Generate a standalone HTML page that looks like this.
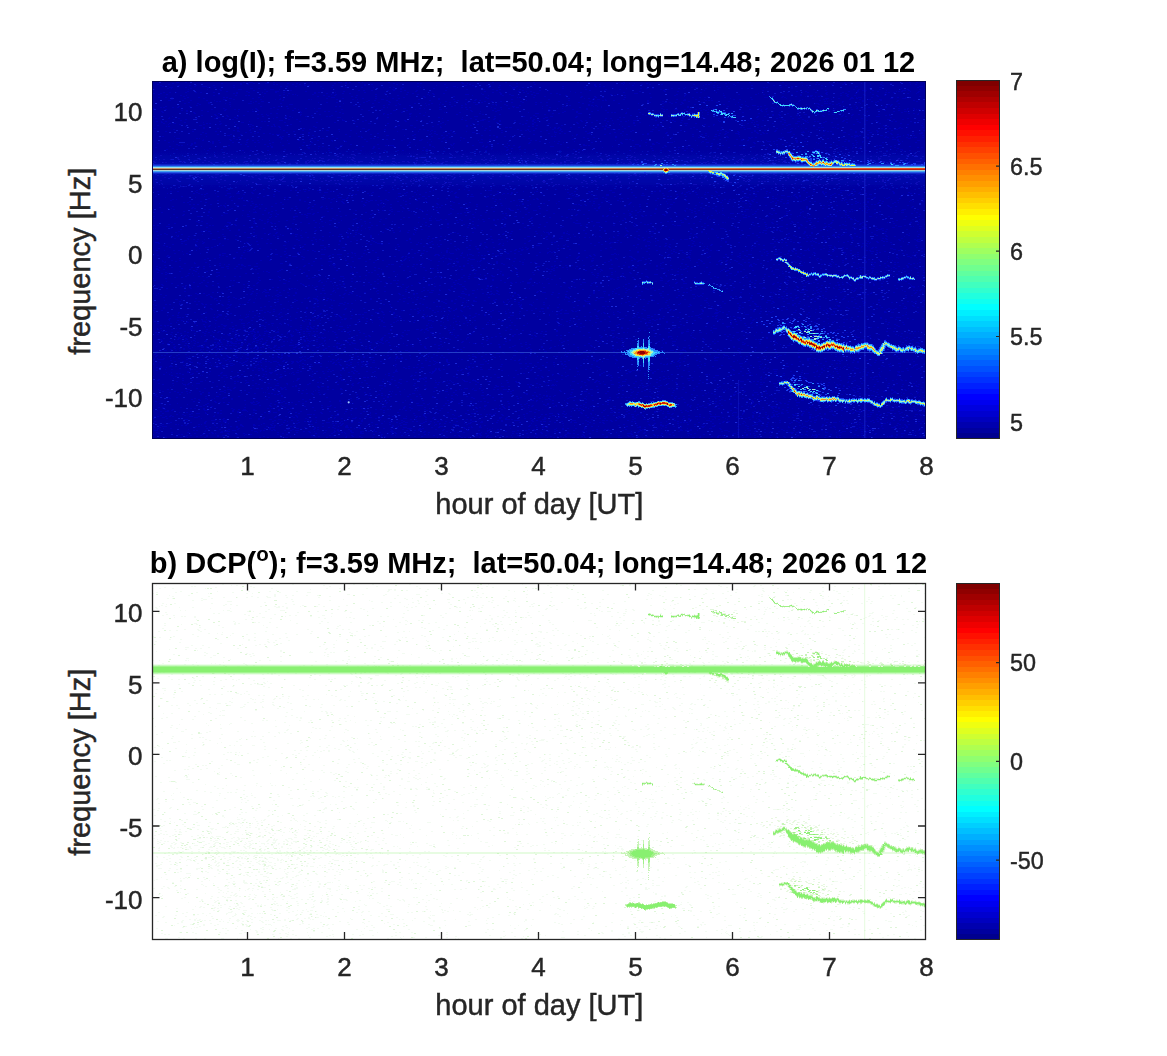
<!DOCTYPE html>
<html><head><meta charset="utf-8"><style>
html,body{margin:0;padding:0;background:#fff;width:1167px;height:1056px;overflow:hidden}
svg{position:absolute;left:0;top:0}
text{font-family:"Liberation Sans",sans-serif;fill:#262626}
.t{font-weight:bold;fill:#000;font-size:29px}
.tk{font-size:26px;stroke:#262626;stroke-width:0.45px}
.lb{font-size:29px;stroke:#262626;stroke-width:0.45px}
.cb{font-size:23.4px;stroke:#262626;stroke-width:0.4px}
</style></head><body>
<svg width="1167" height="1056" viewBox="0 0 1167 1056">
<defs>
<linearGradient id="jetg" x1="0" y1="1" x2="0" y2="0">
<stop offset="0.00000" stop-color="#00008f"/><stop offset="0.01562" stop-color="#00008f"/>
<stop offset="0.01562" stop-color="#00009f"/><stop offset="0.03125" stop-color="#00009f"/>
<stop offset="0.03125" stop-color="#0000af"/><stop offset="0.04688" stop-color="#0000af"/>
<stop offset="0.04688" stop-color="#0000bf"/><stop offset="0.06250" stop-color="#0000bf"/>
<stop offset="0.06250" stop-color="#0000cf"/><stop offset="0.07812" stop-color="#0000cf"/>
<stop offset="0.07812" stop-color="#0000df"/><stop offset="0.09375" stop-color="#0000df"/>
<stop offset="0.09375" stop-color="#0000ef"/><stop offset="0.10938" stop-color="#0000ef"/>
<stop offset="0.10938" stop-color="#0000ff"/><stop offset="0.12500" stop-color="#0000ff"/>
<stop offset="0.12500" stop-color="#0010ff"/><stop offset="0.14062" stop-color="#0010ff"/>
<stop offset="0.14062" stop-color="#0020ff"/><stop offset="0.15625" stop-color="#0020ff"/>
<stop offset="0.15625" stop-color="#0030ff"/><stop offset="0.17188" stop-color="#0030ff"/>
<stop offset="0.17188" stop-color="#0040ff"/><stop offset="0.18750" stop-color="#0040ff"/>
<stop offset="0.18750" stop-color="#0050ff"/><stop offset="0.20312" stop-color="#0050ff"/>
<stop offset="0.20312" stop-color="#0060ff"/><stop offset="0.21875" stop-color="#0060ff"/>
<stop offset="0.21875" stop-color="#0070ff"/><stop offset="0.23438" stop-color="#0070ff"/>
<stop offset="0.23438" stop-color="#0080ff"/><stop offset="0.25000" stop-color="#0080ff"/>
<stop offset="0.25000" stop-color="#008fff"/><stop offset="0.26562" stop-color="#008fff"/>
<stop offset="0.26562" stop-color="#009fff"/><stop offset="0.28125" stop-color="#009fff"/>
<stop offset="0.28125" stop-color="#00afff"/><stop offset="0.29688" stop-color="#00afff"/>
<stop offset="0.29688" stop-color="#00bfff"/><stop offset="0.31250" stop-color="#00bfff"/>
<stop offset="0.31250" stop-color="#00cfff"/><stop offset="0.32812" stop-color="#00cfff"/>
<stop offset="0.32812" stop-color="#00dfff"/><stop offset="0.34375" stop-color="#00dfff"/>
<stop offset="0.34375" stop-color="#00efff"/><stop offset="0.35938" stop-color="#00efff"/>
<stop offset="0.35938" stop-color="#00ffff"/><stop offset="0.37500" stop-color="#00ffff"/>
<stop offset="0.37500" stop-color="#10ffef"/><stop offset="0.39062" stop-color="#10ffef"/>
<stop offset="0.39062" stop-color="#20ffdf"/><stop offset="0.40625" stop-color="#20ffdf"/>
<stop offset="0.40625" stop-color="#30ffcf"/><stop offset="0.42188" stop-color="#30ffcf"/>
<stop offset="0.42188" stop-color="#40ffbf"/><stop offset="0.43750" stop-color="#40ffbf"/>
<stop offset="0.43750" stop-color="#50ffaf"/><stop offset="0.45312" stop-color="#50ffaf"/>
<stop offset="0.45312" stop-color="#60ff9f"/><stop offset="0.46875" stop-color="#60ff9f"/>
<stop offset="0.46875" stop-color="#70ff8f"/><stop offset="0.48438" stop-color="#70ff8f"/>
<stop offset="0.48438" stop-color="#80ff80"/><stop offset="0.50000" stop-color="#80ff80"/>
<stop offset="0.50000" stop-color="#8fff70"/><stop offset="0.51562" stop-color="#8fff70"/>
<stop offset="0.51562" stop-color="#9fff60"/><stop offset="0.53125" stop-color="#9fff60"/>
<stop offset="0.53125" stop-color="#afff50"/><stop offset="0.54688" stop-color="#afff50"/>
<stop offset="0.54688" stop-color="#bfff40"/><stop offset="0.56250" stop-color="#bfff40"/>
<stop offset="0.56250" stop-color="#cfff30"/><stop offset="0.57812" stop-color="#cfff30"/>
<stop offset="0.57812" stop-color="#dfff20"/><stop offset="0.59375" stop-color="#dfff20"/>
<stop offset="0.59375" stop-color="#efff10"/><stop offset="0.60938" stop-color="#efff10"/>
<stop offset="0.60938" stop-color="#ffff00"/><stop offset="0.62500" stop-color="#ffff00"/>
<stop offset="0.62500" stop-color="#ffef00"/><stop offset="0.64062" stop-color="#ffef00"/>
<stop offset="0.64062" stop-color="#ffdf00"/><stop offset="0.65625" stop-color="#ffdf00"/>
<stop offset="0.65625" stop-color="#ffcf00"/><stop offset="0.67188" stop-color="#ffcf00"/>
<stop offset="0.67188" stop-color="#ffbf00"/><stop offset="0.68750" stop-color="#ffbf00"/>
<stop offset="0.68750" stop-color="#ffaf00"/><stop offset="0.70312" stop-color="#ffaf00"/>
<stop offset="0.70312" stop-color="#ff9f00"/><stop offset="0.71875" stop-color="#ff9f00"/>
<stop offset="0.71875" stop-color="#ff8f00"/><stop offset="0.73438" stop-color="#ff8f00"/>
<stop offset="0.73438" stop-color="#ff8000"/><stop offset="0.75000" stop-color="#ff8000"/>
<stop offset="0.75000" stop-color="#ff7000"/><stop offset="0.76562" stop-color="#ff7000"/>
<stop offset="0.76562" stop-color="#ff6000"/><stop offset="0.78125" stop-color="#ff6000"/>
<stop offset="0.78125" stop-color="#ff5000"/><stop offset="0.79688" stop-color="#ff5000"/>
<stop offset="0.79688" stop-color="#ff4000"/><stop offset="0.81250" stop-color="#ff4000"/>
<stop offset="0.81250" stop-color="#ff3000"/><stop offset="0.82812" stop-color="#ff3000"/>
<stop offset="0.82812" stop-color="#ff2000"/><stop offset="0.84375" stop-color="#ff2000"/>
<stop offset="0.84375" stop-color="#ff1000"/><stop offset="0.85938" stop-color="#ff1000"/>
<stop offset="0.85938" stop-color="#ff0000"/><stop offset="0.87500" stop-color="#ff0000"/>
<stop offset="0.87500" stop-color="#ef0000"/><stop offset="0.89062" stop-color="#ef0000"/>
<stop offset="0.89062" stop-color="#df0000"/><stop offset="0.90625" stop-color="#df0000"/>
<stop offset="0.90625" stop-color="#cf0000"/><stop offset="0.92188" stop-color="#cf0000"/>
<stop offset="0.92188" stop-color="#bf0000"/><stop offset="0.93750" stop-color="#bf0000"/>
<stop offset="0.93750" stop-color="#af0000"/><stop offset="0.95312" stop-color="#af0000"/>
<stop offset="0.95312" stop-color="#9f0000"/><stop offset="0.96875" stop-color="#9f0000"/>
<stop offset="0.96875" stop-color="#8f0000"/><stop offset="0.98438" stop-color="#8f0000"/>
<stop offset="0.98438" stop-color="#800000"/><stop offset="1.00000" stop-color="#800000"/>
</linearGradient>
<linearGradient id="core1" x1="153" y1="0" x2="925" y2="0" gradientUnits="userSpaceOnUse"><stop offset="0" stop-color="#c89868"/><stop offset="0.55" stop-color="#d09860"/><stop offset="0.75" stop-color="#e07838"/><stop offset="1" stop-color="#f04818"/></linearGradient>
<linearGradient id="core2" x1="153" y1="0" x2="925" y2="0" gradientUnits="userSpaceOnUse"><stop offset="0" stop-color="#603020"/><stop offset="0.55" stop-color="#683020"/><stop offset="0.75" stop-color="#a03018"/><stop offset="1" stop-color="#c02010"/></linearGradient>
<filter id="soft" x="0" y="0" width="1" height="1"><feGaussianBlur stdDeviation="0.6"/></filter>
<filter id="soft2" x="0" y="0" width="1" height="1"><feGaussianBlur stdDeviation="0.7"/></filter>
<linearGradient id="haze" x1="0" y1="0" x2="0" y2="1"><stop offset="0" stop-color="#1030e0" stop-opacity="0"/><stop offset="0.475" stop-color="#1030e0" stop-opacity="0.3"/><stop offset="1" stop-color="#1030e0" stop-opacity="0"/></linearGradient>
<clipPath id="cpt"><rect x="153" y="82" width="772" height="356"/></clipPath>
<clipPath id="cpb"><rect x="153" y="584" width="772" height="355"/></clipPath>
</defs>
<rect x="152" y="81" width="774" height="358" fill="#0000a0"/>
<g clip-path="url(#cpt)">
<g filter="url(#soft2)">
<path d="M176 82.5h3m6 0h2m56 0h2m4 0h4m20 0h2m37 0h1m25 0h4m3 0h2m2 0h2m7 0h2m2 0h1m25 0h2m71 0h2m29 0h2m11 0h2m26 0h2m42 0h2m9 0h2m33 0h2m85 0h2m2 0h2m12 0h1m8 0h2m10 0h2m31 0h2m17 0h2m13 0h2m11 0h1m7 0h1m6 0h2m35 0h2m18 0h1m7 0h2m5 0h2M172 83.5h2m47 0h2m17 0h2m6 0h1m4 0h2m10 0h4m18 0h2m7 0h2m18 0h1m17 0h2m9 0h2m46 0h2m22 0h2m1 0h2m40 0h2m3 0h1m48 0h2m103 0h2m1 0h1m4 0h1m4 0h1m11 0h2m77 0h2m41 0h2m74 0h2m15 0h1m28 0h2M157 84.5h2m9 0h2m70 0h2m5 0h2m24 0h2m1 0h2m14 0h2m5 0h2m3 0h1m59 0h2m5 0h2m23 0h2m46 0h2m23 0h2m7 0h1m55 0h2m58 0h2m3 0h2m22 0h1m17 0h2m6 0h2m10 0h2m30 0h2m10 0h2m1 0h2m23 0h2m80 0h2m1 0h2m11 0h2m9 0h2m26 0h1m9 0h2m28 0h1m4 0h2M160 85.5h2m16 0h2m9 0h2m4 0h2m16 0h2m18 0h2m69 0h2m2 0h2m22 0h2m12 0h1m17 0h2m70 0h1m27 0h3m5 0h2m12 0h2m1 0h2m8 0h2m8 0h2m83 0h2m36 0h2m69 0h1m9 0h2m2 0h1m17 0h1m15 0h2m20 0h2m6 0h1m3 0h2m15 0h1m3 0h2m13 0h2m26 0h1m32 0h2M162 86.5h2m30 0h2m6 0h5m73 0h2m4 0h2m7 0h2m23 0h2m18 0h1m76 0h2m34 0h3m55 0h1m4 0h2m44 0h2m31 0h2m2 0h2m2 0h2m121 0h2m63 0h2m4 0h1m28 0h1m28 0h3m61 0h4M169 87.5h4m12 0h2m20 0h2m1 0h1m3 0h2m17 0h2m96 0h2m12 0h2m14 0h2m10 0h1m9 0h1m5 0h2m2 0h2m7 0h2m16 0h1m2 0h1m22 0h2m9 0h1m17 0h1m12 0h2m8 0h2m12 0h4m6 0h2m8 0h1m51 0h2m99 0h1m5 0h2m2 0h3m15 0h2m2 0h4m42 0h2m1 0h2m12 0h2m9 0h2m15 0h1m46 0h1m23 0h3m35 0h2M167 88.5h2m2 0h1m18 0h2m58 0h3m5 0h2m62 0h2m76 0h2m31 0h2m77 0h3m47 0h2m49 0h1m12 0h1m13 0h2m4 0h2m4 0h2m17 0h2m5 0h2m3 0h2m20 0h2m21 0h2m11 0h2m4 0h2m4 0h1m37 0h2m28 0h2m46 0h1m31 0h1M154 89.5h1m33 0h1m18 0h1m11 0h2m17 0h4m22 0h2m4 0h4m5 0h1m54 0h1m57 0h4m4 0h2m64 0h2m15 0h2m7 0h2m5 0h2m18 0h2m64 0h2m18 0h2m12 0h2m39 0h2m2 0h1m2 0h2m33 0h1m14 0h2m94 0h2m38 0h2m3 0h2m19 0h2m19 0h1m6 0h2m10 0h2m3 0h1M220 90.5h2m31 0h2m30 0h2m3 0h2m66 0h2m3 0h2m6 0h2m14 0h2m4 0h2m9 0h2m10 0h2m27 0h2m49 0h2m24 0h2m15 0h2m7 0h1m40 0h2m13 0h1m58 0h2m39 0h1m10 0h1m46 0h2m54 0h1m6 0h2m30 0h2m3 0h5m5 0h2m12 0h1m15 0h4m2 0h2M187 91.5h2m37 0h2m18 0h2m18 0h2m7 0h4m26 0h2m36 0h2m55 0h2m13 0h2m67 0h2m32 0h2m6 0h1m3 0h2m38 0h1m68 0h2m23 0h2m11 0h2m117 0h2m7 0h2m41 0h2m7 0h2m5 0h2m11 0h2m17 0h1m1 0h2m1 0h2m7 0h1m7 0h2M163 92.5h2m4 0h2m5 0h1m8 0h2m8 0h2m3 0h2m11 0h2m21 0h2m10 0h2m12 0h1m12 0h2m6 0h2m29 0h2m2 0h2m15 0h1m28 0h2m41 0h2m20 0h1m62 0h2m5 0h2m22 0h2m8 0h2m40 0h1m4 0h2m41 0h2m71 0h2m2 0h2m14 0h1m46 0h1m23 0h2m13 0h1m4 0h2m6 0h2m9 0h2m14 0h2m13 0h1m12 0h1m14 0h2m1 0h2m3 0h2m22 0h2M153 93.5h2m5 0h2m71 0h2m1 0h2m26 0h2m22 0h2m24 0h2m10 0h2m4 0h2m8 0h2m5 0h2m33 0h2m26 0h2m18 0h2m9 0h2m36 0h1m18 0h2m25 0h2m7 0h3m11 0h2m4 0h2m76 0h4m11 0h2m72 0h1m34 0h1m23 0h2m41 0h2m13 0h2m3 0h2m8 0h2m50 0h2m7 0h1M158 94.5h2m6 0h2m50 0h2m63 0h2m7 0h2m1 0h1m16 0h2m17 0h1m3 0h2m38 0h2m29 0h2m9 0h2m8 0h2m4 0h2m30 0h4m13 0h2m16 0h2m7 0h2m8 0h1m11 0h2m26 0h2m49 0h2m6 0h1m57 0h2m7 0h2m51 0h2m15 0h2m6 0h2m3 0h2m21 0h2m7 0h2m24 0h2m19 0h2m14 0h2m7 0h2m10 0h1m1 0h1M180 95.5h2m4 0h1m26 0h2m20 0h2m8 0h2m1 0h2m29 0h2m6 0h1m9 0h1m25 0h2m9 0h2m20 0h2m39 0h2m30 0h1m42 0h1m15 0h1m13 0h2m7 0h3m20 0h2m29 0h2m47 0h2m8 0h2m48 0h2m8 0h2m37 0h2m49 0h2m24 0h2m5 0h2m1 0h3m7 0h2m18 0h2m4 0h2m6 0h2m8 0h2m10 0h2m6 0h2M183 96.5h2m78 0h1m53 0h2m9 0h2m21 0h2m22 0h2m10 0h1m35 0h2m28 0h2m89 0h2m35 0h2m11 0h2m88 0h1m22 0h2m62 0h1m10 0h2m11 0h2m8 0h1m4 0h2m3 0h1m2 0h2m27 0h2m28 0h2m40 0h2M158 97.5h2m5 0h2m4 0h2m14 0h2m9 0h2m23 0h2m1 0h2m30 0h2m71 0h4m20 0h2m46 0h2m19 0h2m59 0h2m30 0h1m1 0h2m12 0h2m45 0h2m13 0h2m5 0h2m20 0h2m24 0h2m40 0h2m5 0h2m3 0h2m18 0h2m24 0h2m12 0h4m13 0h2m1 0h2m48 0h1m16 0h2m3 0h1m1 0h4m9 0h2m20 0h1m3 0h2m6 0h2M184 98.5h2m17 0h2m24 0h3m20 0h2m26 0h1m45 0h2m14 0h2m18 0h2m11 0h2m15 0h2m4 0h2m38 0h2m47 0h2m33 0h2m44 0h2m14 0h1m3 0h2m3 0h2m116 0h1m18 0h1m55 0h1m25 0h2m11 0h4m9 0h2m10 0h4m2 0h2m32 0h3m9 0h4M171 99.5h2m50 0h3m7 0h2m25 0h2m13 0h1m3 0h2m2 0h1m24 0h2m1 0h1m24 0h2m14 0h2m3 0h1m23 0h3m34 0h2m18 0h2m13 0h2m10 0h2m8 0h2m34 0h2m35 0h2m42 0h1m1 0h1m2 0h3m5 0h1m17 0h2m51 0h2m6 0h2m9 0h2m7 0h1m28 0h2m4 0h2m10 0h2m16 0h2m31 0h1m20 0h2m1 0h1m4 0h1m17 0h2m8 0h2m7 0h3m8 0h3M168 100.5h3m11 0h2m6 0h2m14 0h2m6 0h1m67 0h2m84 0h2m4 0h2m10 0h2m8 0h2m31 0h2m26 0h2m15 0h2m3 0h2m45 0h1m41 0h2m32 0h2m1 0h2m6 0h2m32 0h2m34 0h3m19 0h2m1 0h2m1 0h2m76 0h2m8 0h2m18 0h2m41 0h2m16 0h2m15 0h2m14 0h2M216 101.5h2m1 0h2m29 0h2m3 0h2m4 0h3m102 0h2m20 0h2m55 0h2m7 0h2m14 0h1m13 0h2m5 0h2m7 0h2m18 0h2m36 0h2m29 0h2m56 0h2m13 0h2m24 0h2m38 0h2m15 0h1m32 0h2m18 0h2m24 0h2m1 0h1m3 0h1m10 0h2m18 0h2m7 0h2m4 0h2m17 0h2m18 0h2M188 102.5h2m18 0h2m19 0h2m22 0h1m64 0h1m7 0h2m8 0h2m25 0h2m13 0h2m9 0h2m49 0h1m8 0h2m16 0h2m4 0h3m5 0h2m28 0h2m9 0h2m11 0h2m3 0h2m4 0h2m30 0h2m12 0h2m53 0h4m13 0h3m2 0h2m4 0h2m4 0h2m18 0h2m13 0h2m20 0h1m33 0h2m68 0h1m15 0h2m15 0h2M184 103.5h2m11 0h2m9 0h2m15 0h1m22 0h4m6 0h2m20 0h2m61 0h1m28 0h2m24 0h1m15 0h2m9 0h1m5 0h2m32 0h1m12 0h2m86 0h2m14 0h2m34 0h2m18 0h1m23 0h2m7 0h2m9 0h2m20 0h2m84 0h2m4 0h2m17 0h4m5 0h4m1 0h2m7 0h2m20 0h1m37 0h2M199 104.5h2m28 0h2m58 0h4m66 0h2m27 0h2m9 0h2m27 0h2m9 0h1m2 0h2m5 0h2m14 0h2m8 0h3m14 0h2m1 0h2m7 0h2m29 0h2m51 0h2m90 0h2m12 0h2m27 0h2m10 0h1m5 0h2m63 0h1m11 0h2m12 0h2m2 0h2m16 0h2m8 0h1m11 0h1m11 0h2m1 0h2M196 105.5h2m155 0h2m28 0h2m10 0h2m12 0h2m15 0h1m27 0h2m5 0h2m33 0h1m9 0h2m11 0h2m25 0h2m21 0h2m17 0h2m1 0h2m2 0h2m118 0h2m28 0h2m5 0h4m8 0h2m55 0h2m16 0h2m8 0h2m31 0h1m7 0h2M165 106.5h2m11 0h2m9 0h2m39 0h1m29 0h2m16 0h2m2 0h1m3 0h2m47 0h2m2 0h2m32 0h2m36 0h2m38 0h2m59 0h3m27 0h1m19 0h2m1 0h2m26 0h1m3 0h1m3 0h1m6 0h2m52 0h2m23 0h2m38 0h2m10 0h2m6 0h2m8 0h2m1 0h2m15 0h1m11 0h2m26 0h2m9 0h2m14 0h1m11 0h1m28 0h2m3 0h1m4 0h2m2 0h1M160 107.5h2m1 0h2m7 0h2m3 0h2m94 0h2m108 0h2m2 0h1m51 0h2m20 0h2m2 0h2m2 0h2m20 0h1m8 0h2m11 0h1m2 0h3m30 0h2m28 0h2m20 0h1m74 0h1m10 0h2m12 0h1m4 0h2m1 0h1m61 0h2m45 0h2m26 0h2m2 0h2m5 0h1m2 0h1m7 0h2m15 0h2M153 108.5h2m68 0h2m30 0h2m13 0h2m15 0h2m5 0h2m9 0h2m7 0h1m3 0h3m82 0h3m13 0h2m3 0h1m21 0h1m47 0h2m12 0h2m32 0h1m14 0h1m4 0h1m23 0h2m39 0h2m15 0h2m15 0h2m36 0h2m11 0h2m44 0h2m6 0h2m5 0h2m13 0h2m1 0h2m9 0h1m31 0h2m8 0h2m10 0h2m6 0h2m14 0h2m16 0h2m7 0h2m4 0h2M153 109.5h1m11 0h2m44 0h2m12 0h2m7 0h2m2 0h2m12 0h1m3 0h2m19 0h2m19 0h1m42 0h2m18 0h2m12 0h2m4 0h2m14 0h1m17 0h1m23 0h3m24 0h2m33 0h1m46 0h2m22 0h2m12 0h2m50 0h2m23 0h2m1 0h2m6 0h4m6 0h2m3 0h2m4 0h2m6 0h2m3 0h1m40 0h2m10 0h1m3 0h2m40 0h2m11 0h1m30 0h2m9 0h2m13 0h3m24 0h2m1 0h1m6 0h1m1 0h1m1 0h2M181 110.5h2m3 0h2m13 0h2m21 0h2m31 0h2m33 0h2m74 0h2m23 0h3m10 0h2m62 0h2m20 0h2m3 0h3m50 0h1m46 0h2m6 0h2m93 0h2m3 0h2m4 0h2m7 0h2m9 0h2m27 0h2m48 0h2m14 0h2m4 0h1m51 0h2m12 0h2m14 0h1M161 111.5h2m23 0h2m19 0h2m29 0h1m8 0h2m3 0h2m45 0h2m15 0h2m6 0h2m2 0h2m5 0h2m65 0h1m68 0h2m7 0h1m14 0h2m51 0h2m14 0h2m10 0h2m13 0h2m70 0h2m55 0h1m8 0h2m30 0h2m3 0h1m6 0h1m23 0h2m68 0h1m25 0h2m9 0h3m2 0h1M162 112.5h2m29 0h2m105 0h2m37 0h2m60 0h2m22 0h1m18 0h1m2 0h1m11 0h2m67 0h1m33 0h2m12 0h2m29 0h2m2 0h2m1 0h2m10 0h1m12 0h2m49 0h3m4 0h2m3 0h1m4 0h2m5 0h2m10 0h1m2 0h1m12 0h2m35 0h2m43 0h2m6 0h1m1 0h1m66 0h2M194 113.5h2m22 0h2m50 0h2m4 0h2m64 0h2m39 0h2m5 0h2m17 0h3m7 0h2m58 0h2m54 0h4m13 0h2m4 0h2m18 0h4m43 0h2m51 0h2m34 0h2m42 0h2m27 0h2m27 0h2m22 0h2m66 0h2m3 0h2m3 0h1M189 114.5h1m24 0h2m41 0h2m2 0h2m3 0h1m33 0h2m17 0h2m62 0h1m3 0h2m20 0h2m45 0h2m24 0h2m15 0h2m43 0h2m44 0h1m51 0h2m16 0h1m1 0h1m14 0h2m28 0h2m9 0h2m47 0h2m3 0h2m4 0h2m17 0h2m5 0h3m10 0h2m9 0h2m2 0h3m3 0h1m4 0h1m8 0h2m4 0h2m3 0h1m14 0h2m9 0h1m27 0h2M201 115.5h2m12 0h2m9 0h2m10 0h1m4 0h2m22 0h2m17 0h1m13 0h1m10 0h2m18 0h2m90 0h2m108 0h2m95 0h2m13 0h2m21 0h1m10 0h2m21 0h1m11 0h2m56 0h2m5 0h2m15 0h2m2 0h1m21 0h2m18 0h2m7 0h2m32 0h2m2 0h2M153 116.5h2m17 0h1m39 0h1m4 0h1m9 0h2m8 0h2m23 0h2m21 0h2m2 0h2m14 0h2m19 0h2m1 0h2m78 0h2m5 0h1m57 0h4m16 0h2m27 0h2m10 0h2m13 0h3m23 0h2m90 0h2m74 0h1m12 0h2m5 0h2m24 0h2m31 0h2m16 0h2m2 0h2m19 0h2m8 0h4m44 0h1M169 117.5h1m46 0h4m14 0h2m40 0h2m6 0h2m6 0h1m44 0h4m11 0h1m25 0h1m8 0h2m49 0h2m22 0h1m67 0h2m13 0h3m27 0h2m12 0h2m28 0h2m2 0h2m25 0h1m31 0h2m17 0h3m37 0h2m13 0h2m21 0h2m19 0h2m49 0h1m38 0h2M155 118.5h2m11 0h2m8 0h2m16 0h2m16 0h2m9 0h2m9 0h2m19 0h2m14 0h1m135 0h1m32 0h1m27 0h2m22 0h2m34 0h1m12 0h2m60 0h2m3 0h2m25 0h1m1 0h2m41 0h2m5 0h2m14 0h1m12 0h2m11 0h2m43 0h2m14 0h2m4 0h2m33 0h2m1 0h2m23 0h2m44 0h2M173 119.5h2m10 0h2m45 0h2m54 0h2m6 0h2m8 0h1m14 0h1m20 0h1m33 0h2m83 0h2m12 0h2m5 0h4m7 0h2m38 0h2m12 0h2m68 0h2m32 0h2m34 0h1m6 0h1m2 0h2m26 0h1m5 0h2m17 0h2m30 0h2m18 0h2m10 0h1m31 0h2m8 0h2m29 0h3m3 0h2m7 0h2M180 120.5h2m97 0h4m59 0h3m9 0h1m10 0h2m37 0h2m10 0h2m4 0h1m24 0h2m16 0h2m13 0h4m15 0h2m13 0h2m10 0h2m4 0h2m3 0h2m41 0h2m3 0h2m9 0h2m6 0h2m6 0h1m15 0h1m4 0h4m18 0h2m5 0h2m6 0h1m1 0h2m7 0h2m35 0h1m23 0h2m4 0h1m3 0h2m8 0h2m20 0h2m18 0h2m1 0h1m35 0h2m21 0h2m7 0h2m41 0h2M156 121.5h2m3 0h1m3 0h2m52 0h2m28 0h1m11 0h2m1 0h2m33 0h2m53 0h2m6 0h2m41 0h2m22 0h1m58 0h2m9 0h2m31 0h2m6 0h1m40 0h2m24 0h2m11 0h2m3 0h2m42 0h2m3 0h2m43 0h2m21 0h2m12 0h2m22 0h2m15 0h3m5 0h2m7 0h2m1 0h2m6 0h2m15 0h2m13 0h2m18 0h2m12 0h2m2 0h2m13 0h2M161 122.5h2m21 0h2m17 0h1m30 0h1m6 0h3m40 0h2m30 0h2m16 0h2m106 0h2m52 0h2m36 0h2m40 0h2m13 0h2m40 0h2m4 0h2m39 0h2m69 0h2m1 0h1m29 0h2m21 0h2m14 0h2m6 0h2m13 0h2m11 0h2M163 123.5h2m4 0h2m2 0h3m30 0h2m1 0h2m9 0h2m146 0h3m16 0h2m39 0h1m11 0h2m30 0h2m45 0h2m4 0h2m5 0h2m14 0h2m5 0h1m21 0h2m6 0h2m19 0h1m6 0h1m19 0h2m49 0h4m7 0h2m44 0h2m4 0h2m23 0h2m21 0h3m6 0h1m16 0h1m57 0h2m19 0h2m12 0h2m6 0h1M168 124.5h1m10 0h2m22 0h2m11 0h1m2 0h2m14 0h2m12 0h3m21 0h2m15 0h2m145 0h2m6 0h1m31 0h2m22 0h1m20 0h2m8 0h2m73 0h1m11 0h1m37 0h2m1 0h2m42 0h2m7 0h2m38 0h2m1 0h3m23 0h2m4 0h3m10 0h1m35 0h2m14 0h2m9 0h2m41 0h2M157 125.5h2m40 0h3m50 0h2m13 0h2m5 0h1m10 0h2m1 0h1m97 0h1m11 0h2m10 0h3m53 0h2m2 0h2m64 0h2m8 0h1m14 0h2m23 0h1m18 0h2m27 0h2m13 0h1m4 0h1m2 0h2m2 0h2m16 0h1m5 0h2m16 0h1m9 0h1m29 0h2m12 0h2m27 0h2m33 0h1m61 0h2m36 0h2M166 126.5h1m1 0h2m15 0h2m62 0h2m20 0h2m1 0h2m2 0h2m33 0h2m41 0h2m74 0h2m6 0h1m25 0h2m14 0h1m6 0h2m37 0h2m2 0h2m68 0h2m1 0h2m15 0h1m5 0h2m78 0h2m51 0h2m35 0h1m14 0h2m69 0h2m1 0h2M203 127.5h2m32 0h2m21 0h2m17 0h2m34 0h2m77 0h2m18 0h2m24 0h2m63 0h3m1 0h3m38 0h1m3 0h2m2 0h2m10 0h2m6 0h2m4 0h1m6 0h2m14 0h3m45 0h2m12 0h2m22 0h2m26 0h2m17 0h2m1 0h2m12 0h2m59 0h2m1 0h3m8 0h2m1 0h1m63 0h2m6 0h1m14 0h2M154 128.5h2m47 0h2m12 0h2m18 0h2m13 0h2m49 0h2m57 0h3m107 0h2m11 0h2m48 0h2m17 0h2m1 0h2m1 0h1m36 0h2m5 0h2m18 0h2m38 0h2m24 0h2m55 0h4m17 0h1m7 0h2m6 0h2m5 0h2m2 0h1m5 0h1m3 0h2m30 0h2m42 0h2m6 0h2m7 0h2m1 0h2M173 129.5h2m17 0h2m56 0h1m8 0h2m19 0h1m19 0h1m8 0h2m27 0h2m28 0h2m14 0h2m16 0h2m15 0h2m2 0h2m51 0h1m40 0h2m8 0h2m23 0h2m6 0h2m32 0h1m9 0h2m5 0h2m2 0h1m2 0h2m32 0h2m42 0h2m31 0h2m13 0h2m22 0h1m13 0h1m7 0h1m25 0h2m32 0h2m32 0h2m8 0h4M233 130.5h2m2 0h2m10 0h2m32 0h2m17 0h2m18 0h1m3 0h3m21 0h2m15 0h2m58 0h2m2 0h2m17 0h2m32 0h2m3 0h2m10 0h2m17 0h2m3 0h2m1 0h1m4 0h2m11 0h2m11 0h2m71 0h2m24 0h2m20 0h2m35 0h2m1 0h2m32 0h2m8 0h2m9 0h2m43 0h1m3 0h2m41 0h3m6 0h2m13 0h2m27 0h1m2 0h2M165 131.5h2m25 0h2m21 0h2m4 0h1m15 0h3m53 0h2m44 0h1m21 0h1m23 0h1m11 0h1m15 0h1m4 0h1m11 0h1m3 0h2m30 0h1m62 0h2m9 0h2m12 0h1m6 0h2m5 0h1m16 0h2m35 0h2m6 0h2m18 0h3m32 0h1m39 0h2m10 0h2m15 0h2m18 0h2m14 0h2m11 0h1m4 0h1m14 0h2m2 0h2m1 0h2m23 0h2m20 0h2m8 0h2M202 132.5h2m41 0h2m3 0h2m5 0h2m27 0h2m20 0h2m133 0h2m7 0h2m18 0h3m26 0h2m51 0h3m32 0h2m23 0h2m50 0h2m59 0h2m9 0h2m11 0h2m3 0h2m4 0h2m23 0h4m10 0h4m38 0h3m9 0h2m6 0h1m5 0h3m5 0h1m43 0h2M179 133.5h1m25 0h2m47 0h2m7 0h2m4 0h2m37 0h2m46 0h1m20 0h2m52 0h1m2 0h2m12 0h2m4 0h2m22 0h2m68 0h2m9 0h2m3 0h2m21 0h4m18 0h2m9 0h2m25 0h2m16 0h2m6 0h1m31 0h2m12 0h2m4 0h2m8 0h4m18 0h2m4 0h2m1 0h2m13 0h1m37 0h1m12 0h2m56 0h2m20 0h2m5 0h4M200 134.5h2m15 0h2m11 0h2m8 0h2m30 0h2m2 0h4m20 0h2m43 0h2m23 0h2m42 0h2m13 0h2m5 0h2m95 0h2m20 0h1m20 0h2m14 0h1m11 0h2m20 0h2m14 0h2m3 0h2m18 0h2m23 0h2m7 0h2m12 0h2m7 0h2m12 0h2m20 0h2m31 0h2m14 0h2m37 0h2m17 0h2m6 0h1m15 0h2m4 0h2m8 0h2M227 135.5h3m4 0h1m74 0h1m2 0h2m72 0h3m15 0h1m7 0h2m27 0h2m3 0h2m33 0h2m6 0h2m2 0h2m20 0h1m56 0h1m3 0h1m45 0h1m76 0h2m4 0h2m11 0h2m103 0h2m29 0h4m1 0h2m19 0h3m20 0h1m4 0h1m4 0h2m7 0h2M162 136.5h2m10 0h1m31 0h1m73 0h1m1 0h2m4 0h2m4 0h2m36 0h2m15 0h2m7 0h2m1 0h1m69 0h2m63 0h2m6 0h2m4 0h1m12 0h2m26 0h2m1 0h2m59 0h2m75 0h2m8 0h2m4 0h1m5 0h3m9 0h2m11 0h1m52 0h2m57 0h2m2 0h4m6 0h2m18 0h2m10 0h4M238 137.5h2m39 0h3m32 0h2m45 0h2m14 0h2m35 0h2m27 0h2m4 0h2m9 0h2m34 0h2m14 0h1m27 0h2m41 0h2m8 0h2m20 0h2m46 0h1m7 0h2m25 0h2m27 0h2m19 0h2m1 0h2m2 0h2m25 0h2m12 0h1m44 0h2m11 0h2m11 0h2m15 0h2m1 0h2m3 0h2m2 0h2m8 0h2m2 0h1m1 0h1m1 0h3m5 0h2M176 138.5h4m16 0h2m1 0h1m33 0h2m46 0h2m37 0h1m1 0h2m12 0h2m32 0h2m1 0h2m63 0h2m2 0h2m19 0h2m63 0h2m57 0h2m10 0h1m71 0h1m77 0h2m27 0h4m23 0h2m14 0h2m4 0h2m2 0h1m4 0h1m30 0h2m39 0h3M203 139.5h1m25 0h2m5 0h2m9 0h2m13 0h1m18 0h1m17 0h1m9 0h2m53 0h2m20 0h2m27 0h1m5 0h2m6 0h2m50 0h2m6 0h2m81 0h2m51 0h3m1 0h2m15 0h2m57 0h2m6 0h2m4 0h2m15 0h2m3 0h2m1 0h1m3 0h1m34 0h2m60 0h2m45 0h4m1 0h2M164 140.5h2m36 0h2m14 0h2m10 0h2m14 0h2m4 0h2m3 0h2m10 0h1m17 0h1m10 0h2m17 0h2m12 0h2m10 0h2m56 0h2m16 0h3m23 0h2m13 0h1m17 0h1m51 0h2m3 0h2m78 0h1m16 0h2m7 0h1m44 0h1m8 0h1m30 0h1m14 0h2m4 0h2m17 0h1m9 0h2m17 0h3m40 0h2m8 0h2m5 0h2m40 0h2m18 0h3M173 141.5h1m38 0h2m97 0h1m20 0h1m12 0h2m19 0h2m63 0h1m9 0h2m65 0h2m29 0h2m13 0h1m3 0h2m14 0h1m26 0h1m72 0h1m27 0h2m55 0h2m6 0h4m2 0h2m21 0h2m6 0h2m2 0h1m11 0h1m23 0h2m2 0h2m12 0h2m34 0h2m2 0h1M168 142.5h2m24 0h2m14 0h1m1 0h2m5 0h2m11 0h2m12 0h2m6 0h2m2 0h2m12 0h2m6 0h1m22 0h2m6 0h2m96 0h2m16 0h1m51 0h4m4 0h2m40 0h2m18 0h1m13 0h1m27 0h2m27 0h2m23 0h2m9 0h2m11 0h4m28 0h1m4 0h3m44 0h2m9 0h1m21 0h2m8 0h2m18 0h1m17 0h1m21 0h2m4 0h1m19 0h2m31 0h2M157 143.5h2m32 0h2m1 0h2m16 0h2m55 0h2m17 0h2m163 0h2m42 0h2m8 0h1m20 0h2m27 0h2m62 0h2m29 0h2m4 0h2m51 0h2m41 0h2m18 0h1m18 0h1m24 0h1m33 0h2m44 0h3M176 144.5h2m9 0h1m3 0h2m47 0h2m3 0h2m17 0h2m43 0h2m39 0h2m25 0h2m29 0h2m19 0h2m19 0h2m1 0h1m35 0h2m69 0h2m21 0h2m50 0h4m13 0h3m62 0h2m51 0h1m5 0h2m4 0h2m22 0h2m22 0h2m24 0h1M178 145.5h2m1 0h2m7 0h2m36 0h2m40 0h1m11 0h2m18 0h2m4 0h2m30 0h3m42 0h2m2 0h5m14 0h1m6 0h1m13 0h2m20 0h2m19 0h2m9 0h1m7 0h2m15 0h2m3 0h2m68 0h4m1 0h2m49 0h2m5 0h1m17 0h2m24 0h1m6 0h1m13 0h2m9 0h2m10 0h2m3 0h5m1 0h2m14 0h2m25 0h1m11 0h2m34 0h2m15 0h2m12 0h1m8 0h2m1 0h3m12 0h2M169 146.5h2m26 0h1m3 0h1m14 0h1m30 0h2m6 0h1m11 0h2m2 0h2m45 0h2m2 0h2m38 0h2m9 0h2m18 0h2m37 0h2m48 0h2m2 0h2m16 0h2m13 0h2m29 0h4m26 0h2m30 0h1m5 0h1m14 0h2m4 0h2m9 0h2m13 0h2m19 0h2m18 0h2m44 0h3m22 0h1m10 0h2m52 0h2m16 0h2m28 0h2m17 0h2M155 147.5h2m66 0h2m46 0h2m26 0h2m6 0h3m25 0h2m2 0h2m32 0h2m48 0h2m9 0h1m9 0h1m8 0h1m31 0h2m19 0h2m10 0h2m47 0h2m33 0h1m59 0h2m14 0h2m48 0h2m36 0h2m28 0h2m27 0h1m3 0h1m8 0h2m5 0h2m5 0h2m5 0h2m3 0h1m29 0h2m21 0h2m2 0h2M172 148.5h2m35 0h2m97 0h2m8 0h1m9 0h2m42 0h2m4 0h2m65 0h2m44 0h2m18 0h2m121 0h2m15 0h2m29 0h2m2 0h2m3 0h2m17 0h2m5 0h2m24 0h2m54 0h2m13 0h1m37 0h1m5 0h2m19 0h2m16 0h2M166 149.5h2m8 0h2m26 0h1m16 0h2m61 0h2m50 0h2m11 0h1m5 0h2m61 0h1m7 0h2m47 0h1m15 0h1m15 0h2m10 0h2m3 0h2m8 0h2m37 0h2m3 0h2m13 0h1m82 0h1m1 0h1m14 0h1m70 0h1m17 0h2m21 0h2m9 0h4m19 0h1m7 0h2m27 0h2m13 0h1m8 0h3M207 150.5h2m33 0h2m6 0h2m15 0h2m59 0h2m30 0h2m22 0h2m11 0h2m3 0h2m18 0h2m1 0h4m56 0h2m19 0h2m51 0h2m22 0h1m45 0h2m21 0h2m6 0h2m6 0h2m14 0h2m5 0h2m90 0h2m30 0h2m2 0h1m5 0h2m38 0h2m19 0h2m8 0h1m5 0h1m6 0h2M236 151.5h2m23 0h2m51 0h2m2 0h1m27 0h2m4 0h2m32 0h2m7 0h2m29 0h2m15 0h2m10 0h4m15 0h2m3 0h2m4 0h2m24 0h1m45 0h5m55 0h2m23 0h1m4 0h2m20 0h2m20 0h2m5 0h2m27 0h2m21 0h1m25 0h1m13 0h1m8 0h2m32 0h3m4 0h2m10 0h2m7 0h2m16 0h3m4 0h2m12 0h2m2 0h2m11 0h3M214 152.5h1m7 0h3m19 0h1m57 0h3m21 0h1m2 0h3m42 0h2m10 0h2m68 0h2m12 0h4m5 0h1m4 0h3m37 0h2m19 0h2m12 0h2m17 0h2m16 0h2m36 0h1m25 0h2m48 0h2m1 0h1m21 0h1m36 0h2m30 0h2m9 0h4m3 0h2m2 0h2m9 0h2m9 0h2m6 0h2m18 0h2m37 0h2M173 153.5h2m12 0h2m17 0h2m18 0h2m29 0h2m32 0h1m23 0h1m23 0h2m17 0h3m10 0h2m6 0h2m28 0h1m16 0h2m2 0h4m8 0h2m5 0h2m37 0h2m19 0h2m24 0h2m35 0h2m49 0h2m49 0h2m20 0h1m12 0h2m78 0h2m5 0h1m28 0h2m15 0h1m2 0h1m37 0h3m6 0h4m18 0h2M192 154.5h1m21 0h1m8 0h2m6 0h2m21 0h1m12 0h1m18 0h2m6 0h1m3 0h3m14 0h2m19 0h2m4 0h2m7 0h4m42 0h1m18 0h2m32 0h2m10 0h2m16 0h2m6 0h2m42 0h2m41 0h2m28 0h2m7 0h2m24 0h2m40 0h2m36 0h1m19 0h3m5 0h2m6 0h2m9 0h2m36 0h4m10 0h2m5 0h1m12 0h2m6 0h2m40 0h2m17 0h2M160 155.5h2m8 0h1m11 0h1m31 0h2m48 0h2m9 0h2m51 0h2m4 0h1m1 0h1m5 0h2m10 0h2m54 0h2m40 0h1m21 0h2m16 0h2m27 0h1m13 0h1m20 0h2m2 0h1m38 0h2m26 0h4m22 0h2m13 0h2m45 0h1m29 0h1m9 0h2m4 0h1m22 0h1m44 0h2m3 0h2m7 0h2m61 0h3m4 0h1m1 0h2M214 156.5h2m12 0h2m55 0h2m18 0h2m30 0h2m40 0h2m7 0h1m18 0h2m5 0h1m46 0h2m3 0h2m23 0h1m69 0h1m2 0h5m19 0h2m7 0h2m7 0h2m23 0h2m21 0h2m9 0h2m11 0h2m24 0h2m3 0h2m4 0h1m7 0h2m18 0h2m27 0h2m4 0h2m14 0h2m26 0h2m8 0h2m11 0h2m6 0h2m15 0h2m4 0h1m3 0h2m6 0h2m32 0h2M177 157.5h2m10 0h1m19 0h2m5 0h2m5 0h2m11 0h1m7 0h2m73 0h2m19 0h2m5 0h1m1 0h2m1 0h2m11 0h2m4 0h1m7 0h2m35 0h2m1 0h2m9 0h1m3 0h2m16 0h1m1 0h2m28 0h1m10 0h1m13 0h1m3 0h3m20 0h2m5 0h1m2 0h2m12 0h1m13 0h2m2 0h2m7 0h2m41 0h2m2 0h2m31 0h2m3 0h2m13 0h2m8 0h2m1 0h2m11 0h2m2 0h2m6 0h2m26 0h2m11 0h2m7 0h2m5 0h2m25 0h2m4 0h3m10 0h2m7 0h2m39 0h1M177 158.5h2m18 0h1m7 0h2m41 0h2m7 0h2m6 0h2m2 0h1m12 0h2m28 0h1m1 0h2m5 0h3m29 0h2m18 0h1m18 0h3m20 0h1m15 0h2m9 0h2m23 0h2m1 0h2m18 0h2m22 0h1m12 0h2m9 0h2m1 0h4m3 0h2m5 0h1m10 0h1m10 0h2m21 0h2m8 0h2m43 0h1m6 0h2m36 0h2m18 0h1m5 0h2m13 0h2m14 0h1m37 0h2m22 0h1m2 0h2m9 0h3m8 0h1m5 0h2m15 0h2m9 0h3m17 0h2m20 0h2M156 159.5h1m2 0h1m3 0h2m5 0h1m8 0h1m19 0h2m30 0h2m43 0h2m50 0h2m2 0h2m3 0h2m12 0h2m25 0h2m45 0h2m9 0h1m44 0h2m2 0h2m9 0h1m11 0h3m30 0h2m9 0h4m36 0h1m8 0h2m18 0h2m5 0h3m3 0h2m1 0h2m37 0h2m15 0h2m44 0h2m37 0h2m1 0h2m6 0h2m30 0h2m7 0h2m15 0h2m21 0h2m6 0h2m9 0h2m6 0h2M189 160.5h1m4 0h4m6 0h2m44 0h2m7 0h1m13 0h1m33 0h2m1 0h4m7 0h2m4 0h2m16 0h1m1 0h1m4 0h2m62 0h2m6 0h3m30 0h2m11 0h2m11 0h2m4 0h4m1 0h2m6 0h2m20 0h2m1 0h2m6 0h1m30 0h4m28 0h2m1 0h2m4 0h2m26 0h2m10 0h2m3 0h1m15 0h4m6 0h2m33 0h2m23 0h1m3 0h2m10 0h2m6 0h2m7 0h1m3 0h2m7 0h2m4 0h2m18 0h2m8 0h2m3 0h2m30 0h2m14 0h2m30 0h2M153 161.5h2m26 0h1m1 0h2m8 0h2m13 0h2m12 0h2m10 0h1m9 0h2m15 0h1m1 0h2m3 0h2m11 0h3m15 0h1m5 0h2m2 0h2m2 0h2m2 0h1m1 0h1m16 0h2m11 0h1m4 0h2m2 0h5m14 0h1m14 0h3m7 0h3m2 0h2m36 0h3m17 0h2m8 0h2m13 0h1m14 0h1m3 0h2m4 0h4m3 0h1m8 0h2m32 0h1m14 0h2m3 0h3m41 0h2m21 0h3m5 0h2m14 0h2m6 0h2m4 0h2m15 0h2m27 0h2m3 0h1m18 0h2m16 0h2m5 0h1m8 0h1m1 0h2m3 0h2m7 0h2m9 0h2m2 0h2m4 0h2m2 0h2m1 0h2m5 0h2m15 0h3m3 0h4m2 0h2m5 0h4m4 0h2m4 0h2m12 0h1m6 0h5M154 162.5h2m7 0h1m1 0h2m5 0h2m8 0h1m13 0h2m4 0h2m6 0h2m6 0h1m6 0h2m5 0h1m1 0h2m7 0h2m21 0h2m11 0h1m15 0h3m7 0h2m1 0h2m4 0h2m42 0h2m9 0h2m14 0h1m9 0h1m2 0h2m8 0h2m6 0h1m5 0h2m9 0h2m2 0h2m3 0h2m7 0h2m3 0h1m9 0h5m16 0h2m11 0h2m20 0h1m3 0h1m8 0h2m2 0h2m19 0h2m2 0h2m4 0h3m44 0h2m2 0h1m8 0h2m4 0h2m14 0h2m10 0h1m1 0h2m19 0h2m9 0h3m2 0h4m8 0h2m20 0h2m2 0h2m19 0h2m8 0h2m8 0h1m1 0h1m11 0h2m8 0h2m7 0h2m6 0h2m8 0h2m16 0h2m3 0h1m21 0h2m6 0h2m21 0h1M211 163.5h2m17 0h1m14 0h4m4 0h1m23 0h1m1 0h2m4 0h1m3 0h2m14 0h3m26 0h1m11 0h2m6 0h2m16 0h1m2 0h3m1 0h2m10 0h2m3 0h1m18 0h2m9 0h2m7 0h6m23 0h2m8 0h2m1 0h4m10 0h3m27 0h2m4 0h1m15 0h2m6 0h1m4 0h2m2 0h2m33 0h1m4 0h2m21 0h2m3 0h4m8 0h4m10 0h1m1 0h1m12 0h1m26 0h2m7 0h1m2 0h2m25 0h1m4 0h2m8 0h2m8 0h2m2 0h5m1 0h2m17 0h2m5 0h2m1 0h1m1 0h2m6 0h1m10 0h2m18 0h2m5 0h2m2 0h2m17 0h2m4 0h3m8 0h2m1 0h1m2 0h2m18 0h2m8 0h1M153 164.5h2m4 0h2m11 0h3m2 0h3m14 0h2m3 0h2m4 0h1m2 0h2m10 0h2m4 0h2m4 0h2m1 0h2m2 0h2m1 0h2m1 0h2m1 0h1m19 0h2m8 0h1m3 0h3m15 0h2m9 0h2m8 0h1m5 0h2m20 0h3m16 0h1m2 0h2m1 0h2m42 0h2m2 0h2m4 0h2m11 0h2m4 0h1m7 0h2m9 0h2m2 0h4m13 0h2m4 0h4m5 0h2m3 0h1m6 0h2m1 0h1m4 0h3m21 0h2m2 0h2m2 0h2m11 0h2m2 0h2m20 0h1m14 0h3m1 0h2m2 0h4m10 0h2m3 0h2m10 0h1m2 0h1m6 0h1m2 0h1m1 0h4m5 0h4m2 0h2m3 0h3m4 0h2m8 0h2m5 0h1m10 0h5m2 0h1m16 0h2m4 0h1m6 0h2m19 0h2m13 0h1m10 0h2m28 0h2m15 0h2m6 0h3m26 0h2m7 0h1m16 0h2m6 0h2M155 165.5h1m1 0h2m45 0h2m15 0h1m11 0h1m23 0h2m1 0h1m1 0h2m21 0h1m6 0h2m2 0h2m4 0h2m17 0h2m1 0h2m5 0h2m9 0h2m2 0h2m1 0h2m9 0h2m3 0h2m2 0h1m2 0h2m5 0h2m10 0h6m15 0h1m4 0h2m3 0h2m8 0h3m4 0h2m2 0h2m1 0h2m6 0h1m8 0h5m2 0h2m8 0h2m3 0h4m24 0h2m53 0h1m18 0h4m5 0h3m4 0h2m8 0h2m7 0h2m20 0h2m9 0h2m8 0h4m16 0h2m4 0h2m10 0h2m31 0h2m3 0h2m5 0h2m8 0h2m3 0h4m5 0h3m13 0h1m6 0h2m5 0h2m2 0h2m3 0h1m2 0h2m2 0h3m11 0h2m5 0h2m4 0h1m8 0h2m1 0h2m10 0h3m1 0h3m16 0h2m2 0h2m4 0h3m7 0h1m9 0h2M157 166.5h2m4 0h1m14 0h1m2 0h2m38 0h4m15 0h1m10 0h1m16 0h2m18 0h3m5 0h1m1 0h2m4 0h2m3 0h2m7 0h3m15 0h2m12 0h3m5 0h2m15 0h2m14 0h2m2 0h1m2 0h3m9 0h2m1 0h1m7 0h2m6 0h2m3 0h3m29 0h2m11 0h2m2 0h3m13 0h2m9 0h1m9 0h3m5 0h2m1 0h2m29 0h2m1 0h2m4 0h3m17 0h1m14 0h2m5 0h2m3 0h2m14 0h2m2 0h2m10 0h2m14 0h3m1 0h2m4 0h2m10 0h1m8 0h3m4 0h2m5 0h3m19 0h2m1 0h1m2 0h2m11 0h2m10 0h1m2 0h3m23 0h2m3 0h2m2 0h3m1 0h2m7 0h3m14 0h2m12 0h5m1 0h1m16 0h2m1 0h3m2 0h2m2 0h2m8 0h3m9 0h2m16 0h3M156 167.5h4m18 0h4m1 0h2m1 0h2m8 0h2m4 0h3m17 0h2m4 0h3m4 0h2m7 0h2m6 0h2m2 0h2m13 0h1m14 0h2m8 0h2m1 0h2m37 0h2m47 0h3m3 0h3m6 0h3m25 0h2m2 0h1m4 0h1m1 0h2m1 0h1m1 0h2m16 0h1m15 0h3m11 0h2m7 0h2m1 0h2m2 0h2m9 0h2m5 0h2m9 0h2m5 0h2m6 0h2m2 0h2m5 0h1m9 0h2m3 0h2m6 0h4m2 0h2m8 0h2m7 0h2m4 0h2m5 0h1m13 0h3m5 0h2m8 0h3m5 0h2m8 0h2m1 0h2m2 0h1m2 0h1m13 0h6m32 0h2m7 0h1m7 0h2m1 0h1m5 0h2m1 0h1m2 0h2m6 0h2m1 0h2m4 0h3m3 0h2m6 0h1m19 0h2m1 0h2m4 0h2m1 0h3m2 0h1m7 0h1m2 0h3m7 0h1m8 0h1m5 0h2m11 0h3m2 0h1m2 0h1m2 0h2m3 0h2m5 0h1m1 0h1M158 168.5h2m13 0h1m4 0h2m6 0h2m2 0h2m12 0h4m26 0h2m4 0h2m8 0h2m1 0h3m1 0h2m2 0h4m2 0h2m9 0h2m3 0h1m19 0h3m11 0h2m1 0h2m6 0h2m4 0h2m2 0h2m33 0h1m8 0h4m1 0h2m3 0h2m8 0h1m1 0h2m13 0h4m4 0h2m2 0h2m5 0h1m2 0h2m10 0h1m37 0h2m2 0h3m1 0h1m23 0h1m5 0h1m8 0h2m2 0h2m30 0h2m2 0h1m5 0h2m8 0h2m3 0h2m4 0h2m2 0h1m3 0h1m2 0h1m9 0h3m3 0h1m15 0h6m2 0h3m1 0h2m12 0h2m8 0h1m12 0h2m6 0h2m6 0h2m15 0h2m5 0h4m11 0h3m2 0h2m8 0h2m4 0h2m19 0h3m5 0h2m3 0h3m1 0h2m1 0h1m14 0h1m23 0h2m12 0h3m3 0h4m7 0h3m3 0h2m3 0h1m3 0h1m2 0h3m6 0h2m7 0h2m1 0h2M163 169.5h3m13 0h3m11 0h2m20 0h4m3 0h2m4 0h1m15 0h1m1 0h1m6 0h2m2 0h2m1 0h2m2 0h2m7 0h2m5 0h2m11 0h2m1 0h6m7 0h2m4 0h2m2 0h1m1 0h1m3 0h1m4 0h1m7 0h1m1 0h2m20 0h1m4 0h2m13 0h1m4 0h2m5 0h2m2 0h2m2 0h2m10 0h2m4 0h1m12 0h2m3 0h2m11 0h2m12 0h1m2 0h2m10 0h3m13 0h3m14 0h2m6 0h1m5 0h2m2 0h2m2 0h2m1 0h2m1 0h2m10 0h2m6 0h1m11 0h1m7 0h2m2 0h2m31 0h3m3 0h3m5 0h2m2 0h2m10 0h2m4 0h2m2 0h2m5 0h1m13 0h2m1 0h2m40 0h1m26 0h1m2 0h2m2 0h3m2 0h1m2 0h4m10 0h1m1 0h1m1 0h3m17 0h1m11 0h1m2 0h4m4 0h2m4 0h4m21 0h3m6 0h2m2 0h2m3 0h1m3 0h2m1 0h4m8 0h2m17 0h1m6 0h2M156 170.5h2m8 0h2m1 0h1m23 0h4m3 0h1m2 0h1m1 0h1m13 0h2m3 0h2m1 0h2m1 0h3m3 0h2m17 0h1m5 0h4m11 0h2m2 0h9m5 0h2m4 0h3m3 0h5m3 0h5m3 0h2m11 0h3m6 0h2m34 0h2m3 0h2m15 0h4m2 0h2m18 0h2m13 0h1m9 0h2m6 0h2m22 0h1m15 0h1m7 0h2m5 0h2m3 0h2m11 0h2m5 0h2m6 0h6m3 0h1m15 0h1m27 0h2m8 0h5m18 0h2m1 0h2m1 0h1m1 0h3m13 0h2m2 0h2m7 0h2m10 0h2m5 0h3m5 0h3m7 0h1m4 0h2m4 0h2m12 0h1m2 0h2m1 0h1m3 0h2m12 0h1m6 0h2m11 0h1m12 0h1m1 0h1m2 0h2m1 0h2m2 0h2m13 0h2m16 0h1m3 0h2m2 0h2m6 0h3m4 0h2m5 0h2m8 0h2m6 0h2m2 0h2m2 0h2m11 0h2m1 0h1m2 0h2m8 0h1M156 171.5h2m7 0h2m6 0h2m8 0h1m10 0h2m1 0h5m5 0h2m15 0h2m16 0h1m6 0h4m4 0h3m3 0h2m11 0h2m7 0h2m3 0h2m12 0h2m5 0h2m2 0h2m12 0h2m10 0h1m41 0h2m1 0h2m5 0h3m3 0h2m1 0h1m4 0h2m11 0h2m4 0h2m23 0h6m14 0h2m1 0h2m12 0h2m10 0h1m2 0h3m15 0h3m21 0h6m3 0h2m3 0h1m17 0h2m3 0h2m3 0h3m20 0h6m6 0h2m2 0h2m26 0h2m4 0h1m4 0h4m13 0h1m4 0h2m2 0h2m4 0h1m7 0h1m3 0h2m1 0h3m2 0h2m2 0h2m4 0h3m3 0h4m10 0h2m22 0h2m10 0h1m2 0h2m1 0h3m1 0h3m4 0h2m3 0h2m4 0h2m7 0h3m25 0h2m1 0h2m16 0h1m2 0h2m1 0h4m1 0h1m9 0h1m8 0h2m12 0h2m2 0h1m5 0h2M155 172.5h4m13 0h2m3 0h2m3 0h1m7 0h2m5 0h2m5 0h4m2 0h1m42 0h1m9 0h2m7 0h2m3 0h2m5 0h3m2 0h2m2 0h2m8 0h1m3 0h5m2 0h1m9 0h1m3 0h2m6 0h3m4 0h2m3 0h2m4 0h1m32 0h2m22 0h2m6 0h1m10 0h1m6 0h2m24 0h2m13 0h1m2 0h2m5 0h1m6 0h2m5 0h1m3 0h2m2 0h2m5 0h2m5 0h1m8 0h2m31 0h2m3 0h2m14 0h2m21 0h5m5 0h2m2 0h3m4 0h2m2 0h2m3 0h2m9 0h2m13 0h2m4 0h2m17 0h2m4 0h2m3 0h2m1 0h2m15 0h3m3 0h2m12 0h2m29 0h1m2 0h1m3 0h3m3 0h1m12 0h1m5 0h2m3 0h2m9 0h2m2 0h3m8 0h1m11 0h3m11 0h1m6 0h1m7 0h3m3 0h1m1 0h5m5 0h2m6 0h2M166 173.5h3m16 0h2m14 0h3m17 0h1m4 0h1m5 0h3m3 0h2m9 0h2m4 0h1m1 0h2m1 0h3m10 0h5m1 0h2m10 0h1m27 0h4m5 0h1m3 0h2m7 0h2m6 0h2m9 0h2m10 0h2m11 0h2m1 0h2m1 0h2m19 0h2m5 0h3m17 0h2m4 0h2m3 0h2m2 0h2m16 0h1m1 0h1m6 0h1m7 0h2m27 0h1m9 0h1m6 0h2m7 0h2m3 0h1m18 0h2m14 0h2m5 0h3m11 0h3m7 0h1m11 0h2m14 0h1m7 0h1m29 0h1m10 0h2m1 0h3m8 0h2m10 0h2m1 0h1m24 0h1m2 0h2m10 0h1m8 0h2m1 0h4m4 0h2m23 0h2m9 0h4m7 0h1m4 0h4m9 0h2m6 0h2m3 0h3m12 0h1m5 0h2m9 0h2m1 0h2m1 0h5m3 0h2m14 0h2M153 174.5h1m1 0h2m7 0h3m2 0h2m2 0h2m21 0h3m16 0h4m5 0h2m13 0h1m19 0h2m21 0h1m28 0h2m20 0h2m14 0h2m10 0h2m2 0h1m18 0h2m3 0h1m7 0h1m16 0h4m4 0h2m3 0h3m1 0h2m20 0h2m4 0h1m32 0h2m6 0h2m31 0h3m11 0h1m29 0h2m24 0h1m24 0h2m3 0h4m2 0h1m7 0h1m9 0h2m13 0h1m14 0h2m4 0h2m18 0h6m11 0h1m2 0h1m6 0h2m5 0h2m3 0h1m14 0h2m4 0h2m6 0h2m5 0h2m13 0h2m5 0h2m3 0h2m7 0h2m34 0h1m21 0h2m9 0h2m6 0h2m1 0h2m10 0h4M157 175.5h2m3 0h2m27 0h2m14 0h2m12 0h2m4 0h2m16 0h2m8 0h2m27 0h1m12 0h2m3 0h2m9 0h1m13 0h2m9 0h3m8 0h2m9 0h1m11 0h1m2 0h2m1 0h3m17 0h2m26 0h2m4 0h2m15 0h2m54 0h2m6 0h1m26 0h2m11 0h1m2 0h2m11 0h2m14 0h1m12 0h2m6 0h1m23 0h2m3 0h2m26 0h1m11 0h2m25 0h1m1 0h3m7 0h2m3 0h2m20 0h6m16 0h4m8 0h2m10 0h2m4 0h2m16 0h2m17 0h2m3 0h1m28 0h2m41 0h2m2 0h2m10 0h1M189 176.5h2m3 0h2m1 0h2m12 0h2m7 0h2m26 0h2m1 0h2m15 0h6m8 0h2m43 0h1m13 0h2m3 0h1m7 0h2m8 0h2m4 0h2m21 0h2m1 0h2m7 0h2m16 0h2m4 0h2m11 0h1m8 0h2m6 0h2m26 0h2m3 0h2m5 0h2m4 0h3m8 0h2m6 0h2m9 0h2m58 0h2m19 0h2m10 0h2m9 0h2m3 0h1m12 0h2m18 0h1m11 0h1m26 0h2m9 0h2m7 0h1m3 0h2m6 0h5m8 0h2m4 0h2m44 0h2m4 0h1m27 0h2m7 0h2m2 0h2m1 0h2m13 0h2m18 0h2m4 0h2m2 0h1M164 177.5h2m4 0h2m8 0h2m17 0h2m8 0h1m2 0h2m1 0h2m35 0h2m10 0h2m67 0h1m18 0h2m3 0h2m5 0h1m30 0h2m18 0h2m3 0h2m3 0h3m5 0h4m5 0h2m1 0h2m8 0h1m16 0h3m14 0h1m27 0h2m47 0h2m4 0h1m107 0h2m1 0h2m5 0h2m12 0h2m14 0h2m10 0h1m30 0h2m4 0h2m16 0h2m22 0h3m6 0h2m2 0h2m13 0h2m3 0h2m9 0h1m2 0h1m8 0h4m7 0h1m1 0h2m1 0h2m1 0h2m6 0h1m10 0h5m4 0h2M186 178.5h4m68 0h2m4 0h4m30 0h4m18 0h1m2 0h1m42 0h2m32 0h1m12 0h1m16 0h2m2 0h2m1 0h2m6 0h2m6 0h2m15 0h2m47 0h2m9 0h1m19 0h4m21 0h2m40 0h2m10 0h1m41 0h2m7 0h2m12 0h2m3 0h2m3 0h1m20 0h1m1 0h2m10 0h1m11 0h2m5 0h2m13 0h2m4 0h1m8 0h1m6 0h2m25 0h2m9 0h2m2 0h2m22 0h2m11 0h2m23 0h2m14 0h2M155 179.5h2m19 0h2m19 0h1m22 0h2m37 0h2m18 0h2m20 0h1m11 0h2m27 0h1m9 0h1m3 0h1m15 0h2m6 0h2m12 0h2m6 0h2m7 0h1m2 0h1m1 0h1m1 0h4m26 0h1m3 0h2m8 0h2m4 0h2m61 0h2m15 0h2m26 0h2m24 0h2m6 0h2m4 0h2m42 0h1m74 0h2m30 0h2m8 0h1m21 0h1m7 0h1m8 0h2m11 0h1m10 0h3m21 0h2m16 0h2m4 0h2m7 0h4m9 0h2M160 180.5h2m15 0h2m16 0h2m19 0h2m6 0h2m14 0h1m5 0h2m28 0h2m2 0h2m10 0h1m22 0h3m7 0h2m3 0h2m2 0h2m1 0h2m3 0h2m34 0h1m15 0h2m14 0h1m2 0h2m67 0h1m35 0h1m7 0h2m55 0h2m9 0h2m94 0h1m16 0h1m35 0h2m2 0h1m1 0h2m34 0h2m27 0h1m16 0h2m5 0h2m13 0h2m2 0h2m23 0h2m1 0h1m9 0h2M178 181.5h1m58 0h1m30 0h2m1 0h1m10 0h4m9 0h2m24 0h2m5 0h2m17 0h2m11 0h2m48 0h2m5 0h1m1 0h1m6 0h1m17 0h1m17 0h2m48 0h2m14 0h1m13 0h4m39 0h2m6 0h1m1 0h2m22 0h2m59 0h2m33 0h2m7 0h2m19 0h2m2 0h1m8 0h2m1 0h2m1 0h2m7 0h1m30 0h1m57 0h2m15 0h1m2 0h2m34 0h2M218 182.5h2m16 0h1m15 0h2m37 0h2m90 0h2m7 0h2m42 0h2m10 0h4m91 0h2m6 0h2m28 0h2m8 0h2m26 0h2m8 0h1m71 0h2m11 0h2m13 0h3m5 0h2m108 0h1m68 0h2M161 183.5h2m172 0h2m1 0h2m65 0h2m5 0h2m30 0h2m37 0h2m7 0h2m13 0h2m77 0h2m27 0h2m12 0h1m28 0h2m17 0h2m3 0h2m4 0h2m23 0h1m3 0h2m16 0h2m26 0h1m11 0h1m18 0h2m31 0h2m9 0h2m17 0h2m32 0h2m10 0h1m6 0h2m3 0h2M159 184.5h1m2 0h1m27 0h1m38 0h2m17 0h1m9 0h4m16 0h1m76 0h2m62 0h1m8 0h2m12 0h2m5 0h2m5 0h2m78 0h2m17 0h2m1 0h2m35 0h2m8 0h2m57 0h2m1 0h2m5 0h2m17 0h4m12 0h2m46 0h2m16 0h2m5 0h2m7 0h2m8 0h1m12 0h3m2 0h2m4 0h2m9 0h2m7 0h1m11 0h2m9 0h2m15 0h1m30 0h2M175 185.5h1m4 0h1m20 0h2m43 0h1m21 0h2m17 0h2m3 0h1m90 0h1m10 0h2m15 0h1m6 0h1m25 0h1m8 0h1m12 0h4m23 0h2m23 0h2m11 0h2m15 0h2m3 0h2m8 0h2m2 0h1m34 0h2m17 0h1m40 0h1m38 0h1m21 0h2m32 0h2m50 0h2m5 0h2m5 0h1m23 0h2m9 0h2m5 0h2m18 0h2m4 0h2m30 0h2M180 186.5h3m1 0h3m32 0h1m4 0h2m66 0h2m2 0h2m103 0h2m4 0h1m10 0h2m7 0h1m3 0h2m10 0h1m4 0h2m15 0h2m3 0h2m37 0h2m14 0h2m25 0h2m28 0h2m31 0h2m18 0h2m19 0h2m31 0h1m49 0h2m13 0h2m26 0h2m55 0h2m41 0h2m17 0h2m7 0h1m10 0h1M153 187.5h1m9 0h2m5 0h2m6 0h2m41 0h2m7 0h1m4 0h2m30 0h2m23 0h2m14 0h1m10 0h2m24 0h2m4 0h2m4 0h2m22 0h2m9 0h1m48 0h2m23 0h3m13 0h2m48 0h2m36 0h2m4 0h2m8 0h2m9 0h2m29 0h2m11 0h2m54 0h2m15 0h2m6 0h3m12 0h2m13 0h1m48 0h2m6 0h2m70 0h2m9 0h2m6 0h4m1 0h3m16 0h1M167 188.5h1m7 0h1m51 0h6m35 0h2m39 0h2m38 0h2m46 0h2m92 0h1m13 0h2m7 0h2m16 0h2m80 0h2m11 0h2m67 0h2m48 0h2m15 0h2m6 0h2m10 0h1m1 0h1m7 0h2m10 0h1m27 0h1m1 0h1m2 0h2m39 0h2m2 0h2m1 0h2m8 0h2m20 0h2M199 189.5h5m24 0h2m25 0h1m7 0h2m7 0h1m30 0h4m20 0h2m63 0h2m64 0h2m4 0h1m42 0h2m28 0h1m8 0h2m7 0h2m8 0h1m1 0h2m7 0h2m18 0h2m32 0h2m14 0h1m44 0h1m7 0h1m34 0h2m24 0h2m36 0h2m37 0h1m15 0h2m6 0h1m12 0h2m13 0h2m23 0h2m7 0h2M196 190.5h2m28 0h2m25 0h2m21 0h2m12 0h2m3 0h2m2 0h2m7 0h2m7 0h2m2 0h1m35 0h2m3 0h1m22 0h2m30 0h1m15 0h1m34 0h2m16 0h1m1 0h4m117 0h3m47 0h2m8 0h1m4 0h2m17 0h2m54 0h2m22 0h1m29 0h2m35 0h5m19 0h2M157 191.5h2m11 0h2m5 0h2m16 0h1m43 0h1m38 0h2m24 0h2m24 0h2m2 0h1m94 0h2m20 0h2m44 0h2m24 0h1m12 0h2m36 0h2m12 0h2m64 0h2m3 0h2m7 0h2m18 0h2m25 0h2m25 0h2m9 0h2m2 0h2m7 0h2m45 0h2m7 0h2m27 0h2m1 0h2m36 0h2M196 192.5h2m39 0h2m12 0h2m66 0h2m3 0h4m44 0h2m14 0h2m16 0h2m6 0h2m9 0h2m23 0h1m4 0h2m54 0h2m3 0h2m16 0h1m32 0h2m20 0h2m21 0h3m16 0h2m49 0h1m3 0h2m7 0h2m8 0h1m1 0h2m7 0h2m7 0h1m43 0h2m35 0h2m14 0h2m1 0h2m13 0h2m17 0h2m32 0h2m13 0h2M167 193.5h1m25 0h2m3 0h2m6 0h2m7 0h1m11 0h4m5 0h4m12 0h2m85 0h2m8 0h2m16 0h2m2 0h1m26 0h3m3 0h2m48 0h2m24 0h2m15 0h2m4 0h2m2 0h2m2 0h2m28 0h2m28 0h2m15 0h1m31 0h2m20 0h2m7 0h2m9 0h2m17 0h2m6 0h2m55 0h1m19 0h1m56 0h2m9 0h2m14 0h1m7 0h2m5 0h2m26 0h2m15 0h2m3 0h1M159 194.5h1m41 0h2m1 0h2m37 0h2m13 0h2m13 0h2m77 0h2m1 0h2m59 0h1m2 0h2m50 0h2m17 0h2m3 0h2m5 0h1m7 0h2m57 0h2m3 0h1m16 0h2m13 0h3m67 0h2m6 0h2m10 0h2m6 0h2m31 0h1m11 0h2m2 0h4m20 0h1m16 0h2m28 0h1m7 0h2m4 0h2m7 0h1m1 0h2m2 0h2m14 0h3m31 0h1m3 0h2m9 0h2M225 195.5h2m39 0h1m2 0h1m26 0h2m25 0h2m12 0h2m30 0h2m34 0h2m165 0h2m21 0h2m9 0h3m24 0h2m6 0h4m18 0h2m46 0h2m5 0h2m61 0h4m8 0h2m4 0h2m12 0h1m16 0h2m16 0h2m2 0h2m11 0h2m42 0h1M155 196.5h2m24 0h2m21 0h1m12 0h2m11 0h2m1 0h1m29 0h2m8 0h2m103 0h2m18 0h2m12 0h2m8 0h3m3 0h2m25 0h2m10 0h1m2 0h4m13 0h2m40 0h2m44 0h4m35 0h2m51 0h2m1 0h2m5 0h2m6 0h2m27 0h2m28 0h2m9 0h2m11 0h1m3 0h2m13 0h3m1 0h1m3 0h2m2 0h2m7 0h2m90 0h2M165 197.5h1m29 0h1m33 0h2m11 0h1m14 0h2m25 0h2m2 0h1m18 0h2m29 0h4m5 0h2m2 0h2m102 0h4m26 0h2m115 0h2m31 0h2m39 0h2m20 0h1m2 0h2m40 0h1m2 0h3m15 0h3m29 0h2m9 0h1m22 0h2m12 0h2m28 0h2m8 0h1m3 0h2M208 198.5h2m28 0h2m1 0h2m8 0h1m72 0h2m2 0h2m3 0h2m11 0h2m48 0h1m12 0h2m4 0h1m2 0h2m5 0h2m10 0h2m7 0h2m44 0h2m11 0h1m30 0h2m28 0h2m2 0h2m17 0h1m4 0h4m7 0h2m12 0h1m1 0h2m4 0h2m28 0h2m6 0h1m45 0h2m59 0h2m1 0h2m20 0h1m69 0h3m3 0h2m11 0h2m11 0h2m21 0h2M172 199.5h2m2 0h1m30 0h1m77 0h1m1 0h2m10 0h2m21 0h2m7 0h2m3 0h1m5 0h3m40 0h2m108 0h2m2 0h2m17 0h4m11 0h2m2 0h2m43 0h2m83 0h5m2 0h2m30 0h2m9 0h2m5 0h2m3 0h2m2 0h2m18 0h2m26 0h2m22 0h2m22 0h2m14 0h2m2 0h2m40 0h1M170 200.5h2m45 0h2m12 0h2m10 0h2m54 0h2m65 0h2m2 0h3m2 0h2m3 0h2m5 0h2m14 0h1m12 0h2m95 0h2m12 0h2m19 0h2m32 0h2m21 0h1m2 0h2m7 0h2m36 0h2m28 0h2m35 0h1m17 0h1m6 0h2m2 0h2m24 0h2m8 0h2m14 0h2m36 0h2m1 0h1m34 0h2m16 0h2m11 0h2M189 201.5h2m9 0h2m45 0h2m2 0h2m51 0h2m31 0h1m3 0h2m18 0h2m5 0h2m27 0h2m6 0h2m18 0h2m24 0h2m41 0h2m14 0h2m7 0h2m37 0h2m29 0h2m2 0h2m25 0h1m45 0h1m61 0h2m12 0h3m3 0h2m2 0h2m18 0h2m6 0h2m18 0h2m7 0h2m3 0h2m11 0h1m8 0h1m18 0h2m10 0h2m13 0h2m25 0h1m3 0h1m8 0h2M183 202.5h2m2 0h2m16 0h2m73 0h2m48 0h2m10 0h2m21 0h2m14 0h2m44 0h1m25 0h2m14 0h2m130 0h2m5 0h2m20 0h2m41 0h2m24 0h1m20 0h2m34 0h2m12 0h2m4 0h1m10 0h2m57 0h2m9 0h2m4 0h2m2 0h2m9 0h2m14 0h2m2 0h1M159 203.5h1m65 0h1m9 0h1m16 0h2m21 0h2m66 0h2m35 0h2m2 0h1m24 0h2m25 0h2m20 0h2m5 0h2m30 0h1m2 0h2m20 0h2m19 0h2m11 0h1m36 0h2m34 0h2m15 0h2m19 0h1m33 0h2m42 0h2m2 0h2m24 0h2m6 0h2m1 0h3m30 0h2m34 0h2m3 0h1m16 0h2m2 0h2m9 0h2M189 204.5h2m2 0h2m2 0h2m11 0h2m43 0h2m2 0h1m1 0h2m19 0h2m24 0h2m4 0h2m47 0h2m12 0h2m6 0h1m4 0h2m13 0h2m30 0h2m7 0h1m29 0h2m44 0h2m6 0h1m42 0h4m1 0h2m4 0h2m12 0h2m28 0h2m9 0h2m20 0h1m8 0h3m66 0h1m10 0h2m59 0h1m18 0h2m19 0h2m12 0h2m4 0h2m1 0h2M220 205.5h2m1 0h2m10 0h4m4 0h3m4 0h2m112 0h2m12 0h1m21 0h2m39 0h2m7 0h2m49 0h2m13 0h2m1 0h1m7 0h2m19 0h1m31 0h2m3 0h2m5 0h1m64 0h1m37 0h2m25 0h1m42 0h2m56 0h2m3 0h2m6 0h2m49 0h2m18 0h2M172 206.5h2m45 0h1m4 0h2m29 0h3m13 0h2m22 0h2m15 0h2m7 0h2m3 0h1m36 0h1m19 0h2m91 0h2m8 0h2m50 0h2m59 0h2m23 0h2m7 0h1m5 0h2m67 0h2m5 0h2m16 0h1m5 0h1m9 0h2m55 0h2m24 0h1m30 0h1m2 0h2m11 0h2m7 0h2m5 0h2m15 0h2M159 207.5h2m31 0h2m31 0h1m28 0h2m52 0h2m10 0h2m60 0h1m7 0h2m10 0h2m28 0h2m2 0h2m1 0h2m19 0h3m3 0h1m1 0h2m21 0h2m1 0h1m103 0h2m69 0h2m29 0h2m40 0h2m62 0h2m60 0h1m21 0h2m19 0h2M167 208.5h2m2 0h1m19 0h2m1 0h2m35 0h2m26 0h2m4 0h2m24 0h2m3 0h2m9 0h2m17 0h2m3 0h2m6 0h1m63 0h2m11 0h2m32 0h2m12 0h2m40 0h1m1 0h2m16 0h2m11 0h2m53 0h2m2 0h2m9 0h1m45 0h2m29 0h2m6 0h2m7 0h2m7 0h2m8 0h2m49 0h2m31 0h2m14 0h2m7 0h2m26 0h2m3 0h2M173 209.5h2m29 0h2m3 0h2m18 0h2m22 0h2m56 0h2m64 0h2m12 0h2m26 0h2m13 0h1m17 0h2m55 0h2m6 0h2m6 0h2m41 0h2m1 0h2m2 0h1m2 0h2m60 0h2m13 0h2m32 0h2m50 0h2m2 0h4m2 0h1m5 0h2m41 0h2m49 0h2m15 0h2m4 0h2m26 0h4m11 0h2M242 210.5h2m20 0h2m9 0h2m13 0h1m7 0h2m55 0h2m22 0h1m2 0h2m5 0h2m17 0h2m11 0h2m4 0h1m8 0h2m28 0h3m41 0h4m19 0h4m9 0h2m31 0h2m7 0h2m6 0h2m11 0h2m17 0h1m6 0h2m47 0h2m5 0h2m5 0h2m15 0h2m5 0h1m40 0h1m9 0h2m15 0h1m48 0h2m5 0h1m7 0h2m6 0h1m4 0h1m27 0h2m4 0h3m10 0h1M183 211.5h2m23 0h2m39 0h1m5 0h1m15 0h2m54 0h2m10 0h2m50 0h2m4 0h3m2 0h1m8 0h1m11 0h1m45 0h2m22 0h2m25 0h1m110 0h2m6 0h2m44 0h1m8 0h2m20 0h1m27 0h2m9 0h2m29 0h3m13 0h2m33 0h1m6 0h2m3 0h2m1 0h1m26 0h2M153 212.5h2m6 0h2m45 0h2m43 0h4m11 0h2m47 0h2m46 0h2m11 0h2m84 0h2m3 0h1m5 0h1m9 0h2m41 0h2m86 0h2m19 0h2m52 0h2m10 0h2m14 0h1m80 0h2m43 0h2m19 0h2m26 0h3m4 0h3m12 0h2M224 213.5h4m40 0h1m7 0h1m18 0h2m10 0h4m2 0h2m38 0h2m17 0h2m15 0h2m47 0h2m10 0h2m5 0h2m1 0h2m40 0h2m1 0h2m32 0h2m12 0h2m60 0h1m7 0h2m4 0h2m23 0h2m10 0h2m7 0h2m18 0h2m20 0h1m12 0h4m4 0h2m14 0h2m13 0h2m4 0h2m9 0h2m12 0h1m73 0h2m35 0h2M173 214.5h2m8 0h2m62 0h2m13 0h2m6 0h2m5 0h2m22 0h2m1 0h2m6 0h2m56 0h2m22 0h1m19 0h2m10 0h2m20 0h2m22 0h2m51 0h2m49 0h2m5 0h2m45 0h2m30 0h3m38 0h2m17 0h2m18 0h2m8 0h2m17 0h2m17 0h2m18 0h1m18 0h1m1 0h1m13 0h2m32 0h2m38 0h2M182 215.5h2m23 0h2m12 0h2m19 0h1m63 0h2m28 0h2m7 0h2m118 0h2m13 0h2m24 0h2m27 0h1m9 0h1m29 0h2m25 0h2m3 0h2m20 0h2m4 0h2m4 0h2m2 0h2m3 0h2m12 0h2m45 0h2m11 0h1m20 0h2m37 0h2m13 0h2m6 0h1m27 0h2m10 0h2m34 0h1M153 216.5h2m42 0h4m46 0h3m21 0h1m3 0h2m16 0h5m24 0h3m15 0h2m18 0h1m12 0h2m56 0h1m77 0h1m4 0h3m44 0h2m39 0h2m2 0h2m4 0h2m2 0h2m13 0h2m9 0h2m33 0h1m16 0h1m13 0h1m27 0h1m11 0h2m17 0h2m14 0h3m11 0h1m5 0h1m23 0h2m2 0h2m2 0h2m32 0h3m8 0h1m7 0h2m15 0h2m11 0h2M170 217.5h1m5 0h2m32 0h2m57 0h2m22 0h2m11 0h2m95 0h2m3 0h2m8 0h2m53 0h2m29 0h2m16 0h2m7 0h2m16 0h2m15 0h2m127 0h1m11 0h1m20 0h1m14 0h4m57 0h2m35 0h2m2 0h1m2 0h2m4 0h1m21 0h1M154 218.5h1m57 0h1m23 0h2m14 0h1m79 0h2m21 0h2m12 0h2m14 0h2m36 0h2m4 0h2m4 0h1m52 0h2m15 0h2m23 0h2m38 0h2m15 0h2m35 0h2m44 0h2m12 0h2m5 0h1m15 0h1m23 0h3m25 0h2m28 0h2m17 0h4m6 0h1m5 0h2m24 0h2M188 219.5h1m46 0h2m22 0h2m6 0h2m24 0h2m26 0h1m12 0h2m17 0h2m5 0h2m18 0h2m18 0h2m38 0h2m3 0h2m12 0h2m8 0h2m7 0h1m3 0h2m9 0h2m2 0h2m3 0h2m24 0h2m95 0h1m59 0h2m13 0h2m7 0h2m2 0h2m19 0h1m27 0h2m8 0h2m76 0h3m1 0h2m28 0h2m17 0h3m6 0h2m5 0h1m2 0h2M254 220.5h1m6 0h2m23 0h2m25 0h2m14 0h3m9 0h1m87 0h3m4 0h4m16 0h2m3 0h2m30 0h2m36 0h2m43 0h2m44 0h2m56 0h2m57 0h2m40 0h2m26 0h2m21 0h2m21 0h2m39 0h2m18 0h2M196 221.5h2m3 0h2m50 0h2m12 0h2m9 0h2m41 0h2m41 0h2m13 0h2m11 0h1m79 0h2m9 0h2m106 0h2m12 0h2m12 0h1m47 0h2m2 0h2m26 0h2m90 0h2m13 0h2m9 0h2m26 0h1m11 0h2m33 0h2M198 222.5h2m27 0h4m23 0h2m11 0h1m2 0h2m28 0h2m13 0h2m8 0h1m12 0h2m19 0h1m9 0h2m47 0h1m6 0h2m30 0h2m87 0h2m25 0h2m21 0h4m13 0h1m26 0h2m18 0h2m19 0h3m38 0h2m1 0h1m11 0h1m14 0h2m10 0h2m5 0h2m19 0h2m3 0h2m11 0h2m19 0h2m29 0h2m23 0h1m22 0h2m6 0h1M174 223.5h2m30 0h2m21 0h2m22 0h2m9 0h2m5 0h2m1 0h2m16 0h2m14 0h2m9 0h1m33 0h1m11 0h1m81 0h2m56 0h1m16 0h2m33 0h1m17 0h6m34 0h1m18 0h1m15 0h2m36 0h2m3 0h2m9 0h2m66 0h2m16 0h2m32 0h2m4 0h2m28 0h2m31 0h2m14 0h2M168 224.5h2m64 0h2m93 0h2m52 0h2m37 0h1m24 0h2m14 0h2m7 0h2m20 0h2m43 0h2m45 0h2m47 0h2m7 0h2m1 0h2m23 0h2m40 0h2m2 0h1m33 0h1m12 0h2m9 0h2m8 0h2m12 0h2m26 0h2m12 0h2m9 0h2m4 0h2m4 0h2m50 0h2m5 0h1M153 225.5h2m2 0h2m43 0h1m6 0h2m1 0h2m11 0h4m1 0h2m3 0h2m6 0h2m116 0h2m8 0h2m3 0h2m16 0h1m30 0h2m13 0h1m27 0h2m7 0h2m24 0h2m24 0h1m2 0h2m46 0h2m11 0h2m18 0h2m18 0h1m40 0h2m1 0h4m26 0h2m44 0h2m41 0h1m4 0h2m10 0h2m24 0h2m3 0h3m18 0h2m28 0h2m7 0h2M166 226.5h4m15 0h2m37 0h1m26 0h2m3 0h2m18 0h1m45 0h2m29 0h1m7 0h1m66 0h2m74 0h2m38 0h2m16 0h2m21 0h2m6 0h1m5 0h2m33 0h2m25 0h2m2 0h2m34 0h2m31 0h2m22 0h2m5 0h2m12 0h4m28 0h2m12 0h2m1 0h2m32 0h2m11 0h2m21 0h4m8 0h2m1 0h1m5 0h3M206 227.5h2m41 0h2m34 0h2m27 0h2m3 0h1m16 0h2m19 0h2m9 0h3m18 0h2m7 0h2m14 0h2m31 0h2m18 0h2m4 0h2m26 0h2m21 0h2m12 0h2m20 0h2m40 0h1m22 0h1m27 0h1m50 0h2m29 0h1m32 0h2m1 0h1m26 0h2m5 0h2m7 0h2m7 0h3m4 0h2m20 0h2m9 0h4m25 0h3M153 228.5h1m1 0h1m14 0h2m55 0h2m34 0h2m8 0h2m2 0h1m12 0h2m3 0h2m2 0h1m48 0h2m15 0h1m19 0h2m53 0h2m32 0h2m53 0h2m94 0h2m27 0h2m5 0h1m28 0h2m19 0h2m7 0h4m25 0h2m15 0h2m18 0h2m10 0h2m11 0h2m42 0h2m4 0h6m9 0h2m3 0h3m35 0h2m3 0h1M180 229.5h2m40 0h2m14 0h2m13 0h2m32 0h2m1 0h2m6 0h1m50 0h2m6 0h1m11 0h1m16 0h1m28 0h1m5 0h2m67 0h2m27 0h2m117 0h2m8 0h2m5 0h1m4 0h1m8 0h1m21 0h2m18 0h3m10 0h2m12 0h2m36 0h2m55 0h2m6 0h2m2 0h2m7 0h2m5 0h1m4 0h2m10 0h4m4 0h2m18 0h2M205 230.5h2m22 0h2m7 0h2m61 0h1m13 0h2m30 0h1m7 0h3m3 0h1m30 0h2m6 0h1m7 0h2m5 0h2m64 0h2m100 0h2m14 0h2m3 0h2m20 0h2m101 0h2m10 0h2m20 0h4m6 0h2m1 0h2m1 0h2m39 0h2m5 0h1m48 0h2m4 0h2M156 231.5h2m20 0h2m21 0h2m5 0h3m6 0h2m95 0h2m83 0h2m110 0h2m22 0h2m6 0h1m23 0h1m36 0h2m21 0h2m7 0h2m8 0h1m4 0h3m4 0h2m29 0h1m11 0h2m67 0h1m9 0h3m21 0h2m54 0h2m23 0h2m30 0h1M175 232.5h2m67 0h2m7 0h2m21 0h2m27 0h2m22 0h2m16 0h1m7 0h2m25 0h2m9 0h2m12 0h2m6 0h1m38 0h2m16 0h2m70 0h1m1 0h3m14 0h2m13 0h2m121 0h2m35 0h2m19 0h2m1 0h2m40 0h2m5 0h2m32 0h2m16 0h2m6 0h2M164 233.5h2m44 0h2m52 0h2m3 0h2m4 0h2m15 0h2m53 0h2m2 0h1m6 0h2m53 0h1m36 0h2m5 0h2m44 0h2m5 0h2m24 0h2m10 0h2m13 0h2m1 0h2m17 0h2m31 0h2m29 0h2m2 0h1m36 0h2m14 0h1m45 0h2m11 0h2m21 0h2m13 0h2m6 0h2m41 0h2m28 0h2m23 0h1M160 234.5h2m4 0h2m13 0h2m19 0h1m19 0h2m45 0h1m10 0h1m9 0h2m3 0h3m41 0h3m13 0h2m21 0h1m34 0h2m87 0h2m44 0h2m18 0h2m3 0h1m52 0h2m66 0h3m90 0h1m29 0h1m15 0h2m3 0h2m2 0h2m30 0h2m30 0h2m10 0h2M157 235.5h2m17 0h1m1 0h1m14 0h1m41 0h2m14 0h2m1 0h3m16 0h2m7 0h2m16 0h2m30 0h2m36 0h2m169 0h1m51 0h1m23 0h2m6 0h2m11 0h2m76 0h1m23 0h2m5 0h3m6 0h2m35 0h2m11 0h2m1 0h2m21 0h3m6 0h1m7 0h2m25 0h2m7 0h2m21 0h2M177 236.5h2m9 0h2m33 0h3m51 0h2m16 0h2m25 0h2m5 0h1m8 0h2m7 0h2m4 0h2m15 0h2m56 0h2m10 0h2m3 0h1m17 0h2m25 0h2m8 0h1m8 0h2m16 0h3m16 0h2m13 0h2m11 0h2m19 0h1m3 0h2m12 0h1m10 0h1m26 0h2m36 0h2m4 0h2m98 0h2m25 0h2m3 0h2m5 0h1m2 0h2m11 0h2m4 0h2m28 0h2m6 0h2m8 0h1m12 0h2M172 237.5h1m45 0h2m27 0h4m5 0h1m18 0h1m25 0h2m4 0h2m4 0h2m32 0h2m21 0h2m65 0h1m107 0h2m5 0h2m16 0h1m8 0h1m4 0h2m3 0h1m11 0h1m11 0h2m13 0h1m5 0h2m6 0h2m4 0h2m18 0h2m24 0h1m1 0h2m19 0h2m6 0h2m12 0h2m5 0h1m11 0h2m13 0h2m10 0h2m1 0h2m17 0h2m27 0h1m1 0h2m11 0h2m6 0h2M156 238.5h2m16 0h2m11 0h2m20 0h1m51 0h2m146 0h2m16 0h2m3 0h2m33 0h1m20 0h2m16 0h2m16 0h2m33 0h4m4 0h2m40 0h1m27 0h2m17 0h1m36 0h1m14 0h1m21 0h1m72 0h2m7 0h1m1 0h1m8 0h1m27 0h2m20 0h1m8 0h2m1 0h2m14 0h2m17 0h2M188 239.5h1m4 0h2m2 0h2m5 0h1m7 0h4m8 0h2m1 0h2m6 0h2m30 0h2m27 0h2m17 0h2m2 0h2m88 0h2m10 0h1m28 0h2m39 0h2m5 0h2m1 0h2m6 0h1m36 0h2m90 0h2m4 0h2m17 0h2m7 0h2m6 0h2m2 0h4m88 0h2m12 0h2m79 0h2m13 0h2m10 0h2m14 0h2m1 0h4M184 240.5h3m111 0h2m11 0h2m9 0h2m15 0h2m15 0h2m13 0h2m33 0h2m31 0h2m29 0h2m57 0h2m86 0h2m24 0h2m12 0h2m32 0h2m28 0h1m57 0h2m1 0h2m28 0h1m11 0h2m26 0h2m12 0h1m14 0h2m16 0h2m15 0h2M181 241.5h4m11 0h2m4 0h1m38 0h1m14 0h2m30 0h1m27 0h1m22 0h2m9 0h2m21 0h2m56 0h2m74 0h1m20 0h2m76 0h1m40 0h3m5 0h1m37 0h2m30 0h2m29 0h2m16 0h2m1 0h2m11 0h2m14 0h2m2 0h2m1 0h2m10 0h2m11 0h1m8 0h2m18 0h2m7 0h2m5 0h2m1 0h2m15 0h1m13 0h4M155 242.5h4m44 0h2m41 0h2m37 0h2m88 0h2m33 0h2m6 0h1m10 0h2m53 0h2m6 0h2m57 0h2m1 0h2m42 0h2m10 0h4m2 0h2m2 0h2m28 0h1m48 0h2m24 0h2m11 0h2m14 0h2m25 0h2m2 0h2m6 0h2m4 0h2m14 0h2m7 0h1m18 0h2m25 0h1m6 0h2m11 0h2M158 243.5h2m5 0h1m15 0h2m19 0h2m15 0h2m24 0h1m20 0h2m2 0h2m40 0h2m31 0h1m20 0h2m9 0h4m7 0h2m30 0h2m28 0h2m28 0h2m17 0h2m2 0h1m20 0h2m11 0h1m52 0h2m17 0h2m54 0h2m25 0h2m8 0h1m67 0h4m24 0h2m18 0h2m39 0h1m2 0h2m2 0h2m1 0h1M172 244.5h2m11 0h2m9 0h1m22 0h1m31 0h1m5 0h2m45 0h2m32 0h2m30 0h2m9 0h2m14 0h2m17 0h2m9 0h2m3 0h2m3 0h1m2 0h2m38 0h2m16 0h2m65 0h1m12 0h2m21 0h2m34 0h2m30 0h2m40 0h2m16 0h2m27 0h2m90 0h2m39 0h2m14 0h2M163 245.5h2m53 0h1m3 0h2m59 0h3m8 0h2m3 0h2m19 0h4m145 0h2m31 0h2m32 0h4m18 0h1m4 0h2m29 0h2m37 0h2m10 0h2m1 0h2m5 0h2m8 0h2m21 0h2m4 0h2m14 0h2m41 0h1m9 0h2m21 0h2m23 0h2m10 0h2m3 0h4m33 0h2m16 0h2m30 0h2M166 246.5h2m27 0h3m16 0h2m28 0h3m55 0h2m24 0h2m32 0h1m35 0h2m23 0h2m13 0h2m14 0h2m19 0h2m8 0h2m45 0h2m33 0h2m76 0h2m12 0h2m3 0h2m2 0h2m21 0h2m11 0h1m2 0h1m12 0h2m24 0h1m4 0h1m2 0h2m18 0h2m24 0h2m32 0h1m20 0h2m4 0h2m4 0h1m32 0h2M169 247.5h2m34 0h4m2 0h2m28 0h2m7 0h2m40 0h2m7 0h2m21 0h2m16 0h3m50 0h1m33 0h1m36 0h2m18 0h2m5 0h2m27 0h1m2 0h2m83 0h2m24 0h1m32 0h2m102 0h2m7 0h1m46 0h2m3 0h2m6 0h2m17 0h1m10 0h2m1 0h2m39 0h2M158 248.5h2m39 0h1m59 0h2m24 0h2m5 0h1m140 0h1m13 0h2m8 0h2m17 0h3m5 0h1m34 0h2m6 0h2m18 0h2m8 0h2m2 0h2m42 0h2m34 0h1m6 0h2m56 0h2m22 0h2m19 0h2m42 0h1m12 0h1m4 0h2m8 0h2m9 0h3m5 0h1m3 0h2m23 0h2m17 0h3m28 0h2M238 249.5h3m6 0h2m21 0h2m3 0h2m26 0h2m16 0h2m1 0h2m12 0h2m71 0h2m42 0h2m1 0h2m8 0h3m6 0h2m20 0h3m13 0h2m4 0h3m2 0h2m41 0h2m43 0h2m51 0h1m5 0h2m28 0h2m3 0h1m54 0h2m13 0h2m27 0h2m11 0h2m7 0h1m12 0h2m49 0h3m4 0h2M156 250.5h2m6 0h1m8 0h2m3 0h2m16 0h1m11 0h1m35 0h2m61 0h2m3 0h2m29 0h1m20 0h2m6 0h2m24 0h2m20 0h1m2 0h2m21 0h2m8 0h1m57 0h2m5 0h2m61 0h2m14 0h2m27 0h2m25 0h2m13 0h1m7 0h4m6 0h3m18 0h2m4 0h2m28 0h2m3 0h1m36 0h2m1 0h2m2 0h2m7 0h3m1 0h2m23 0h2m15 0h2m14 0h2m1 0h2m5 0h2m20 0h2m5 0h1M182 251.5h1m6 0h2m56 0h3m34 0h2m28 0h2m110 0h2m18 0h2m39 0h2m21 0h2m6 0h2m29 0h2m2 0h2m2 0h1m79 0h2m7 0h2m25 0h2m56 0h2m9 0h2m15 0h2m5 0h2m7 0h2m11 0h2m2 0h2m34 0h2m2 0h2m36 0h4m10 0h2m35 0h2M236 252.5h2m5 0h2m9 0h1m42 0h2m1 0h1m50 0h2m17 0h1m4 0h2m31 0h2m7 0h2m22 0h1m4 0h2m1 0h1m12 0h1m15 0h2m25 0h2m32 0h2m6 0h2m2 0h2m25 0h2m57 0h2m27 0h1m8 0h2m5 0h2m5 0h2m15 0h2m56 0h1m15 0h2m31 0h2m26 0h1m2 0h2m11 0h2m17 0h2m1 0h2m13 0h1m18 0h1m2 0h2M174 253.5h2m10 0h2m12 0h1m21 0h4m60 0h1m60 0h2m3 0h1m1 0h2m7 0h2m49 0h2m5 0h3m26 0h4m7 0h2m29 0h2m5 0h1m7 0h2m5 0h2m31 0h1m66 0h2m55 0h2m11 0h2m2 0h1m50 0h2m26 0h2m18 0h2m6 0h2m3 0h2m12 0h2m27 0h2m5 0h2m19 0h2m4 0h1m24 0h2M183 254.5h1m35 0h2m54 0h3m6 0h2m35 0h4m7 0h2m3 0h5m24 0h1m40 0h2m12 0h1m13 0h4m28 0h1m1 0h3m48 0h2m33 0h1m37 0h2m16 0h3m2 0h1m1 0h1m30 0h1m10 0h1m7 0h2m19 0h2m12 0h2m20 0h2m4 0h2m15 0h4m22 0h4m6 0h2m26 0h1m33 0h1m7 0h2m1 0h2m47 0h2m7 0h2m5 0h2M153 255.5h1m3 0h2m8 0h2m50 0h2m1 0h2m17 0h2m45 0h1m40 0h2m24 0h1m78 0h2m2 0h2m3 0h2m15 0h2m5 0h1m4 0h2m4 0h1m2 0h2m1 0h2m9 0h4m1 0h2m34 0h2m16 0h1m14 0h2m18 0h2m3 0h2m65 0h2m4 0h2m70 0h2m3 0h2m15 0h2m3 0h2m35 0h2m10 0h1m14 0h2m33 0h2m29 0h2m14 0h2M166 256.5h2m1 0h2m55 0h2m39 0h2m11 0h2m10 0h5m4 0h2m25 0h2m14 0h1m16 0h2m31 0h2m6 0h2m1 0h2m85 0h2m84 0h2m10 0h2m33 0h1m3 0h3m56 0h2m19 0h2m15 0h1m10 0h2m7 0h2m31 0h1m17 0h2m37 0h2m7 0h1m5 0h2m1 0h2m1 0h2m4 0h1m24 0h1m18 0h3m4 0h2M219 257.5h1m13 0h3m4 0h2m29 0h1m14 0h2m15 0h2m34 0h2m10 0h2m24 0h2m22 0h2m5 0h2m2 0h2m8 0h1m19 0h2m19 0h2m101 0h2m9 0h2m7 0h2m43 0h2m9 0h2m42 0h4m17 0h2m14 0h2m14 0h2m10 0h1m47 0h2m8 0h2m44 0h1m6 0h2m32 0h2m12 0h2m4 0h1M179 258.5h2m26 0h2m5 0h2m24 0h2m2 0h2m74 0h2m23 0h1m12 0h3m44 0h2m33 0h2m3 0h2m1 0h2m6 0h2m10 0h2m11 0h2m23 0h4m4 0h2m34 0h1m25 0h2m14 0h2m21 0h2m16 0h2m13 0h2m15 0h1m4 0h2m17 0h2m84 0h2m6 0h2m32 0h2m11 0h1m22 0h1m34 0h1m9 0h1M204 259.5h2m96 0h2m65 0h2m33 0h2m22 0h2m19 0h3m18 0h5m8 0h2m25 0h1m13 0h1m85 0h2m5 0h1m16 0h2m9 0h2m35 0h2m14 0h2m42 0h2m4 0h2m7 0h2m13 0h1m43 0h1m3 0h2m23 0h2m15 0h1m5 0h2m3 0h1m4 0h2m39 0h2M162 260.5h1m8 0h2m6 0h2m79 0h2m7 0h2m74 0h2m28 0h2m5 0h2m19 0h2m4 0h1m9 0h1m10 0h2m35 0h2m11 0h2m97 0h1m2 0h1m8 0h3m16 0h2m19 0h2m5 0h4m28 0h1m19 0h1m9 0h2m17 0h3m4 0h2m6 0h2m34 0h2m6 0h2m37 0h1m24 0h2m20 0h2m13 0h2m11 0h1M162 261.5h2m1 0h1m9 0h2m136 0h2m13 0h4m20 0h2m11 0h2m34 0h2m35 0h2m3 0h1m10 0h1m1 0h3m18 0h1m1 0h2m15 0h2m15 0h2m4 0h2m33 0h2m4 0h2m29 0h2m15 0h2m27 0h2m62 0h2m15 0h2m5 0h2m9 0h2m29 0h2m10 0h2m10 0h4m5 0h2m29 0h2m33 0h1m20 0h1M164 262.5h2m28 0h1m10 0h2m166 0h2m82 0h2m28 0h1m8 0h2m24 0h2m6 0h2m2 0h2m68 0h2m19 0h1m36 0h2m32 0h2m11 0h2m19 0h1m13 0h2m2 0h2m45 0h2m7 0h1m28 0h1m8 0h2m9 0h2m10 0h2m4 0h2m1 0h2m18 0h2m1 0h2m20 0h2M184 263.5h2m8 0h2m23 0h2m35 0h2m22 0h3m6 0h2m17 0h2m37 0h2m72 0h2m25 0h3m16 0h2m27 0h2m3 0h2m34 0h1m107 0h2m2 0h2m9 0h2m19 0h2m20 0h2m15 0h2m4 0h2m10 0h2m13 0h2m5 0h2m23 0h5m34 0h1m4 0h2m27 0h1m25 0h2m22 0h2m3 0h2m2 0h1M209 264.5h1m14 0h1m3 0h2m8 0h2m1 0h2m89 0h4m52 0h2m1 0h3m7 0h2m10 0h2m1 0h2m29 0h2m41 0h2m11 0h2m17 0h2m87 0h2m72 0h2m29 0h2m2 0h2m5 0h1m12 0h2m8 0h2m3 0h2m16 0h2m3 0h2m11 0h2m28 0h2m7 0h2m3 0h2m35 0h2m20 0h2m14 0h2M164 265.5h2m53 0h2m20 0h3m4 0h3m37 0h1m15 0h2m5 0h2m8 0h2m6 0h1m3 0h2m102 0h2m16 0h2m6 0h2m6 0h2m7 0h1m31 0h1m41 0h2m9 0h2m4 0h2m10 0h2m7 0h2m29 0h2m12 0h2m17 0h2m2 0h1m9 0h2m25 0h2m43 0h1m6 0h3m12 0h1m33 0h5m35 0h1m32 0h2m6 0h2m6 0h2m17 0h2M156 266.5h2m21 0h2m17 0h2m3 0h2m4 0h2m15 0h3m7 0h2m6 0h2m8 0h4m45 0h2m45 0h2m34 0h2m11 0h2m6 0h2m3 0h2m6 0h2m30 0h2m5 0h2m2 0h2m71 0h4m11 0h2m1 0h1m21 0h2m12 0h2m26 0h2m8 0h2m1 0h4m21 0h2m22 0h1m6 0h2m60 0h1m1 0h2m32 0h2m43 0h2m41 0h2m13 0h2m8 0h2m7 0h2m13 0h2M159 267.5h2m4 0h2m4 0h2m18 0h2m2 0h2m24 0h3m72 0h2m36 0h2m15 0h1m3 0h1m18 0h2m47 0h2m47 0h2m12 0h1m27 0h2m40 0h2m4 0h2m2 0h2m30 0h2m28 0h2m5 0h2m54 0h2m13 0h2m17 0h2m43 0h2m10 0h2m52 0h1m14 0h2m6 0h2m1 0h2m21 0h2m6 0h2m12 0h2m5 0h2M156 268.5h2m23 0h2m20 0h2m22 0h2m5 0h2m4 0h2m16 0h2m118 0h2m35 0h1m15 0h3m3 0h1m108 0h2m5 0h2m20 0h1m33 0h4m18 0h2m28 0h3m14 0h1m6 0h2m133 0h2m34 0h2m7 0h1m5 0h3m17 0h1m3 0h2m6 0h2m11 0h2M156 269.5h3m4 0h2m24 0h2m5 0h2m54 0h2m1 0h2m24 0h2m9 0h2m5 0h2m80 0h1m75 0h1m3 0h2m34 0h2m17 0h2m30 0h2m1 0h2m14 0h1m10 0h2m20 0h2m43 0h2m9 0h2m13 0h2m7 0h2m1 0h2m38 0h2m18 0h2m20 0h1m1 0h1m7 0h4m13 0h2m18 0h1m32 0h2m13 0h2M158 270.5h2m33 0h2m84 0h2m27 0h2m8 0h2m16 0h2m29 0h1m6 0h2m27 0h2m20 0h2m10 0h2m32 0h1m3 0h2m61 0h2m13 0h2m30 0h2m14 0h2m65 0h1m52 0h2m3 0h3m23 0h2m18 0h1m39 0h2m1 0h2m21 0h4m25 0h2m3 0h2m12 0h2m3 0h1m10 0h1m8 0h1m11 0h1M179 271.5h2m14 0h2m9 0h2m55 0h1m2 0h2m9 0h2m114 0h2m14 0h2m20 0h1m68 0h2m9 0h2m37 0h2m48 0h1m14 0h1m61 0h2m8 0h1m16 0h1m15 0h1m5 0h1m10 0h2m1 0h2m29 0h2m9 0h1m6 0h1m5 0h2m47 0h1m27 0h1m25 0h2m4 0h2M157 272.5h2m6 0h2m49 0h4m48 0h2m19 0h2m12 0h2m47 0h1m3 0h2m10 0h2m1 0h2m9 0h2m48 0h1m6 0h1m76 0h2m14 0h2m57 0h2m18 0h2m16 0h2m33 0h2m43 0h2m26 0h2m69 0h1m51 0h2m9 0h2m3 0h2m6 0h2m16 0h1m14 0h2m4 0h2M161 273.5h2m4 0h2m19 0h2m2 0h1m5 0h1m46 0h2m10 0h2m91 0h4m120 0h2m12 0h1m11 0h1m48 0h2m46 0h2m23 0h2m6 0h2m9 0h2m86 0h3m50 0h2m22 0h2m7 0h2m6 0h2m31 0h2m9 0h1m1 0h2m37 0h2M165 274.5h2m210 0h2m18 0h1m13 0h1m44 0h1m12 0h2m9 0h1m17 0h1m3 0h2m29 0h2m57 0h2m17 0h2m23 0h2m16 0h4m12 0h2m1 0h1m1 0h4m2 0h2m25 0h2m26 0h1m27 0h2m7 0h2m42 0h2m7 0h2m9 0h1m3 0h1m32 0h2m14 0h2m4 0h2m7 0h2M187 275.5h2m4 0h1m24 0h2m74 0h2m10 0h2m57 0h2m96 0h2m19 0h2m5 0h2m9 0h2m50 0h2m38 0h1m2 0h2m22 0h2m42 0h2m59 0h2m6 0h2m9 0h2m7 0h2m23 0h1m22 0h2m9 0h4m27 0h2m2 0h2m10 0h1m3 0h2m18 0h2m31 0h2m3 0h2M185 276.5h2m11 0h2m2 0h2m12 0h2m6 0h2m8 0h2m3 0h2m37 0h1m27 0h2m8 0h2m7 0h1m14 0h4m10 0h2m3 0h2m18 0h1m5 0h1m10 0h1m38 0h2m2 0h3m26 0h2m22 0h3m22 0h2m89 0h2m12 0h1m1 0h1m20 0h3m18 0h1m47 0h2m28 0h1m19 0h1m3 0h2m15 0h2m3 0h1m15 0h2m1 0h1m3 0h2m21 0h2m10 0h1m4 0h2m5 0h2m27 0h2m3 0h1M174 277.5h2m5 0h2m23 0h2m50 0h2m19 0h2m31 0h3m73 0h2m33 0h2m9 0h1m7 0h1m18 0h2m11 0h5m6 0h2m21 0h2m33 0h2m51 0h2m9 0h1m9 0h2m5 0h2m6 0h2m13 0h2m11 0h2m32 0h2m21 0h2m27 0h2m44 0h4m18 0h2m36 0h1m46 0h1M153 278.5h1m11 0h2m122 0h2m17 0h2m23 0h2m8 0h2m6 0h2m53 0h2m22 0h2m8 0h2m26 0h2m11 0h1m26 0h1m21 0h2m15 0h2m10 0h2m18 0h2m29 0h3m21 0h1m26 0h2m19 0h2m26 0h2m50 0h2m21 0h2m3 0h2m5 0h1m5 0h2m15 0h2m19 0h3m34 0h2m6 0h1m26 0h2m7 0h3M258 279.5h1m12 0h2m92 0h1m11 0h2m44 0h2m26 0h2m5 0h2m23 0h4m5 0h2m35 0h3m14 0h1m4 0h2m20 0h3m4 0h1m29 0h2m1 0h2m2 0h2m6 0h1m7 0h1m42 0h1m52 0h2m12 0h1m55 0h4m14 0h2m37 0h2m9 0h2m3 0h2M154 280.5h2m47 0h2m25 0h2m1 0h2m24 0h2m18 0h2m4 0h2m10 0h1m21 0h2m18 0h2m52 0h3m1 0h2m56 0h2m35 0h2m6 0h2m158 0h3m5 0h2m12 0h2m8 0h2m56 0h1m4 0h2m30 0h2m27 0h2m49 0h2m31 0h1m2 0h2M166 281.5h1m121 0h2m28 0h2m6 0h1m3 0h2m19 0h2m6 0h2m13 0h2m4 0h2m82 0h2m56 0h2m121 0h1m3 0h2m4 0h2m10 0h2m14 0h2m18 0h2m2 0h1m41 0h2m33 0h2m21 0h2m14 0h1m47 0h2m10 0h1m21 0h2M193 282.5h2m6 0h2m4 0h2m27 0h2m19 0h2m62 0h2m32 0h1m12 0h2m15 0h2m31 0h2m33 0h2m49 0h2m4 0h2m3 0h2m3 0h1m6 0h4m4 0h1m3 0h1m25 0h1m7 0h2m7 0h4m7 0h2m46 0h2m9 0h2m22 0h2m61 0h2m10 0h2m24 0h2m7 0h2m17 0h2m6 0h2m22 0h2m3 0h1m22 0h2m30 0h2M171 283.5h2m26 0h2m16 0h2m28 0h2m7 0h2m25 0h3m14 0h2m30 0h1m10 0h2m32 0h2m11 0h2m4 0h2m36 0h1m22 0h2m52 0h2m14 0h3m6 0h2m4 0h1m5 0h2m14 0h2m25 0h2m3 0h1m31 0h2m12 0h2m21 0h2m8 0h2m6 0h4m39 0h2m4 0h2m20 0h2m3 0h4m10 0h2m5 0h2m4 0h1m1 0h1m13 0h2m6 0h2m5 0h2m10 0h2m16 0h2m20 0h1m3 0h1m7 0h2m25 0h2M161 284.5h2m27 0h1m52 0h2m57 0h2m35 0h2m2 0h2m25 0h2m30 0h2m24 0h2m24 0h2m3 0h3m16 0h2m76 0h1m23 0h2m43 0h2m11 0h1m4 0h2m127 0h2m64 0h2m2 0h2m5 0h2m7 0h1m1 0h3m10 0h2m35 0h1M155 285.5h1m6 0h2m13 0h2m6 0h2m18 0h2m5 0h2m18 0h2m19 0h2m48 0h2m3 0h2m2 0h1m10 0h2m8 0h1m2 0h2m25 0h2m46 0h2m15 0h2m9 0h2m46 0h2m2 0h2m39 0h2m56 0h2m16 0h1m26 0h2m32 0h1m28 0h2m18 0h2m9 0h1m13 0h2m76 0h2m3 0h1m8 0h2m1 0h2m10 0h2m11 0h2m8 0h2m19 0h2m15 0h1M182 286.5h2m1 0h1m3 0h2m6 0h2m7 0h2m11 0h1m96 0h2m23 0h3m40 0h2m13 0h2m7 0h1m25 0h2m15 0h2m9 0h3m22 0h2m71 0h2m10 0h1m23 0h2m25 0h1m15 0h2m82 0h2m28 0h2m24 0h2m15 0h2m5 0h3m75 0h2m17 0h1m10 0h4m3 0h1M158 287.5h1m1 0h1m23 0h2m3 0h2m35 0h2m16 0h1m4 0h2m21 0h2m3 0h2m35 0h2m57 0h2m26 0h1m4 0h2m15 0h2m71 0h2m45 0h2m23 0h2m4 0h2m42 0h2m14 0h2m6 0h2m8 0h2m18 0h2m7 0h2m50 0h2m14 0h2m12 0h2m21 0h2m9 0h2m17 0h2m15 0h1m5 0h2m19 0h2m51 0h2M166 288.5h2m22 0h2m59 0h2m35 0h2m1 0h2m1 0h2m26 0h2m9 0h1m3 0h2m15 0h2m19 0h2m77 0h2m8 0h2m20 0h2m3 0h1m37 0h1m39 0h2m45 0h2m7 0h2m18 0h2m3 0h2m34 0h2m10 0h1m2 0h2m23 0h2m22 0h2m10 0h4m11 0h2m24 0h1m16 0h2m3 0h2m6 0h2m8 0h2m10 0h2m3 0h2m16 0h2m16 0h2M158 289.5h1m69 0h2m13 0h2m4 0h2m13 0h2m24 0h1m6 0h1m73 0h1m33 0h2m32 0h1m8 0h2m15 0h2m10 0h1m3 0h2m99 0h2m30 0h1m13 0h2m3 0h1m13 0h2m9 0h2m34 0h2m7 0h1m81 0h2m7 0h2m8 0h2m12 0h2m6 0h2m10 0h2m43 0h2m35 0h2M259 290.5h1m5 0h2m2 0h1m6 0h2m5 0h2m31 0h1m5 0h3m8 0h2m10 0h2m30 0h2m44 0h2m2 0h2m2 0h3m5 0h2m8 0h2m21 0h3m21 0h2m41 0h2m57 0h2m26 0h2m26 0h2m34 0h2m39 0h2m68 0h3m2 0h2m5 0h1m2 0h2m33 0h2m1 0h2m27 0h2m17 0h1m10 0h2m1 0h2m1 0h2M184 291.5h2m66 0h2m9 0h2m67 0h2m42 0h1m7 0h2m19 0h2m14 0h2m39 0h2m26 0h2m5 0h2m38 0h2m27 0h2m25 0h2m8 0h3m6 0h2m27 0h2m19 0h2m14 0h2m32 0h2m64 0h2m3 0h2m14 0h1m20 0h2m3 0h2m15 0h2m9 0h2m49 0h2M212 292.5h2m4 0h1m2 0h2m39 0h1m2 0h4m10 0h2m6 0h2m6 0h2m38 0h1m13 0h3m12 0h2m63 0h4m76 0h2m3 0h2m20 0h2m4 0h4m6 0h2m39 0h2m30 0h2m10 0h2m44 0h2m1 0h2m37 0h1m14 0h2m28 0h2m1 0h1m26 0h5m12 0h2m21 0h2m18 0h2m4 0h1m4 0h2m7 0h1m6 0h2m4 0h2m20 0h2m5 0h1M153 293.5h1m4 0h1m36 0h2m6 0h2m46 0h2m3 0h2m37 0h2m23 0h2m2 0h2m18 0h2m5 0h2m24 0h2m19 0h2m13 0h2m1 0h2m43 0h4m7 0h2m8 0h2m7 0h2m3 0h2m16 0h2m42 0h2m33 0h2m9 0h1m7 0h1m2 0h2m42 0h3m40 0h2m45 0h1m7 0h3m14 0h2m10 0h2m2 0h2m22 0h2m3 0h1m42 0h2m6 0h2m42 0h2m6 0h1M160 294.5h2m35 0h2m9 0h2m36 0h2m2 0h2m25 0h2m51 0h2m11 0h2m3 0h2m49 0h2m12 0h2m23 0h2m7 0h1m17 0h2m1 0h2m16 0h2m1 0h3m1 0h2m3 0h2m17 0h2m32 0h2m12 0h2m41 0h2m8 0h2m47 0h2m23 0h3m166 0h1m2 0h2m1 0h2m8 0h1m41 0h2M156 295.5h1m8 0h2m20 0h1m2 0h2m14 0h2m48 0h1m8 0h2m1 0h2m5 0h2m2 0h3m6 0h2m3 0h2m44 0h2m15 0h2m44 0h2m64 0h2m40 0h1m1 0h2m4 0h2m69 0h2m17 0h2m28 0h3m11 0h1m7 0h2m16 0h2m17 0h1m2 0h2m17 0h2m30 0h2m8 0h1m33 0h2m21 0h2m2 0h2m34 0h3m44 0h2m4 0h2M185 296.5h1m2 0h2m20 0h2m16 0h2m35 0h2m5 0h1m4 0h2m38 0h1m41 0h2m65 0h2m30 0h2m52 0h2m51 0h2m4 0h1m52 0h1m70 0h1m2 0h2m2 0h1m27 0h2m3 0h2m4 0h1m29 0h2m8 0h2m1 0h1m18 0h2m2 0h2m8 0h2m16 0h2m7 0h2m10 0h2m26 0h1M163 297.5h2m46 0h2m14 0h2m4 0h2m73 0h2m13 0h2m17 0h2m64 0h2m4 0h1m2 0h2m41 0h2m13 0h2m11 0h2m27 0h2m6 0h2m30 0h2m6 0h4m31 0h4m26 0h2m5 0h1m24 0h2m12 0h2m3 0h1m48 0h2m18 0h2m18 0h1m7 0h2m10 0h2m4 0h3m16 0h2m6 0h1m27 0h3m7 0h1m2 0h2m16 0h2m21 0h2m10 0h1M195 298.5h2m17 0h3m18 0h2m18 0h1m4 0h1m43 0h2m1 0h2m4 0h4m10 0h2m41 0h2m31 0h3m5 0h1m8 0h2m41 0h2m45 0h2m33 0h2m21 0h2m4 0h2m22 0h2m27 0h1m65 0h2m11 0h2m27 0h3m12 0h2m10 0h2m7 0h2m9 0h2m2 0h2m7 0h2m15 0h2m11 0h2m16 0h2m39 0h2M175 299.5h3m3 0h1m32 0h1m13 0h2m8 0h2m9 0h2m23 0h2m1 0h2m15 0h2m19 0h3m12 0h2m38 0h2m27 0h2m15 0h2m5 0h2m11 0h2m7 0h2m8 0h2m38 0h2m10 0h2m27 0h2m26 0h1m22 0h1m21 0h3m29 0h1m1 0h2m6 0h2m16 0h1m14 0h2m75 0h2m47 0h1m1 0h1m4 0h4m12 0h1m8 0h2m10 0h2m22 0h2M164 300.5h1m51 0h2m2 0h1m27 0h2m46 0h2m11 0h2m6 0h2m3 0h2m2 0h2m3 0h1m1 0h2m20 0h1m24 0h2m69 0h2m13 0h2m1 0h1m3 0h2m9 0h2m7 0h2m25 0h2m56 0h2m4 0h2m9 0h2m56 0h2m11 0h2m36 0h3m41 0h2m17 0h4m21 0h2m37 0h1m46 0h2m43 0h2M179 301.5h2m13 0h2m2 0h2m28 0h2m38 0h2m7 0h2m9 0h1m5 0h2m21 0h1m79 0h2m4 0h2m36 0h2m8 0h2m20 0h4m17 0h2m7 0h1m5 0h1m4 0h2m52 0h2m15 0h5m15 0h2m3 0h1m17 0h2m18 0h2m72 0h2m28 0h2m18 0h2m9 0h2m14 0h2m13 0h2m20 0h2m10 0h1m2 0h2m9 0h2m43 0h2m2 0h2m2 0h2m5 0h1M247 302.5h2m4 0h2m21 0h1m24 0h2m41 0h2m20 0h1m45 0h2m19 0h2m8 0h2m17 0h2m2 0h1m36 0h2m3 0h1m9 0h2m13 0h1m9 0h2m27 0h2m51 0h2m9 0h2m27 0h2m39 0h2m34 0h2m22 0h2m5 0h2m89 0h2m12 0h2m11 0h2m4 0h1m15 0h2M179 303.5h1m6 0h2m13 0h2m114 0h2m20 0h4m4 0h2m2 0h2m26 0h1m27 0h2m10 0h2m24 0h2m7 0h2m33 0h2m96 0h2m1 0h1m30 0h1m25 0h2m8 0h2m21 0h1m27 0h1m15 0h2m11 0h2m15 0h2m15 0h2m14 0h3m4 0h2m2 0h2m55 0h2m6 0h2m8 0h1m28 0h2m12 0h1M153 304.5h1m11 0h2m2 0h2m8 0h2m15 0h2m4 0h2m1 0h2m3 0h2m4 0h2m3 0h2m4 0h2m1 0h2m7 0h2m1 0h2m36 0h2m31 0h2m28 0h2m38 0h2m4 0h2m31 0h2m38 0h1m8 0h2m31 0h2m12 0h2m1 0h1m7 0h3m11 0h2m14 0h1m29 0h2m43 0h2m42 0h2m9 0h2m25 0h2m37 0h2m35 0h2m130 0h1M155 305.5h2m25 0h1m39 0h2m5 0h2m44 0h1m14 0h2m32 0h2m5 0h2m5 0h2m170 0h2m8 0h2m9 0h2m16 0h1m27 0h2m4 0h2m44 0h2m36 0h2m21 0h2m8 0h2m6 0h2m9 0h2m18 0h2m8 0h2m41 0h2m10 0h1m30 0h1m1 0h3m23 0h2m14 0h2m18 0h2m11 0h2M204 306.5h2m58 0h2m4 0h2m45 0h2m71 0h1m45 0h2m1 0h2m23 0h2m1 0h2m41 0h1m8 0h2m62 0h2m17 0h3m2 0h2m34 0h2m43 0h2m21 0h2m43 0h3m1 0h1m20 0h2m13 0h1m11 0h2m9 0h2m17 0h2m19 0h2m11 0h1m31 0h2m7 0h2m7 0h2M163 307.5h2m8 0h1m31 0h1m22 0h2m5 0h2m23 0h2m29 0h2m13 0h2m5 0h2m14 0h2m61 0h1m33 0h2m35 0h2m55 0h2m25 0h2m8 0h2m14 0h2m93 0h2m50 0h2m16 0h2m2 0h2m42 0h1m42 0h2m15 0h2m5 0h2m16 0h2m8 0h2m23 0h1m10 0h2M154 308.5h2m7 0h2m24 0h2m19 0h2m14 0h2m55 0h2m12 0h2m7 0h2m23 0h2m12 0h2m16 0h2m14 0h2m36 0h2m10 0h2m12 0h2m5 0h2m4 0h1m12 0h2m10 0h1m53 0h2m4 0h3m3 0h2m56 0h1m55 0h2m2 0h2m45 0h2m25 0h2m19 0h2m4 0h1m4 0h1m6 0h2m22 0h1m8 0h1m7 0h2m12 0h4m11 0h2m6 0h3m17 0h2m10 0h2m5 0h2m6 0h4M211 309.5h2m60 0h2m6 0h1m5 0h2m33 0h2m20 0h2m6 0h1m57 0h2m2 0h2m39 0h2m51 0h1m52 0h2m31 0h2m14 0h1m31 0h2m15 0h2m9 0h2m29 0h2m12 0h2m21 0h2m10 0h2m26 0h2m6 0h2m27 0h2m9 0h1m59 0h2m2 0h2m1 0h2M153 310.5h2m6 0h2m55 0h1m40 0h4m51 0h2m85 0h2m16 0h2m2 0h1m8 0h2m14 0h2m3 0h2m5 0h2m25 0h2m3 0h2m32 0h2m3 0h2m27 0h2m3 0h2m4 0h2m4 0h2m1 0h1m17 0h2m44 0h2m14 0h1m8 0h2m2 0h2m27 0h2m12 0h2m35 0h2m26 0h2m12 0h2m26 0h2m2 0h1m12 0h2m47 0h2M249 311.5h1m2 0h2m13 0h2m4 0h2m30 0h2m44 0h1m29 0h2m6 0h2m26 0h2m18 0h2m2 0h1m3 0h1m3 0h2m10 0h2m27 0h2m6 0h2m5 0h1m13 0h2m18 0h2m1 0h2m8 0h1m5 0h2m12 0h2m1 0h2m20 0h2m18 0h2m73 0h2m8 0h2m15 0h2m7 0h2m23 0h2m5 0h2m6 0h2m2 0h2m53 0h2m4 0h2m23 0h2m1 0h2m21 0h2m37 0h2M154 312.5h1m23 0h2m14 0h2m9 0h2m57 0h2m3 0h2m9 0h2m14 0h2m15 0h2m49 0h3m8 0h4m3 0h2m9 0h2m23 0h2m14 0h2m73 0h2m78 0h2m12 0h2m8 0h1m5 0h2m16 0h2m40 0h2m34 0h4m3 0h2m16 0h1m3 0h1m25 0h2m21 0h3m12 0h2m5 0h1m9 0h2m7 0h1m49 0h3m4 0h3m12 0h1m10 0h2M178 313.5h1m51 0h2m25 0h1m2 0h1m18 0h1m26 0h1m13 0h2m57 0h1m13 0h2m22 0h2m56 0h2m28 0h2m5 0h2m5 0h1m40 0h2m2 0h5m32 0h1m2 0h2m2 0h1m32 0h2m58 0h2m11 0h4m41 0h2m111 0h2M185 314.5h2m14 0h2m11 0h1m3 0h4m24 0h1m1 0h1m29 0h2m5 0h2m25 0h1m6 0h2m5 0h2m6 0h2m7 0h2m13 0h3m1 0h2m19 0h2m8 0h1m15 0h2m12 0h2m23 0h1m29 0h2m4 0h2m63 0h1m6 0h2m55 0h2m21 0h2m16 0h2m1 0h1m41 0h2m25 0h2m17 0h4m17 0h2m38 0h2m23 0h3m71 0h2M167 315.5h1m4 0h2m3 0h2m40 0h3m18 0h1m13 0h2m82 0h2m11 0h2m18 0h2m23 0h2m29 0h1m15 0h2m9 0h1m8 0h1m5 0h2m13 0h2m24 0h4m35 0h1m45 0h2m28 0h2m6 0h2m12 0h3m45 0h4m17 0h2m83 0h2m25 0h1m15 0h2m56 0h2M217 316.5h2m6 0h2m20 0h2m9 0h2m15 0h2m4 0h2m7 0h1m14 0h2m11 0h2m15 0h2m2 0h2m59 0h1m25 0h2m19 0h1m9 0h2m5 0h2m8 0h2m14 0h2m32 0h1m12 0h1m38 0h2m6 0h2m4 0h2m4 0h2m10 0h2m24 0h2m15 0h2m10 0h2m5 0h2m16 0h2m1 0h2m14 0h2m3 0h2m1 0h2m13 0h1m2 0h2m74 0h2m46 0h2m7 0h2M177 317.5h4m1 0h2m21 0h2m6 0h2m1 0h2m27 0h2m5 0h2m9 0h1m15 0h2m31 0h2m3 0h2m5 0h1m15 0h2m20 0h2m14 0h2m3 0h1m10 0h3m24 0h4m47 0h2m17 0h1m16 0h2m99 0h1m22 0h2m4 0h2m7 0h3m27 0h2m19 0h2m37 0h4m9 0h2m23 0h2m11 0h1m1 0h2m6 0h2m40 0h2m9 0h2m27 0h2m8 0h3m3 0h5M169 318.5h2m53 0h1m70 0h2m19 0h2m26 0h3m3 0h2m14 0h2m32 0h2m21 0h2m22 0h1m5 0h2m15 0h1m45 0h2m52 0h2m24 0h3m22 0h3m18 0h2m15 0h2m1 0h2m36 0h2m13 0h2m22 0h2m15 0h1m17 0h1m42 0h1m9 0h2m39 0h1m11 0h2m25 0h2m13 0h2M153 319.5h1m14 0h2m18 0h1m8 0h1m3 0h2m3 0h1m7 0h1m12 0h2m10 0h4m21 0h2m18 0h2m2 0h1m16 0h2m1 0h3m30 0h2m1 0h2m12 0h2m19 0h2m117 0h2m61 0h2m15 0h2m24 0h2m38 0h2m6 0h2m2 0h2m1 0h2m19 0h2m37 0h2m1 0h1m30 0h2m5 0h1m20 0h1m2 0h2m30 0h2m25 0h2m1 0h2m2 0h2m33 0h2m8 0h2m15 0h2m10 0h1M169 320.5h1m7 0h2m2 0h2m19 0h1m5 0h2m5 0h2m24 0h1m9 0h2m5 0h2m30 0h2m11 0h1m7 0h1m1 0h2m5 0h1m7 0h2m3 0h2m36 0h2m8 0h2m14 0h2m4 0h2m3 0h1m5 0h2m12 0h4m15 0h2m17 0h2m6 0h2m13 0h1m20 0h1m58 0h2m15 0h1m2 0h2m38 0h2m18 0h2m3 0h2m30 0h2m6 0h2m21 0h2m11 0h2m8 0h2m10 0h2m37 0h1m10 0h1M154 321.5h2m28 0h1m2 0h1m14 0h4m97 0h2m55 0h1m5 0h2m13 0h2m13 0h1m35 0h2m6 0h2m13 0h2m2 0h1m41 0h3m52 0h2m8 0h2m5 0h1m26 0h2m7 0h2m29 0h2m24 0h2m11 0h2m37 0h1m16 0h2m45 0h1m4 0h2m20 0h2m1 0h1m10 0h2m9 0h1m50 0h2M176 322.5h1m9 0h3m6 0h1m9 0h2m24 0h2m15 0h2m15 0h2m17 0h1m24 0h2m29 0h1m16 0h2m13 0h1m10 0h2m8 0h2m18 0h2m28 0h1m9 0h1m13 0h2m3 0h1m14 0h2m3 0h1m18 0h2m35 0h2m19 0h1m25 0h2m36 0h1m11 0h2m1 0h3m15 0h2m4 0h2m33 0h2m22 0h1m19 0h2m7 0h1m3 0h2m37 0h1m10 0h2m16 0h2m9 0h2m43 0h2m12 0h2M157 323.5h2m11 0h2m22 0h2m19 0h1m25 0h4m2 0h1m23 0h3m5 0h2m28 0h2m8 0h2m3 0h1m103 0h1m34 0h2m31 0h1m30 0h1m47 0h2m3 0h2m64 0h1m5 0h1m40 0h1m28 0h2m6 0h2m12 0h2m4 0h2m9 0h1m4 0h2m19 0h2m18 0h2m19 0h1M203 324.5h2m16 0h2m29 0h1m15 0h2m11 0h1m5 0h2m20 0h2m43 0h1m35 0h2m64 0h2m12 0h1m16 0h2m71 0h2m56 0h2m12 0h1m26 0h2m19 0h2m48 0h2m4 0h2m23 0h1m11 0h2m7 0h2m3 0h2m20 0h2m7 0h2m67 0h2m5 0h2m7 0h2M160 325.5h2m2 0h2m1 0h2m27 0h2m11 0h2m12 0h4m8 0h2m6 0h2m15 0h4m8 0h1m15 0h1m11 0h2m34 0h2m9 0h1m1 0h2m28 0h1m46 0h2m3 0h1m8 0h2m8 0h1m16 0h1m41 0h2m3 0h2m7 0h2m33 0h2m3 0h1m7 0h2m19 0h1m23 0h2m28 0h2m28 0h1m6 0h2m28 0h2m30 0h2m9 0h2m5 0h1m8 0h2m26 0h2m7 0h1m86 0h2M165 326.5h1m38 0h2m2 0h2m8 0h2m4 0h2m6 0h2m30 0h2m24 0h2m15 0h2m1 0h1m2 0h2m2 0h2m20 0h4m40 0h3m58 0h2m29 0h2m99 0h2m5 0h2m120 0h2m19 0h4m50 0h2m10 0h2m29 0h2m14 0h1m3 0h2m7 0h2m4 0h1m6 0h2m31 0h2M190 327.5h1m14 0h1m9 0h1m27 0h2m32 0h1m22 0h2m8 0h2m35 0h2m80 0h4m13 0h1m6 0h1m20 0h2m30 0h2m72 0h2m39 0h2m51 0h2m2 0h2m31 0h1m15 0h1m4 0h2m13 0h1m3 0h2m39 0h2m55 0h2m19 0h2m5 0h2M157 328.5h1m2 0h2m14 0h1m2 0h2m10 0h2m30 0h2m4 0h3m1 0h2m14 0h1m4 0h2m8 0h2m40 0h2m3 0h3m2 0h2m108 0h2m54 0h2m12 0h2m123 0h2m4 0h2m9 0h2m8 0h2m15 0h2m5 0h2m39 0h4m73 0h1m1 0h1m30 0h2m40 0h2m21 0h3m3 0h2M157 329.5h2m12 0h2m17 0h2m14 0h2m24 0h2m3 0h4m3 0h2m8 0h1m23 0h1m16 0h2m3 0h2m5 0h2m29 0h2m3 0h2m45 0h2m24 0h3m2 0h2m2 0h2m26 0h2m5 0h2m48 0h2m4 0h2m169 0h2m57 0h2m48 0h2m8 0h2m3 0h2m24 0h3m17 0h2m49 0h1M161 330.5h1m30 0h3m3 0h1m36 0h1m7 0h1m8 0h2m12 0h1m6 0h3m14 0h1m5 0h3m25 0h2m32 0h2m30 0h2m12 0h2m1 0h3m10 0h2m5 0h2m19 0h2m55 0h2m15 0h2m32 0h2m46 0h1m6 0h4m24 0h2m3 0h2m7 0h2m55 0h2m30 0h2m30 0h2m3 0h1m5 0h2m34 0h2m5 0h2m4 0h3M162 331.5h2m1 0h2m17 0h2m12 0h2m5 0h2m5 0h1m5 0h3m11 0h2m10 0h1m5 0h5m2 0h2m5 0h5m8 0h2m14 0h1m9 0h2m1 0h5m2 0h2m1 0h2m10 0h1m3 0h2m7 0h2m6 0h2m22 0h1m156 0h1m10 0h2m2 0h2m9 0h2m21 0h2m54 0h1m50 0h3m54 0h2m27 0h2m56 0h2m54 0h2m5 0h2m19 0h2m2 0h1M155 332.5h2m14 0h2m4 0h2m8 0h2m13 0h2m4 0h2m3 0h2m2 0h2m16 0h2m11 0h2m4 0h2m1 0h2m16 0h4m8 0h3m7 0h2m1 0h1m33 0h2m11 0h2m10 0h2m41 0h2m20 0h1m5 0h4m15 0h1m1 0h2m19 0h2m60 0h2m32 0h2m18 0h2m33 0h2m2 0h1m40 0h2m11 0h3m8 0h2m5 0h3m10 0h1m23 0h3m17 0h1m4 0h2m20 0h2m9 0h2m33 0h2m15 0h2m13 0h1m45 0h1m14 0h1M180 333.5h2m12 0h2m8 0h2m31 0h2m12 0h2m11 0h2m21 0h1m15 0h2m3 0h2m9 0h2m1 0h2m39 0h2m23 0h2m41 0h1m7 0h2m8 0h1m49 0h2m39 0h2m70 0h2m3 0h1m36 0h1m26 0h2m8 0h1m14 0h1m40 0h2m19 0h2m26 0h2m1 0h1m4 0h2m1 0h4m23 0h2m7 0h1m31 0h1m25 0h2m6 0h2m2 0h1M157 334.5h2m11 0h2m51 0h2m2 0h3m14 0h2m3 0h1m4 0h2m3 0h1m8 0h2m11 0h2m7 0h2m7 0h2m13 0h2m19 0h2m12 0h1m44 0h2m10 0h2m26 0h2m15 0h2m17 0h2m8 0h2m32 0h2m2 0h2m8 0h1m14 0h2m28 0h2m84 0h2m63 0h2m3 0h2m50 0h2m15 0h1m6 0h3m1 0h1m3 0h2m3 0h1m17 0h1m7 0h2m8 0h2m22 0h2m15 0h2M172 335.5h1m9 0h1m1 0h2m1 0h1m7 0h1m8 0h2m4 0h2m16 0h3m3 0h2m17 0h2m4 0h2m2 0h2m26 0h3m15 0h1m2 0h3m2 0h1m38 0h2m10 0h2m14 0h2m10 0h2m3 0h2m29 0h2m20 0h1m2 0h2m53 0h2m17 0h2m1 0h2m20 0h2m2 0h2m21 0h2m14 0h2m8 0h1m80 0h2m41 0h2m8 0h2m9 0h1m19 0h2m17 0h3m1 0h1m8 0h2m20 0h2m39 0h2m27 0h1M172 336.5h1m7 0h1m2 0h2m3 0h1m12 0h1m12 0h1m20 0h2m1 0h2m13 0h3m2 0h1m9 0h2m4 0h2m5 0h3m7 0h2m13 0h1m46 0h2m10 0h2m2 0h2m24 0h2m5 0h2m91 0h2m3 0h2m10 0h2m21 0h2m6 0h2m56 0h2m4 0h1m5 0h2m39 0h2m12 0h4m5 0h1m49 0h2m96 0h3m27 0h2m8 0h1m22 0h2m10 0h2M175 337.5h2m1 0h2m2 0h2m29 0h2m6 0h1m12 0h2m9 0h2m7 0h1m1 0h2m12 0h2m1 0h2m11 0h2m14 0h2m14 0h2m1 0h2m1 0h2m10 0h2m44 0h2m5 0h2m36 0h2m7 0h1m5 0h2m11 0h2m10 0h2m22 0h2m12 0h2m82 0h2m9 0h2m10 0h2m2 0h2m50 0h1m23 0h2m38 0h2m32 0h2m15 0h2m4 0h1m6 0h2m9 0h2m10 0h1m1 0h2m18 0h2m13 0h4m9 0h2m35 0h2m6 0h2m4 0h2M163 338.5h2m13 0h3m4 0h2m7 0h2m19 0h2m13 0h1m5 0h2m8 0h1m6 0h1m2 0h1m4 0h2m11 0h2m1 0h2m21 0h2m4 0h2m14 0h2m24 0h4m1 0h2m26 0h2m17 0h2m15 0h2m28 0h2m17 0h1m20 0h2m42 0h2m27 0h2m56 0h2m1 0h2m2 0h1m3 0h2m7 0h2m4 0h2m16 0h2m7 0h2m21 0h2m6 0h2m35 0h1m26 0h2m22 0h2m12 0h2m40 0h2m23 0h1m5 0h2m24 0h2m4 0h1M157 339.5h1m2 0h2m13 0h1m1 0h2m7 0h2m26 0h7m2 0h2m6 0h1m4 0h2m1 0h2m12 0h2m4 0h2m1 0h1m18 0h2m8 0h1m11 0h2m11 0h2m11 0h1m29 0h2m4 0h2m13 0h3m35 0h1m21 0h2m7 0h2m15 0h1m38 0h2m2 0h2m8 0h1m20 0h2m122 0h1m11 0h1m26 0h2m9 0h1m10 0h1m1 0h1m9 0h2m5 0h2m9 0h2m1 0h2m2 0h1m23 0h2m29 0h1m19 0h1m14 0h2m7 0h3m10 0h1m10 0h2m25 0h2M161 340.5h2m22 0h1m7 0h2m10 0h2m13 0h1m5 0h2m9 0h5m2 0h3m9 0h3m7 0h2m3 0h2m18 0h2m11 0h2m1 0h2m2 0h2m11 0h2m17 0h2m10 0h1m12 0h2m11 0h2m3 0h2m98 0h2m21 0h2m39 0h2m7 0h1m7 0h2m32 0h2m4 0h1m13 0h2m9 0h2m28 0h1m21 0h2m4 0h1m39 0h2m6 0h2m34 0h2m32 0h2m16 0h1m34 0h2m25 0h1m16 0h2m3 0h2m7 0h2M162 341.5h1m6 0h2m11 0h3m2 0h2m2 0h1m3 0h1m8 0h3m12 0h2m8 0h3m3 0h2m16 0h2m5 0h2m21 0h2m2 0h1m16 0h2m3 0h2m5 0h2m6 0h1m20 0h3m29 0h2m6 0h1m54 0h2m20 0h2m41 0h2m56 0h2m32 0h2m25 0h1m33 0h2m12 0h4m36 0h2m3 0h2m40 0h2m9 0h2m22 0h4m5 0h2m3 0h2m6 0h2m14 0h2m10 0h2m2 0h2m49 0h2M171 342.5h2m24 0h2m15 0h2m1 0h2m1 0h2m5 0h1m2 0h3m12 0h1m6 0h1m3 0h2m7 0h2m5 0h1m17 0h2m45 0h1m9 0h2m2 0h2m7 0h2m8 0h2m3 0h2m2 0h3m6 0h2m29 0h2m24 0h1m15 0h2m6 0h1m55 0h2m34 0h2m53 0h2m27 0h2m9 0h2m7 0h2m36 0h2m37 0h2m31 0h2m54 0h2m69 0h2m12 0h3m2 0h2M162 343.5h2m3 0h2m16 0h2m7 0h2m21 0h3m7 0h2m2 0h6m1 0h2m1 0h3m4 0h2m9 0h2m2 0h3m31 0h3m1 0h2m5 0h2m11 0h2m2 0h1m10 0h4m12 0h4m26 0h2m19 0h1m69 0h2m1 0h1m4 0h2m7 0h2m28 0h2m66 0h2m9 0h2m3 0h2m24 0h1m18 0h2m12 0h1m1 0h2m5 0h1m24 0h1m16 0h2m28 0h2m13 0h2m16 0h1m11 0h2m10 0h2m11 0h2m17 0h2m4 0h2m15 0h2m3 0h2m3 0h2m16 0h2m3 0h2m20 0h2m5 0h2M173 344.5h2m5 0h1m22 0h2m10 0h2m1 0h2m1 0h2m18 0h2m5 0h3m13 0h2m29 0h3m21 0h2m20 0h2m6 0h2m59 0h2m8 0h2m12 0h2m4 0h2m56 0h2m3 0h2m20 0h2m2 0h2m37 0h1m4 0h2m47 0h2m49 0h2m34 0h2m31 0h3m30 0h1m4 0h1m26 0h2m20 0h2m32 0h3m4 0h2m20 0h2m7 0h2m1 0h2m6 0h1m9 0h2M168 345.5h2m14 0h2m1 0h2m4 0h2m4 0h2m15 0h2m8 0h2m1 0h3m1 0h2m5 0h3m5 0h1m19 0h2m4 0h3m6 0h2m4 0h5m3 0h2m7 0h3m3 0h1m2 0h1m24 0h2m27 0h2m7 0h1m10 0h2m15 0h2m30 0h2m74 0h2m42 0h1m25 0h2m4 0h2m29 0h2m31 0h2m18 0h2m12 0h2m57 0h2m24 0h2m12 0h3m24 0h2m3 0h2m58 0h2m16 0h2m6 0h2m9 0h3M156 346.5h1m17 0h2m12 0h2m7 0h7m2 0h2m2 0h2m3 0h2m5 0h2m11 0h2m10 0h1m9 0h1m4 0h2m10 0h2m5 0h2m12 0h2m5 0h2m3 0h2m10 0h1m3 0h1m4 0h2m3 0h2m1 0h2m25 0h1m1 0h2m9 0h1m17 0h1m2 0h1m14 0h2m10 0h2m16 0h1m40 0h1m15 0h2m11 0h2m7 0h2m18 0h2m11 0h2m5 0h2m28 0h2m19 0h2m10 0h1m52 0h1m18 0h2m9 0h1m1 0h1m23 0h2m15 0h2m48 0h2m13 0h2m17 0h2m2 0h2m6 0h2m9 0h1m36 0h2m11 0h2M173 347.5h2m13 0h1m3 0h1m8 0h3m2 0h1m7 0h3m7 0h2m20 0h3m5 0h2m1 0h2m1 0h2m1 0h1m4 0h2m3 0h2m3 0h2m13 0h3m8 0h2m10 0h3m17 0h2m6 0h2m23 0h2m3 0h2m22 0h1m25 0h2m37 0h2m34 0h2m8 0h2m17 0h2m11 0h2m7 0h2m25 0h2m16 0h1m45 0h2m3 0h3m12 0h2m14 0h2m4 0h3m3 0h2m12 0h1m29 0h2m20 0h2m9 0h2m33 0h2m52 0h2m31 0h2M174 348.5h2m3 0h2m2 0h2m4 0h2m17 0h2m2 0h2m3 0h3m1 0h2m7 0h2m1 0h2m5 0h1m7 0h1m1 0h2m1 0h2m2 0h2m11 0h2m26 0h2m25 0h2m10 0h2m15 0h2m9 0h2m2 0h2m3 0h1m50 0h2m11 0h2m86 0h2m21 0h2m61 0h2m7 0h2m1 0h2m23 0h2m38 0h2m33 0h2m12 0h2m61 0h2m6 0h2m7 0h1m11 0h4m28 0h2m1 0h2m3 0h2m6 0h2m1 0h4m8 0h2M170 349.5h2m11 0h2m15 0h2m1 0h1m12 0h2m2 0h3m2 0h2m9 0h2m2 0h2m1 0h2m3 0h2m6 0h2m18 0h4m13 0h2m8 0h2m18 0h2m18 0h2m10 0h4m1 0h1m18 0h1m67 0h2m7 0h1m3 0h2m68 0h2m8 0h1m3 0h1m33 0h1m16 0h2m20 0h2m1 0h1m61 0h2m11 0h2m20 0h2m22 0h2m85 0h2m3 0h1m23 0h2m8 0h2m9 0h2m5 0h1m9 0h3m9 0h2m12 0h2M161 350.5h1m2 0h3m8 0h2m2 0h2m10 0h5m3 0h2m5 0h2m28 0h1m7 0h2m7 0h2m3 0h4m4 0h1m22 0h2m4 0h2m15 0h2m9 0h2m1 0h2m45 0h2m1 0h2m27 0h3m10 0h2m94 0h2m53 0h2m18 0h2m39 0h2m31 0h2m5 0h4m6 0h6m27 0h2m22 0h2m16 0h1m9 0h2m31 0h2m10 0h2m11 0h2m1 0h2m2 0h1m12 0h2m1 0h2m16 0h2m27 0h2M156 351.5h2m12 0h2m15 0h1m13 0h2m5 0h1m1 0h1m6 0h2m1 0h1m11 0h3m5 0h1m5 0h2m1 0h2m4 0h2m5 0h2m10 0h3m2 0h1m11 0h2m23 0h2m11 0h2m57 0h2m8 0h2m1 0h1m6 0h2m27 0h2m16 0h2m4 0h2m14 0h1m38 0h2m12 0h2m12 0h3m18 0h1m10 0h2m5 0h4m26 0h2m25 0h2m3 0h2m5 0h2m13 0h1m7 0h2m8 0h2m17 0h2m9 0h2m22 0h2m23 0h1m10 0h2m37 0h4m3 0h2m8 0h2m46 0h2m3 0h3m7 0h2M160 352.5h2m10 0h2m12 0h2m21 0h2m2 0h2m1 0h2m2 0h2m2 0h2m11 0h2m2 0h2m2 0h2m3 0h2m2 0h2m1 0h2m1 0h2m8 0h1m4 0h1m10 0h1m12 0h2m3 0h2m22 0h2m1 0h2m17 0h2m3 0h1m1 0h2m3 0h2m2 0h2m3 0h2m22 0h1m5 0h4m15 0h2m7 0h2m19 0h2m40 0h2m77 0h2m47 0h1m22 0h2m12 0h2m9 0h2m11 0h1m17 0h2m84 0h2m32 0h2m13 0h2m2 0h1m6 0h1m13 0h1m7 0h1m43 0h2M155 353.5h2m9 0h2m29 0h2m4 0h2m6 0h2m2 0h2m18 0h2m3 0h1m2 0h2m21 0h3m8 0h2m2 0h2m9 0h4m18 0h2m1 0h2m16 0h2m4 0h2m12 0h2m71 0h2m18 0h2m28 0h2m9 0h2m5 0h4m4 0h1m15 0h4m43 0h2m1 0h1m6 0h2m2 0h2m5 0h2m16 0h1m9 0h2m9 0h2m11 0h2m1 0h1m36 0h3m51 0h1m4 0h2m8 0h2m46 0h2m40 0h1m15 0h2m2 0h1m10 0h2m9 0h2m14 0h2M154 354.5h2m22 0h2m5 0h2m20 0h2m11 0h2m23 0h4m6 0h2m3 0h2m19 0h2m28 0h1m1 0h2m16 0h2m13 0h1m80 0h1m5 0h2m37 0h2m11 0h2m5 0h1m72 0h1m11 0h4m49 0h2m2 0h2m43 0h2m13 0h2m2 0h2m6 0h1m2 0h2m7 0h2m3 0h2m11 0h1m39 0h2m6 0h2m24 0h2m4 0h2m13 0h1m3 0h2m2 0h2m17 0h2m43 0h1M156 355.5h2m3 0h2m1 0h2m4 0h2m4 0h2m21 0h2m2 0h1m11 0h2m5 0h1m3 0h2m7 0h2m10 0h2m23 0h2m7 0h2m4 0h3m31 0h2m26 0h2m16 0h1m15 0h2m2 0h2m20 0h2m10 0h2m13 0h2m3 0h2m25 0h2m43 0h3m13 0h2m33 0h1m9 0h2m15 0h2m16 0h1m3 0h2m14 0h2m32 0h2m59 0h4m51 0h3m95 0h2m14 0h2m25 0h2M155 356.5h2m13 0h1m18 0h1m4 0h2m31 0h2m6 0h1m6 0h1m26 0h1m7 0h2m9 0h2m12 0h1m1 0h2m11 0h1m10 0h2m23 0h1m3 0h2m4 0h2m31 0h2m30 0h1m43 0h4m5 0h2m9 0h2m5 0h1m37 0h1m15 0h2m1 0h2m8 0h2m19 0h2m31 0h2m10 0h2m10 0h2m4 0h2m32 0h2m28 0h1m13 0h1m11 0h2m4 0h2m15 0h2m1 0h1m3 0h2m5 0h2m19 0h2m35 0h2m5 0h1m11 0h1m5 0h2m16 0h1m17 0h2M173 357.5h2m11 0h2m11 0h1m4 0h1m23 0h1m7 0h2m16 0h2m1 0h2m13 0h2m4 0h2m1 0h2m16 0h3m7 0h2m42 0h1m9 0h2m6 0h3m15 0h2m5 0h2m3 0h2m16 0h2m10 0h2m7 0h1m2 0h2m30 0h2m13 0h2m2 0h2m16 0h1m12 0h2m34 0h1m97 0h1m55 0h4m4 0h1m33 0h2m39 0h2m49 0h2M154 358.5h1m2 0h1m5 0h2m5 0h1m7 0h2m29 0h2m6 0h2m4 0h2m7 0h2m6 0h2m4 0h3m6 0h1m24 0h2m25 0h2m11 0h2m16 0h1m45 0h1m3 0h2m5 0h2m1 0h2m1 0h2m7 0h1m7 0h2m5 0h2m31 0h1m10 0h2m122 0h2m28 0h3m21 0h2m13 0h1m3 0h2m11 0h2m3 0h2m28 0h2m12 0h2m14 0h1m31 0h2m29 0h4m3 0h2m8 0h2m20 0h1m3 0h2m3 0h2m41 0h2m16 0h1m4 0h2M153 359.5h2m3 0h6m22 0h2m2 0h2m9 0h1m13 0h2m1 0h2m7 0h2m22 0h2m9 0h2m38 0h2m6 0h2m20 0h2m3 0h2m1 0h2m7 0h2m3 0h2m14 0h2m33 0h2m39 0h2m13 0h2m20 0h2m15 0h1m9 0h2m7 0h2m4 0h1m57 0h2m1 0h2m18 0h3m6 0h2m19 0h4m2 0h2m118 0h1m44 0h2m9 0h2m33 0h1m17 0h2m33 0h2m4 0h1M170 360.5h2m37 0h1m15 0h2m4 0h1m15 0h1m5 0h2m5 0h2m21 0h2m15 0h2m2 0h2m9 0h2m1 0h2m16 0h1m11 0h2m23 0h2m20 0h1m4 0h2m23 0h2m6 0h1m12 0h2m41 0h1m24 0h2m2 0h2m48 0h2m23 0h2m1 0h3m17 0h2m13 0h2m3 0h2m9 0h2m23 0h2m4 0h2m16 0h2m13 0h1m2 0h4m19 0h1m29 0h2m38 0h2m23 0h2m1 0h1m1 0h3m1 0h2m4 0h1m5 0h2m11 0h2m7 0h2m3 0h4m23 0h2M174 361.5h2m6 0h2m5 0h2m16 0h2m20 0h2m14 0h2m10 0h4m4 0h2m1 0h2m3 0h4m5 0h2m2 0h2m3 0h3m2 0h2m1 0h2m15 0h2m10 0h1m1 0h2m14 0h2m13 0h2m1 0h1m15 0h2m47 0h2m3 0h2m10 0h2m37 0h2m73 0h2m2 0h2m30 0h2m4 0h1m74 0h2m4 0h2m14 0h2m32 0h2m11 0h1m11 0h3m38 0h2m14 0h2m8 0h2m12 0h2m16 0h2m44 0h1m9 0h2M159 362.5h2m22 0h1m6 0h3m5 0h1m10 0h2m5 0h1m1 0h4m17 0h2m2 0h2m13 0h1m1 0h2m8 0h2m5 0h2m13 0h2m3 0h2m34 0h2m3 0h2m10 0h2m5 0h2m2 0h2m3 0h2m4 0h3m61 0h2m9 0h3m24 0h2m61 0h2m7 0h2m5 0h2m88 0h2m28 0h2m4 0h2m63 0h1m71 0h2m34 0h2m3 0h2m15 0h2M153 363.5h1m43 0h4m6 0h1m22 0h3m8 0h2m48 0h2m9 0h2m11 0h7m10 0h2m33 0h2m13 0h1m38 0h2m12 0h1m3 0h2m29 0h2m1 0h1m13 0h2m30 0h3m3 0h2m2 0h3m29 0h2m52 0h1m44 0h2m5 0h1m2 0h2m17 0h1m14 0h2m33 0h4m19 0h1m23 0h2m21 0h2m9 0h2m14 0h2m1 0h2m49 0h1m7 0h3m8 0h2m13 0h1M153 364.5h1m31 0h2m12 0h1m16 0h2m10 0h1m4 0h2m9 0h2m11 0h2m19 0h2m4 0h2m18 0h2m2 0h1m1 0h2m23 0h2m2 0h2m5 0h2m2 0h2m6 0h1m3 0h2m3 0h1m27 0h2m20 0h2m14 0h2m45 0h4m17 0h2m50 0h2m6 0h2m1 0h2m25 0h2m59 0h2m9 0h2m1 0h2m33 0h1m58 0h2m4 0h1m24 0h2m38 0h2m14 0h1m21 0h2m17 0h2m25 0h3m5 0h2M170 365.5h2m11 0h2m4 0h1m2 0h2m9 0h2m6 0h1m10 0h3m5 0h3m22 0h2m4 0h1m17 0h3m1 0h4m12 0h1m40 0h2m6 0h2m14 0h2m28 0h1m33 0h3m13 0h1m2 0h2m85 0h1m7 0h2m19 0h1m16 0h2m55 0h3m1 0h1m37 0h2m16 0h2m5 0h2m15 0h2m27 0h2m30 0h1m1 0h1m17 0h2m10 0h2m1 0h1m5 0h2m45 0h2m9 0h2m30 0h3M160 366.5h2m7 0h4m2 0h2m37 0h2m2 0h2m4 0h2m24 0h2m13 0h2m9 0h2m24 0h2m7 0h2m7 0h2m32 0h2m5 0h2m32 0h1m12 0h2m48 0h1m7 0h1m1 0h2m30 0h2m25 0h2m6 0h2m8 0h2m7 0h1m10 0h2m29 0h2m42 0h2m34 0h2m1 0h1m7 0h2m23 0h2m16 0h2m8 0h2m17 0h1m25 0h4m44 0h1m10 0h2m37 0h2m4 0h3m7 0h2m12 0h1M156 367.5h2m1 0h3m4 0h1m18 0h2m29 0h2m4 0h2m30 0h2m26 0h2m3 0h2m10 0h1m26 0h2m14 0h2m2 0h2m3 0h1m18 0h2m3 0h2m26 0h2m8 0h2m1 0h2m3 0h3m44 0h2m2 0h2m6 0h2m94 0h1m21 0h2m18 0h1m2 0h2m16 0h1m59 0h2m53 0h1m9 0h2m17 0h1m40 0h1m11 0h2m2 0h1m2 0h1m4 0h2m4 0h2m9 0h2m44 0h2m7 0h2M179 368.5h2m77 0h2m1 0h2m2 0h1m3 0h2m4 0h2m27 0h2m47 0h2m24 0h1m25 0h2m1 0h2m25 0h2m1 0h2m80 0h2m3 0h2m11 0h2m23 0h2m11 0h2m12 0h2m85 0h2m63 0h2m15 0h2m3 0h1m2 0h2m15 0h2m35 0h2m4 0h2m13 0h1m1 0h1m11 0h3m19 0h2m26 0h2m10 0h2M165 369.5h1m5 0h2m18 0h2m1 0h2m66 0h2m15 0h2m4 0h2m2 0h2m18 0h3m16 0h2m12 0h2m52 0h1m22 0h2m14 0h2m1 0h2m3 0h2m16 0h2m3 0h2m1 0h2m9 0h3m5 0h3m2 0h1m37 0h2m36 0h2m14 0h2m12 0h2m26 0h2m19 0h2m7 0h2m58 0h2m13 0h2m15 0h1m12 0h2m9 0h5m43 0h2m12 0h3m1 0h2m22 0h2m51 0h2m2 0h1M156 370.5h2m32 0h1m61 0h2m4 0h2m2 0h2m33 0h2m10 0h1m22 0h2m6 0h2m2 0h1m9 0h2m39 0h2m37 0h2m3 0h2m16 0h2m1 0h2m39 0h2m12 0h2m13 0h2m8 0h2m6 0h2m47 0h1m22 0h1m11 0h3m4 0h2m9 0h2m31 0h2m48 0h2m14 0h1m52 0h1m14 0h1m5 0h2m27 0h2m17 0h2m16 0h2m16 0h2m11 0h1M187 371.5h2m7 0h2m11 0h2m20 0h2m10 0h2m20 0h2m7 0h2m8 0h2m14 0h2m10 0h1m3 0h2m4 0h2m3 0h2m1 0h2m19 0h2m3 0h2m8 0h2m6 0h2m19 0h3m34 0h3m142 0h2m49 0h4m22 0h2m5 0h2m1 0h1m23 0h2m4 0h1m45 0h2m7 0h1m24 0h3m13 0h2m24 0h2m15 0h1m2 0h2m25 0h2m16 0h1m15 0h3m1 0h3M166 372.5h1m4 0h1m15 0h2m1 0h1m11 0h2m17 0h2m14 0h2m30 0h4m19 0h2m2 0h3m49 0h2m3 0h1m18 0h2m19 0h2m20 0h2m12 0h2m1 0h2m28 0h2m4 0h2m59 0h1m35 0h1m37 0h2m24 0h2m21 0h2m95 0h2m12 0h2m36 0h2m10 0h2m6 0h2m31 0h2m3 0h2m6 0h2m10 0h1m18 0h2M176 373.5h2m1 0h2m11 0h2m26 0h2m48 0h2m17 0h1m1 0h1m31 0h2m28 0h2m3 0h2m28 0h2m41 0h2m15 0h1m7 0h1m66 0h2m76 0h2m23 0h2m16 0h2m6 0h2m84 0h2m6 0h3m25 0h3m6 0h2m20 0h4m28 0h2m81 0h2M163 374.5h2m4 0h1m12 0h2m6 0h3m16 0h1m31 0h2m12 0h2m6 0h2m1 0h1m9 0h2m2 0h2m11 0h2m17 0h2m26 0h1m44 0h1m82 0h2m24 0h2m21 0h2m33 0h2m4 0h2m17 0h1m1 0h1m19 0h2m7 0h2m61 0h2m32 0h3m1 0h1m20 0h2m1 0h2m21 0h1m35 0h2m6 0h2m17 0h2m8 0h2m17 0h1m17 0h2m10 0h2m17 0h2M171 375.5h2m27 0h1m1 0h1m15 0h2m3 0h4m57 0h1m1 0h1m23 0h1m29 0h2m46 0h2m21 0h2m1 0h2m51 0h2m39 0h1m28 0h2m13 0h1m8 0h2m4 0h2m30 0h2m7 0h1m1 0h2m32 0h2m69 0h4m23 0h2m7 0h2m13 0h2m14 0h3m42 0h2m3 0h2m21 0h1m10 0h2m11 0h1m17 0h2M153 376.5h1m21 0h2m57 0h4m1 0h2m2 0h1m14 0h1m3 0h2m16 0h3m28 0h2m15 0h2m20 0h2m23 0h1m16 0h2m16 0h2m41 0h2m86 0h2m22 0h2m7 0h2m33 0h1m25 0h2m26 0h2m3 0h1m12 0h2m16 0h1m27 0h2m32 0h1m16 0h2m12 0h2m7 0h2m11 0h2m2 0h2m10 0h2m7 0h2m7 0h1m4 0h2m7 0h2m10 0h4m1 0h2m29 0h2m12 0h1M221 377.5h2m3 0h2m4 0h3m3 0h2m13 0h1m11 0h2m12 0h3m37 0h2m19 0h2m21 0h3m1 0h2m7 0h1m47 0h3m13 0h1m15 0h2m25 0h1m6 0h2m5 0h3m13 0h2m27 0h2m67 0h2m5 0h2m29 0h2m8 0h2m30 0h2m20 0h2m45 0h2m3 0h2m14 0h2m20 0h2m65 0h2m1 0h2m25 0h1m22 0h1M173 378.5h1m8 0h2m113 0h3m25 0h2m12 0h2m9 0h2m3 0h2m62 0h5m1 0h2m102 0h1m5 0h2m3 0h1m108 0h1m15 0h2m1 0h2m17 0h3m74 0h2m22 0h1m11 0h2m1 0h4m30 0h2m9 0h2m35 0h2M158 379.5h2m71 0h2m37 0h2m25 0h2m14 0h2m26 0h2m40 0h1m7 0h2m6 0h3m12 0h3m2 0h2m2 0h2m37 0h1m10 0h1m55 0h1m24 0h1m6 0h2m24 0h2m36 0h2m29 0h2m5 0h2m65 0h1m16 0h2m11 0h2m21 0h2m10 0h2m32 0h2m41 0h2m2 0h2m18 0h1m3 0h2M157 380.5h2m23 0h2m7 0h2m12 0h1m39 0h2m5 0h2m7 0h2m13 0h2m18 0h2m30 0h1m12 0h3m7 0h1m12 0h2m28 0h2m21 0h2m16 0h1m11 0h1m1 0h2m12 0h2m7 0h4m30 0h2m42 0h2m36 0h2m6 0h2m12 0h2m28 0h2m17 0h2m11 0h1m15 0h2m2 0h2m5 0h2m5 0h2m6 0h2m22 0h2m37 0h2m3 0h2m8 0h2m19 0h2m25 0h2m12 0h2m7 0h2m21 0h1m5 0h2m7 0h2m2 0h2M176 381.5h2m22 0h3m21 0h1m9 0h2m1 0h2m54 0h1m42 0h2m7 0h1m36 0h2m4 0h2m16 0h2m17 0h2m18 0h1m5 0h1m12 0h4m7 0h2m10 0h2m26 0h2m39 0h2m14 0h3m6 0h2m12 0h2m1 0h2m3 0h1m18 0h4m9 0h2m11 0h1m91 0h4m9 0h2m2 0h2m20 0h1m11 0h2m14 0h2m12 0h1m26 0h1m3 0h2m6 0h1m16 0h2m37 0h1M212 382.5h2m32 0h3m68 0h2m1 0h2m36 0h2m1 0h2m26 0h2m7 0h2m35 0h2m1 0h2m2 0h2m8 0h2m15 0h2m6 0h2m28 0h2m7 0h2m26 0h2m1 0h2m35 0h2m8 0h2m22 0h2m36 0h2m17 0h2m25 0h2m46 0h2m8 0h2m1 0h2m5 0h1m6 0h2m2 0h1m1 0h2m10 0h2m19 0h2m10 0h2m4 0h1m12 0h2m73 0h2M158 383.5h2m12 0h2m8 0h1m5 0h2m6 0h4m34 0h2m9 0h1m9 0h2m11 0h2m7 0h2m7 0h2m21 0h2m41 0h2m3 0h2m7 0h2m22 0h2m8 0h2m12 0h2m32 0h2m5 0h2m44 0h1m34 0h2m39 0h2m20 0h2m32 0h2m6 0h2m7 0h1m16 0h2m7 0h2m4 0h2m14 0h2m8 0h2m13 0h2m48 0h4m31 0h2m6 0h4m41 0h2m25 0h2m6 0h2m15 0h2M162 384.5h2m19 0h3m1 0h2m36 0h1m32 0h2m27 0h1m19 0h2m28 0h2m7 0h1m4 0h2m84 0h2m16 0h2m18 0h2m42 0h1m7 0h2m1 0h2m7 0h2m11 0h2m1 0h1m48 0h2m5 0h3m13 0h2m38 0h1m50 0h1m19 0h2m16 0h2m2 0h3m27 0h1m10 0h2m19 0h2m12 0h2m1 0h2m33 0h2m26 0h2m14 0h2M173 385.5h1m11 0h1m6 0h1m59 0h2m21 0h4m16 0h2m55 0h2m14 0h2m9 0h4m1 0h2m9 0h2m16 0h2m9 0h2m69 0h2m20 0h2m27 0h2m1 0h1m1 0h4m1 0h1m13 0h1m14 0h2m32 0h2m2 0h2m14 0h2m1 0h2m3 0h2m11 0h2m2 0h2m64 0h2m4 0h2m46 0h2m41 0h2m8 0h2m4 0h2m11 0h2m29 0h3m3 0h2m16 0h2m2 0h2M216 386.5h2m74 0h2m1 0h2m20 0h2m2 0h3m3 0h2m31 0h2m22 0h2m94 0h2m14 0h3m2 0h3m4 0h2m19 0h1m51 0h1m14 0h2m22 0h2m22 0h3m6 0h2m3 0h2m16 0h3m17 0h2m21 0h2m53 0h2m16 0h2m9 0h2m6 0h2m11 0h2m17 0h2m3 0h2m8 0h2m13 0h2m17 0h1m8 0h2m13 0h3M170 387.5h1m53 0h2m1 0h2m5 0h2m31 0h2m1 0h2m8 0h2m2 0h2m32 0h2m7 0h2m22 0h1m45 0h2m18 0h2m15 0h3m11 0h1m45 0h2m33 0h2m4 0h2m1 0h1m41 0h2m36 0h2m14 0h2m3 0h1m2 0h2m39 0h2m32 0h2m22 0h2m16 0h2m18 0h2m4 0h1m8 0h2m20 0h2m31 0h1m3 0h3m10 0h2m53 0h2M196 388.5h2m6 0h2m27 0h2m15 0h2m4 0h3m2 0h2m5 0h1m5 0h2m5 0h3m14 0h2m40 0h2m32 0h1m6 0h2m42 0h2m37 0h4m5 0h1m5 0h2m69 0h2m105 0h2m9 0h2m2 0h1m20 0h2m33 0h1m52 0h1m7 0h2m12 0h3m30 0h1m3 0h1m1 0h2m4 0h1m2 0h1m5 0h2m5 0h2m3 0h1m17 0h2m19 0h1M158 389.5h1m8 0h2m17 0h4m37 0h4m36 0h1m13 0h2m2 0h2m19 0h1m20 0h2m3 0h2m6 0h3m16 0h2m8 0h2m33 0h1m41 0h2m2 0h2m7 0h1m1 0h1m10 0h1m10 0h1m9 0h2m2 0h2m4 0h4m46 0h1m17 0h3m16 0h3m4 0h2m31 0h2m17 0h2m25 0h2m4 0h2m32 0h2m4 0h1m7 0h2m5 0h1m38 0h2m24 0h2m48 0h2m3 0h2m18 0h2m12 0h2m11 0h2m11 0h2m1 0h2M159 390.5h2m63 0h2m4 0h2m7 0h1m4 0h2m27 0h2m2 0h2m23 0h2m11 0h1m2 0h2m59 0h2m33 0h2m1 0h1m37 0h2m17 0h3m4 0h2m29 0h2m45 0h2m57 0h1m3 0h2m20 0h2m27 0h2m18 0h2m6 0h2m22 0h1m11 0h2m1 0h2m11 0h1m11 0h2m7 0h2m21 0h2m4 0h3m8 0h2m11 0h2m14 0h2m8 0h2m15 0h2m12 0h1m6 0h3m8 0h1m2 0h2M162 391.5h2m10 0h2m10 0h2m11 0h2m19 0h4m89 0h1m75 0h2m1 0h1m6 0h2m32 0h2m5 0h1m4 0h3m59 0h2m1 0h2m34 0h1m13 0h2m22 0h3m20 0h2m24 0h1m7 0h2m6 0h2m2 0h1m4 0h2m63 0h2m19 0h2m19 0h2m24 0h2m20 0h2m17 0h2m23 0h2m14 0h2m8 0h4m7 0h2m21 0h1M169 392.5h2m6 0h2m2 0h2m6 0h2m11 0h2m4 0h2m7 0h1m6 0h2m15 0h1m6 0h2m13 0h1m1 0h1m32 0h1m19 0h2m44 0h2m87 0h2m27 0h2m50 0h2m35 0h2m58 0h2m4 0h2m33 0h2m11 0h2m21 0h1m25 0h2m7 0h2m9 0h4m20 0h2m13 0h2m12 0h2m22 0h2m2 0h2m17 0h2m20 0h2m15 0h4m4 0h1m15 0h2m3 0h2M187 393.5h1m12 0h2m6 0h2m44 0h2m12 0h2m1 0h2m6 0h2m20 0h2m3 0h2m3 0h2m11 0h2m43 0h2m10 0h2m8 0h1m20 0h3m48 0h2m35 0h2m8 0h2m12 0h4m37 0h1m15 0h2m5 0h2m15 0h2m44 0h2m52 0h2m4 0h2m24 0h2m22 0h2m3 0h2m37 0h2m2 0h2m15 0h2m17 0h1m13 0h2m30 0h2m3 0h1m6 0h2m5 0h2m5 0h1M155 394.5h2m22 0h2m19 0h2m17 0h2m53 0h2m1 0h2m33 0h2m5 0h2m19 0h2m14 0h2m9 0h1m10 0h2m15 0h2m3 0h1m8 0h2m8 0h2m27 0h1m6 0h2m43 0h1m25 0h2m11 0h2m29 0h2m44 0h2m4 0h2m12 0h2m19 0h2m32 0h2m21 0h2m17 0h3m7 0h1m8 0h2m3 0h2m2 0h2m9 0h1m45 0h2m21 0h2m21 0h2m11 0h2m33 0h1M154 395.5h2m5 0h2m118 0h2m81 0h2m2 0h2m6 0h2m3 0h2m2 0h1m65 0h2m4 0h1m5 0h1m17 0h3m2 0h2m1 0h2m41 0h2m2 0h1m6 0h2m1 0h2m6 0h2m35 0h2m37 0h2m22 0h1m7 0h2m7 0h2m23 0h2m4 0h2m26 0h2m1 0h2m17 0h2m15 0h2m1 0h1m10 0h2m5 0h2m12 0h2m9 0h2m7 0h2m26 0h1m2 0h2m14 0h3m27 0h1m22 0h1M156 396.5h2m47 0h2m9 0h3m19 0h2m26 0h1m14 0h2m74 0h2m28 0h2m1 0h2m15 0h2m7 0h2m2 0h2m10 0h2m32 0h2m48 0h2m18 0h2m8 0h2m1 0h2m2 0h1m32 0h1m57 0h4m1 0h2m5 0h2m17 0h2m43 0h2m106 0h2m6 0h2m18 0h1m31 0h2m8 0h2m7 0h2m5 0h3m2 0h1M168 397.5h2m6 0h2m45 0h4m41 0h2m56 0h2m59 0h2m43 0h2m11 0h2m24 0h2m19 0h2m7 0h2m17 0h2m20 0h1m26 0h5m35 0h2m6 0h2m2 0h2m2 0h2m1 0h2m6 0h1m13 0h2m9 0h1m12 0h1m6 0h2m83 0h1m34 0h2m12 0h3m28 0h2m13 0h1m1 0h1m4 0h3m7 0h2m2 0h2m9 0h1m3 0h2m24 0h2M166 398.5h2m1 0h2m23 0h2m9 0h2m7 0h1m7 0h2m7 0h2m22 0h1m94 0h2m17 0h2m12 0h2m66 0h2m20 0h2m8 0h2m32 0h2m14 0h2m4 0h2m7 0h2m17 0h2m15 0h2m47 0h2m20 0h1m3 0h2m13 0h2m2 0h2m35 0h2m12 0h2m11 0h2m4 0h2m4 0h2m7 0h2m2 0h1m6 0h2m7 0h2m6 0h2m21 0h2m23 0h2m4 0h1m11 0h1m1 0h3m12 0h2m14 0h2m9 0h1M191 399.5h2m5 0h2m7 0h1m3 0h2m18 0h2m33 0h2m34 0h2m5 0h2m2 0h2m41 0h3m13 0h3m35 0h2m9 0h1m14 0h2m15 0h1m91 0h3m1 0h2m28 0h2m5 0h1m20 0h4m51 0h2m19 0h2m5 0h1m1 0h1m2 0h1m25 0h2m7 0h1m3 0h2m22 0h1m46 0h2m24 0h1m40 0h2m5 0h2m6 0h3m21 0h1m7 0h2M199 400.5h2m43 0h2m33 0h2m58 0h2m10 0h1m34 0h1m2 0h1m15 0h1m16 0h2m23 0h2m45 0h2m34 0h4m2 0h2m14 0h2m10 0h1m8 0h2m4 0h1m12 0h2m15 0h2m22 0h2m13 0h2m9 0h2m48 0h2m8 0h2m3 0h2m25 0h2m7 0h2m33 0h2m4 0h3m41 0h2m26 0h2m11 0h2m17 0h1m10 0h1M155 401.5h2m36 0h2m19 0h2m37 0h1m2 0h2m17 0h2m6 0h2m13 0h2m5 0h2m22 0h2m8 0h2m4 0h2m35 0h1m1 0h2m11 0h1m13 0h2m37 0h1m19 0h2m6 0h1m1 0h2m2 0h2m21 0h2m8 0h2m8 0h1m8 0h1m5 0h1m96 0h2m74 0h2m29 0h2m4 0h2m21 0h2m11 0h2m19 0h1m19 0h1m1 0h1m15 0h3M215 402.5h2m2 0h2m2 0h2m3 0h2m20 0h5m3 0h2m20 0h3m8 0h2m93 0h2m14 0h2m83 0h2m77 0h2m17 0h2m20 0h2m57 0h1m17 0h2m24 0h2m40 0h2m17 0h1m7 0h2m15 0h4m18 0h3m7 0h2m20 0h2m9 0h2m6 0h2m9 0h3m14 0h1m16 0h1M159 403.5h2m16 0h1m29 0h2m42 0h2m4 0h2m11 0h2m6 0h2m5 0h2m15 0h2m36 0h2m7 0h2m2 0h1m26 0h2m4 0h1m29 0h3m4 0h2m4 0h1m15 0h2m1 0h2m8 0h2m13 0h2m33 0h2m16 0h2m19 0h2m3 0h2m14 0h1m51 0h2m37 0h1m10 0h3m34 0h2m5 0h2m3 0h2m9 0h2m6 0h2m9 0h2m1 0h1m5 0h2m6 0h2m12 0h2m2 0h2m32 0h2m1 0h2m32 0h2m5 0h2m2 0h2m11 0h1m21 0h1M169 404.5h2m16 0h1m17 0h2m19 0h1m18 0h1m7 0h4m17 0h2m12 0h2m5 0h2m112 0h2m16 0h2m42 0h2m47 0h2m2 0h2m17 0h2m2 0h2m11 0h2m3 0h1m9 0h2m6 0h2m17 0h2m3 0h2m43 0h2m7 0h2m24 0h2m8 0h2m31 0h2m13 0h2m3 0h2m3 0h2m2 0h1m9 0h2m16 0h2m24 0h1m80 0h2m9 0h1M203 405.5h2m54 0h2m8 0h2m6 0h2m2 0h1m39 0h2m7 0h2m36 0h2m21 0h1m25 0h6m20 0h2m22 0h2m15 0h3m12 0h1m4 0h1m23 0h2m2 0h2m11 0h2m8 0h2m23 0h2m10 0h2m37 0h2m10 0h1m10 0h2m21 0h2m8 0h1m2 0h2m10 0h2m4 0h2m6 0h3m2 0h2m31 0h2m40 0h2m12 0h3m12 0h2m3 0h1m14 0h2m6 0h1m22 0h2m2 0h2m6 0h2m9 0h2m6 0h1m9 0h2M199 406.5h3m6 0h1m2 0h2m57 0h2m10 0h2m20 0h2m21 0h4m9 0h1m19 0h2m5 0h2m13 0h4m18 0h2m29 0h2m32 0h2m13 0h2m16 0h2m4 0h2m11 0h2m8 0h2m20 0h2m1 0h1m8 0h2m16 0h1m6 0h2m3 0h1m1 0h2m14 0h3m27 0h1m1 0h2m42 0h2m8 0h3m39 0h2m5 0h1m1 0h1m19 0h7m50 0h2m4 0h1m7 0h3m1 0h3m37 0h2m4 0h2m2 0h2m4 0h2m10 0h2m5 0h2M158 407.5h2m2 0h2m16 0h2m62 0h2m30 0h1m7 0h2m6 0h2m18 0h2m7 0h2m11 0h2m6 0h1m39 0h1m20 0h2m4 0h2m13 0h2m49 0h2m2 0h2m22 0h2m3 0h2m18 0h1m33 0h2m21 0h2m43 0h2m14 0h1m20 0h2m2 0h2m17 0h1m5 0h2m6 0h3m7 0h2m20 0h1m13 0h2m10 0h2m7 0h2m2 0h2m1 0h2m7 0h2m20 0h2m3 0h2m8 0h4m19 0h2m14 0h1m13 0h2m7 0h2m8 0h2m1 0h2M162 408.5h1m27 0h2m2 0h2m7 0h2m26 0h2m34 0h2m2 0h2m17 0h2m63 0h2m4 0h2m2 0h1m37 0h2m6 0h2m16 0h1m11 0h2m33 0h2m17 0h2m2 0h2m3 0h2m17 0h2m23 0h2m22 0h2m2 0h2m1 0h2m7 0h1m4 0h1m20 0h2m20 0h2m18 0h2m16 0h1m43 0h2m16 0h2m17 0h1m16 0h2m4 0h2m12 0h1m6 0h1m16 0h2m23 0h1m3 0h2m17 0h2m11 0h2m32 0h4M164 409.5h2m6 0h2m29 0h2m4 0h2m22 0h2m3 0h2m3 0h3m7 0h2m23 0h2m7 0h2m18 0h1m19 0h2m16 0h1m18 0h2m9 0h2m3 0h2m5 0h2m1 0h1m8 0h2m1 0h1m21 0h2m10 0h2m12 0h2m22 0h1m9 0h1m6 0h1m9 0h2m32 0h2m5 0h1m38 0h2m22 0h1m12 0h2m4 0h4m66 0h1m3 0h1m25 0h1m20 0h1m16 0h2m18 0h2m22 0h1m13 0h2m7 0h2m16 0h2m17 0h1m6 0h1m26 0h2m12 0h2m1 0h2m2 0h2M157 410.5h1m9 0h2m2 0h2m31 0h4m12 0h2m10 0h2m8 0h5m6 0h4m12 0h2m7 0h2m34 0h2m20 0h2m12 0h2m31 0h2m20 0h2m3 0h1m7 0h2m6 0h2m11 0h2m26 0h2m49 0h2m18 0h2m35 0h1m2 0h2m4 0h1m7 0h2m9 0h2m6 0h2m15 0h2m5 0h1m24 0h2m12 0h1m5 0h2m3 0h2m43 0h2m41 0h2m11 0h2m12 0h2m13 0h2m14 0h2m3 0h2m3 0h2m7 0h2m4 0h1m5 0h1m5 0h2m20 0h4m14 0h1m5 0h3m6 0h2M160 411.5h2m3 0h4m21 0h2m40 0h2m3 0h2m8 0h1m22 0h1m18 0h2m9 0h2m27 0h2m14 0h2m16 0h2m90 0h1m20 0h2m36 0h1m14 0h3m31 0h2m6 0h1m41 0h2m11 0h2m6 0h2m7 0h2m9 0h2m2 0h2m3 0h1m3 0h2m18 0h2m22 0h1m15 0h2m25 0h2m2 0h1m16 0h3m24 0h3m24 0h4m23 0h5m1 0h1m15 0h2m18 0h2m18 0h3m2 0h2M179 412.5h1m6 0h2m17 0h1m11 0h2m18 0h2m14 0h2m9 0h2m3 0h2m2 0h4m11 0h1m6 0h2m23 0h2m48 0h1m12 0h2m12 0h2m48 0h2m85 0h2m44 0h2m19 0h2m7 0h3m5 0h2m34 0h2m1 0h1m23 0h2m39 0h1m10 0h4m6 0h2m7 0h2m4 0h3m4 0h2m5 0h2m7 0h2m4 0h2m19 0h2m43 0h2m4 0h2m9 0h4m13 0h3m11 0h2M162 413.5h2m27 0h2m3 0h4m5 0h2m10 0h2m1 0h2m46 0h2m28 0h2m21 0h2m14 0h2m5 0h1m15 0h2m8 0h1m4 0h2m36 0h2m12 0h2m8 0h2m26 0h2m4 0h3m21 0h1m30 0h2m21 0h4m4 0h2m3 0h2m2 0h1m14 0h2m7 0h2m36 0h2m10 0h2m20 0h2m3 0h3m2 0h2m35 0h2m10 0h2m9 0h1m9 0h2m9 0h2m1 0h1m21 0h2m1 0h3m11 0h2m5 0h2m15 0h2m3 0h2m26 0h2m38 0h1m1 0h2m3 0h2M176 414.5h2m4 0h2m5 0h2m17 0h1m32 0h2m18 0h2m44 0h5m1 0h2m36 0h1m17 0h1m53 0h2m27 0h2m13 0h1m6 0h2m4 0h2m4 0h2m1 0h2m2 0h2m6 0h2m20 0h2m16 0h2m2 0h2m12 0h1m4 0h2m25 0h1m3 0h1m29 0h2m4 0h3m3 0h2m32 0h2m26 0h2m9 0h2m3 0h1m26 0h1m22 0h2m6 0h2m1 0h2m14 0h2m7 0h2m6 0h3m12 0h2m6 0h2m33 0h2m1 0h2m4 0h2m2 0h2m22 0h1m10 0h3m1 0h2m1 0h2M160 415.5h2m8 0h2m12 0h2m28 0h1m24 0h2m11 0h2m41 0h2m34 0h2m2 0h4m31 0h1m17 0h2m10 0h1m13 0h2m7 0h2m29 0h1m36 0h2m9 0h2m14 0h2m32 0h3m30 0h2m20 0h2m4 0h2m21 0h1m5 0h2m33 0h2m9 0h2m38 0h2m2 0h2m18 0h2m5 0h1m8 0h1m4 0h2m18 0h4m4 0h2m14 0h2m14 0h3m5 0h1m23 0h1m13 0h2m2 0h2m1 0h2m3 0h2m27 0h2M154 416.5h2m1 0h2m6 0h2m2 0h2m1 0h2m15 0h4m5 0h2m13 0h2m30 0h1m29 0h2m8 0h2m4 0h2m3 0h2m67 0h2m11 0h2m1 0h2m9 0h2m12 0h1m9 0h2m1 0h2m3 0h2m18 0h2m12 0h4m8 0h2m52 0h1m9 0h2m4 0h1m8 0h2m5 0h1m2 0h1m3 0h2m5 0h2m31 0h2m13 0h2m1 0h2m2 0h1m6 0h2m9 0h1m21 0h2m16 0h2m10 0h3m1 0h2m9 0h10m17 0h2m1 0h2m10 0h2m4 0h2m7 0h2m2 0h5m1 0h2m17 0h2m11 0h2m4 0h2m3 0h2m35 0h1m5 0h1m3 0h4m29 0h2m4 0h3m5 0h2M162 417.5h3m29 0h4m39 0h2m24 0h2m9 0h2m17 0h2m2 0h1m17 0h2m17 0h2m12 0h2m5 0h2m12 0h3m8 0h2m33 0h2m8 0h2m6 0h2m46 0h2m16 0h3m4 0h2m30 0h2m4 0h2m12 0h2m19 0h1m7 0h2m3 0h2m23 0h1m1 0h2m11 0h2m11 0h1m5 0h1m13 0h2m3 0h2m31 0h2m9 0h2m6 0h2m12 0h2m10 0h2m2 0h2m8 0h2m2 0h2m3 0h2m15 0h2m2 0h2m15 0h2m1 0h2m63 0h2m16 0h1m8 0h2M153 418.5h2m11 0h2m33 0h1m21 0h2m24 0h3m6 0h2m2 0h2m41 0h2m21 0h2m4 0h1m6 0h2m9 0h4m3 0h2m14 0h2m1 0h2m7 0h1m2 0h1m12 0h4m25 0h2m16 0h2m1 0h4m32 0h1m9 0h2m4 0h2m17 0h2m4 0h2m3 0h1m8 0h3m9 0h2m37 0h2m2 0h2m3 0h2m11 0h2m15 0h2m14 0h1m12 0h2m7 0h3m8 0h2m3 0h2m19 0h1m5 0h1m9 0h1m12 0h1m1 0h1m4 0h2m9 0h1m12 0h1m29 0h1m9 0h2m13 0h2m53 0h2m4 0h2m6 0h1M184 419.5h4m34 0h2m2 0h1m31 0h2m9 0h3m6 0h4m25 0h2m19 0h1m33 0h1m17 0h1m29 0h2m3 0h2m8 0h2m9 0h1m29 0h2m2 0h2m6 0h1m26 0h5m1 0h2m19 0h2m8 0h4m45 0h2m39 0h2m9 0h3m5 0h2m29 0h1m5 0h4m5 0h1m14 0h2m4 0h2m7 0h1m21 0h2m7 0h2m8 0h2m29 0h1m16 0h1m4 0h2m1 0h5m47 0h2m22 0h2m1 0h2m8 0h2m2 0h3M211 420.5h5m7 0h4m11 0h2m34 0h2m8 0h2m5 0h2m4 0h2m11 0h2m4 0h1m28 0h2m6 0h1m7 0h2m27 0h2m9 0h2m38 0h2m27 0h2m25 0h2m2 0h2m11 0h6m11 0h2m3 0h2m34 0h4m9 0h2m15 0h3m1 0h2m2 0h2m3 0h2m10 0h2m24 0h2m19 0h2m15 0h1m14 0h4m49 0h2m18 0h2m14 0h2m11 0h1m5 0h3m7 0h1m17 0h2m5 0h1m3 0h1m18 0h2m19 0h2m4 0h2m1 0h2m2 0h2M154 421.5h2m27 0h2m1 0h2m17 0h2m12 0h2m2 0h4m45 0h2m13 0h1m16 0h2m3 0h1m1 0h1m29 0h2m18 0h2m16 0h1m4 0h1m7 0h1m10 0h2m7 0h2m2 0h2m7 0h2m3 0h2m5 0h2m6 0h2m9 0h2m6 0h1m7 0h3m6 0h2m18 0h2m29 0h2m6 0h2m1 0h3m3 0h2m10 0h2m8 0h1m15 0h2m22 0h2m18 0h2m1 0h2m11 0h2m17 0h1m10 0h2m5 0h2m3 0h2m19 0h2m11 0h2m2 0h3m13 0h2m8 0h2m3 0h4m34 0h2m7 0h3m2 0h2m27 0h1m16 0h2m7 0h2m3 0h2m5 0h2m39 0h2m2 0h2M170 422.5h2m18 0h2m12 0h2m6 0h3m9 0h1m1 0h1m56 0h2m8 0h1m4 0h2m8 0h3m4 0h2m9 0h4m10 0h1m10 0h2m5 0h2m11 0h2m16 0h2m5 0h2m3 0h2m2 0h3m15 0h2m9 0h1m14 0h2m19 0h2m8 0h3m13 0h2m21 0h2m33 0h2m14 0h2m2 0h3m12 0h2m8 0h2m1 0h2m56 0h2m18 0h2m1 0h2m1 0h2m10 0h2m22 0h2m4 0h1m8 0h1m7 0h1m10 0h2m4 0h2m3 0h2m6 0h1m3 0h2m10 0h2m5 0h2m14 0h2m10 0h2m5 0h4m5 0h2m4 0h2m9 0h2m12 0h2m5 0h2m5 0h1m2 0h1M154 423.5h1m4 0h1m8 0h2m34 0h2m22 0h1m34 0h2m7 0h2m22 0h2m24 0h2m8 0h2m1 0h2m2 0h2m1 0h2m16 0h2m7 0h1m11 0h2m16 0h2m19 0h3m6 0h2m8 0h2m3 0h2m18 0h1m3 0h3m22 0h1m19 0h2m16 0h1m8 0h2m20 0h2m18 0h2m9 0h2m8 0h2m31 0h1m17 0h2m12 0h1m8 0h2m26 0h1m6 0h2m5 0h2m21 0h2m45 0h2m11 0h1m38 0h2m9 0h3m6 0h2m17 0h1m2 0h3m3 0h2m6 0h2m16 0h2m3 0h2M162 424.5h2m11 0h2m1 0h1m7 0h2m10 0h2m1 0h1m12 0h1m6 0h1m18 0h2m11 0h2m6 0h1m8 0h2m9 0h2m4 0h2m21 0h3m28 0h2m32 0h3m11 0h2m12 0h4m28 0h2m2 0h1m13 0h4m9 0h2m75 0h2m42 0h2m34 0h2m23 0h2m3 0h2m5 0h2m5 0h2m18 0h2m5 0h2m6 0h2m34 0h3m13 0h4m8 0h2m34 0h1m19 0h2m5 0h2m14 0h1m10 0h2m1 0h1m39 0h2m3 0h2m2 0h2M159 425.5h3m19 0h2m2 0h2m27 0h2m5 0h1m2 0h2m14 0h3m10 0h3m2 0h2m11 0h2m1 0h2m3 0h2m13 0h2m37 0h2m5 0h2m4 0h2m19 0h1m4 0h1m19 0h2m6 0h2m32 0h1m45 0h1m3 0h2m23 0h2m18 0h2m4 0h2m26 0h1m10 0h1m43 0h2m16 0h2m11 0h2m9 0h4m1 0h2m11 0h1m26 0h1m8 0h2m29 0h2m5 0h2m7 0h2m36 0h2m21 0h2m18 0h3m1 0h2m1 0h1m12 0h4m2 0h1m12 0h2m13 0h2m7 0h2M153 426.5h2m7 0h5m28 0h2m1 0h2m5 0h2m23 0h2m4 0h2m4 0h2m22 0h2m6 0h1m15 0h2m1 0h2m27 0h2m14 0h1m6 0h3m17 0h2m3 0h1m21 0h2m4 0h1m23 0h1m16 0h4m9 0h2m1 0h2m1 0h2m11 0h1m7 0h2m39 0h1m7 0h2m12 0h3m2 0h1m43 0h2m5 0h1m27 0h2m11 0h2m13 0h1m7 0h2m9 0h2m6 0h1m12 0h2m5 0h4m7 0h3m22 0h2m8 0h2m17 0h2m3 0h2m15 0h1m7 0h1m6 0h3m15 0h2m10 0h2m8 0h2m1 0h2m7 0h1m13 0h1m11 0h1m12 0h2m10 0h2M154 427.5h1m4 0h2m34 0h1m13 0h2m5 0h2m8 0h1m9 0h2m16 0h1m14 0h6m13 0h2m14 0h2m8 0h2m1 0h2m9 0h2m2 0h2m11 0h4m1 0h2m6 0h3m14 0h2m13 0h1m5 0h2m5 0h4m24 0h2m5 0h2m23 0h2m3 0h2m1 0h2m6 0h3m54 0h2m4 0h2m2 0h2m36 0h2m39 0h1m11 0h4m3 0h2m19 0h2m14 0h1m20 0h2m73 0h2m9 0h2m3 0h2m6 0h2m3 0h2m22 0h2m2 0h2m16 0h3m4 0h2m1 0h2m27 0h5m6 0h2m2 0h2M157 428.5h2m4 0h1m6 0h2m34 0h2m30 0h2m13 0h1m10 0h2m3 0h2m25 0h3m8 0h1m6 0h2m18 0h2m18 0h1m4 0h2m22 0h2m8 0h2m2 0h1m9 0h5m7 0h2m1 0h2m40 0h2m21 0h1m4 0h1m17 0h1m45 0h1m5 0h2m3 0h2m6 0h2m7 0h3m70 0h1m3 0h1m16 0h2m7 0h1m21 0h3m7 0h2m26 0h2m61 0h1m45 0h2m8 0h2m2 0h2m5 0h1m1 0h1m2 0h2m15 0h2m4 0h1m13 0h2M157 429.5h1m30 0h1m19 0h1m10 0h2m7 0h2m7 0h2m30 0h2m2 0h2m12 0h2m3 0h2m19 0h2m2 0h2m18 0h2m9 0h2m24 0h1m15 0h2m10 0h2m5 0h2m7 0h4m13 0h2m6 0h2m22 0h1m1 0h1m19 0h2m6 0h2m29 0h2m3 0h2m8 0h2m9 0h2m6 0h2m20 0h1m11 0h2m6 0h2m1 0h2m16 0h2m12 0h2m1 0h2m12 0h1m23 0h2m8 0h2m28 0h2m15 0h3m24 0h2m15 0h2m17 0h2m11 0h1m21 0h1m24 0h4m7 0h3m46 0h1M154 430.5h4m2 0h1m32 0h2m1 0h2m7 0h1m10 0h1m7 0h1m1 0h2m4 0h4m15 0h2m7 0h2m1 0h2m6 0h2m1 0h2m8 0h2m4 0h2m3 0h4m26 0h2m7 0h1m2 0h2m11 0h2m21 0h2m16 0h2m13 0h2m6 0h2m2 0h3m21 0h2m16 0h2m5 0h2m9 0h2m7 0h3m27 0h2m6 0h2m7 0h2m20 0h2m15 0h2m17 0h2m9 0h2m3 0h3m11 0h2m16 0h2m2 0h2m2 0h1m17 0h1m13 0h3m2 0h7m5 0h1m26 0h4m17 0h1m2 0h3m4 0h2m26 0h2m1 0h2m5 0h2m19 0h1m6 0h2m17 0h1m9 0h2m3 0h2m39 0h2m20 0h2M204 431.5h2m15 0h2m1 0h6m24 0h3m3 0h1m42 0h2m3 0h2m4 0h1m19 0h2m2 0h2m10 0h2m8 0h4m2 0h1m1 0h2m3 0h1m1 0h2m13 0h4m30 0h2m20 0h2m5 0h2m32 0h1m10 0h2m5 0h2m5 0h3m32 0h2m5 0h2m26 0h2m2 0h1m9 0h2m33 0h1m6 0h2m27 0h2m9 0h2m41 0h2m5 0h2m24 0h2m14 0h3m5 0h2m18 0h2m6 0h2m17 0h1m12 0h2m2 0h4m3 0h2m10 0h2m3 0h3m35 0h2m9 0h1M156 432.5h2m13 0h2m14 0h2m22 0h2m7 0h3m34 0h1m19 0h2m17 0h2m11 0h2m13 0h2m7 0h2m6 0h2m1 0h1m6 0h3m6 0h2m17 0h2m10 0h2m1 0h2m4 0h1m12 0h2m8 0h2m3 0h2m21 0h1m5 0h2m4 0h2m16 0h1m7 0h2m49 0h2m16 0h1m8 0h2m39 0h2m6 0h1m20 0h2m5 0h2m20 0h1m5 0h2m63 0h2m5 0h2m18 0h2m3 0h1m18 0h6m2 0h2m27 0h3m8 0h1m3 0h2m23 0h2m45 0h2m9 0h2M158 433.5h2m30 0h1m3 0h2m9 0h1m3 0h1m2 0h2m1 0h1m11 0h2m14 0h2m37 0h2m4 0h2m25 0h2m6 0h1m7 0h2m12 0h1m14 0h4m24 0h1m6 0h2m6 0h1m3 0h2m32 0h2m35 0h3m4 0h2m4 0h1m20 0h2m2 0h2m8 0h2m8 0h1m4 0h2m16 0h2m6 0h4m2 0h2m14 0h2m36 0h5m11 0h2m16 0h2m24 0h3m4 0h2m37 0h3m14 0h1m2 0h2m36 0h2m6 0h2m60 0h2m9 0h1m2 0h2m24 0h4m9 0h1m4 0h3M153 434.5h1m24 0h2m1 0h2m19 0h2m24 0h2m6 0h2m7 0h2m3 0h2m25 0h2m7 0h2m7 0h1m77 0h2m6 0h2m8 0h2m12 0h2m11 0h2m4 0h2m2 0h1m47 0h2m1 0h2m54 0h2m28 0h2m10 0h2m3 0h2m18 0h2m27 0h2m20 0h2m14 0h2m19 0h2m11 0h2m27 0h2m3 0h2m7 0h2m2 0h1m45 0h1m4 0h2m2 0h2m5 0h1m2 0h2m1 0h2m10 0h2m22 0h2m8 0h2m8 0h2m20 0h2m14 0h2m10 0h1M186 435.5h2m2 0h2m8 0h2m4 0h2m9 0h2m3 0h3m19 0h1m35 0h1m30 0h2m16 0h2m2 0h1m17 0h2m28 0h1m13 0h1m5 0h2m30 0h2m19 0h2m2 0h2m16 0h2m2 0h2m5 0h2m8 0h2m1 0h2m9 0h1m5 0h2m26 0h2m17 0h2m17 0h2m33 0h2m7 0h2m6 0h1m18 0h2m1 0h2m1 0h2m11 0h2m13 0h1m29 0h3m1 0h2m1 0h3m15 0h1m2 0h2m6 0h2m14 0h2m25 0h2m8 0h1m4 0h6m7 0h2m12 0h2m16 0h2m2 0h2m1 0h1m26 0h2m3 0h2m15 0h2m1 0h1M176 436.5h2m7 0h2m9 0h2m8 0h2m9 0h2m44 0h2m25 0h1m23 0h2m2 0h2m26 0h1m5 0h2m5 0h2m19 0h2m2 0h2m28 0h2m5 0h2m18 0h2m1 0h2m13 0h2m25 0h2m8 0h1m9 0h2m11 0h1m14 0h1m15 0h2m5 0h1m2 0h2m3 0h2m14 0h2m1 0h1m21 0h2m20 0h2m2 0h2m2 0h3m7 0h2m15 0h1m36 0h1m10 0h2m4 0h2m19 0h2m17 0h2m17 0h2m5 0h2m6 0h3m2 0h1m14 0h1m4 0h2m10 0h1m7 0h1m32 0h2m16 0h1m1 0h4m8 0h2m16 0h2M165 437.5h2m13 0h2m5 0h1m16 0h2m21 0h2m7 0h1m22 0h2m6 0h2m12 0h2m1 0h4m38 0h2m17 0h2m14 0h2m9 0h2m11 0h1m51 0h1m8 0h2m13 0h2m1 0h2m2 0h2m1 0h1m7 0h2m5 0h1m1 0h4m20 0h1m9 0h2m3 0h2m7 0h2m9 0h1m5 0h2m8 0h1m8 0h3m2 0h2m5 0h2m18 0h4m10 0h4m16 0h2m2 0h1m7 0h2m5 0h1m23 0h1m10 0h3m4 0h2m16 0h2m4 0h3m16 0h2m10 0h2m13 0h2m4 0h2m1 0h1m5 0h2m8 0h2m5 0h2m11 0h3m7 0h2m10 0h2m1 0h2m11 0h1m9 0h2m1 0h2m28 0h2" stroke="#0606b2" stroke-width="1" fill="none"/>
<path d="M159 82.5h2m29 0h2m75 0h2m498 0h2m64 0h2m65 0h1M246 83.5h2m10 0h2m44 0h2m171 0h2m137 0h2m233 0h2m48 0h2M194 84.5h2m5 0h2m165 0h2m32 0h2m84 0h2m168 0h2m185 0h2m43 0h2M345 85.5h1m35 0h2m96 0h2m105 0h2m52 0h2m137 0h2m28 0h2m21 0h2m58 0h2M165 86.5h2m10 0h2m162 0h2m12 0h2m118 0h2m12 0h2m39 0h2m263 0h2m28 0h1M209 87.5h1m11 0h2m124 0h2m178 0h2m10 0h2m106 0h2m3 0h2m134 0h2m50 0h2M285 88.5h2m89 0h2m17 0h2m84 0h2m129 0h1m83 0h2m53 0h2m129 0h2m20 0h2M153 89.5h1m61 0h2m116 0h1m18 0h2m21 0h2m46 0h2m56 0h2m30 0h2m30 0h2m118 0h2m27 0h2m5 0h1m168 0h2m27 0h1M193 90.5h2m88 0h2m144 0h2m116 0h1m84 0h2m80 0h1m85 0h2m15 0h1M194 91.5h2m190 0h2m212 0h2m2 0h2m161 0h2m14 0h2m3 0h2M175 92.5h1m81 0h2m62 0h2m9 0h2m94 0h1m76 0h2m12 0h2m121 0h2m92 0h2m24 0h1m17 0h2m19 0h1m54 0h1M218 93.5h2m169 0h2m293 0h2m88 0h2m57 0h2m59 0h2m7 0h2M259 94.5h2m124 0h2m131 0h1m98 0h1m267 0h1M600 95.5h2m9 0h2m8 0h2m168 0h2M416 96.5h2m15 0h2m90 0h2m39 0h2m34 0h2m168 0h2m33 0h2m12 0h2M283 97.5h2m166 0h2m380 0h1m57 0h2m16 0h2M170 98.5h4M470 99.5h2m121 0h1m72 0h2m199 0h1m55 0h2M225 100.5h2m15 0h2m95 0h2M179 101.5h2m287 0h2m195 0h2m31 0h2m18 0h2m112 0h2M210 102.5h2m56 0h2m80 0h2m5 0h2m97 0h2m20 0h2m12 0h2m1 0h2m206 0h2m150 0h2M418 103.5h2m68 0h2m282 0h2m40 0h1M211 104.5h2m107 0h2m33 0h2m205 0h2m78 0h2m16 0h2m187 0h2m15 0h2m7 0h1m10 0h2M420 105.5h2m144 0h2m213 0h2m81 0h2m15 0h1M281 106.5h1m76 0h2m126 0h2m355 0h1M190 107.5h2m22 0h2m155 0h2m317 0h2m48 0h2m119 0h2M181 108.5h2m492 0h2m49 0h2m73 0h1m31 0h1m59 0h2M154 109.5h2m240 0h1m32 0h2m92 0h2m96 0h2m116 0h2m16 0h2m123 0h1M164 110.5h2m209 0h2m2 0h2m167 0h2m3 0h3m92 0h2m2 0h2m179 0h2m24 0h2m52 0h1m6 0h1m1 0h2M403 111.5h2m114 0h2m165 0h2m83 0h2m8 0h2m45 0h2m48 0h2m28 0h1M372 112.5h2m72 0h1m352 0h2m2 0h2m28 0h1M179 113.5h2m5 0h2m126 0h2m333 0h2m41 0h2m103 0h2M360 114.5h2m123 0h2m102 0h1m71 0h1m122 0h2m53 0h2m50 0h2M237 115.5h1m47 0h1m180 0h2m331 0h1m15 0h2m47 0h2m2 0h2M161 116.5h2m35 0h2m11 0h1m10 0h2m83 0h2m53 0h2m64 0h2m91 0h2m113 0h2m45 0h2m28 0h2m93 0h2M175 117.5h2m18 0h2m115 0h2m63 0h1m110 0h2m165 0h2m70 0h2m52 0h2m25 0h2M216 118.5h2m50 0h2m15 0h2m89 0h2m159 0h2m164 0h2m209 0h2M162 119.5h2m29 0h4m32 0h2m126 0h2m329 0h2m233 0h2M337 120.5h2m13 0h2m41 0h2m24 0h1m124 0h2m89 0h2m27 0h2m67 0h2m30 0h2m120 0h2M268 121.5h2m75 0h2m23 0h2m66 0h2m37 0h2m60 0h1M196 122.5h2m233 0h2m81 0h2m70 0h2m72 0h2m215 0h1m36 0h2m1 0h2M353 123.5h2m19 0h2m50 0h2m69 0h2m14 0h2m41 0h2m41 0h2m202 0h1m15 0h2m50 0h2M215 124.5h1m32 0h1m224 0h2m25 0h1m63 0h2m7 0h2m164 0h2M181 125.5h2m3 0h2m37 0h2m60 0h1m97 0h1m36 0h2m123 0h2m36 0h1m23 0h2m42 0h1m48 0h1m38 0h2m21 0h2m47 0h2m70 0h2M257 126.5h1m137 0h2m198 0h2m106 0h2m49 0h2m17 0h2M188 127.5h1m139 0h2m253 0h1m258 0h2m62 0h1M228 128.5h2m70 0h2m20 0h2m175 0h2m92 0h2m267 0h2m14 0h2m5 0h2m7 0h2M194 129.5h2m209 0h2m206 0h2m107 0h2M176 130.5h2m141 0h2m438 0h2m58 0h1m3 0h1m18 0h1m76 0h1M157 131.5h2m22 0h2m37 0h1m33 0h2m58 0h2m44 0h1m4 0h2m17 0h1m27 0h1m40 0h2m50 0h2m62 0h2m113 0h1m14 0h2m159 0h3m49 0h2M169 132.5h2m3 0h2m501 0h2m131 0h2m49 0h2m22 0h2M188 133.5h2m34 0h2m250 0h2M288 134.5h2m4 0h2m6 0h2m217 0h2m68 0h1m81 0h2m126 0h2m29 0h2m38 0h2m3 0h2M224 135.5h2m7 0h1m7 0h2m34 0h2m29 0h1m205 0h1m152 0h2m133 0h2m12 0h2m92 0h2M159 136.5h2m72 0h2m17 0h2m4 0h2m42 0h2m14 0h2m6 0h2m46 0h2m75 0h2m59 0h2m26 0h2m158 0h2m106 0h2m33 0h2m26 0h2M470 137.5h2m230 0h3m19 0h2m65 0h2m27 0h2m41 0h2M311 138.5h2m94 0h2m165 0h2m22 0h1m71 0h1m124 0h2M239 139.5h2m61 0h2m78 0h2m9 0h2m348 0h1m36 0h2m40 0h2M158 140.5h2m349 0h2m77 0h2m59 0h2m34 0h1M208 141.5h2m100 0h1m33 0h1m250 0h2m3 0h1m156 0h2m3 0h2m43 0h1m61 0h2M179 142.5h6m53 0h2m227 0h2m98 0h1m99 0h2m94 0h1m69 0h1m51 0h2M322 143.5h2m220 0h2m173 0h2m70 0h2m33 0h1M314 144.5h2m175 0h2m9 0h2m75 0h2m37 0h2m149 0h1m116 0h2m10 0h2M306 145.5h2m20 0h2m58 0h1m18 0h1m280 0h2m29 0h2m42 0h2m5 0h2m17 0h2M195 146.5h2m18 0h1m7 0h4m113 0h2m149 0h2m137 0h2m78 0h2m81 0h2m2 0h2m75 0h2M409 147.5h2m263 0h2m74 0h2m78 0h2m23 0h2m25 0h2M188 148.5h2m3 0h2m142 0h2m254 0h2m241 0h2m22 0h2M348 149.5h1m68 0h1m58 0h2m107 0h1m6 0h1m172 0h2m67 0h2m9 0h2m43 0h1M164 150.5h2m73 0h2m15 0h2m171 0h2m30 0h2m119 0h1m91 0h2M252 151.5h2m29 0h2m152 0h2m136 0h2m200 0h2m77 0h2M262 152.5h2m119 0h2m45 0h2m282 0h2m17 0h2m56 0h2M290 153.5h1m13 0h2m16 0h2m150 0h2m124 0h2m165 0h2m46 0h2m10 0h2m4 0h2M195 154.5h2m58 0h2m12 0h2m30 0h2m203 0h2m59 0h2m77 0h2m116 0h2m17 0h2m116 0h2M187 155.5h2m60 0h2m84 0h1m200 0h2m28 0h2m40 0h2m90 0h2m107 0h2m72 0h4m25 0h1M184 156.5h2m201 0h1m22 0h2m1 0h1m16 0h1m332 0h2m142 0h2m5 0h4M155 157.5h2m264 0h5m3 0h1m19 0h3m56 0h1m117 0h2m105 0h2M198 158.5h2m100 0h2m70 0h1m43 0h2m16 0h2m84 0h2m87 0h1m7 0h2m84 0h2m16 0h2m28 0h2m11 0h2m50 0h2m88 0h2M171 159.5h3m4 0h1m9 0h2m68 0h2m235 0h1m111 0h2m18 0h1m16 0h2m12 0h2m14 0h2m40 0h2m14 0h2m8 0h2m10 0h2m87 0h2M258 160.5h1m16 0h2m43 0h1m51 0h2m7 0h2m138 0h2m158 0h2m7 0h2m36 0h2m42 0h2m63 0h2m5 0h2m51 0h2m3 0h1M179 161.5h2m48 0h2m15 0h2m2 0h2m5 0h2m59 0h1m3 0h3m101 0h4m103 0h2m29 0h1m23 0h2m96 0h2m34 0h2m43 0h2m14 0h2m7 0h2m11 0h2m16 0h2M162 162.5h1m21 0h2m29 0h3m59 0h2m134 0h2m110 0h1m8 0h1m42 0h3m10 0h2m78 0h2m40 0h3m70 0h2m1 0h2m31 0h2m24 0h2m6 0h1m27 0h2m22 0h2M153 163.5h1m70 0h2m10 0h2m40 0h1m17 0h2m73 0h1m42 0h1m15 0h2m9 0h2m42 0h2m22 0h1m16 0h1m25 0h2m22 0h2m38 0h2m15 0h2m66 0h2m12 0h2m17 0h1m37 0h4m22 0h1m9 0h1m24 0h2m7 0h2m31 0h1m48 0h1M252 164.5h2m34 0h3m29 0h1m3 0h2m67 0h2m19 0h2m29 0h2m51 0h2m64 0h2m24 0h3m12 0h2m41 0h2m8 0h2m100 0h2m11 0h2m54 0h2m14 0h2m8 0h1M195 165.5h2m17 0h4m29 0h2m10 0h1m130 0h1m24 0h2m14 0h1m17 0h2m10 0h2m32 0h2m30 0h1m14 0h2m16 0h2m12 0h2m16 0h4m37 0h2m39 0h4m15 0h2m18 0h2m3 0h2m48 0h4m8 0h2m34 0h2m58 0h2m32 0h2M177 166.5h1m61 0h1m25 0h2m28 0h1m29 0h2m22 0h1m39 0h2m2 0h2m92 0h2m58 0h2m33 0h2m3 0h2m57 0h2m14 0h2m1 0h1m96 0h2m90 0h2m30 0h2M154 167.5h2m62 0h2m4 0h2m57 0h2m27 0h2m33 0h2m17 0h2m65 0h1m39 0h2m61 0h2m18 0h2m2 0h2m48 0h2m69 0h2m5 0h2m84 0h2m19 0h2m2 0h2m44 0h1m10 0h2m7 0h2m3 0h2m11 0h2m8 0h2m1 0h2m15 0h2m3 0h2M188 168.5h2m21 0h4m33 0h2m90 0h2m37 0h2m55 0h2m16 0h6m38 0h1m10 0h2m53 0h2m48 0h2m14 0h2m51 0h1m24 0h2m10 0h2m5 0h2m102 0h2m15 0h2m9 0h2m32 0h2M190 169.5h2m53 0h1m13 0h1m9 0h2m5 0h3m28 0h2m15 0h1m4 0h1m47 0h4m42 0h1m39 0h2m1 0h2m7 0h2m74 0h2m18 0h2m38 0h2m93 0h2m56 0h2m126 0h2m18 0h2m3 0h2M191 170.5h2m4 0h2m7 0h2m14 0h2m89 0h1m127 0h2m43 0h2m84 0h2m16 0h2m58 0h2m58 0h2m4 0h2m9 0h2m12 0h1m17 0h2m28 0h2m40 0h2m16 0h2M181 171.5h2m98 0h2m44 0h2m13 0h2m57 0h1m63 0h2m32 0h1m2 0h1m9 0h2m3 0h2m18 0h2m61 0h2m2 0h2m46 0h2m69 0h2m57 0h1m19 0h2m64 0h1m47 0h1M154 172.5h1m26 0h1m47 0h2m84 0h2m77 0h2m2 0h2m27 0h3m67 0h2m2 0h1m21 0h1m21 0h2m130 0h2m38 0h2m18 0h2m6 0h2m15 0h2m10 0h2m56 0h2m3 0h2m43 0h1M182 173.5h3m104 0h2m18 0h2m18 0h2m94 0h2m46 0h1m8 0h2m30 0h2m84 0h2m12 0h1m3 0h2m30 0h1m113 0h2m20 0h2m49 0h2M296 174.5h2m105 0h2m72 0h2m33 0h2m132 0h1m21 0h4m38 0h2m22 0h2m72 0h2m27 0h1m21 0h1m4 0h2M189 175.5h2m34 0h2m79 0h2m1 0h2m1 0h1m33 0h2m99 0h2m78 0h2m37 0h2m15 0h2m116 0h1m51 0h1m37 0h2m30 0h3m8 0h1m43 0h2M309 176.5h2m17 0h2m13 0h2m44 0h2m117 0h2m96 0h2m97 0h2m38 0h2m33 0h2m36 0h1M192 177.5h2m89 0h2m28 0h2m82 0h2m7 0h2m46 0h1m135 0h1m8 0h2m125 0h2m13 0h2m41 0h1m17 0h2m13 0h2m8 0h2m66 0h2M168 178.5h2m99 0h2m2 0h2m7 0h2m80 0h2m20 0h2m11 0h1m21 0h2m67 0h2m76 0h2m58 0h1m114 0h2m35 0h3m52 0h2m52 0h2M193 179.5h2m75 0h4m7 0h2m27 0h2m29 0h1m8 0h2m30 0h2m166 0h2m85 0h2m28 0h2m79 0h2m48 0h1m7 0h1m13 0h2m5 0h2M400 180.5h2m16 0h2m2 0h2m51 0h1m55 0h2m10 0h2m46 0h2m17 0h2m167 0h2m14 0h2m8 0h4m78 0h2M179 181.5h2m16 0h2m152 0h2m3 0h2m57 0h2m48 0h2m165 0h2m114 0h1m18 0h2m33 0h2m71 0h2M156 182.5h2m287 0h2m24 0h2m339 0h2m70 0h2m20 0h2M255 183.5h2m145 0h2m142 0h2m108 0h2m232 0h1M189 184.5h1m67 0h1m68 0h2m11 0h2m319 0h2m86 0h2M173 185.5h2m13 0h2m101 0h1m80 0h2m2 0h2m3 0h2m36 0h2m31 0h1m49 0h3m156 0h1m51 0h2m25 0h2M183 186.5h1m7 0h2m213 0h1m35 0h1m47 0h2M251 187.5h2m287 0h2m78 0h2m99 0h1m28 0h2m23 0h2m15 0h2m9 0h2m16 0h2M379 188.5h2m66 0h2m61 0h2m63 0h2m87 0h2m17 0h2m67 0h2m71 0h2m7 0h1m71 0h2M274 189.5h2m36 0h2m5 0h2m15 0h2m97 0h2m76 0h2m130 0h1m100 0h2m27 0h2m36 0h2m15 0h1M214 190.5h2m26 0h2m75 0h2m31 0h2m87 0h2m42 0h1m115 0h2m67 0h2m110 0h2m61 0h2M191 191.5h2m24 0h2m19 0h1m35 0h2m57 0h1m30 0h2m45 0h2m34 0h2m142 0h2m58 0h2m23 0h1m15 0h2M153 192.5h1m90 0h2m51 0h2m231 0h2m192 0h1m73 0h2m16 0h2m106 0h1M170 193.5h2m87 0h2m325 0h2m133 0h2m21 0h2m7 0h2m96 0h2m21 0h2m38 0h1M158 194.5h1m182 0h2m124 0h2m63 0h2m20 0h2m20 0h2m41 0h2m115 0h1m123 0h2M267 195.5h2m79 0h2m1 0h2m18 0h2m29 0h2m44 0h2m43 0h2m48 0h2m33 0h2m13 0h2m217 0h1m28 0h2m68 0h2M400 196.5h2m82 0h2m162 0h2m175 0h2M189 197.5h2m98 0h2m30 0h3m387 0h2m29 0h1m63 0h1m28 0h2M568 198.5h2m93 0h2m40 0h2m9 0h2m22 0h2m100 0h2m10 0h2M191 199.5h2m12 0h2m77 0h1m131 0h1m170 0h2m58 0h2m35 0h2m165 0h2m18 0h2m39 0h2M246 200.5h2m65 0h2m37 0h2m226 0h2m339 0h2M336 201.5h1m113 0h1m70 0h2m83 0h2m14 0h2m114 0h2m53 0h2m2 0h2m34 0h2M309 202.5h2m112 0h2m1 0h1m281 0h2m24 0h2m94 0h2M217 203.5h2m15 0h1m148 0h1m156 0h2m146 0h2m23 0h2m12 0h2m190 0h2M445 204.5h1m164 0h2m48 0h1m77 0h1m108 0h2m70 0h2M204 205.5h2m21 0h2m318 0h1m76 0h2m79 0h2m52 0h2m14 0h2m43 0h2M218 206.5h1m18 0h2m193 0h2m306 0h2M524 207.5h2m212 0h2m91 0h2M282 208.5h2m54 0h1m68 0h2m149 0h2m107 0h2m102 0h2m12 0h2m41 0h2m84 0h2M154 209.5h2m13 0h1m179 0h2m82 0h1m41 0h2m97 0h1m235 0h1m22 0h2M188 210.5h2m37 0h2m65 0h2m75 0h2m5 0h1m5 0h2m100 0h2m89 0h2m183 0h1m26 0h1m25 0h2m26 0h2m78 0h2M196 211.5h2m215 0h2m7 0h1m78 0h2m140 0h2m20 0h2m74 0h2M203 212.5h2m18 0h2m74 0h2m114 0h2m20 0h2m28 0h2m46 0h2m149 0h2m6 0h2m200 0h2M190 213.5h2m422 0h1m122 0h1m69 0h2M355 214.5h2m4 0h2m25 0h2m146 0h2m271 0h1m20 0h1m2 0h2m46 0h2M571 215.5h2m193 0h2m18 0h2M201 216.5h2m340 0h2m131 0h1m10 0h2m6 0h2m38 0h1m29 0h2M321 217.5h2m49 0h2m257 0h2m61 0h1m60 0h2m24 0h2m132 0h2M253 218.5h2m380 0h2m177 0h2m69 0h2m3 0h3M189 219.5h2m129 0h1m561 0h2M199 220.5h1m35 0h2m12 0h2m311 0h2M529 221.5h2m98 0h2m145 0h2m88 0h2m47 0h3M519 222.5h1m68 0h2m35 0h2m4 0h2m105 0h2m149 0h2M159 223.5h2m94 0h2m197 0h2m13 0h2m42 0h2m16 0h2m23 0h1m56 0h2m41 0h1m75 0h2m23 0h2m95 0h2M231 224.5h2m62 0h2m94 0h2m1 0h2m6 0h2m26 0h2m9 0h2m61 0h2m114 0h2m129 0h1m41 0h3m13 0h2m98 0h2M185 225.5h2m9 0h2m2 0h2m150 0h2m85 0h1m21 0h2m32 0h2m30 0h2m31 0h2m74 0h2m93 0h2m140 0h2M226 226.5h2m43 0h2m2 0h1m9 0h2m47 0h2m84 0h2m230 0h2m219 0h2M171 227.5h2m78 0h2m333 0h2m13 0h1m94 0h2m39 0h2m31 0h1m2 0h2m2 0h2m90 0h2M168 228.5h2m221 0h2m23 0h2m53 0h2m381 0h1M274 229.5h2m21 0h1m89 0h2m25 0h1m288 0h2m154 0h2M320 230.5h2m30 0h2m35 0h2m199 0h2M380 231.5h2m123 0h2m106 0h2m2 0h2m30 0h2m37 0h1m36 0h2m44 0h2M346 232.5h1m105 0h2m26 0h2m25 0h2m41 0h2m106 0h2m112 0h2m61 0h2m6 0h2M195 233.5h2m53 0h2m62 0h2m34 0h1m254 0h2m47 0h2m40 0h2m119 0h2m63 0h2M268 234.5h1m91 0h2m86 0h2m32 0h2m2 0h2m10 0h2m92 0h2m132 0h2m14 0h2m42 0h1m29 0h1m33 0h2M194 235.5h2m263 0h2m92 0h2m37 0h1m37 0h2M171 236.5h2m66 0h2m12 0h2m86 0h2m20 0h2m101 0h2m67 0h1m17 0h2m172 0h2m141 0h4M171 237.5h1m263 0h2m69 0h2m119 0h1m65 0h1m105 0h2m34 0h1M208 238.5h1m15 0h2m51 0h2m63 0h2m28 0h2m21 0h2m69 0h1m76 0h2m110 0h1m9 0h2m22 0h2m30 0h3m60 0h2m29 0h2m11 0h2m41 0h2M180 239.5h2m178 0h2m82 0h2m40 0h2m178 0h2m104 0h2m7 0h2m4 0h2M237 240.5h2m127 0h2m80 0h1m17 0h2m98 0h3m352 0h2M240 241.5h1m43 0h2m82 0h2m84 0h2m100 0h2m47 0h1M462 242.5h2m150 0h2m162 0h2m17 0h2m52 0h2m55 0h2M164 243.5h1m79 0h1m2 0h2m107 0h2m23 0h2m43 0h2m110 0h4m31 0h2m101 0h2m76 0h2m101 0h2M195 244.5h1m52 0h2m62 0h2m14 0h2m15 0h2m204 0h2m174 0h2m164 0h2M195 245.5h2m20 0h1m31 0h2m228 0h2m249 0h2m20 0h1m105 0h2M243 246.5h1m431 0h2m22 0h2m33 0h2m9 0h1M300 247.5h1m129 0h2m100 0h2m196 0h2M251 248.5h2m40 0h2m268 0h2m228 0h2m43 0h4M207 249.5h2m41 0h2m82 0h2m31 0h2m26 0h2m107 0h2m269 0h2m16 0h2m37 0h2M249 250.5h2m93 0h2m36 0h2m34 0h2m138 0h2m142 0h2m14 0h2m121 0h2m58 0h2m15 0h2M318 251.5h2m178 0h2m4 0h2m265 0h2M206 252.5h2m160 0h2m184 0h2m109 0h1m20 0h2m43 0h2m109 0h2m46 0h1M271 253.5h2m24 0h2m109 0h2m90 0h3m25 0h2m48 0h2m98 0h2m212 0h2M153 254.5h1m75 0h2m39 0h2m387 0h1m26 0h2m13 0h2m125 0h2m45 0h2m19 0h2m26 0h1M289 255.5h2m129 0h2m368 0h2m22 0h1m37 0h2m49 0h2m9 0h2m5 0h2M347 256.5h2m40 0h2m104 0h2m59 0h2m42 0h2m178 0h2m141 0h2M168 257.5h2m162 0h2m289 0h2m39 0h2m3 0h2m6 0h2m48 0h2m135 0h2m10 0h2M158 258.5h2m73 0h2m80 0h2m12 0h2m95 0h2m55 0h2m71 0h2m106 0h1m180 0h2m5 0h1M270 259.5h2m105 0h2m130 0h1m220 0h2m39 0h1m59 0h2m27 0h2m10 0h1M209 260.5h2m189 0h2m175 0h2m71 0h2m111 0h2M285 261.5h2m109 0h2m147 0h2m1 0h2M575 262.5h2m144 0h2m68 0h2m16 0h2m51 0h2m26 0h2M333 263.5h2m118 0h2m33 0h2m45 0h2m6 0h2m254 0h2m17 0h2m27 0h2M289 264.5h2m129 0h2m71 0h2m107 0h2m40 0h2m19 0h2m157 0h2m19 0h2m24 0h1M169 265.5h2m43 0h2m73 0h1m252 0h2m15 0h2m35 0h2m165 0h1m64 0h2m14 0h2M365 266.5h2m202 0h2m267 0h2m11 0h2m66 0h2M197 267.5h2m155 0h1m123 0h2m28 0h2m25 0h2m225 0h2m48 0h2M251 268.5h2m85 0h2m90 0h1m61 0h2m21 0h2m62 0h2m40 0h2m106 0h2m35 0h2M217 269.5h1m32 0h2m195 0h2m24 0h2m8 0h2m52 0h2m44 0h2m9 0h2m170 0h1m28 0h2m28 0h2M366 270.5h1m88 0h2m15 0h2m36 0h2m22 0h2m97 0h2m253 0h2M543 271.5h2m1 0h2m177 0h1m59 0h2m13 0h2m78 0h2m11 0h2M430 272.5h2m5 0h2m198 0h2m149 0h2m111 0h1M169 273.5h2m1 0h1m79 0h2m47 0h2m79 0h2m103 0h1m175 0h2m35 0h2m47 0h2M318 274.5h2m62 0h2m30 0h3m80 0h1m18 0h2m154 0h1m132 0h2m28 0h2m28 0h2M314 275.5h2m3 0h2m129 0h2m222 0h2m153 0h2m27 0h2m1 0h2M208 276.5h2m185 0h1m13 0h2m192 0h2m1 0h2m12 0h2m1 0h1m164 0h2m18 0h1m84 0h1M407 277.5h2m32 0h1m2 0h2m239 0h2m55 0h2m32 0h2m11 0h2m10 0h2m120 0h2M327 278.5h2m99 0h2m19 0h2m34 0h2m20 0h1m131 0h2m244 0h1m1 0h2M269 279.5h2m12 0h2m196 0h2m93 0h2m1 0h1m3 0h2m49 0h2m36 0h2m1 0h1m5 0h2m199 0h2M609 280.5h1m153 0h2m38 0h2m74 0h2m42 0h2M212 281.5h2m34 0h2m92 0h2m12 0h2m213 0h2m161 0h2m57 0h2m6 0h2m21 0h2m60 0h2M238 282.5h2m94 0h2m27 0h2m169 0h1m28 0h2m30 0h2m3 0h2m44 0h2m115 0h2m20 0h1m9 0h2m49 0h2M181 283.5h2m203 0h2m31 0h2m23 0h2m149 0h1m4 0h2m111 0h2m70 0h1m22 0h2m78 0h1M189 284.5h1m241 0h2m283 0h2m3 0h1m27 0h2m35 0h2M154 285.5h1m93 0h2m260 0h2m208 0h2m2 0h2m4 0h2m190 0h2M153 286.5h1m64 0h1m10 0h2m74 0h2m43 0h2m45 0h2m91 0h2m79 0h1m30 0h2m31 0h2m25 0h2m31 0h2m22 0h2m28 0h2m150 0h2m21 0h1M161 287.5h2m12 0h2m41 0h2m27 0h2m95 0h2m344 0h2m62 0h2m70 0h1m1 0h2M154 288.5h4m26 0h2m187 0h2m134 0h2m13 0h2m382 0h2M159 289.5h2m95 0h2m11 0h2m18 0h1m25 0h2m53 0h1m306 0h2m63 0h2m58 0h2m39 0h2m20 0h2M411 290.5h3m179 0h2m79 0h2m37 0h2m82 0h2m89 0h2M353 291.5h1m99 0h2m85 0h2m302 0h2M217 292.5h1m12 0h2m176 0h2m77 0h2m224 0h2m135 0h2m10 0h2m1 0h1m15 0h2m3 0h1M364 293.5h2m211 0h2m305 0h2M391 294.5h2m382 0h2m1 0h2m24 0h2m6 0h2m33 0h2m8 0h2m16 0h2m45 0h2M179 295.5h2m7 0h2m460 0h2m30 0h2m76 0h1m25 0h2M222 296.5h2m200 0h2m144 0h1m56 0h2m111 0h1m28 0h2m48 0h2m61 0h2m34 0h2M243 297.5h2m40 0h2m301 0h2m6 0h2m38 0h1m102 0h3m145 0h2M240 298.5h2m136 0h2m241 0h2m109 0h2m83 0h2m42 0h2m41 0h1M385 299.5h2m127 0h2m6 0h2m116 0h1m162 0h2m6 0h1m20 0h1m2 0h2m46 0h2M154 300.5h2m27 0h2m175 0h2m76 0h2m28 0h1m182 0h2m76 0h2m98 0h2m70 0h2M309 301.5h2m65 0h2m60 0h2m135 0h1m33 0h1m104 0h2M173 302.5h2m99 0h2m16 0h2m70 0h2m128 0h2m248 0h2m64 0h2m27 0h2m55 0h1m23 0h2M189 303.5h2m27 0h2m94 0h2m64 0h2m110 0h2m95 0h1m325 0h1M181 304.5h2m61 0h2m169 0h2m89 0h2m3 0h2m160 0h2m201 0h2M180 305.5h2m279 0h2m9 0h2M238 306.5h2m392 0h2m149 0h2m85 0h2M204 307.5h1m186 0h1m56 0h2m31 0h2m221 0h2m67 0h2m93 0h2M187 308.5h2m332 0h2m185 0h4m88 0h2m27 0h2M171 309.5h2m25 0h2m172 0h2m21 0h2m278 0h2m77 0h2m46 0h2m26 0h2m41 0h2M217 310.5h1m38 0h2m65 0h2m1 0h2m40 0h2m33 0h2m76 0h2m96 0h1m52 0h2m203 0h2m8 0h2M156 311.5h2m69 0h2m71 0h2m21 0h3m24 0h1m93 0h1m111 0h2m69 0h2m136 0h2m36 0h2m110 0h2M167 312.5h2m135 0h2m25 0h2m179 0h2m153 0h2m68 0h2m80 0h2m77 0h2m13 0h2M226 313.5h2m31 0h1m27 0h2m23 0h2m63 0h2m154 0h2m8 0h2m62 0h1m133 0h2m56 0h2m25 0h2M187 314.5h2m38 0h2m107 0h2m17 0h2m131 0h2m168 0h2m25 0h2m104 0h2m29 0h2m11 0h2m9 0h2m25 0h2M234 315.5h2m36 0h2m43 0h2m5 0h2m105 0h2m90 0h2m317 0h2M186 316.5h2m126 0h2m14 0h2m67 0h1m22 0h2m5 0h2m4 0h2m235 0h2M300 317.5h2m19 0h2m119 0h2m21 0h2m150 0h2m141 0h2M327 318.5h2m136 0h2m52 0h2m36 0h2m14 0h2m107 0h2m109 0h2m23 0h2M190 319.5h2m67 0h3m14 0h2m9 0h1m83 0h1m167 0h2m78 0h2m113 0h2m69 0h2m60 0h2M262 320.5h2m38 0h1m7 0h1m89 0h2m34 0h2m31 0h2m31 0h2m81 0h1m204 0h1m108 0h2M157 321.5h2m24 0h1m2 0h1m22 0h2m45 0h2m101 0h1m49 0h2m306 0h1m93 0h1m41 0h2m18 0h2M194 322.5h1m130 0h2m230 0h2m127 0h2m42 0h1m47 0h2m56 0h2M184 323.5h2m98 0h2m79 0h2m191 0h2m85 0h1m46 0h1m123 0h2m63 0h3M178 324.5h2m80 0h1m94 0h2m129 0h1m5 0h3m50 0h2m86 0h2m144 0h2m50 0h2M317 325.5h2m3 0h2m135 0h2m40 0h2m169 0h4m131 0h2M170 326.5h2m87 0h2m130 0h2m176 0h2m80 0h2m153 0h2m21 0h2M330 327.5h2m276 0h2m7 0h2m129 0h2m118 0h2M173 328.5h2m73 0h1m195 0h2m29 0h2m120 0h2m69 0h2m121 0h1m95 0h1M253 329.5h1m69 0h2m229 0h2m101 0h2m129 0h2M163 330.5h2m26 0h1m22 0h2m20 0h2m6 0h2m25 0h2m16 0h1m63 0h2m315 0h2m22 0h1m4 0h2m152 0h2m53 0h2M196 331.5h2m47 0h3m25 0h2m13 0h2m54 0h2m26 0h1m100 0h2m162 0h2m102 0h2m41 0h2m5 0h2m59 0h2m42 0h2m6 0h2m5 0h2M158 332.5h2m109 0h2m28 0h1m20 0h2m114 0h1m13 0h1m294 0h2m77 0h2m16 0h2m6 0h2m8 0h1m60 0h1M229 333.5h2m160 0h2m39 0h2m86 0h2m14 0h2m80 0h2m35 0h2m219 0h2M153 334.5h1m21 0h2m58 0h2m11 0h1m218 0h2m40 0h2m18 0h2m14 0h2m58 0h2m220 0h2m95 0h1M181 335.5h1m12 0h1m43 0h2m3 0h2m32 0h2m285 0h2m44 0h2m107 0h2m166 0h2M174 336.5h2m37 0h1m32 0h2m31 0h2m3 0h2m17 0h2m9 0h2m77 0h2m91 0h2m145 0h2m164 0h2m63 0h1m2 0h2M280 337.5h2m18 0h2m49 0h2m129 0h2m278 0h2m154 0h2M170 338.5h2m59 0h2m22 0h1m169 0h2m12 0h2m4 0h2m179 0h2m119 0h1m52 0h2m8 0h2m10 0h2m12 0h2m32 0h1M158 339.5h2m14 0h1m7 0h2m22 0h2m36 0h2m27 0h2m4 0h2m19 0h2m180 0h2m151 0h2m26 0h1m62 0h1m33 0h2m37 0h2m14 0h2m61 0h2M219 340.5h1m58 0h2m18 0h2m13 0h2m19 0h2m9 0h2m6 0h2m52 0h2m10 0h2m36 0h2m87 0h2m47 0h2m213 0h2M161 341.5h1m65 0h2m42 0h2m338 0h2m89 0h2m70 0h1m146 0h2M159 342.5h2m80 0h2m28 0h1m172 0h1m177 0h2m26 0h2m141 0h2m10 0h2m29 0h2m8 0h2M188 343.5h2m110 0h1m75 0h2m70 0h2m25 0h1m67 0h2m61 0h2m47 0h2m189 0h2m61 0h2M167 344.5h1m10 0h2m32 0h2m48 0h2m79 0h2m54 0h1m13 0h1m73 0h2m216 0h2m67 0h1m16 0h2m20 0h2M201 345.5h2m7 0h4m33 0h1m18 0h2m45 0h2m7 0h2m37 0h2m199 0h2m48 0h2m58 0h2m109 0h2m102 0h2m23 0h2M219 346.5h2m34 0h2m139 0h1m33 0h2m191 0h1m84 0h1m153 0h2m53 0h3M180 347.5h2m25 0h2m31 0h2m59 0h2m150 0h2m139 0h1m107 0h1m79 0h2m1 0h2m37 0h2M163 348.5h2m60 0h2m11 0h2m7 0h1m17 0h2m72 0h2m301 0h2m66 0h2M211 349.5h2m6 0h1m14 0h2m154 0h2m65 0h2m80 0h1m3 0h1m230 0h2m37 0h2m17 0h1m54 0h2M159 350.5h2m10 0h2m64 0h2m34 0h2m42 0h2m267 0h2m73 0h2m57 0h2m98 0h1m31 0h2M188 351.5h2m19 0h1m27 0h1m13 0h2m4 0h2m141 0h1m417 0h2M276 352.5h2m7 0h1m1 0h2m7 0h2m58 0h1m11 0h2m17 0h2m4 0h2m87 0h2m18 0h2m54 0h2m33 0h2m296 0h2M247 353.5h2m51 0h2m67 0h2m48 0h2m110 0h1m2 0h2m322 0h1M196 354.5h2m74 0h2m4 0h2m57 0h2m13 0h2m21 0h2m18 0h2m3 0h2m24 0h1m195 0h2m270 0h2M202 355.5h1m18 0h1m11 0h2m84 0h2m14 0h2m87 0h2m208 0h2m51 0h2m44 0h2m129 0h2m17 0h2M169 356.5h1m22 0h2m12 0h2m102 0h4m6 0h2m94 0h2m5 0h2m117 0h2m299 0h2m1 0h2m69 0h2M198 357.5h1m6 0h2m22 0h2m120 0h2m16 0h2m175 0h2M188 358.5h3m21 0h2m39 0h2m1 0h2m4 0h2m291 0h2m46 0h2m99 0h2M207 359.5h2m56 0h2m84 0h2m5 0h2m25 0h1m86 0h2m17 0h2m12 0h2m33 0h2m57 0h2m40 0h1m5 0h2m56 0h2m39 0h2m16 0h2m4 0h2m97 0h2m14 0h2M218 360.5h2m198 0h2m47 0h2m19 0h1m221 0h1m123 0h1m11 0h1M155 361.5h2m48 0h2m29 0h2m12 0h2m3 0h2m87 0h2m17 0h1m2 0h2m106 0h2m195 0h2m72 0h1M180 362.5h3m14 0h1m17 0h1m69 0h2m153 0h1m339 0h2m100 0h2M171 363.5h2m13 0h2m31 0h2m32 0h2m128 0h2m198 0h2M226 364.5h2m22 0h2m36 0h1m18 0h1m57 0h2m81 0h2m181 0h2m54 0h2m76 0h1m36 0h2m105 0h2M186 365.5h3m53 0h2m2 0h2m2 0h2m141 0h1m49 0h1m196 0h1m43 0h2m206 0h2M194 366.5h3m19 0h2m8 0h2m81 0h2m55 0h2m108 0h2m320 0h2m7 0h2m20 0h2m90 0h2M205 367.5h2m145 0h2m136 0h2m40 0h2m11 0h2m206 0h1M189 368.5h2m32 0h2m22 0h2m38 0h2m2 0h2m9 0h2m5 0h2m31 0h2m34 0h1m86 0h2m252 0h2m26 0h2m85 0h2M159 369.5h2m29 0h1m307 0h2m346 0h2M275 370.5h2m30 0h2m316 0h2m20 0h2m18 0h2m79 0h1M421 371.5h2m183 0h2m219 0h2m94 0h2M189 372.5h1m229 0h2m107 0h1m5 0h2m56 0h2m23 0h2m109 0h2m38 0h2M198 373.5h2m114 0h2m108 0h2m20 0h2m19 0h2m51 0h2m35 0h2m211 0h2m32 0h1m45 0h2m2 0h2M333 374.5h2m121 0h2m3 0h1m215 0h2m86 0h2M237 375.5h2m11 0h2m6 0h2m25 0h1m23 0h1m109 0h2m185 0h2m13 0h2m12 0h2m52 0h2m39 0h2m17 0h2m17 0h2m129 0h2M230 376.5h2m14 0h2m88 0h2m10 0h2m21 0h2m1 0h1m107 0h2m2 0h2m59 0h2m300 0h2M177 377.5h2m17 0h2m8 0h2M190 378.5h2m38 0h2m198 0h2m96 0h1m147 0h2m118 0h2m62 0h2M153 379.5h2m104 0h2m13 0h2m137 0h1m178 0h2m112 0h2M172 380.5h2m44 0h2m92 0h2m13 0h1m22 0h1m197 0h2m182 0h2m51 0h2M209 381.5h2m176 0h1m29 0h3m23 0h2m44 0h2m52 0h2m204 0h2m18 0h2m23 0h2M190 382.5h2m48 0h2m22 0h2m69 0h2m181 0h2m259 0h2m101 0h2m25 0h2M322 383.5h2m133 0h2m60 0h2m125 0h2m58 0h2m3 0h2m14 0h2m6 0h3m82 0h2m29 0h2m57 0h2M299 384.5h2m46 0h2m40 0h2m62 0h2m25 0h2m6 0h2m176 0h1m9 0h2m39 0h1m26 0h2m147 0h2M446 385.5h2m11 0h2m71 0h2m14 0h1m73 0h1m5 0h2m59 0h2m113 0h2m61 0h2m39 0h2M223 386.5h2m316 0h2M211 387.5h2m149 0h2m274 0h1m137 0h2m109 0h2M185 388.5h2m228 0h2m33 0h2m203 0h2m19 0h2m124 0h1m35 0h2m6 0h2m11 0h2m7 0h1M171 389.5h2m46 0h2m51 0h2m150 0h2m82 0h2m76 0h2m58 0h2m66 0h2m185 0h2M190 390.5h2m48 0h2m56 0h2m46 0h1m89 0h2m89 0h1m214 0h2m32 0h4m11 0h2M278 391.5h2m72 0h2m21 0h2m62 0h1m141 0h2m74 0h1m56 0h2m19 0h2m26 0h2m35 0h3m113 0h1M159 392.5h2m55 0h1m138 0h2m106 0h2m58 0h2m72 0h2m124 0h2m14 0h2m19 0h2m27 0h2M153 393.5h2m73 0h2m111 0h2m94 0h2m29 0h2m94 0h1m53 0h2m154 0h2m121 0h2M246 394.5h2m75 0h2m24 0h2m14 0h2m21 0h2m73 0h4m20 0h2m9 0h2m1 0h2m77 0h2m160 0h1m28 0h1m48 0h2m24 0h2M208 395.5h2m160 0h2m140 0h2m231 0h2m48 0h2m15 0h2m54 0h2M265 396.5h1m245 0h2m61 0h2m143 0h1m10 0h2m29 0h2m92 0h1m3 0h2m14 0h2m4 0h2M160 397.5h2m21 0h2m99 0h2m27 0h2m41 0h2m76 0h2m221 0h2m35 0h2m69 0h1m58 0h2m36 0h1m43 0h2m6 0h2M164 398.5h2m87 0h2m103 0h2m61 0h2m218 0h1m11 0h2m53 0h2m102 0h2m42 0h1m37 0h2M348 399.5h2m180 0h2m159 0h1m2 0h1m34 0h1m20 0h1m6 0h1m31 0h2m119 0h1M210 400.5h2m65 0h2m87 0h2m17 0h1m75 0h2m37 0h2m26 0h2m51 0h3m23 0h2m3 0h2m12 0h2m64 0h2m70 0h2m88 0h2m3 0h2m27 0h2m3 0h2m20 0h1M319 401.5h2m52 0h2m3 0h2m15 0h2m54 0h2m47 0h2m103 0h2m43 0h2m52 0h1m7 0h2m58 0h2m43 0h2M198 402.5h2m78 0h2m8 0h2m160 0h2m9 0h2m95 0h2m67 0h3m116 0h2m3 0h1m146 0h2m11 0h2M161 403.5h2m55 0h2m132 0h1m122 0h2m90 0h1m29 0h2m37 0h2m4 0h2m68 0h2m37 0h1m91 0h2m4 0h4m25 0h1m23 0h2M164 404.5h2m61 0h2m153 0h2m117 0h2m139 0h2m33 0h2m30 0h2m65 0h2m34 0h1m69 0h2M196 405.5h2m104 0h2m144 0h2m11 0h2m6 0h2m1 0h2m39 0h2m51 0h2m8 0h2m190 0h2m48 0h2m9 0h1m28 0h2m26 0h2M207 406.5h1m69 0h2m111 0h2m229 0h2m92 0h2m36 0h2m143 0h2M210 407.5h2m158 0h2m362 0h2m83 0h2m32 0h2m37 0h2M163 408.5h2m21 0h2m26 0h2m57 0h2m17 0h2m33 0h2m22 0h2m14 0h2m63 0h2m176 0h2m61 0h1m124 0h1M155 409.5h2m41 0h2m106 0h1m15 0h2m22 0h2m125 0h1m18 0h2m27 0h2m134 0h2m38 0h1m25 0h1m22 0h2m104 0h2m5 0h2M454 410.5h2m118 0h1m8 0h1m106 0h2m48 0h2m1 0h2m110 0h1m7 0h2m7 0h2m31 0h2m2 0h4m6 0h3M174 411.5h2m158 0h2m30 0h2m56 0h2m3 0h2m67 0h2m15 0h2m139 0h2m51 0h2m32 0h2m56 0h1m32 0h2m10 0h2m13 0h1m49 0h2M183 412.5h2m29 0h2m214 0h2m3 0h2m177 0h2m24 0h2m79 0h1m5 0h2M230 413.5h2m23 0h2m177 0h2m38 0h2m36 0h2m245 0h2m36 0h2m37 0h2m11 0h2m32 0h2m5 0h2M207 414.5h1m41 0h2m86 0h2m129 0h2m7 0h2m79 0h1m87 0h2m4 0h2m204 0h2M278 415.5h2m114 0h2m2 0h2m43 0h2m15 0h2m31 0h2m102 0h2m24 0h2m172 0h2m107 0h2m15 0h2M474 416.5h2m9 0h2m4 0h2m15 0h2m45 0h1m2 0h1m65 0h1m52 0h2m49 0h2m128 0h2m33 0h2M154 417.5h2m134 0h1m18 0h2m19 0h2m46 0h2m15 0h2m49 0h2m70 0h2m45 0h2m11 0h1m37 0h1m6 0h2m19 0h1m12 0h2m243 0h2M178 418.5h2m1 0h2m181 0h2m22 0h2m89 0h2m36 0h2m15 0h1m13 0h2m99 0h1m89 0h1m1 0h2m24 0h2m27 0h3m22 0h2M215 419.5h2m2 0h2m127 0h1m47 0h2m16 0h1m19 0h2m4 0h2m20 0h2m106 0h2m75 0h2m19 0h2m2 0h2m185 0h2m19 0h2M175 420.5h2m6 0h2m3 0h2m132 0h3m19 0h1m33 0h2m71 0h2m35 0h1m67 0h2m35 0h2m95 0h1m102 0h2M235 421.5h2m70 0h2m1 0h1m21 0h2m1 0h2m14 0h2m38 0h1m83 0h2m430 0h2M184 422.5h2m39 0h1m239 0h2m45 0h2m45 0h2m165 0h2m26 0h2m16 0h2m10 0h2m44 0h2m22 0h3M153 423.5h1m6 0h2m4 0h2m16 0h2m1 0h2m23 0h2m2 0h2m59 0h2m14 0h2m197 0h1m142 0h1m67 0h2m1 0h2m54 0h2m87 0h1m29 0h2m41 0h1M155 424.5h2m151 0h2m58 0h2m58 0h2m46 0h2m27 0h2m15 0h1m25 0h2m29 0h2m91 0h2m215 0h2M286 425.5h2m167 0h4m46 0h2m124 0h2m19 0h2m155 0h2m14 0h2m40 0h1M157 426.5h2m150 0h2m1 0h2m55 0h1m43 0h2m29 0h2m71 0h2m26 0h2m38 0h2m93 0h1m114 0h1m56 0h3m13 0h1M193 427.5h2m26 0h2m30 0h1m14 0h1m25 0h2m60 0h2m33 0h2m60 0h2m6 0h2m156 0h2m3 0h1m28 0h4m21 0h2m170 0h2m69 0h2M256 428.5h2m28 0h4m15 0h2m393 0h1m53 0h2m37 0h2m14 0h1m68 0h1m16 0h2M177 429.5h2m87 0h2m32 0h2m149 0h3m12 0h1m1 0h1m31 0h2m34 0h2m4 0h1m101 0h2m112 0h2m51 0h2m8 0h2m71 0h2m23 0h1M208 430.5h2m4 0h2m9 0h1m96 0h2m41 0h2m3 0h2m38 0h2m40 0h2m68 0h2m8 0h2m12 0h2m17 0h2m39 0h2m44 0h2m11 0h1m1 0h2m5 0h2m163 0h1m29 0h2m1 0h2m31 0h1m6 0h2M161 431.5h2m209 0h1m47 0h2m37 0h3m158 0h2m65 0h2m18 0h2m2 0h2m43 0h2m55 0h3m48 0h2m30 0h2M288 432.5h2m114 0h2m44 0h1m44 0h2m33 0h2m28 0h1m22 0h2m49 0h2m135 0h2m13 0h2m62 0h2m57 0h2M189 433.5h1m13 0h2m30 0h2m150 0h1m4 0h2m82 0h2m41 0h2m14 0h1m18 0h2m54 0h2m164 0h2M171 434.5h2m75 0h2m44 0h1m43 0h2m99 0h2m81 0h2m185 0h2m48 0h2m34 0h1m87 0h2m23 0h4M176 435.5h2m47 0h2m86 0h2m19 0h2m72 0h2m33 0h2m74 0h2m116 0h1m7 0h2m77 0h1m7 0h2m8 0h1m120 0h1m51 0h1m7 0h2M157 436.5h2m24 0h2m42 0h2m51 0h2m191 0h2m20 0h1m6 0h2m158 0h1m63 0h2m32 0h2m67 0h2M164 437.5h1m58 0h2m12 0h2m44 0h1m97 0h2m1 0h1m85 0h1m28 0h2m56 0h2m77 0h2m139 0h1m94 0h1" stroke="#0e14c4" stroke-width="1" fill="none"/>
<path d="M588 83.5h2M307 86.5h2m153 0h2M870 88.5h2M287 90.5h2M688 92.5h2M206 93.5h2M665 94.5h2M708 97.5h2m197 0h2M421 98.5h2M523 99.5h2m393 0h2M160 100.5h2M339 101.5h2m165 0h2M155 103.5h2m490 0h2M177 104.5h2M608 105.5h2m31 0h2m233 0h2M444 106.5h2M411 107.5h2M883 109.5h2M919 110.5h1M190 111.5h2m63 0h2M298 112.5h2M848 113.5h2M220 114.5h2M742 116.5h2M769 117.5h3M407 119.5h2M238 121.5h2m157 0h2m21 0h2m352 0h2M172 122.5h2m496 0h2m204 0h1M499 124.5h1M680 125.5h2M234 126.5h2m20 0h1m240 0h2m163 0h2M187 127.5h1m21 0h2m263 0h2m21 0h2M298 129.5h2M476 130.5h2m253 0h2m34 0h2m72 0h1M445 131.5h2M591 132.5h2m42 0h2M331 134.5h2m342 0h2M426 136.5h2m91 0h2M299 137.5h2m537 0h2M818 138.5h2M297 139.5h2m114 0h2m130 0h2m102 0h2M334 140.5h2m157 0h2m289 0h2M489 141.5h2M445 142.5h2m119 0h1M825 143.5h1m42 0h2M356 145.5h2M682 146.5h2M394 147.5h2M448 148.5h2M300 149.5h2m281 0h2m176 0h2M869 151.5h2M334 153.5h2m341 0h2m41 0h2m134 0h2m52 0h2M310 154.5h2m244 0h2M394 155.5h2M283 156.5h2m144 0h1M175 157.5h2m27 0h2m374 0h2M768 158.5h2M297 160.5h2m20 0h1m198 0h2m97 0h2m150 0h2m99 0h2m28 0h2M525 161.5h2M190 162.5h2m92 0h2m233 0h2M508 163.5h1M213 164.5h2m209 0h2m249 0h2m127 0h2M357 165.5h2m145 0h2m18 0h3m125 0h2m189 0h2m60 0h2M211 166.5h2m168 0h2M291 167.5h2m21 0h2m121 0h2M154 168.5h2m109 0h2m537 0h2M262 169.5h2m158 0h1m233 0h2M246 170.5h2m186 0h2m299 0h2m5 0h2m32 0h2m112 0h2m27 0h2M412 171.5h2m27 0h2m213 0h2M891 172.5h2M394 173.5h2m238 0h2m64 0h2m146 0h2M240 174.5h2m316 0h2m8 0h2m266 0h1M243 175.5h2m113 0h2m112 0h2m278 0h1M692 176.5h2M195 177.5h2m134 0h2m256 0h1m193 0h1M193 178.5h2m636 0h2m14 0h2M201 179.5h2m455 0h2m63 0h2M474 180.5h1m328 0h2M233 181.5h2m65 0h2m524 0h2M309 183.5h2m325 0h2m52 0h2m69 0h2M256 184.5h1m22 0h2m389 0h2M295 187.5h2m133 0h2m103 0h2m183 0h1m141 0h2M200 188.5h2M403 189.5h2m424 0h1M733 190.5h2m42 0h2m68 0h2M675 191.5h1M362 192.5h2m135 0h2m39 0h2m249 0h2M514 194.5h2m222 0h2m122 0h2M432 195.5h2m467 0h2m4 0h2M767 197.5h2M362 198.5h2m311 0h2m134 0h2M415 199.5h1m106 0h2M346 200.5h2m397 0h2M584 201.5h2m131 0h2M347 202.5h2M572 203.5h2M463 204.5h2m347 0h2M495 205.5h2m382 0h2M646 206.5h2m130 0h2M201 208.5h2m263 0h2m341 0h2M168 209.5h1m640 0h1M234 210.5h2m620 0h2M374 214.5h2M509 215.5h2M455 217.5h2M779 218.5h2M198 220.5h1m317 0h2M674 221.5h2M517 222.5h2m194 0h2M334 223.5h2m20 0h2m143 0h2m152 0h1M662 225.5h2M182 226.5h2m610 0h2M287 228.5h2M823 229.5h2M203 231.5h2m589 0h2M902 232.5h2M290 233.5h2m286 0h2M505 235.5h2M534 236.5h1M511 239.5h2M447 240.5h1M381 241.5h2M821 242.5h2m2 0h2M575 243.5h2M532 245.5h2M365 246.5h2M238 247.5h2M800 249.5h2M191 250.5h2m64 0h2m238 0h2M889 252.5h1M704 253.5h2M189 254.5h2m107 0h2m188 0h2m351 0h2M667 257.5h2m83 0h2M491 258.5h2M340 259.5h2m516 0h2M880 261.5h2M787 262.5h2M725 264.5h2M290 265.5h2m54 0h2m221 0h2m61 0h2M694 266.5h2M731 267.5h2M216 269.5h1m104 0h2M211 270.5h2m73 0h2M204 272.5h2m234 0h2M171 273.5h1M210 274.5h2m140 0h2m474 0h2M328 275.5h2m212 0h2M383 276.5h2M478 278.5h2M479 279.5h2m334 0h2M602 280.5h2m4 0h1M425 281.5h2M784 282.5h1m84 0h2M887 283.5h1M720 284.5h1M189 285.5h2M825 287.5h1m83 0h2M779 289.5h2m66 0h2M881 290.5h2M243 291.5h2m107 0h1M511 292.5h2m360 0h2M199 293.5h2m21 0h2M445 294.5h2m412 0h2M534 295.5h2M219 296.5h2m541 0h2M519 297.5h2M612 298.5h2m289 0h1M323 299.5h2M388 301.5h2m184 0h1M186 302.5h2M496 305.5h2m219 0h2M611 306.5h2m2 0h2M180 308.5h2M845 310.5h2M222 311.5h2m664 0h2M310 312.5h2m173 0h2M203 313.5h2m295 0h2m131 0h2M391 314.5h2m447 0h2M412 316.5h2m457 0h2M727 317.5h2m77 0h2M441 318.5h2m300 0h2M370 319.5h1m133 0h2m276 0h2M417 320.5h2m348 0h2M193 321.5h4M706 323.5h2M259 324.5h1m314 0h2m81 0h2M797 325.5h2M191 326.5h2M249 327.5h2M498 328.5h2M199 330.5h2m492 0h1M435 332.5h1m313 0h2M221 333.5h2m246 0h2M166 334.5h2m228 0h2m453 0h2M190 337.5h2m242 0h2M504 338.5h2m240 0h1M368 341.5h2m232 0h2m169 0h1M298 342.5h2M168 344.5h2m128 0h2m98 0h1m13 0h1M255 345.5h2M598 346.5h2M751 347.5h2M563 348.5h2m88 0h2m73 0h2M162 349.5h2m82 0h2m59 0h2m62 0h2m303 0h2M701 350.5h2m110 0h2m3 0h2M235 351.5h2m28 0h2m32 0h2m43 0h2m406 0h2M284 353.5h2m2 0h2m6 0h2m232 0h1m230 0h2M362 354.5h2m126 0h2M257 355.5h2m121 0h2m368 0h2M591 356.5h2M197 357.5h1m576 0h2M886 358.5h2M384 359.5h1M233 360.5h2m547 0h2M400 361.5h2M314 362.5h2m2 0h2m119 0h1m329 0h2M205 363.5h2m248 0h2m130 0h2m62 0h2m214 0h2M175 364.5h2m12 0h2m96 0h1m269 0h2M283 366.5h2m337 0h2M196 367.5h2M159 368.5h2m48 0h2m72 0h2m497 0h2M277 369.5h2M239 370.5h2m395 0h2M202 371.5h2M206 372.5h2m493 0h2m169 0h2M462 374.5h2M244 376.5h2m255 0h2m203 0h2M192 377.5h2m395 0h2m235 0h2m4 0h2m87 0h2M359 378.5h2m165 0h2m122 0h2m71 0h2M267 379.5h2m74 0h2m132 0h2m6 0h2M719 380.5h2M710 382.5h2M384 383.5h2M248 385.5h2M518 386.5h2m246 0h2m143 0h2M367 387.5h2m239 0h2m124 0h2M486 388.5h2M345 390.5h1m96 0h2m82 0h1m177 0h2m179 0h2M626 391.5h2M654 392.5h2M228 395.5h2m623 0h2M166 397.5h2m207 0h2M599 398.5h2m39 0h1M749 399.5h1M580 400.5h1M167 401.5h2m195 0h2m286 0h2m49 0h1m54 0h2M310 402.5h2m99 0h2M436 403.5h2m32 0h2m45 0h2m289 0h2M850 404.5h2M561 405.5h2M593 406.5h2m328 0h2M549 407.5h2m293 0h2M281 408.5h2m80 0h2M207 409.5h2m299 0h2M192 411.5h2m74 0h2M239 412.5h2m515 0h2M290 413.5h2m132 0h2M279 414.5h2m86 0h2m252 0h2M382 415.5h2m273 0h2M260 416.5h2m133 0h2M289 417.5h1m362 0h2m228 0h2M490 418.5h2m399 0h2M227 419.5h2m118 0h1m43 0h2m461 0h2m59 0h2M351 420.5h2m134 0h1m80 0h2m114 0h2m114 0h2M337 421.5h2m187 0h2m387 0h2M735 422.5h2M669 423.5h2M521 424.5h1m19 0h2M358 425.5h2m59 0h2m92 0h2M697 426.5h2M224 427.5h2m151 0h2M254 428.5h2m108 0h2m29 0h2m302 0h1m72 0h2m72 0h2m24 0h4M612 429.5h2m211 0h2M340 430.5h2m161 0h2m141 0h2m256 0h1M490 431.5h2m268 0h2M497 432.5h2m60 0h1m239 0h2m68 0h2M922 433.5h2M378 435.5h2m92 0h2m162 0h1M163 437.5h1m425 0h2m200 0h2m78 0h1" stroke="#1c2cd8" stroke-width="1" fill="none"/>
<rect x="153" y="150" width="772" height="40" fill="url(#haze)"/>
</g><g filter="url(#soft)">
<rect x="864" y="82" width="1.5" height="356" fill="#1a2ad0" opacity="0.5"/>
<rect x="738" y="380" width="1.2" height="58" fill="#1a2ad0" opacity="0.4"/>
<rect x="153" y="352" width="772" height="1" fill="#3c66e0" opacity="0.6"/>
<rect x="153" y="164" width="772" height="1" fill="#1838e0" opacity="0.5"/>
<rect x="153" y="165" width="772" height="1" fill="#2050e8" opacity="0.8"/>
<rect x="153" y="166" width="772" height="1" fill="#3090f0"/>
<rect x="153" y="167" width="772" height="1" fill="#a0e4f0"/>
<rect x="153" y="168" width="772" height="1" fill="url(#core1)"/>
<rect x="153" y="169" width="772" height="1" fill="url(#core2)"/>
<rect x="153" y="170" width="772" height="1" fill="#a8d0d8"/>
<rect x="153" y="171" width="772" height="1" fill="#40a0f0"/>
<rect x="153" y="172" width="772" height="1" fill="#2a64f0" opacity="0.85"/>
<rect x="153" y="173" width="772" height="1" fill="#1840e0" opacity="0.5"/>
<path d="M772 97.5h1M774 100.5h1M773 101.5h1m3 0h1M776 103.5h1m14 0h1M699 104.5h2m18 0h2m62 0h1m8 0h2M706 105.5h2m8 0h2m72 0h2M782 106.5h1m1 0h1m4 0h1m2 0h1M692 107.5h2m104 0h1m1 0h2m2 0h1m1 0h1m2 0h1M810 108.5h1M713 109.5h2m82 0h2m1 0h1m1 0h1m1 0h1m1 0h1m1 0h1m2 0h1m4 0h2m5 0h1m4 0h1M716 110.5h1m6 0h2m85 0h1m9 0h2M717 111.5h2m14 0h2m76 0h1m5 0h1m4 0h2m17 0h1m1 0h1M648 112.5h1m1 0h1m30 0h2m1 0h1m12 0h1m21 0h2m1 0h4m89 0h1M651 113.5h1m1 0h1m23 0h1m2 0h1m6 0h2m5 0h1m2 0h1m116 0h1M648 114.5h1m1 0h1m3 0h5m2 0h1m10 0h4m3 0h1m1 0h1m2 0h1m5 0h1m2 0h1m19 0h2M651 115.5h2m29 0h1m2 0h1m1 0h2m2 0h1m7 0h1m16 0h2m14 0h4M654 116.5h2m1 0h1m2 0h3m9 0h1m1 0h3m12 0h1m2 0h2M658 117.5h1m35 0h1m29 0h2M750 118.5h2M741 120.5h2m1 0h2M723 121.5h2m12 0h2M723 122.5h2M800 142.5h2M743 145.5h2M785 146.5h2m15 0h2M773 149.5h2m1 0h2m8 0h2m5 0h2M778 150.5h2m4 0h1m30 0h2M780 151.5h1m1 0h1m29 0h3m3 0h2M790 152.5h1m25 0h1m2 0h1m1 0h2M776 153.5h1m9 0h2m3 0h3m19 0h2m10 0h2M769 154.5h2m7 0h1m4 0h2m43 0h2m9 0h2M780 155.5h1m12 0h1m3 0h3m48 0h2M801 156.5h3m15 0h1m15 0h2M774 157.5h2m9 0h2m2 0h1m17 0h3m12 0h1m3 0h2m13 0h2M790 158.5h1m19 0h2m1 0h2m1 0h1m27 0h2M808 159.5h4m10 0h1m11 0h1M664 160.5h2m125 0h1m18 0h2m4 0h2m8 0h1m4 0h1m1 0h1m3 0h2m18 0h2m8 0h2m27 0h2M641 161.5h2m10 0h2m21 0h2m114 0h1m3 0h3m1 0h1m9 0h2m3 0h1m13 0h2m1 0h1m6 0h1m1 0h3m9 0h2m5 0h2m6 0h2m10 0h2M641 162.5h2m23 0h2m127 0h1m5 0h2m10 0h2m25 0h1m1 0h1m3 0h1m2 0h1m17 0h2m3 0h2m5 0h2m9 0h2m7 0h2m1 0h2m20 0h1M643 163.5h4m150 0h2m44 0h1m6 0h2m1 0h2m13 0h1m24 0h2m8 0h1m2 0h2m5 0h3m8 0h1M632 164.5h2m3 0h2m20 0h2m2 0h2m1 0h2m16 0h2m147 0h1m2 0h1m1 0h1m16 0h1m37 0h1m17 0h2m1 0h2m5 0h2m1 0h1M638 165.5h2m17 0h2m6 0h2m1 0h2m12 0h2m3 0h2m119 0h1m10 0h2m1 0h1m9 0h1m23 0h1m12 0h2m7 0h2m1 0h2m21 0h2m4 0h2m2 0h2m2 0h2M644 172.5h2m16 0h1m55 0h2m2 0h2m4 0h2M709 173.5h1m1 0h1m2 0h2m8 0h1m128 0h2M712 174.5h2M716 175.5h2m8 0h2m5 0h2M717 176.5h3m19 0h2M711 177.5h2m11 0h1M724 178.5h1M737 179.5h2M725 180.5h4M714 181.5h2m11 0h2M734 182.5h2M732 185.5h2M778 257.5h1m1 0h1M776 258.5h1M778 259.5h2M776 260.5h1m4 0h1m2 0h1M785 261.5h2M784 262.5h1M803 270.5h1M802 271.5h1M798 272.5h1m8 0h1m3 0h1m1 0h2M809 273.5h2m1 0h1m3 0h1m5 0h3M808 274.5h1m2 0h1m2 0h1m5 0h2m7 0h3m1 0h4m7 0h1m1 0h1m41 0h2M809 275.5h2m2 0h1m1 0h2m2 0h1m2 0h1m1 0h2m11 0h1m5 0h1m19 0h3m19 0h1m20 0h1M807 276.5h1m10 0h1m2 0h1m7 0h1m1 0h1m2 0h1m4 0h1m5 0h2m2 0h3m7 0h1m6 0h1m3 0h1m9 0h1m2 0h2m3 0h2m14 0h2m2 0h1M820 277.5h1m11 0h1m3 0h1m1 0h1m13 0h1m3 0h1m1 0h1m5 0h1m3 0h1m2 0h1m1 0h1m3 0h2m6 0h2m14 0h1m4 0h1m2 0h1m2 0h1M839 278.5h1m10 0h1m4 0h1m3 0h1m6 0h2m1 0h2m4 0h2m4 0h1m1 0h1m16 0h1m3 0h2m1 0h2m5 0h1M849 279.5h1m2 0h1m5 0h1m9 0h1m2 0h1m5 0h4m22 0h1m5 0h3m1 0h1M646 280.5h1m206 0h1m20 0h3m21 0h1m2 0h1M642 281.5h4m2 0h2m44 0h1m6 0h1m152 0h2M646 282.5h1m48 0h3m1 0h1m2 0h2M643 283.5h1m4 0h3m43 0h1M695 284.5h9M709 285.5h1M722 290.5h1M777 308.5h2M800 314.5h2M775 316.5h2M771 317.5h2M787 318.5h2m19 0h2M777 319.5h2m7 0h2m6 0h2M766 320.5h2m10 0h2m13 0h2m8 0h2M761 321.5h2m8 0h2m19 0h2m3 0h2m6 0h2M756 322.5h2m31 0h2M769 323.5h2m14 0h1m5 0h2m8 0h2M763 324.5h2m44 0h2m7 0h2M777 325.5h2m1 0h2m1 0h2m22 0h2m6 0h2M766 326.5h2m14 0h1m3 0h1m14 0h2m11 0h4M777 327.5h2m1 0h2m8 0h2m13 0h2M775 328.5h3m9 0h1m5 0h3m11 0h2m8 0h2m4 0h2M813 329.5h2m1 0h3m2 0h2M774 330.5h1m7 0h1m2 0h1m10 0h3m5 0h2m1 0h2m35 0h2M781 331.5h1m1 0h2m15 0h2m22 0h2M768 332.5h2m6 0h1m1 0h1m2 0h2m3 0h1m5 0h1m37 0h2m1 0h2M787 333.5h1m11 0h2m22 0h2m2 0h2m3 0h2m3 0h2M773 334.5h2m5 0h2m1 0h2m12 0h2m20 0h2M779 335.5h2m6 0h1m12 0h1m12 0h4m1 0h2m15 0h2M788 336.5h1m13 0h1m4 0h2m32 0h2m4 0h2m3 0h2M789 337.5h1m16 0h2m4 0h2m8 0h1m9 0h2m9 0h2M826 338.5h2M816 339.5h2m10 0h1m7 0h4m14 0h2M792 340.5h1m38 0h1m52 0h2M795 341.5h1m19 0h1m9 0h1m8 0h1m14 0h2m35 0h1M797 342.5h1m38 0h1m6 0h2m19 0h4m19 0h2M840 343.5h1m1 0h2m2 0h1m11 0h1m3 0h1m5 0h1M799 344.5h1m42 0h1m1 0h1m12 0h1m2 0h1m11 0h1m8 0h1m8 0h1M802 345.5h1m3 0h1m40 0h2m1 0h1m4 0h1m1 0h1m14 0h2m20 0h2m2 0h1m7 0h1m1 0h2M803 346.5h2m3 0h1m42 0h1m1 0h1m26 0h1m4 0h1m10 0h1m1 0h2m6 0h1m3 0h1m4 0h1M854 347.5h1m19 0h1m4 0h1m5 0h1m2 0h1m8 0h1m4 0h1m2 0h1m7 0h2m5 0h1M813 348.5h1m13 0h1m36 0h3m8 0h1m3 0h1m10 0h2m12 0h1m11 0h1m1 0h2M811 349.5h2m12 0h1m6 0h1m45 0h1m5 0h1m24 0h1m7 0h1M827 350.5h2m15 0h1m15 0h1m6 0h2m2 0h1m5 0h2m5 0h1m7 0h1m1 0h1m4 0h1m10 0h1M838 351.5h1m7 0h2m1 0h1m5 0h1m3 0h1m9 0h1m25 0h1m1 0h2m4 0h1m1 0h1m2 0h1m4 0h1M852 352.5h2m4 0h1m23 0h1m13 0h1m1 0h1m1 0h2m13 0h1M850 353.5h1m1 0h1m1 0h1m60 0h1m6 0h2M842 354.5h2m32 0h1M859 358.5h2M783 365.5h2M796 371.5h2M768 375.5h2m6 0h2m15 0h2M780 376.5h2m17 0h2M792 377.5h2M791 378.5h4m4 0h2M790 379.5h2m3 0h2M791 380.5h2m7 0h2m3 0h2M781 381.5h3m22 0h2M793 382.5h2m13 0h4M790 383.5h1m26 0h2m4 0h2M784 384.5h1m1 0h2m3 0h2m5 0h2m21 0h2M779 385.5h1m2 0h1m4 0h1m3 0h1m8 0h2m16 0h2m3 0h2M788 386.5h1m19 0h2M784 387.5h2m3 0h1m3 0h1m30 0h2m9 0h2M789 388.5h1m5 0h1m1 0h2m25 0h2M787 389.5h2m7 0h1m26 0h2m3 0h2M786 390.5h2m2 0h2m26 0h1m11 0h2m7 0h2M789 391.5h2m14 0h2m11 0h3M802 392.5h1m4 0h1m1 0h2m6 0h1m4 0h2M805 393.5h1m2 0h1m3 0h4m22 0h2M795 394.5h1m29 0h2m22 0h2M796 395.5h1m22 0h2m16 0h2M821 396.5h4m1 0h2m5 0h1m3 0h1M799 397.5h1m86 0h1m3 0h1m1 0h1M806 398.5h1m2 0h1m29 0h5m5 0h1m2 0h3m1 0h1m1 0h2m2 0h1m2 0h1m2 0h2m15 0h1m21 0h1M845 399.5h1m1 0h2m1 0h1m38 0h1m5 0h1m2 0h1m1 0h3m1 0h1m1 0h1m4 0h2m2 0h1M815 400.5h5m17 0h1m34 0h1m10 0h1m21 0h1m4 0h1m5 0h1m1 0h2M813 401.5h1m5 0h1m5 0h1m3 0h1m2 0h2m2 0h1m1 0h1m5 0h1m10 0h1m7 0h1m18 0h1m4 0h1m4 0h1m30 0h1M810 402.5h2m11 0h1m3 0h1m3 0h1m7 0h2m10 0h1m1 0h2m3 0h1m5 0h2m1 0h3m6 0h2m3 0h1m3 0h2m3 0h1m3 0h1m1 0h1m10 0h1M837 403.5h2m6 0h1m1 0h3m7 0h1m12 0h1m7 0h2m19 0h1m1 0h4m1 0h1m1 0h1m2 0h1M872 404.5h1m11 0h1m25 0h1m6 0h3M835 405.5h2m36 0h1m46 0h1m1 0h2M876 406.5h1m5 0h1m41 0h1M877 407.5h1m1 0h1" stroke="#1a3cf0" stroke-width="1" fill="none"/>
<path d="M769 96.5h1M773 99.5h1M774 102.5h1M789 104.5h1M794 105.5h1M795 106.5h1M807 107.5h1M805 108.5h1M715 109.5h2m84 0h1m24 0h1m16 0h3M712 110.5h1m99 0h1m27 0h1M712 111.5h2m1 0h1m3 0h1m119 0h1M649 112.5h1m49 0h1m112 0h1M652 113.5h1m7 0h1m17 0h1m10 0h1m9 0h1m17 0h2m6 0h1m2 0h2m1 0h2M649 114.5h1m12 0h1m8 0h1m4 0h1m15 0h1m2 0h2m2 0h1m20 0h1m3 0h2M678 115.5h1M656 116.5h1m14 0h1m1 0h1m20 0h2m32 0h1m1 0h2M691 117.5h1m5 0h1m1 0h1m31 0h2M776 150.5h2m7 0h3M779 151.5h1m1 0h1m2 0h1m3 0h1m18 0h2M780 152.5h1m4 0h2m9 0h2m14 0h1M779 153.5h1m1 0h1m1 0h1m21 0h2m9 0h2m1 0h1M780 154.5h1m1 0h1m18 0h2m2 0h2m4 0h2m6 0h1M788 155.5h1m3 0h1m19 0h2M789 156.5h1m3 0h5m7 0h3m1 0h2M801 157.5h1m1 0h2m1 0h1m16 0h2M807 158.5h1m9 0h2M813 159.5h2m4 0h1m3 0h1M793 160.5h1m2 0h1m2 0h2m7 0h1m9 0h1m1 0h1m13 0h1m6 0h3m5 0h2M795 161.5h1m7 0h3m3 0h1m7 0h1m3 0h1m2 0h2m1 0h1m5 0h1M806 162.5h1m8 0h1m12 0h2m14 0h1M661 163.5h2m144 0h1m4 0h2m24 0h1m1 0h1m1 0h1m5 0h1m3 0h1m16 0h2m10 0h3m6 0h2m12 0h2M642 164.5h2m11 0h2m15 0h2m134 0h1m10 0h2m16 0h1m5 0h1m6 0h1m16 0h2m34 0h2M654 165.5h2m18 0h2m133 0h1m8 0h1m2 0h1m1 0h2m1 0h1m12 0h1m1 0h1m3 0h1m2 0h1m46 0h4M663 172.5h2m3 0h2m38 0h1m5 0h1M665 173.5h2m43 0h1m12 0h1M714 174.5h2m5 0h1m3 0h1M718 175.5h1m1 0h2M722 176.5h2M722 177.5h2m4 0h1M725 178.5h1M726 179.5h1m1 0h1M779 257.5h1M777 258.5h1m3 0h1m2 0h1M783 259.5h1m1 0h2M777 260.5h1m2 0h1M782 261.5h2M787 262.5h1M786 263.5h1m1 0h1M787 264.5h1m1 0h1M788 265.5h1m1 0h1M793 267.5h1m1 0h1M790 268.5h1m3 0h1m1 0h2M794 270.5h4m2 0h1M803 271.5h1M804 272.5h2m9 0h1M801 273.5h2m3 0h1m10 0h2m6 0h2M803 274.5h2m42 0h1m39 0h1M812 275.5h1m4 0h1m5 0h1m2 0h1m11 0h1m9 0h1m37 0h1M808 276.5h1m18 0h1m2 0h1m2 0h1m1 0h1m5 0h2m1 0h1m2 0h1m13 0h1m7 0h1m12 0h1m4 0h1m19 0h1m2 0h1M819 277.5h1m17 0h1m5 0h1m4 0h1m4 0h1m3 0h1m7 0h1m6 0h1m1 0h1m27 0h2m9 0h1M842 278.5h1m8 0h1m8 0h3m19 0h1m1 0h1m13 0h2M854 279.5h1m1 0h2m14 0h2m28 0h1m9 0h1M899 280.5h1M647 281.5h1m2 0h1M651 282.5h2m47 0h1M644 283.5h1m2 0h1m56 0h1M642 284.5h1m9 0h1M708 285.5h1m1 0h1M711 286.5h1M713 288.5h2m1 0h1M717 289.5h3M719 290.5h2M721 291.5h1M782 322.5h2M782 323.5h3M802 324.5h2M804 326.5h2m4 0h2M779 327.5h1m5 0h2m11 0h2m10 0h2M778 328.5h1m2 0h1m2 0h1m3 0h1m21 0h2M775 329.5h1m1 0h1m5 0h3m3 0h1M773 330.5h1m7 0h1m8 0h1m8 0h2m11 0h2M774 331.5h1m4 0h2m10 0h2m2 0h1m25 0h2M649 332.5h1m127 0h1m15 0h2M775 333.5h1m25 0h2m15 0h1m1 0h3M807 334.5h2M825 335.5h2M649 336.5h1m149 0h1m1 0h1m1 0h2M648 337.5h1m150 0h1m2 0h1m5 0h2m7 0h3m3 0h2m3 0h2M638 338.5h1m9 0h1m141 0h1m13 0h5M643 339.5h1m5 0h1m142 0h1m17 0h4m8 0h2M638 340.5h1m4 0h1m4 0h2m144 0h1m17 0h2m4 0h2m7 0h1m1 0h2m1 0h2m2 0h2M637 341.5h2m4 0h1m4 0h2m143 0h1m2 0h1m17 0h1m3 0h2m10 0h1m53 0h2M638 342.5h1m4 0h1m4 0h2m165 0h3m5 0h3m9 0h1m1 0h1M637 343.5h2m9 0h2m148 0h1m1 0h1m16 0h2m2 0h2m13 0h1m1 0h1m2 0h1m19 0h1m1 0h1m2 0h1m15 0h1m1 0h1m4 0h1M637 344.5h2m9 0h1m157 0h1m13 0h1m25 0h1m11 0h2m8 0h4m10 0h1m8 0h1M637 345.5h2m9 0h2m153 0h1m40 0h2m10 0h1m2 0h2m20 0h1m2 0h3m5 0h1M641 346.5h1m163 0h1m1 0h1m44 0h1m20 0h1m7 0h1m5 0h1m7 0h1m11 0h2m2 0h2M639 347.5h4m1 0h3m3 0h1m158 0h3m53 0h2m13 0h1m3 0h1m4 0h1m6 0h1m3 0h1m2 0h1m6 0h1m4 0h1M631 348.5h4m10 0h2m3 0h3m159 0h1m2 0h1m9 0h1m5 0h3m20 0h1m29 0h1m16 0h2m10 0h1m6 0h3M629 349.5h4m18 0h4m159 0h2m10 0h1m1 0h3m3 0h1m1 0h1m7 0h1m15 0h4m3 0h2m6 0h1m3 0h1m3 0h1m8 0h2m10 0h1m5 0h1m5 0h1m1 0h1m4 0h2M626 350.5h4m23 0h5m165 0h2m10 0h2m9 0h2m1 0h1m9 0h1m9 0h2m5 0h1m6 0h1m21 0h3m4 0h1m1 0h1M621 351.5h1m2 0h1m2 0h1m1 0h1m24 0h6m2 0h1m153 0h2m1 0h1m1 0h2m14 0h1m2 0h2m3 0h1m2 0h1m7 0h3m13 0h1m5 0h1m2 0h2m13 0h1m3 0h1m3 0h1m9 0h1M621 352.5h8m28 0h1m1 0h5m154 0h1m1 0h1m21 0h1m7 0h2m21 0h1m5 0h1m22 0h1m1 0h1m11 0h1m2 0h3m1 0h1M625 353.5h1m1 0h3m25 0h5m4 0h1m209 0h2m6 0h1m34 0h1m6 0h1M625 354.5h5m24 0h3M628 355.5h4m21 0h2m222 0h3M629 356.5h5m16 0h4m1 0h1M632 357.5h5m2 0h3m3 0h3M639 358.5h1m2 0h1m2 0h1M638 359.5h1M637 360.5h2M637 361.5h1m11 0h1M637 362.5h2m9 0h2M637 363.5h2m4 0h1m4 0h2M637 364.5h2m4 0h1m4 0h2M638 365.5h1m4 0h1m4 0h2M637 366.5h1m5 0h1m4 0h1M648 367.5h2M648 368.5h1M637 369.5h1m10 0h2M648 371.5h1M648 374.5h1M648 376.5h1M648 378.5h1M794 380.5h2m2 0h2M785 381.5h2M779 382.5h2m1 0h2m5 0h1M784 383.5h2m1 0h1m1 0h1m22 0h2M779 384.5h3m1 0h1m4 0h1m7 0h2m3 0h2M790 385.5h1m3 0h2M792 386.5h1m25 0h2M790 387.5h1M822 388.5h2M791 389.5h1m3 0h1m7 0h3m9 0h1M796 390.5h1M791 391.5h1m5 0h1m2 0h2m1 0h2M793 392.5h1m6 0h1m2 0h2m7 0h2m1 0h2M806 393.5h1m20 0h2M808 394.5h5m5 0h2M798 395.5h1m13 0h1m4 0h1M800 396.5h1m2 0h1m9 0h3m2 0h2m9 0h1m2 0h1m1 0h1M801 397.5h2m1 0h1m2 0h1m3 0h1m3 0h1m4 0h2m1 0h3m1 0h2m1 0h2m3 0h2m1 0h1M810 398.5h2m48 0h2m2 0h1m2 0h1m23 0h1m7 0h1M812 399.5h1m4 0h1m19 0h1m3 0h4m1 0h1m5 0h2m1 0h1m3 0h1m3 0h1m2 0h1m20 0h2m4 0h2m1 0h2m9 0h1m1 0h1M662 400.5h4m147 0h2m11 0h1m5 0h1m1 0h1m10 0h1m1 0h1m2 0h1m20 0h1m12 0h1m7 0h1m8 0h2m9 0h4M629 401.5h2m1 0h1m5 0h2m17 0h1m1 0h1m7 0h1m152 0h1m2 0h2m3 0h1m2 0h1m9 0h1m4 0h1m5 0h1m6 0h1m2 0h1m11 0h1m10 0h2m1 0h2m3 0h1m1 0h4m6 0h1m4 0h1m9 0h1M628 402.5h1m5 0h2m4 0h1m1 0h1m8 0h1m1 0h2m13 0h5m174 0h2m1 0h1m9 0h2m8 0h1m2 0h1m28 0h2m8 0h3m9 0h1M625 403.5h2m19 0h1m1 0h2m221 0h2m2 0h1m33 0h2m4 0h1m1 0h2M625 404.5h1m49 0h2m196 0h1m47 0h1m1 0h1M626 405.5h1m35 0h2m1 0h1m9 0h1m198 0h1m7 0h1M627 406.5h1m1 0h1m1 0h1m2 0h1m1 0h1m18 0h1m1 0h1m9 0h1m8 0h1m202 0h1m1 0h1M638 407.5h1m3 0h1m9 0h3m15 0h2m3 0h1m204 0h1M646 408.5h2m1 0h1M645 409.5h1" stroke="#2a8cff" stroke-width="1" fill="none"/>
<path d="M770 97.5h1M771 98.5h2M772 99.5h1M775 102.5h3M778 103.5h1M779 104.5h2m9 0h1M780 105.5h10m2 0h2M796 107.5h1M797 108.5h4m1 0h2m2 0h1m1 0h2m17 0h2M711 110.5h1m1 0h1m5 0h1m91 0h1m5 0h2m3 0h1m1 0h3m14 0h3M714 111.5h1m1 0h1m3 0h2m91 0h1m1 0h2m1 0h4m15 0h2M716 112.5h3m2 0h1m92 0h1m19 0h3M650 113.5h1m31 0h3m36 0h4M653 114.5h1m23 0h1m2 0h1m1 0h1m2 0h3m6 0h1m2 0h1m23 0h2m3 0h3M655 115.5h1m1 0h3m14 0h2m3 0h2m9 0h1m34 0h2m2 0h1M658 116.5h1m32 0h1m5 0h1m1 0h1m32 0h1M696 117.5h1m36 0h3M778 151.5h1m4 0h1m5 0h1m25 0h3M776 152.5h1m4 0h2m4 0h1m25 0h2m2 0h2M778 153.5h1m5 0h1m5 0h1M788 154.5h1m2 0h1M817 155.5h4M798 156.5h3m12 0h2m2 0h2m1 0h1M790 157.5h1m11 0h1m2 0h1m14 0h2M825 158.5h2M791 159.5h1m34 0h2M792 160.5h1m1 0h1m2 0h2m20 0h1m2 0h2m11 0h2M801 161.5h2m13 0h1m9 0h1m4 0h1m6 0h1M810 162.5h2m13 0h1m1 0h1m2 0h1m1 0h1m1 0h2m3 0h1m1 0h1M814 163.5h1m18 0h1m10 0h4m1 0h1M813 164.5h1m3 0h2m3 0h2m8 0h1m6 0h1m11 0h4m36 0h2M817 165.5h1m9 0h1m12 0h1m6 0h1m1 0h1m5 0h1M667 172.5h1m41 0h1m1 0h1m3 0h3m2 0h2M712 173.5h2m8 0h1M716 174.5h2m2 0h1M719 175.5h1m2 0h2M724 176.5h1m2 0h1M725 177.5h1M726 178.5h1M727 179.5h1M778 258.5h1M782 259.5h1M788 266.5h1m2 0h1M792 267.5h1M791 269.5h3m4 0h2M798 271.5h2m1 0h1M800 272.5h1M807 273.5h1m3 0h1m1 0h2M805 274.5h1m4 0h1m1 0h1m2 0h2m5 0h3m2 0h1M807 275.5h1m10 0h1m1 0h2m6 0h1m3 0h1m3 0h1m8 0h2m13 0h1m27 0h1M806 276.5h1m13 0h1m15 0h1m26 0h1m21 0h1m20 0h1M840 277.5h2m8 0h1m8 0h1m6 0h2m1 0h1m11 0h1m1 0h1m21 0h1m1 0h2M849 278.5h1m8 0h1m9 0h1m5 0h1m2 0h1m2 0h1m22 0h1m5 0h1m1 0h1M853 279.5h1m20 0h1m23 0h1m1 0h2m12 0h1M855 280.5h1M646 281.5h1M643 282.5h3m2 0h1m45 0h1m6 0h1M642 283.5h1m53 0h4m2 0h2M709 284.5h1M712 286.5h1M713 287.5h1M715 288.5h1M722 291.5h1M783 326.5h2m10 0h4M782 327.5h1m11 0h3M779 328.5h2m4 0h2M778 329.5h1m3 0h1m4 0h1m17 0h2m1 0h2M775 330.5h1m4 0h1m8 0h1M773 331.5h1m2 0h3m7 0h1m3 0h1m2 0h2m12 0h1M775 332.5h1m11 0h1m20 0h2M773 333.5h2m17 0h2m1 0h3m11 0h4m2 0h3M788 335.5h1m8 0h3M789 336.5h1m8 0h1m1 0h1m18 0h3m3 0h2M790 337.5h1m12 0h1m22 0h2M802 338.5h2m5 0h1m7 0h2M791 339.5h1m12 0h2m1 0h2m20 0h2M793 340.5h1m1 0h1m15 0h1M797 341.5h1m14 0h2m12 0h4m1 0h3M798 342.5h1m1 0h1m13 0h1m15 0h1m3 0h1m50 0h2M643 343.5h1m155 0h1m19 0h1m4 0h1m10 0h1m1 0h1m1 0h1m24 0h2m1 0h1m19 0h2M643 344.5h1m5 0h1m151 0h2m14 0h2m2 0h1m16 0h1m1 0h2m1 0h1m17 0h4m1 0h1m18 0h2m2 0h1M643 345.5h1m160 0h2m1 0h2m11 0h1m21 0h1m15 0h1m11 0h2m10 0h1m4 0h1m2 0h2m1 0h1M637 346.5h2m4 0h1m4 0h2m159 0h2m36 0h4m4 0h1m1 0h1m14 0h1m9 0h1m1 0h1m3 0h2m3 0h2m14 0h1M637 347.5h2m4 0h1m4 0h2m163 0h1m13 0h1m3 0h1m1 0h1m17 0h3m10 0h1m25 0h1m4 0h1m2 0h2m6 0h1m4 0h2M635 348.5h8m1 0h1m2 0h1m1 0h1m178 0h1m1 0h1m3 0h1m27 0h2m10 0h1m5 0h1m12 0h1m3 0h1m2 0h1m2 0h1m1 0h1m3 0h1m4 0h2M633 349.5h3m13 0h2m184 0h1m11 0h1m11 0h1m9 0h3m22 0h2m3 0h1m1 0h2m3 0h2m4 0h1m6 0h1m1 0h2M630 350.5h3m18 0h2m168 0h1m15 0h2m1 0h2m6 0h1m6 0h1m1 0h2m13 0h1m2 0h1m3 0h1m2 0h1m12 0h1m1 0h2m4 0h1m4 0h1m2 0h1m1 0h1m3 0h1m5 0h2M628 351.5h1m1 0h2m21 0h1m164 0h1m1 0h1m18 0h1m2 0h1m7 0h4m19 0h1m2 0h2m1 0h1m21 0h2m13 0h1m2 0h2M629 352.5h2m22 0h4m1 0h1m184 0h1m10 0h1m19 0h2m5 0h1m35 0h2m3 0h1m1 0h1M630 353.5h2m20 0h3M630 354.5h3m18 0h3m223 0h1M632 355.5h3m16 0h2M634 356.5h5m1 0h1m4 0h5M637 357.5h2m3 0h1m1 0h1m3 0h2M637 358.5h2m9 0h2M637 359.5h1m5 0h1m4 0h2M643 360.5h1m4 0h2M638 361.5h1m4 0h1m4 0h1M643 362.5h1M784 381.5h1m2 0h1M781 382.5h1M786 383.5h1M782 384.5h1m7 0h1m3 0h2M788 385.5h1M789 386.5h1m8 0h2m6 0h2M792 387.5h1m11 0h2M790 388.5h1m3 0h1M794 389.5h1m5 0h2m7 0h2M792 390.5h2m14 0h2m6 0h2M792 391.5h1m3 0h1m1 0h2m10 0h2m1 0h2M794 392.5h1M802 393.5h1m4 0h1m8 0h2M796 394.5h1m1 0h1M811 395.5h1m4 0h1M797 396.5h1m1 0h1m1 0h2m2 0h1M805 397.5h2m12 0h1m2 0h1m6 0h1m7 0h1M808 398.5h1m3 0h1m4 0h1m10 0h1m7 0h1m49 0h1m3 0h1m1 0h1M814 399.5h2m3 0h1m6 0h1m12 0h2m8 0h1m1 0h1m2 0h1m1 0h1m1 0h1m3 0h1m1 0h2m1 0h1m1 0h1m15 0h1m22 0h1M831 400.5h1m4 0h1m1 0h1m5 0h1m3 0h1m8 0h1m12 0h1m20 0h1m8 0h1m2 0h2m1 0h1m4 0h1M660 401.5h2m4 0h1m154 0h2m4 0h1m2 0h1m4 0h1m3 0h2m2 0h1m7 0h1m1 0h2m1 0h1m1 0h1m1 0h2m2 0h6m2 0h1m10 0h1m6 0h1m3 0h1m12 0h1m8 0h4M629 402.5h1m1 0h2m3 0h1m1 0h2m15 0h2m185 0h1m2 0h1m3 0h1m7 0h1m16 0h1m7 0h1m16 0h3m2 0h1m1 0h1m1 0h1m2 0h1m9 0h3M627 403.5h1m13 0h1m1 0h1m6 0h3m21 0h1m201 0h2m3 0h1m2 0h1m20 0h1m10 0h1m2 0h1M626 404.5h1m18 0h1m232 0h2m3 0h1m36 0h1m1 0h1M628 405.5h7m2 0h1m20 0h4m2 0h1m1 0h1m208 0h2m3 0h1m43 0h1M638 406.5h2m13 0h1m2 0h1m11 0h1m3 0h4m201 0h2M641 407.5h1m8 0h2m17 0h1M645 408.5h1" stroke="#40d8ff" stroke-width="1" fill="none"/>
<path d="M773 100.5h1M774 101.5h1M791 104.5h1M801 108.5h1m2 0h1M810 109.5h1M816 110.5h1m6 0h1M812 111.5h1M648 113.5h1m32 0h1M651 114.5h2m7 0h1m17 0h1m9 0h2M654 115.5h1m1 0h1m3 0h3m8 0h3m2 0h1m12 0h1m2 0h2M776 151.5h2m7 0h3M777 152.5h3m3 0h2m3 0h2M780 153.5h1m1 0h1m35 0h1M791 155.5h1M790 156.5h1m1 0h1M794 157.5h3m2 0h2M791 158.5h1m12 0h3M793 159.5h2m1 0h1m2 0h2m6 0h1M795 160.5h1m8 0h2M806 161.5h1m1 0h1m9 0h1m1 0h1m1 0h1m11 0h4M809 162.5h1m7 0h1m3 0h1m2 0h1m8 0h1m4 0h1M811 163.5h1m7 0h2m1 0h1m5 0h1m1 0h1m5 0h2M809 164.5h1m2 0h1m1 0h1m6 0h1m2 0h1m16 0h1m3 0h1m1 0h2M660 165.5h2m153 0h2m8 0h1m2 0h2m1 0h1m14 0h1m3 0h1M665 172.5h2m43 0h1M718 173.5h4M718 174.5h1m4 0h2M725 175.5h1M726 176.5h1M728 178.5h1M779 258.5h2M776 259.5h2m2 0h2m2 0h1M782 260.5h1m2 0h2M785 262.5h2M787 263.5h1M788 264.5h1M789 265.5h1M790 267.5h2M791 268.5h1m3 0h1M796 269.5h1M803 273.5h1m11 0h1M809 274.5h1m3 0h1m3 0h2m6 0h2M808 275.5h1m18 0h1m1 0h3m1 0h3m8 0h1m2 0h1m39 0h1m1 0h1M819 276.5h1m12 0h1m4 0h2m4 0h1m4 0h1m11 0h1m1 0h1m1 0h2m20 0h1M839 277.5h1m2 0h1m6 0h1m1 0h1m8 0h3m7 0h1m9 0h1m1 0h1m1 0h1m19 0h1m5 0h1M852 278.5h2m2 0h2m13 0h3m4 0h2m21 0h2m7 0h1m1 0h2M855 279.5h1m19 0h2m22 0h1M854 280.5h1M642 282.5h1m4 0h1m1 0h2M652 283.5h1m42 0h1m4 0h2M783 327.5h2M782 328.5h2M776 329.5h1m3 0h2m6 0h1m9 0h2M776 330.5h4m6 0h2m22 0h2M787 331.5h1m16 0h2m2 0h2M773 332.5h2m16 0h1m7 0h2m5 0h2M794 333.5h1m18 0h2M792 334.5h1m2 0h2M789 335.5h1M797 336.5h1m12 0h2m2 0h5M801 337.5h1m2 0h2m14 0h2M791 338.5h2m6 0h1m14 0h3M794 339.5h1m7 0h1m3 0h1m2 0h1m4 0h2M796 340.5h2m6 0h1m5 0h1M810 341.5h1M799 342.5h1m12 0h1m15 0h2m2 0h1m51 0h1M801 343.5h2m13 0h1m6 0h1m1 0h1m4 0h1m52 0h1M803 344.5h1m4 0h1m10 0h1m2 0h1m13 0h1m2 0h1m25 0h1m1 0h1m15 0h1m3 0h2M810 345.5h1m8 0h1m1 0h2m15 0h1m2 0h1m1 0h1m2 0h1m15 0h1m5 0h2m13 0h1m4 0h2M811 346.5h1m19 0h1m1 0h1m8 0h1m1 0h2m10 0h1m1 0h3m3 0h3m2 0h1m13 0h1m8 0h1M812 347.5h1m12 0h1m6 0h1m12 0h1m1 0h1m1 0h2m4 0h1m17 0h1m7 0h1m1 0h1m7 0h1m2 0h1m12 0h3M643 348.5h1m4 0h1m165 0h1m11 0h1m2 0h1m6 0h1m7 0h1m6 0h1m1 0h1m6 0h2m5 0h1m2 0h2m9 0h1m1 0h1m8 0h1m1 0h1m1 0h1m2 0h1m6 0h2m2 0h1m1 0h1M636 349.5h2m3 0h1m1 0h1m1 0h4m172 0h1m1 0h2m15 0h1m4 0h1m3 0h1m4 0h2m2 0h1m13 0h1m7 0h1m1 0h1m14 0h1m7 0h1m2 0h1m2 0h1m1 0h2m5 0h1M633 350.5h3m12 0h3m165 0h4m2 0h1m16 0h1m2 0h1m2 0h1m7 0h1m2 0h1m16 0h1m6 0h1m15 0h1m3 0h2m2 0h1m11 0h1m1 0h1M632 351.5h2m16 0h3m190 0h1m10 0h1m25 0h1m34 0h1m1 0h2m2 0h1m1 0h1M631 352.5h2m18 0h2m224 0h2m1 0h1M632 353.5h2m16 0h2m224 0h1m2 0h1m1 0h1M633 354.5h2m15 0h1m227 0h2M635 355.5h1m9 0h6M639 356.5h1m1 0h4M643 357.5h1M643 358.5h1M785 382.5h2m1 0h1M779 383.5h5m4 0h1M789 384.5h1M790 386.5h2M806 387.5h2M791 388.5h1m10 0h2m3 0h2M792 389.5h1m19 0h3M795 390.5h1M796 392.5h4m1 0h1M795 393.5h1m4 0h1m2 0h2M805 394.5h3M799 395.5h2m2 0h1m4 0h3M804 396.5h1m2 0h1m4 0h1m3 0h2M808 397.5h3m3 0h1m3 0h1m7 0h1m5 0h3M820 398.5h2m1 0h3m1 0h1m2 0h2m3 0h1m1 0h2M813 399.5h1m2 0h1m1 0h1m13 0h1m1 0h1m25 0h2m6 0h1m22 0h2m6 0h1M821 400.5h5m1 0h2m1 0h1m2 0h1m1 0h1m3 0h5m2 0h1m4 0h1m1 0h1m1 0h2m1 0h2m2 0h2m1 0h2m1 0h2m16 0h4m3 0h6m10 0h1M658 401.5h1m3 0h4m176 0h1m2 0h1m1 0h2m1 0h1m6 0h1m12 0h2m12 0h1m14 0h5m4 0h1m3 0h4M630 402.5h1m2 0h1m3 0h1m233 0h2m10 0h2m20 0h1m3 0h1m5 0h2m1 0h1m1 0h1M628 403.5h1m6 0h1m4 0h1m1 0h1m11 0h1m14 0h1m1 0h3m199 0h1m9 0h1m37 0h1m2 0h1M627 404.5h2m4 0h1m10 0h1m2 0h3m12 0h1m11 0h1m199 0h2M627 405.5h1m8 0h1m1 0h1m18 0h1m9 0h1m6 0h1m206 0h1M635 406.5h1m4 0h1m13 0h1m15 0h2m208 0h1M643 407.5h1m2 0h1m1 0h2M644 408.5h1" stroke="#a8f0c8" stroke-width="1" fill="none"/>
<path d="M698 112.5h1M649 113.5h1m48 0h1M698 114.5h1M694 115.5h5M696 116.5h1M698 117.5h1M790 154.5h1M789 155.5h1M793 157.5h1m3 0h2M801 158.5h3M797 159.5h2M801 160.5h3M823 161.5h1M807 162.5h1m8 0h1m1 0h1m7 0h1m4 0h1m4 0h2M808 163.5h1m1 0h1m4 0h1m2 0h1m4 0h1m1 0h1m3 0h1m2 0h1m6 0h1m1 0h1M826 164.5h2m12 0h1m1 0h1m1 0h1m1 0h1m2 0h1M810 165.5h2m18 0h1m11 0h3m6 0h4M664 168.5h1m2 0h1M663 169.5h1M663 170.5h1m44 0h2M664 171.5h1m1 0h2m41 0h3M712 172.5h2M716 173.5h2M719 174.5h1m2 0h1M724 175.5h1M725 176.5h1M726 177.5h2M727 178.5h1M783 260.5h1M789 266.5h2M792 268.5h2M794 269.5h2m1 0h1M798 270.5h2M800 271.5h1M801 272.5h3M804 273.5h2M806 274.5h2M806 275.5h1M779 329.5h1m6 0h1M788 330.5h1M775 331.5h1m13 0h1M790 332.5h1M791 333.5h1M788 334.5h2m3 0h2M792 335.5h1m2 0h2M790 336.5h1M791 337.5h1m5 0h2m1 0h1M794 338.5h1M795 339.5h1m7 0h1M805 340.5h1m1 0h3M798 341.5h3m7 0h1m2 0h1M806 342.5h1m6 0h1m12 0h2m3 0h1m1 0h1M803 343.5h1m2 0h1m1 0h1m6 0h1m10 0h1m1 0h2m2 0h1m1 0h1m50 0h2M804 344.5h2m1 0h1m8 0h1m6 0h3m9 0h1m1 0h1m46 0h1M809 345.5h1m1 0h1m5 0h2m20 0h2m20 0h1m1 0h2m1 0h1M813 346.5h1m1 0h1m4 0h1m4 0h1m1 0h1m4 0h1m10 0h1m2 0h1m23 0h2m18 0h2M814 347.5h2m10 0h1m1 0h1m1 0h1m3 0h1m1 0h1m7 0h1m3 0h1m7 0h2m3 0h3m3 0h2m3 0h1m9 0h1m9 0h2M821 348.5h1m1 0h2m10 0h1m13 0h2m1 0h1m6 0h1m8 0h2m3 0h1m8 0h1m12 0h1m2 0h1m12 0h1M638 349.5h3m1 0h1m1 0h1m172 0h1m4 0h1m14 0h3m1 0h1m4 0h1m1 0h1m4 0h1m2 0h2m16 0h1m6 0h1m14 0h1m1 0h1m1 0h1m2 0h1m11 0h1M636 350.5h3m7 0h2m172 0h1m29 0h3m28 0h1m20 0h1m12 0h1m3 0h4M634 351.5h2m13 0h1m224 0h2m46 0h1m1 0h1M633 352.5h2m15 0h1m225 0h1M648 353.5h2m227 0h2m1 0h1M635 354.5h2m11 0h2M636 355.5h6m1 0h2M784 382.5h1m2 0h1M789 385.5h1M791 387.5h1M793 388.5h1M793 391.5h1m1 0h1M796 393.5h2m3 0h1M800 394.5h1m1 0h1M797 395.5h1m3 0h2m1 0h2M806 396.5h1m2 0h3M813 397.5h1m2 0h1M814 398.5h3m2 0h1m2 0h1m3 0h1m2 0h1m3 0h1M820 399.5h1m7 0h1m7 0h1m1 0h1m47 0h1m3 0h1M820 400.5h1m8 0h1m19 0h1m2 0h1m1 0h1m5 0h2m2 0h1m2 0h1m17 0h1m4 0h1m8 0h1m7 0h2M849 401.5h1m54 0h1m1 0h1m4 0h1M657 402.5h1m3 0h1m5 0h1m242 0h1m6 0h1m1 0h1M629 403.5h1m3 0h2m1 0h2m15 0h1m14 0h1m1 0h1m203 0h1m7 0h1m37 0h1m1 0h2M629 404.5h4m1 0h4m8 0h1m5 0h1m5 0h1m2 0h1m1 0h3m6 0h1m203 0h2m3 0h2m41 0h1M639 405.5h1m13 0h1m1 0h1m12 0h1m3 0h2m203 0h3M641 406.5h2m8 0h2m16 0h1M647 407.5h1" stroke="#f0f040" stroke-width="1" fill="none"/>
<path d="M698 116.5h1M788 153.5h2M789 154.5h1M790 155.5h1M791 156.5h1M791 157.5h2M793 158.5h4m2 0h2M792 159.5h1m2 0h1m6 0h5M806 160.5h2M807 161.5h1m11 0h1M808 162.5h1m10 0h2m1 0h1M809 163.5h1m6 0h2m3 0h1m2 0h1m1 0h2m3 0h1M811 164.5h1m3 0h2m8 0h1m2 0h2m1 0h1M812 165.5h3M813 166.5h1M665 168.5h2M668 169.5h1M668 170.5h1M665 171.5h1M789 332.5h1M788 333.5h1M791 334.5h1M790 335.5h1M791 336.5h1m4 0h1M792 337.5h1M793 338.5h1m1 0h1m4 0h2M793 339.5h1m2 0h2m1 0h1M798 340.5h1m1 0h1m1 0h2m2 0h1M804 341.5h2m1 0h1m1 0h1M801 342.5h2m7 0h1M804 343.5h1m8 0h2m12 0h1m3 0h1m1 0h1M815 344.5h1m13 0h2m3 0h1M812 345.5h1m10 0h1m1 0h1m1 0h1m3 0h1m1 0h1m1 0h3m27 0h1m1 0h1M812 346.5h1m4 0h2m2 0h1m6 0h1m1 0h1m3 0h1m3 0h1m1 0h2m19 0h3m3 0h2M823 347.5h1m5 0h1m5 0h1m6 0h1m15 0h3m8 0h3M817 348.5h1m19 0h2m1 0h2m3 0h4m6 0h4m13 0h1m35 0h1M816 349.5h1m1 0h3m21 0h1m7 0h3m20 0h1M639 350.5h7m197 0h1m10 0h1m19 0h1M636 351.5h2m8 0h3M635 352.5h2m11 0h2M634 353.5h3m10 0h1M637 354.5h2m5 0h4M642 355.5h1M792 388.5h1M793 389.5h1M794 390.5h1M795 392.5h1M798 393.5h2M797 394.5h1m1 0h1m3 0h2M806 395.5h2M808 396.5h1M812 397.5h1m4 0h1M813 398.5h1m4 0h1m13 0h1m1 0h1M821 399.5h5m1 0h1m1 0h3m1 0h1m1 0h1M909 401.5h1M658 402.5h3m4 0h2M630 403.5h3m5 0h2m15 0h2M638 404.5h1m2 0h1m1 0h1m6 0h2m1 0h1m5 0h1m6 0h1m1 0h2m3 0h1M635 405.5h1m4 0h1m1 0h1m1 0h2m1 0h1m4 0h1m3 0h1m14 0h1M650 406.5h1M644 407.5h2" stroke="#f89020" stroke-width="1" fill="none"/>
<path d="M792 158.5h1m4 0h2M801 159.5h1M823 162.5h1M810 164.5h1m19 0h1M664 169.5h1m2 0h1M664 170.5h1m2 0h1M788 331.5h1M789 333.5h2M793 335.5h2M792 336.5h1m2 0h1M794 337.5h1M796 338.5h3M799 340.5h1M801 341.5h3m2 0h1M803 342.5h3m2 0h2m1 0h1M805 343.5h1m1 0h1m4 0h1M809 344.5h3m2 0h1m11 0h3m2 0h3M813 345.5h1m1 0h2m7 0h1m5 0h1m1 0h1m1 0h1M814 346.5h1m4 0h1m2 0h1m3 0h1m2 0h1m6 0h1m2 0h1M818 347.5h1m1 0h2m2 0h1m15 0h1m2 0h1m2 0h1M816 348.5h1m1 0h2m2 0h1m16 0h1m2 0h1M843 349.5h1M638 351.5h2m4 0h2M637 352.5h1m7 0h3M637 353.5h3m5 0h2M639 354.5h5M794 391.5h1M801 394.5h1M662 402.5h3M658 403.5h2m1 0h6M639 404.5h2m1 0h1m11 0h4m2 0h1m9 0h2M641 405.5h1m4 0h1m1 0h4m2 0h1m14 0h2M643 406.5h1m2 0h4" stroke="#d82000" stroke-width="1" fill="none"/>
<path d="M665 169.5h2M665 170.5h2M788 332.5h1M790 334.5h1M791 335.5h1M793 336.5h2M793 337.5h1m1 0h2M798 339.5h1m1 0h2M801 340.5h1M807 342.5h1M809 343.5h3M812 344.5h2M814 345.5h1m11 0h1m1 0h2M816 346.5h1m6 0h2m10 0h1m1 0h1M816 347.5h2m1 0h1m2 0h1m14 0h3m1 0h1M820 348.5h1m22 0h1M640 351.5h4M638 352.5h7M640 353.5h5M657 403.5h1m2 0h1m6 0h1M667 404.5h1M643 405.5h1M644 406.5h2" stroke="#900000" stroke-width="1" fill="none"/>
<circle cx="348.7" cy="402.3" r="1.1" fill="#a0c8ff"/>
</g></g>
<rect x="152.5" y="81.5" width="773" height="357" fill="none" stroke="#000058" stroke-width="1"/>
<rect x="152" y="583" width="774" height="357" fill="#fff"/>
<g clip-path="url(#cpb)" filter="url(#soft)">
<path d="M222 584.5h2m68 0h2m59 0h2m17 0h2m35 0h2m77 0h1m33 0h1m43 0h2m61 0h2m46 0h1m18 0h4m124 0h2m58 0h2m3 0h2m24 0h2M156 585.5h1m74 0h1m4 0h2m85 0h2m152 0h2m68 0h2m7 0h2m16 0h1m45 0h2m7 0h2m49 0h2m36 0h2m34 0h2m4 0h2m109 0h1M191 586.5h2m1 0h2m54 0h2m77 0h2m45 0h2m38 0h2m68 0h2m232 0h2m31 0h2m79 0h2m42 0h2M164 587.5h2m49 0h2m36 0h2m237 0h2m56 0h2m14 0h2m97 0h2m59 0h2m94 0h2m29 0h1M159 588.5h2m11 0h2m31 0h1m65 0h2m53 0h2m11 0h2m7 0h2m16 0h2m51 0h2m18 0h2m40 0h2m49 0h2m33 0h2m136 0h2m55 0h2m13 0h2m19 0h2m58 0h2m48 0h2M310 589.5h1m77 0h4m2 0h2m31 0h2m265 0h2m10 0h2m28 0h2m113 0h2m25 0h2M276 590.5h1m67 0h2m42 0h2m4 0h2m10 0h2m66 0h2m32 0h2m17 0h1m74 0h2m48 0h2m108 0h2m23 0h1m22 0h2m21 0h2M180 591.5h2m35 0h1m30 0h2m19 0h2m25 0h2m89 0h2m36 0h2m87 0h1m149 0h2m61 0h2m34 0h2m19 0h1m37 0h2m12 0h2m9 0h2m59 0h2M156 592.5h2m17 0h2m19 0h2m34 0h2m45 0h2m26 0h4m165 0h2m72 0h2m25 0h2m156 0h2m56 0h1m15 0h2M153 593.5h1m54 0h1m37 0h2m4 0h1m188 0h2m5 0h2m32 0h2m59 0h2m103 0h2m55 0h2m5 0h2m8 0h2m95 0h2m17 0h3m83 0h1M274 594.5h2m71 0h3m12 0h2m21 0h2m29 0h4m29 0h2m75 0h2m79 0h2m41 0h2m37 0h1m13 0h2m56 0h2m89 0h1M169 595.5h1m18 0h2m84 0h2m9 0h2m5 0h2m12 0h2m9 0h2m64 0h2m12 0h2m27 0h2m49 0h2m168 0h2m10 0h2m69 0h2m26 0h2m8 0h1m16 0h2m103 0h2m2 0h2m5 0h1M172 596.5h2m34 0h2m41 0h2m13 0h2m6 0h2m53 0h2m141 0h2m31 0h2m155 0h2m30 0h2m65 0h2m11 0h2m46 0h2m4 0h1m14 0h2m37 0h2m17 0h1M223 597.5h2m12 0h1m8 0h2m9 0h2m8 0h4m15 0h2m30 0h2m147 0h2m7 0h2m2 0h2m5 0h1m38 0h1m24 0h2m31 0h2m43 0h1m44 0h4m3 0h1m118 0h1m67 0h2M167 598.5h2m3 0h1m28 0h2m8 0h2m181 0h2m8 0h2m6 0h1m90 0h2m9 0h2m52 0h2m81 0h1m61 0h2m10 0h2m11 0h2m82 0h2m56 0h2m10 0h2M203 599.5h4m84 0h2m50 0h1m62 0h2m39 0h3m13 0h2m112 0h2m23 0h2m42 0h2m17 0h2m43 0h2m75 0h2m1 0h2m22 0h1m22 0h2m29 0h2M192 600.5h2m7 0h2m126 0h2m38 0h1m47 0h2m73 0h2m19 0h2m313 0h2m13 0h2m1 0h2M227 601.5h5m60 0h2m77 0h2m45 0h1m6 0h2m61 0h2m25 0h1m34 0h2m72 0h2m45 0h2m85 0h2m41 0h2m63 0h2m3 0h2m30 0h2M264 602.5h2m115 0h2m7 0h2m7 0h2m11 0h2m34 0h2m15 0h1m25 0h2m15 0h1m52 0h2m36 0h2m214 0h2m24 0h2m78 0h2M162 603.5h2m10 0h2m35 0h2m72 0h2m131 0h2m45 0h1m67 0h2m56 0h2m20 0h2m62 0h2m115 0h2m51 0h2m12 0h2m7 0h2M166 604.5h1m58 0h2m3 0h2m61 0h2m23 0h2m88 0h1m18 0h2m6 0h1m14 0h2m79 0h2m141 0h2m58 0h2m88 0h1m72 0h1M161 605.5h2m60 0h2m11 0h2m64 0h2m42 0h2m134 0h2m13 0h2m54 0h2m22 0h2m71 0h2m18 0h1m126 0h1m6 0h1m11 0h2m24 0h1M159 606.5h1m5 0h2m93 0h2m12 0h2m2 0h2m2 0h2m16 0h1m5 0h1m9 0h2m5 0h2m13 0h2m50 0h2m12 0h1m10 0h2m7 0h1m31 0h1m61 0h2m9 0h2m1 0h2m17 0h2m46 0h2m174 0h1m53 0h2M155 607.5h2m22 0h1m12 0h2m82 0h4m6 0h2m118 0h2m3 0h2m43 0h2m1 0h2m10 0h1m9 0h2m10 0h2m90 0h2m108 0h2m67 0h1m2 0h1m16 0h1m130 0h2M156 608.5h2m52 0h1m19 0h1m55 0h2m72 0h2m10 0h2m75 0h2m27 0h2m66 0h2m32 0h2m2 0h2m77 0h1m9 0h2m94 0h2m5 0h2m40 0h1m87 0h2M268 609.5h2m67 0h2m24 0h2m180 0h2m9 0h2m67 0h2m5 0h2m30 0h2m36 0h2m42 0h1m11 0h2m5 0h2m25 0h2m11 0h2m75 0h1M180 610.5h1m4 0h1m37 0h1m3 0h3m19 0h2m29 0h5m122 0h2m60 0h2m1 0h1m30 0h2m10 0h1m83 0h1m33 0h2m99 0h3m156 0h2M154 611.5h2m74 0h2m15 0h2m4 0h1m11 0h2m50 0h2m25 0h2m21 0h1m110 0h2m58 0h2m61 0h2m4 0h4m14 0h2m137 0h2m22 0h2m118 0h3M158 612.5h2m5 0h2m119 0h1m10 0h2m51 0h2m154 0h2m7 0h2m10 0h2m88 0h2m52 0h1m146 0h2m13 0h2m37 0h2M158 613.5h2m53 0h2m3 0h2m39 0h2m70 0h2m70 0h2m40 0h2m143 0h2m2 0h1m28 0h3m34 0h2m8 0h2m50 0h2m40 0h1m87 0h2m15 0h4m19 0h2M166 614.5h2m76 0h2m28 0h2m487 0h2m81 0h2m2 0h1m62 0h2M162 615.5h2m9 0h2m73 0h2m39 0h2m4 0h2m25 0h3m43 0h1m54 0h2m15 0h2m28 0h1m18 0h2m13 0h2m22 0h2m12 0h2m50 0h2m27 0h2m60 0h2m16 0h2m9 0h2m138 0h2m13 0h2m10 0h2M181 616.5h2m1 0h2m8 0h2m60 0h2m27 0h1m24 0h2m19 0h1m48 0h2m5 0h2m78 0h2m28 0h2m17 0h1m94 0h2m141 0h2m73 0h1m38 0h2m15 0h3M174 617.5h1m19 0h2m66 0h3m53 0h2m26 0h1m2 0h2m51 0h2m38 0h2m58 0h2m4 0h2m12 0h2m1 0h2m3 0h2m87 0h2m106 0h2m16 0h2m40 0h2m20 0h2m18 0h2m17 0h2m15 0h2m16 0h1m12 0h2M270 618.5h2m52 0h2m27 0h2m136 0h2m153 0h1m114 0h2m15 0h1m22 0h2m9 0h1m50 0h2m7 0h2m48 0h2M196 619.5h1m48 0h2m4 0h2m140 0h1m77 0h2m12 0h2m4 0h2m28 0h1m197 0h1m37 0h1m30 0h2m7 0h2m49 0h1m36 0h2m7 0h2m6 0h2m3 0h2m14 0h2M290 620.5h1m114 0h2m11 0h2m2 0h2m87 0h1m36 0h2m38 0h4m31 0h2m8 0h2m17 0h2m4 0h2m12 0h2m34 0h2m19 0h1m3 0h2m48 0h2m23 0h2m20 0h1m47 0h2M233 621.5h2m86 0h2m54 0h2m28 0h1m81 0h2m9 0h2m71 0h1m42 0h1m41 0h2m34 0h2m22 0h2m23 0h1m63 0h2m13 0h2m48 0h2m45 0h1M235 622.5h1m18 0h2m2 0h2m9 0h2m56 0h2m21 0h2m47 0h2m34 0h2m112 0h2m92 0h2m56 0h4m53 0h2m94 0h1M164 623.5h2m28 0h3m37 0h2m2 0h2m56 0h2m21 0h2m58 0h2m47 0h2m54 0h2m46 0h1m87 0h2m22 0h1m121 0h2m23 0h2m16 0h2m39 0h1m3 0h2m6 0h2M181 624.5h1m14 0h2m36 0h2m169 0h2m85 0h2m3 0h2m2 0h2m6 0h2m41 0h2m105 0h2m29 0h1m179 0h2m31 0h2m12 0h2M164 625.5h2m34 0h1m17 0h2m43 0h1m75 0h2m28 0h2m75 0h2m167 0h2m1 0h2m36 0h2m10 0h2m8 0h2m70 0h2m121 0h1m38 0h2M337 626.5h2m44 0h1m11 0h2m83 0h1m13 0h2m111 0h1m58 0h2m58 0h2m45 0h2m25 0h1m3 0h2m5 0h2m10 0h2M199 627.5h2m21 0h2m42 0h2m8 0h2m143 0h2m15 0h2m19 0h1m4 0h2m54 0h2m74 0h2m219 0h2m97 0h2M162 628.5h2m172 0h2m86 0h2m77 0h1m51 0h2m69 0h2m210 0h3m15 0h2M184 629.5h2m11 0h2m5 0h2m101 0h2m33 0h2m4 0h2m93 0h2m41 0h2m9 0h2m13 0h2m95 0h2m63 0h2m71 0h2m15 0h2m125 0h2m3 0h2m1 0h1M169 630.5h2m5 0h2m20 0h2m232 0h2m70 0h2m12 0h1m33 0h2m3 0h2m60 0h1m45 0h2m21 0h2m19 0h1m1 0h1m90 0h2m38 0h2m67 0h2M158 631.5h2m40 0h2m63 0h2m44 0h2m43 0h2m45 0h2m4 0h1m48 0h1m53 0h1m25 0h4m213 0h2m1 0h2m5 0h2m1 0h2m31 0h2M222 632.5h1m126 0h2m46 0h2m141 0h2m4 0h2m110 0h2m25 0h2m40 0h2m49 0h2m8 0h2m28 0h2m82 0h2m11 0h2M208 633.5h2m7 0h1m14 0h2m20 0h2m29 0h2m23 0h2m39 0h2m111 0h2m10 0h2m84 0h2m12 0h2m189 0h1m3 0h2m4 0h2m8 0h2m7 0h2m7 0h1M192 634.5h2m27 0h2m23 0h2m24 0h2m22 0h2m156 0h1m61 0h2m7 0h2m75 0h1m116 0h2m83 0h2m1 0h2m4 0h2m16 0h2m52 0h2m2 0h2M230 635.5h1m123 0h2m12 0h2m51 0h2m130 0h2m13 0h2m10 0h2m27 0h1m234 0h2M153 636.5h1m19 0h2m22 0h2m140 0h2m11 0h1m11 0h2m19 0h2m37 0h2m42 0h1m120 0h2m16 0h2m44 0h2m74 0h2m35 0h2m87 0h1M153 637.5h1m5 0h2m10 0h1m82 0h2m30 0h2m114 0h1m2 0h2m35 0h2m48 0h2m14 0h1m26 0h2m97 0h2m12 0h1m18 0h2m35 0h2m16 0h2m162 0h2m36 0h1M243 638.5h1m35 0h2m131 0h2m58 0h4m4 0h1m8 0h1m53 0h2m44 0h1m19 0h2m116 0h2m8 0h2m34 0h1m52 0h2m69 0h2M169 639.5h2m9 0h2m35 0h2m29 0h2m17 0h2m77 0h2m11 0h2m37 0h2m53 0h1m193 0h2m53 0h2m1 0h1m72 0h2m49 0h2m61 0h2M248 640.5h2m4 0h2m19 0h2m11 0h2m46 0h1m89 0h1m67 0h2m4 0h2m12 0h2m74 0h1m58 0h2m144 0h2m15 0h2m35 0h2M155 641.5h2m110 0h2m113 0h4m10 0h2m29 0h2m19 0h2m22 0h2m1 0h2m11 0h2m9 0h1m21 0h2m49 0h2m18 0h2m24 0h2m17 0h2m11 0h2m56 0h2m15 0h2m13 0h2m50 0h2m3 0h2M179 642.5h2m87 0h2m3 0h2m193 0h3m9 0h2m34 0h2m21 0h2m8 0h2m135 0h2m35 0h2m51 0h1M220 643.5h2m58 0h2m254 0h2m12 0h2m25 0h1m28 0h2m5 0h2m44 0h2m45 0h2m3 0h1m24 0h2m125 0h1m43 0h2m5 0h2M155 644.5h1m86 0h1m16 0h2m3 0h2m57 0h2m8 0h2m39 0h2m18 0h2m21 0h1m96 0h2m19 0h4m26 0h2m30 0h2m114 0h2m73 0h2m17 0h2m45 0h2M191 645.5h2m9 0h2m51 0h2m17 0h2m184 0h1m78 0h2m2 0h2m12 0h2m5 0h2m94 0h2m3 0h2m78 0h2m9 0h2m45 0h1m54 0h2m15 0h1m14 0h2m19 0h2M319 646.5h2m36 0h2m21 0h2m43 0h2m26 0h1m83 0h4m40 0h1m33 0h2m121 0h2m35 0h2m71 0h2M185 647.5h4m19 0h2m56 0h2m65 0h2m36 0h2m244 0h2m30 0h2m18 0h1m94 0h2m4 0h2M195 648.5h2m3 0h2m35 0h2m87 0h2m38 0h2m3 0h2m9 0h2m42 0h2m40 0h2m5 0h1m1 0h2m71 0h2m111 0h2m11 0h2m56 0h3m95 0h2m50 0h2m4 0h2M169 649.5h1m15 0h2m138 0h2m198 0h2m33 0h2m67 0h2m33 0h2m23 0h2m50 0h2m21 0h2m68 0h1m9 0h2m12 0h2m22 0h1M197 650.5h1m82 0h2m95 0h2m19 0h2m32 0h2m6 0h2m126 0h2m16 0h2m24 0h2m60 0h2m71 0h2m5 0h2m16 0h2m69 0h2m9 0h1m61 0h2M156 651.5h1m123 0h2m28 0h1m33 0h2m88 0h2m44 0h1m29 0h2m14 0h2m14 0h2m99 0h1m3 0h2m28 0h2m20 0h1m12 0h2m38 0h1m1 0h2m31 0h2m32 0h2m31 0h2m15 0h2m18 0h2M204 652.5h2m103 0h4m11 0h2m4 0h2m1 0h2m196 0h2m59 0h2m112 0h2m134 0h2M206 653.5h2m38 0h2m4 0h2m148 0h3m34 0h1m22 0h2m172 0h2m129 0h1m84 0h2m8 0h2M173 654.5h2m74 0h2m76 0h2m82 0h1m89 0h2m4 0h2m15 0h2m60 0h1m35 0h1m18 0h1m70 0h2m25 0h2m177 0h2M204 655.5h2m7 0h3m37 0h2m69 0h1m212 0h2m89 0h2m7 0h2m29 0h1m21 0h1m109 0h1m37 0h2m2 0h2m72 0h2M250 656.5h2m28 0h2m45 0h2m19 0h2m24 0h2m90 0h4m14 0h1m7 0h2m18 0h2m37 0h2m28 0h2m26 0h2m26 0h2m8 0h2m52 0h1m13 0h3m9 0h2m18 0h2m15 0h2m40 0h1m97 0h2m12 0h1M210 657.5h2m11 0h2m129 0h2m24 0h2m15 0h1m20 0h2m146 0h2m4 0h2m4 0h2m49 0h2m64 0h1m49 0h1m62 0h2m16 0h2m2 0h1m11 0h1m33 0h2M186 658.5h3m262 0h2m3 0h1m3 0h1m37 0h2m12 0h1m25 0h2m57 0h2m45 0h2m9 0h2m92 0h1m44 0h2m30 0h2m14 0h2m45 0h2M230 659.5h1m117 0h2m101 0h2m34 0h2m17 0h2m22 0h1m9 0h2m127 0h4m39 0h2m99 0h1m61 0h2m22 0h1M153 660.5h1m5 0h1m25 0h2m1 0h1m70 0h2m8 0h2m71 0h2m247 0h2m38 0h2m103 0h2m8 0h2m33 0h1m52 0h2m9 0h1m29 0h1m16 0h1M280 661.5h2m33 0h2m18 0h2m10 0h1m2 0h1m38 0h2m39 0h2m8 0h1m10 0h2m68 0h2m24 0h2m69 0h1m20 0h2m53 0h1m27 0h2m2 0h2m27 0h2m46 0h2m9 0h2m101 0h2M196 662.5h1m26 0h1m149 0h2m212 0h2m18 0h2m11 0h2m22 0h2m56 0h2m4 0h2m74 0h2m76 0h2m23 0h2m4 0h2m10 0h1m2 0h2M162 663.5h2m47 0h1m3 0h1m27 0h2m119 0h2m31 0h1m23 0h2m4 0h2m42 0h2m3 0h1m5 0h2m18 0h2m41 0h2m9 0h2m131 0h2m12 0h2m19 0h2m5 0h2m61 0h2m65 0h4M184 664.5h2m6 0h2m25 0h2m24 0h2m79 0h2m93 0h1m25 0h2m12 0h1m18 0h2m10 0h2m12 0h2m5 0h2m34 0h2m102 0h1m15 0h5m11 0h2m3 0h1m23 0h2m37 0h2m4 0h2m10 0h2m16 0h2m7 0h2m34 0h2m30 0h1M158 665.5h2m37 0h2m24 0h2m21 0h2m5 0h2m48 0h2m6 0h2m34 0h1m19 0h2m5 0h1m27 0h2m5 0h2m74 0h2m11 0h2m18 0h4m50 0h2m10 0h2m25 0h1m18 0h3m50 0h1m7 0h2m27 0h2m1 0h2m17 0h2m6 0h2m1 0h2m53 0h1m23 0h4m3 0h2m1 0h2m38 0h1m14 0h2m8 0h2m12 0h2M175 666.5h2m16 0h2m42 0h3m21 0h2m36 0h2m25 0h2m29 0h2m2 0h2m9 0h2m32 0h2m13 0h2m25 0h2m49 0h2m17 0h2m77 0h2m35 0h2m55 0h2m36 0h2m14 0h2m18 0h2m17 0h1m8 0h2m38 0h2m11 0h2m14 0h2m17 0h1m12 0h2m13 0h2M192 667.5h3m16 0h2m78 0h2m4 0h2m3 0h2m133 0h1m60 0h2m9 0h1m7 0h2m14 0h2m19 0h2m23 0h1m2 0h2m31 0h4m23 0h1m37 0h2m1 0h2m12 0h2m11 0h1m20 0h2m19 0h2m34 0h3m27 0h3m3 0h2m11 0h1m9 0h1m4 0h2m15 0h2m16 0h1m3 0h2M200 668.5h2m6 0h2m23 0h4m2 0h2m29 0h1m34 0h2m1 0h2m11 0h2m6 0h2m3 0h2m86 0h1m20 0h2m58 0h2m9 0h2m58 0h2m46 0h2m11 0h4m27 0h2m7 0h1m34 0h2m4 0h2m1 0h4m2 0h2m35 0h2m4 0h4m25 0h2m13 0h2m4 0h2m1 0h2m2 0h1m7 0h3m37 0h2m24 0h2M154 669.5h2m24 0h3m2 0h2m3 0h2m5 0h2m30 0h2m22 0h2m12 0h2m6 0h2m5 0h2m15 0h2m1 0h2m1 0h1m1 0h3m5 0h1m64 0h2m17 0h2m9 0h2m3 0h2m11 0h2m3 0h1m12 0h2m14 0h1m24 0h1m19 0h2m14 0h1m11 0h2m8 0h1m5 0h2m22 0h2m12 0h1m8 0h1m13 0h2m52 0h2m16 0h3m45 0h2m1 0h2m47 0h2m13 0h2m12 0h2m8 0h1m23 0h2m10 0h2m15 0h2m8 0h2m17 0h2m1 0h2m6 0h2m4 0h2M170 670.5h2m45 0h2m14 0h2m31 0h1m60 0h1m4 0h2m36 0h2m9 0h2m15 0h2m7 0h2m15 0h2m23 0h1m69 0h2m1 0h2m12 0h2m25 0h2m20 0h2m10 0h2m5 0h2m4 0h2m7 0h2m21 0h2m8 0h2m3 0h2m14 0h2m12 0h2m13 0h2m28 0h2m10 0h2m8 0h2m56 0h2m6 0h2m49 0h2m7 0h2m5 0h2m9 0h2m10 0h2m9 0h1m2 0h1M156 671.5h2m4 0h2m5 0h1m4 0h1m32 0h2m36 0h2m3 0h2m34 0h2m7 0h2m33 0h2m2 0h2m16 0h2m2 0h2m1 0h2m12 0h2m52 0h1m8 0h2m50 0h3m50 0h4m2 0h2m35 0h4m48 0h2m23 0h2m1 0h2m6 0h2m1 0h2m44 0h2m1 0h1m41 0h1m1 0h2m17 0h2m5 0h1m41 0h2m40 0h3m16 0h2m1 0h3m2 0h2M158 672.5h3m2 0h2m122 0h2m66 0h1m5 0h1m7 0h2m3 0h2m9 0h3m40 0h2m27 0h2m5 0h1m87 0h2m28 0h1m33 0h2m3 0h2m5 0h1m33 0h2m11 0h2m15 0h2m15 0h2m61 0h3m5 0h2m20 0h4m5 0h1m2 0h2m9 0h2m22 0h2m27 0h2M154 673.5h4m56 0h1m52 0h2m2 0h2m1 0h2m19 0h2m31 0h2m20 0h2m4 0h1m3 0h2m25 0h2m12 0h2m6 0h2m28 0h2m18 0h1m2 0h2m53 0h2m14 0h2m7 0h2m18 0h2m6 0h2m18 0h2m18 0h2m11 0h1m12 0h2m28 0h2m49 0h2m12 0h2m4 0h2m14 0h2m89 0h2m31 0h2m1 0h2m13 0h1m24 0h1M171 674.5h2m9 0h2m44 0h2m3 0h2m8 0h2m17 0h2m7 0h2m41 0h2m35 0h2m47 0h2m20 0h2m3 0h2m57 0h1m4 0h2m25 0h2m3 0h1m15 0h1m25 0h2m1 0h2m9 0h2m16 0h1m14 0h2m1 0h2m16 0h2m8 0h1m11 0h2m4 0h1m10 0h2m57 0h2m16 0h1m29 0h2m1 0h2m18 0h1m5 0h2m97 0h1M278 675.5h2m39 0h2m54 0h4m16 0h2m18 0h1m52 0h2m42 0h2m15 0h1m44 0h2m10 0h2m75 0h2m39 0h1m15 0h1m3 0h2m32 0h3m5 0h2m41 0h2m6 0h5m24 0h1m4 0h2m1 0h2m10 0h2m1 0h2M168 676.5h2m32 0h2m151 0h2m64 0h2m2 0h2m1 0h2m22 0h2m3 0h2m67 0h2m37 0h2m3 0h2m11 0h2m53 0h2m21 0h2m10 0h2m8 0h3m3 0h2m12 0h2m47 0h2m39 0h1m29 0h2m9 0h2m11 0h1m6 0h1m11 0h2M193 677.5h1m21 0h1m93 0h2m45 0h2m10 0h2m46 0h2m37 0h1m60 0h2m46 0h1m22 0h2m15 0h2m28 0h2m29 0h2m75 0h4m1 0h2m38 0h2m17 0h2m16 0h2m26 0h2M157 678.5h2m34 0h2m53 0h2m13 0h2m69 0h2m24 0h2m10 0h1m53 0h1m59 0h1m30 0h1m19 0h2m8 0h2m8 0h2m82 0h1m57 0h2m22 0h2m28 0h1m8 0h2m28 0h2m31 0h2m14 0h2m61 0h2M171 679.5h2m5 0h2m45 0h2m5 0h2m4 0h2m45 0h1m28 0h2m12 0h2m1 0h2m37 0h2m112 0h2m31 0h2m49 0h2m86 0h1m3 0h2m59 0h3m49 0h2m35 0h1m80 0h2M194 680.5h2m3 0h2m19 0h2m14 0h1m16 0h2m129 0h2m16 0h2m4 0h2m56 0h2m33 0h2m15 0h2m5 0h2m27 0h2m89 0h2m17 0h2m102 0h2m59 0h2m30 0h2m57 0h2M213 681.5h2m52 0h1m83 0h2m70 0h2m20 0h1m40 0h2m186 0h2m105 0h2m48 0h2m32 0h1M193 682.5h2m68 0h2m103 0h2m46 0h2m28 0h3m45 0h2m84 0h1m25 0h2m72 0h1m79 0h2M188 683.5h2m64 0h2m2 0h1m5 0h2m4 0h2m79 0h1m15 0h2m28 0h2m15 0h2m7 0h2m13 0h1m28 0h2m139 0h1m55 0h2m92 0h2m13 0h2m17 0h2m26 0h2m14 0h2m76 0h2M178 684.5h2m33 0h2m35 0h2m5 0h4m121 0h2m105 0h2m40 0h1m106 0h2m22 0h2m36 0h1m152 0h2m9 0h2m13 0h2m18 0h2M200 685.5h2m32 0h1m58 0h2m13 0h1m16 0h2m16 0h2m1 0h2m10 0h2m16 0h2m57 0h3m30 0h2m12 0h2m31 0h2m45 0h2m11 0h1m140 0h2m6 0h2m22 0h1m28 0h1m11 0h2m93 0h2M223 686.5h2m7 0h2m29 0h2m93 0h2m46 0h2m40 0h4m63 0h2m77 0h2m13 0h2m57 0h2m103 0h1m37 0h2m7 0h2m26 0h1m41 0h2M268 687.5h2m145 0h2m2 0h2m29 0h2m128 0h2m2 0h3m26 0h2m18 0h1m4 0h2m24 0h2m16 0h2m25 0h2m42 0h2m18 0h2m90 0h2M162 688.5h4m276 0h2m33 0h1m65 0h2m3 0h2m34 0h2m159 0h2m21 0h1m14 0h2m61 0h2M156 689.5h2m50 0h2m89 0h2m39 0h2m49 0h2m55 0h1m1 0h3m7 0h2m5 0h2m71 0h2m29 0h2m20 0h2m17 0h2m13 0h2m100 0h1m8 0h2m26 0h1m14 0h2m76 0h2m62 0h2M164 690.5h2m8 0h2m126 0h2m103 0h2m18 0h1m97 0h1m2 0h1m247 0h1m51 0h2m41 0h1M181 691.5h2m44 0h2m17 0h2m102 0h1m9 0h2m41 0h2m31 0h1m152 0h2m39 0h2m6 0h2m161 0h2m77 0h2m1 0h2m22 0h2M425 692.5h2m131 0h1m5 0h2m32 0h2m41 0h2m124 0h2m82 0h2M155 693.5h2m6 0h1m72 0h3m5 0h1m116 0h3m178 0h2m90 0h2m39 0h2m49 0h2m51 0h2m43 0h1m10 0h2m6 0h2m14 0h1m54 0h2M173 694.5h2m34 0h2m3 0h2m5 0h2m17 0h2m6 0h2m33 0h1m42 0h1m117 0h1m131 0h2m7 0h2m59 0h1m27 0h1m8 0h2m51 0h2m60 0h2M258 695.5h2m3 0h2m42 0h2m22 0h2m28 0h2m30 0h2m71 0h2m71 0h1m5 0h2m29 0h2m28 0h2m39 0h1m55 0h2m27 0h2M277 696.5h1m4 0h2m4 0h2m12 0h2m31 0h2m11 0h2m53 0h1m60 0h2m91 0h1m36 0h2m164 0h2m14 0h2m37 0h2m15 0h2m10 0h2m2 0h2M173 697.5h2m197 0h2m59 0h2m14 0h2m60 0h2m1 0h1m95 0h2m64 0h2m118 0h2m115 0h1M162 698.5h1m69 0h1m17 0h2m22 0h2m3 0h2m7 0h1m144 0h2m44 0h2m7 0h2m97 0h2m78 0h2m10 0h2m73 0h2m15 0h2m1 0h2m37 0h2m68 0h2M200 699.5h2m50 0h2m1 0h1m6 0h2m9 0h2m30 0h2m6 0h2m3 0h1m21 0h2m107 0h2m1 0h4m43 0h2m88 0h1m21 0h2m3 0h2m79 0h2m3 0h1m36 0h2m61 0h2m22 0h2m55 0h1m6 0h1M194 700.5h2m10 0h2m131 0h2m3 0h2m28 0h2m23 0h2m4 0h2m186 0h1m55 0h2m58 0h2m28 0h1m45 0h2m27 0h2m19 0h2M168 701.5h1m60 0h2m31 0h2m94 0h2m17 0h1m5 0h2m95 0h2m9 0h1m1 0h2m86 0h2m71 0h2m3 0h2m96 0h2m9 0h2m4 0h2m59 0h2m26 0h1m9 0h2m8 0h2M231 702.5h2m14 0h2m5 0h2m4 0h2m10 0h2m13 0h2m146 0h1m1 0h2m45 0h3m168 0h3m87 0h2m21 0h2m18 0h1m129 0h1M187 703.5h2m7 0h2m19 0h4m4 0h2m63 0h2m104 0h2m51 0h2m2 0h1m28 0h2m3 0h1m2 0h2m33 0h2m15 0h2m23 0h2m10 0h2m100 0h2m8 0h2m72 0h2m34 0h1M244 704.5h2m26 0h2m47 0h2m139 0h2m5 0h2m60 0h2m24 0h1m24 0h2m27 0h2m28 0h3m18 0h1m27 0h2m2 0h2m8 0h2m47 0h2m2 0h2m17 0h2m45 0h2m3 0h2m41 0h2m1 0h2M158 705.5h2m11 0h2m3 0h2m11 0h2m37 0h3m42 0h2m58 0h2m98 0h1m11 0h1m7 0h2m12 0h2m31 0h1m14 0h2m20 0h1m25 0h1m12 0h2m10 0h1m90 0h2m136 0h2m21 0h2m48 0h2m13 0h1M243 706.5h2m17 0h1m46 0h2m35 0h2m149 0h3m72 0h2m81 0h2m2 0h2m132 0h2m3 0h2m16 0h2M209 707.5h2m29 0h3m19 0h2m19 0h2m35 0h2m160 0h2m51 0h2m14 0h1m66 0h2m3 0h2m47 0h2m33 0h2m24 0h2m23 0h2M178 708.5h2m36 0h1m60 0h2m133 0h1m25 0h2m18 0h2m76 0h2m40 0h2m27 0h2m64 0h2m14 0h2m90 0h2m1 0h2m1 0h2m3 0h2m43 0h1M291 709.5h2m82 0h2m95 0h2m131 0h2m21 0h2m34 0h2m8 0h2m15 0h2m61 0h2M222 710.5h3m30 0h2m166 0h1m8 0h2m30 0h1m16 0h2m88 0h3m54 0h1m16 0h1m146 0h1m29 0h1m31 0h2m2 0h2m61 0h2M198 711.5h2m20 0h1m83 0h1m16 0h2m2 0h2m60 0h4m5 0h2m50 0h1m10 0h2m55 0h2m6 0h2m54 0h1m5 0h1m4 0h2m4 0h2m43 0h1m5 0h2m31 0h2m41 0h2m7 0h2m21 0h1m130 0h2m15 0h2M208 712.5h2m76 0h2m38 0h2m2 0h2m130 0h2m296 0h2m16 0h2m50 0h2m14 0h2m28 0h1m7 0h2M163 713.5h1m7 0h2m37 0h2m114 0h2m88 0h2m140 0h1m16 0h2m5 0h2m51 0h1m53 0h1m1 0h2m146 0h2m1 0h1M203 714.5h1m202 0h4m39 0h1m3 0h2m21 0h1m47 0h1m31 0h2m17 0h2m133 0h2m175 0h2m13 0h2M219 715.5h2m1 0h3m66 0h2m40 0h1m13 0h2m107 0h2m26 0h2m91 0h2m19 0h2m25 0h1m27 0h2m61 0h1m27 0h1m35 0h1m20 0h2m26 0h2m31 0h2m14 0h2M194 716.5h2m89 0h2m67 0h1m97 0h1m11 0h2m63 0h2m85 0h2m7 0h2m13 0h2m76 0h2m6 0h2m88 0h2m30 0h2M166 717.5h2m72 0h2m54 0h2m2 0h2m78 0h2m1 0h2m49 0h2m66 0h2m78 0h2m9 0h1m71 0h2m108 0h4m70 0h1m17 0h3m5 0h2m34 0h1M161 718.5h2m52 0h2m83 0h2m37 0h2m3 0h2m49 0h2m100 0h2m59 0h2m98 0h2m46 0h2m47 0h1m28 0h2m3 0h2m15 0h3m35 0h1m2 0h1m35 0h2M181 719.5h2m9 0h2m234 0h2m13 0h2m25 0h2m36 0h2m35 0h1m8 0h2m25 0h2m1 0h2m110 0h2m36 0h1m48 0h2m33 0h2M244 720.5h2m16 0h2m2 0h2m7 0h1m23 0h2m9 0h2m19 0h2m5 0h2m10 0h1m14 0h2m3 0h2m146 0h2m78 0h2m15 0h2m66 0h2m57 0h2m103 0h2M345 721.5h2m33 0h2m52 0h2m36 0h2m84 0h2m16 0h2m212 0h2M284 722.5h2m22 0h2m45 0h1m73 0h2m1 0h4m155 0h2m20 0h2m70 0h2m28 0h2m52 0h1m58 0h2M206 723.5h1m23 0h2m19 0h2m138 0h2m2 0h1m8 0h2m35 0h2m19 0h2m17 0h2m37 0h1m93 0h2m41 0h2m41 0h2m24 0h2m11 0h2m8 0h2m37 0h2m48 0h2m52 0h2m10 0h2m7 0h2M179 724.5h1m40 0h1m8 0h1m111 0h1m77 0h2m30 0h2m34 0h2m87 0h2m17 0h2m21 0h2m27 0h2m52 0h1m32 0h2m129 0h4M171 725.5h2m35 0h1m80 0h1m77 0h2m159 0h1m28 0h2m1 0h2m13 0h2m3 0h1m119 0h2m17 0h2m62 0h2m85 0h2M155 726.5h1m119 0h2m54 0h2m79 0h2m1 0h2m20 0h2m105 0h2m14 0h2m83 0h2m78 0h1m48 0h2m16 0h1m65 0h2m20 0h2M170 727.5h2m140 0h2m74 0h2m44 0h2m8 0h2m24 0h2m5 0h1m25 0h2m27 0h2m20 0h2m108 0h2m41 0h2m15 0h2m70 0h1m7 0h2m57 0h2m18 0h1m11 0h2M176 728.5h2m42 0h2m93 0h2m2 0h2m288 0h2m4 0h2m31 0h2m24 0h2m27 0h2m20 0h2m149 0h2M185 729.5h2m100 0h2m56 0h2m28 0h2m23 0h1m70 0h2m159 0h2m6 0h2m5 0h2m45 0h1m2 0h1m33 0h2m19 0h2m49 0h3m2 0h2m2 0h2m84 0h2M286 730.5h2m41 0h2m16 0h2m53 0h2m43 0h2m5 0h2m6 0h2m10 0h2m3 0h2m55 0h2m11 0h2m9 0h3m40 0h2m12 0h2m15 0h2m24 0h2m45 0h1m15 0h2m19 0h2m45 0h2m14 0h1m23 0h2M181 731.5h3m25 0h2m26 0h2m14 0h1m191 0h3m59 0h2m189 0h2m2 0h2m9 0h2m109 0h1m48 0h2m21 0h2M161 732.5h2m43 0h2m60 0h2m8 0h2m4 0h2m25 0h1m32 0h1m31 0h2m41 0h2m55 0h1m26 0h2m73 0h2m10 0h2m4 0h2m111 0h2m132 0h2M200 733.5h2m77 0h1m10 0h2m77 0h1m94 0h2m16 0h2m110 0h1m4 0h2m8 0h2m72 0h2m43 0h1m76 0h2m9 0h2m54 0h1m8 0h2m9 0h1M156 734.5h2m33 0h2m28 0h2m212 0h2m81 0h2m37 0h2m89 0h2m3 0h2m18 0h3m35 0h2m50 0h2m1 0h2m3 0h1m47 0h1m44 0h2m3 0h1m7 0h2M325 735.5h2m191 0h2m9 0h2m79 0h2m34 0h2m154 0h1m32 0h1m2 0h1m77 0h2M172 736.5h2m77 0h2m1 0h2m6 0h2m10 0h2m104 0h1m12 0h2m24 0h2m16 0h2m8 0h1m56 0h2m57 0h2m1 0h1m54 0h1m1 0h3m17 0h2m111 0h2m120 0h2m26 0h1M199 737.5h2m1 0h2m129 0h2m16 0h2m69 0h1m38 0h2m63 0h2m43 0h2m50 0h2m28 0h2m42 0h2m30 0h2m76 0h2m50 0h2m49 0h1M171 738.5h2m18 0h2m26 0h2m20 0h1m68 0h1m13 0h2m31 0h1m11 0h2m93 0h1m42 0h1m21 0h2m21 0h2m15 0h2m22 0h2m2 0h2m65 0h2m39 0h2m65 0h2m21 0h2m84 0h2M205 739.5h2m32 0h2m6 0h1m12 0h2m57 0h2m59 0h2m16 0h2m104 0h2m35 0h4m36 0h2m11 0h2m97 0h1m6 0h2m10 0h2m13 0h2m35 0h2m3 0h2m11 0h1m11 0h2m54 0h1m8 0h2m43 0h2M209 740.5h2m89 0h2m40 0h2m3 0h1m94 0h1m20 0h2m34 0h2m38 0h5m82 0h1m172 0h2m107 0h2m13 0h2M178 741.5h2m56 0h2m105 0h2m59 0h2m9 0h2m1 0h2m56 0h1m24 0h2m28 0h2m13 0h2m37 0h1m180 0h2m112 0h2m9 0h2M173 742.5h3m26 0h2m17 0h1m41 0h2m36 0h2m68 0h2m60 0h2m6 0h1m69 0h3m59 0h2m52 0h2m67 0h2m6 0h2m117 0h2m14 0h2m9 0h2m9 0h2m5 0h2M217 743.5h1m69 0h2m11 0h1m53 0h2m76 0h2m87 0h2m3 0h2m37 0h2m24 0h2m60 0h2m40 0h2m137 0h2m80 0h1M186 744.5h1m17 0h1m135 0h2m26 0h2m98 0h1m26 0h2m29 0h1m5 0h2m157 0h2m34 0h1m13 0h2m49 0h2m22 0h2m29 0h2m55 0h2M158 745.5h1m43 0h2m25 0h2m3 0h1m5 0h2m10 0h3m73 0h2m43 0h2m343 0h2m4 0h2m36 0h2m9 0h2m83 0h1m23 0h2M158 746.5h2m104 0h2m53 0h2m24 0h2m71 0h2m9 0h2m13 0h2m23 0h2m120 0h2m39 0h2m5 0h2m17 0h2m158 0h1m2 0h2m79 0h2M154 747.5h2m149 0h2m19 0h2m23 0h1m38 0h2m123 0h2m67 0h2m24 0h1m4 0h1m15 0h3m5 0h2m12 0h2m37 0h2m12 0h2m58 0h2m24 0h1m32 0h1m61 0h2m13 0h2M162 748.5h1m12 0h2m17 0h2m79 0h2m57 0h2m112 0h2m11 0h2m131 0h2m72 0h2m21 0h2m17 0h2m38 0h2m35 0h2m5 0h2m76 0h2M264 749.5h2m72 0h2m8 0h2m7 0h1m73 0h2m24 0h2m45 0h2m18 0h2m40 0h2m37 0h2m1 0h2m25 0h2m17 0h2m63 0h2m12 0h2m52 0h2m124 0h2M186 750.5h1m107 0h2m4 0h2m4 0h2m9 0h1m5 0h2m3 0h2m19 0h2m37 0h2m50 0h2m14 0h2m109 0h2m130 0h1m29 0h2m78 0h1m8 0h2m6 0h2M320 751.5h2m6 0h2m22 0h2m27 0h2m38 0h1m6 0h2m25 0h2m28 0h2m41 0h1m107 0h2m52 0h1m37 0h1m58 0h4m38 0h2M185 752.5h2m7 0h2m31 0h2m1 0h2m3 0h2m2 0h1m74 0h2m37 0h2m47 0h2m5 0h2m23 0h2m16 0h2m62 0h2m11 0h2m50 0h2m102 0h2m17 0h2m30 0h2m26 0h2m15 0h2m73 0h1m29 0h2M157 753.5h1m50 0h2m37 0h2m32 0h2m15 0h2m72 0h2m48 0h2m10 0h2m125 0h2m115 0h2m35 0h2m9 0h3m22 0h1m9 0h2m37 0h4m57 0h2m53 0h1M223 754.5h2m11 0h1m55 0h2m92 0h2m13 0h2m46 0h4m24 0h1m67 0h1m3 0h2m114 0h2m85 0h2m25 0h2m36 0h1m22 0h2m10 0h2m15 0h2m24 0h2M193 755.5h2m43 0h1m56 0h2m15 0h2m83 0h2m54 0h2m4 0h3m10 0h2m24 0h2m79 0h2m35 0h2m28 0h2m50 0h2m23 0h2m2 0h2m21 0h2m5 0h2m9 0h1m55 0h2m4 0h2M184 756.5h2m81 0h2m36 0h2m70 0h2m12 0h2m11 0h2m13 0h1m67 0h2m69 0h2m106 0h2m120 0h2m14 0h1m55 0h1m1 0h2m1 0h2m16 0h2M161 757.5h2m25 0h2m72 0h2m55 0h1m88 0h3m44 0h2m38 0h2m42 0h2m60 0h1m17 0h2m10 0h2m16 0h2m89 0h2m40 0h2M285 758.5h2m71 0h2m49 0h2m10 0h2m43 0h2m27 0h1m17 0h1m35 0h2m17 0h2m42 0h1m137 0h2m8 0h2m29 0h1m50 0h2m38 0h2M226 759.5h2m29 0h2m44 0h2m33 0h2m13 0h2m78 0h2m66 0h2m41 0h1m71 0h2m167 0h2M166 760.5h2m1 0h2m82 0h2m20 0h2m157 0h2m11 0h2m47 0h2m13 0h1m30 0h2m5 0h2m11 0h2m68 0h3m102 0h2M154 761.5h2m55 0h2m202 0h3m101 0h2m20 0h2m13 0h2m12 0h2m13 0h4m26 0h2m1 0h2m24 0h2m130 0h1m35 0h2m23 0h1m5 0h2m10 0h2m64 0h2M234 762.5h2m20 0h2m43 0h1m52 0h2m4 0h2m20 0h2m23 0h2m12 0h2m46 0h2m97 0h2m34 0h2m15 0h1m5 0h2m9 0h2M163 763.5h2m84 0h2m86 0h2m56 0h2m29 0h2m47 0h2m6 0h2m27 0h2m17 0h2m12 0h2m7 0h1m8 0h2m65 0h2m92 0h2m28 0h2m36 0h2m26 0h2m47 0h1m23 0h2M195 764.5h2m40 0h3m60 0h2m6 0h2m38 0h2m14 0h2m20 0h2m12 0h2m82 0h2m9 0h2m30 0h2m27 0h2m18 0h2m46 0h2m49 0h2m41 0h1m69 0h2m47 0h2M202 765.5h2m1 0h2m14 0h2m46 0h2m52 0h2m100 0h2m43 0h2m15 0h2m60 0h2m44 0h2m67 0h2m8 0h2m118 0h2m3 0h2m60 0h1m9 0h2M188 766.5h2m177 0h2m9 0h2m106 0h2m86 0h2m30 0h2m107 0h1m52 0h2m6 0h2m11 0h2m116 0h2m1 0h2m9 0h2M281 767.5h1m22 0h2m40 0h2m15 0h1m57 0h2m58 0h2m1 0h2m58 0h2m13 0h2m18 0h2m23 0h2m1 0h2m1 0h2m44 0h1m40 0h2m11 0h2m15 0h2m90 0h2m19 0h2m17 0h2m13 0h2M192 768.5h2m12 0h2m10 0h2m146 0h2m158 0h2m37 0h2m7 0h1m100 0h2m2 0h1m33 0h2m21 0h2m47 0h2m24 0h2M184 769.5h2m1 0h2m11 0h2m180 0h2m13 0h2m40 0h2m67 0h1m99 0h1m33 0h2m91 0h2m4 0h2m59 0h2m17 0h2m15 0h2m70 0h2M174 770.5h2m76 0h2m26 0h2m30 0h2m7 0h2m90 0h2m59 0h1m12 0h2m5 0h4m12 0h2m32 0h2m81 0h2m5 0h2m5 0h1m186 0h2m1 0h2m24 0h2m3 0h2M214 771.5h1m130 0h2m43 0h2m134 0h2m33 0h3m47 0h2m32 0h2m34 0h2m36 0h2m2 0h2m17 0h2m88 0h2m46 0h2m33 0h2M219 772.5h1m103 0h2m5 0h2m15 0h2m130 0h2m76 0h2m2 0h1m144 0h2m64 0h2m72 0h2m65 0h2M218 773.5h1m11 0h2m38 0h1m15 0h1m9 0h2m37 0h2m53 0h2m4 0h2m10 0h2m8 0h2m48 0h2m26 0h2m30 0h2m11 0h2m78 0h2m19 0h1m36 0h1m13 0h2m61 0h2m42 0h2m87 0h2M188 774.5h1m28 0h3m113 0h2m35 0h2m59 0h2m93 0h2m82 0h2m55 0h2m101 0h2m1 0h2m66 0h2M232 775.5h1m20 0h2m117 0h1m3 0h2m7 0h2m2 0h1m25 0h2m84 0h1m12 0h4m47 0h2m222 0h2m26 0h1m68 0h1m7 0h1M155 776.5h2m27 0h1m1 0h2m152 0h1m48 0h1m52 0h1m155 0h1m25 0h2m7 0h1m15 0h2m88 0h2m11 0h2m20 0h3m18 0h2m61 0h2M168 777.5h2m16 0h2m52 0h2m142 0h2m22 0h1m4 0h2m12 0h1m74 0h2m74 0h2m94 0h2m55 0h2m14 0h2m77 0h2M304 778.5h1m96 0h2m12 0h2m2 0h2m23 0h2m43 0h1m113 0h2m107 0h2m21 0h2m42 0h2m7 0h1m93 0h2m2 0h2M186 779.5h4m9 0h1m92 0h2m25 0h1m37 0h1m18 0h2m23 0h2m14 0h2m24 0h2m77 0h2m68 0h2m12 0h1m21 0h2m62 0h2m9 0h2m56 0h2m9 0h2M334 780.5h2m164 0h2m38 0h2m9 0h2m17 0h2m104 0h2m26 0h2m94 0h2m19 0h4m5 0h2m17 0h1M169 781.5h2m4 0h1m134 0h2m33 0h2m60 0h3m132 0h2m7 0h1m12 0h2m50 0h2m56 0h2m44 0h1m71 0h2m15 0h3m26 0h1m8 0h1m60 0h2m2 0h2M160 782.5h2m13 0h2m15 0h2m231 0h2m98 0h2m28 0h2m73 0h2m36 0h1m11 0h2m84 0h1m20 0h2m58 0h3M256 783.5h2m12 0h1m109 0h2m52 0h2m146 0h2m50 0h2m14 0h1m113 0h2m12 0h2m40 0h2m25 0h2m14 0h2m44 0h2M205 784.5h1m97 0h2m61 0h2m5 0h2m46 0h1m79 0h2m37 0h1m6 0h2m10 0h2m20 0h2m159 0h2m52 0h2m30 0h2m47 0h2M226 785.5h1m17 0h2m10 0h1m14 0h2m2 0h1m123 0h2m69 0h2m14 0h2m45 0h2m41 0h2m100 0h2m27 0h2m21 0h2m23 0h2m46 0h2m14 0h2m72 0h2M214 786.5h2m44 0h2m86 0h2m33 0h2m51 0h2m65 0h2m30 0h2m7 0h1m79 0h2m30 0h1m1 0h2m4 0h2m214 0h2M288 787.5h2m55 0h2m7 0h2m1 0h2m24 0h2m41 0h2m35 0h2m19 0h2m27 0h1m81 0h2m16 0h2m7 0h1m118 0h3m49 0h1m46 0h1m1 0h2m40 0h2M176 788.5h2m39 0h2m3 0h2m180 0h2m4 0h2m3 0h2m11 0h2m102 0h2m27 0h1m6 0h2m57 0h2m263 0h2M236 789.5h2m67 0h2m13 0h2m61 0h2m31 0h2m8 0h2m22 0h1m24 0h2m90 0h1m116 0h2m64 0h2m91 0h2m23 0h2m17 0h2m7 0h2m20 0h1M196 790.5h2m45 0h2m45 0h2m64 0h2m11 0h2m1 0h2m59 0h1m10 0h2m121 0h2m48 0h2m42 0h2m188 0h2m2 0h2m44 0h2m3 0h2m3 0h2M163 791.5h2m39 0h2m106 0h2m3 0h2m24 0h2m48 0h2m59 0h2m70 0h2m79 0h2m46 0h2m33 0h2m58 0h1m68 0h2m86 0h1M180 792.5h1m29 0h2m15 0h2m1 0h2m3 0h2m88 0h2m106 0h1m38 0h2m164 0h1m127 0h1m73 0h1m19 0h2m27 0h2M173 793.5h1m45 0h2m30 0h1m74 0h2m57 0h2m46 0h2m33 0h2m12 0h2m74 0h2m16 0h2m103 0h2m8 0h2m123 0h2m12 0h2m41 0h4M243 794.5h2m32 0h2m9 0h2m89 0h2m7 0h2m9 0h2m62 0h2m92 0h1m42 0h2m12 0h2m35 0h1m20 0h2m237 0h2M171 795.5h1m47 0h1m31 0h2m59 0h2m12 0h2m23 0h2m62 0h2m29 0h2m13 0h2m18 0h2m26 0h2m54 0h2m28 0h2m26 0h2m3 0h2m185 0h2m7 0h2M246 796.5h2m30 0h2m30 0h2m1 0h2m17 0h2m4 0h2m93 0h1m111 0h1m16 0h2m9 0h2m148 0h1m13 0h2m14 0h2m13 0h2m115 0h2m12 0h1M183 797.5h2m69 0h2m15 0h1m48 0h2m13 0h1m7 0h2m97 0h2m46 0h1m25 0h1m32 0h2m1 0h2m34 0h2m17 0h2m52 0h2m60 0h2m186 0h2M157 798.5h2m65 0h2m18 0h2m44 0h3m5 0h2m18 0h2m63 0h1m55 0h2m80 0h2m24 0h2m71 0h1m24 0h2m60 0h2m12 0h2m139 0h2m26 0h1m30 0h2M156 799.5h2m14 0h2m16 0h2m49 0h2m132 0h2m76 0h2m21 0h2m44 0h2m70 0h2m53 0h2m1 0h2m102 0h2m55 0h2M216 800.5h2m29 0h2m24 0h2m33 0h2m299 0h1m11 0h2m78 0h2m93 0h1m13 0h1m42 0h4m60 0h2M165 801.5h2m174 0h2m90 0h2m138 0h1m11 0h2m35 0h2m18 0h2m54 0h2m62 0h2m21 0h2m115 0h2M188 802.5h2m3 0h3m45 0h1m3 0h2m74 0h3m31 0h2m17 0h1m23 0h1m7 0h1m55 0h2m35 0h1m60 0h2m73 0h2m14 0h2m1 0h2m65 0h2m4 0h2m26 0h2m84 0h1M158 803.5h2m288 0h2m130 0h2m96 0h2m27 0h1m171 0h2M189 804.5h2m81 0h1m29 0h2m26 0h1m4 0h2m137 0h4m5 0h1m23 0h1m32 0h2m3 0h2m57 0h2m29 0h2m73 0h2m127 0h2m29 0h2m20 0h1m21 0h2M292 805.5h2m7 0h2m94 0h2m14 0h2m17 0h2m54 0h2m56 0h2m22 0h2m99 0h2m75 0h1m86 0h2m30 0h2m31 0h2M201 806.5h2m48 0h2m24 0h2m18 0h2m114 0h2m55 0h2m2 0h2m47 0h2m43 0h2m18 0h2m24 0h2m36 0h2m86 0h1m70 0h2m53 0h2m35 0h1m12 0h2M170 807.5h2m40 0h2m20 0h2m23 0h2m64 0h2m18 0h2m20 0h2m36 0h2m91 0h1m28 0h2m13 0h2m13 0h2m10 0h1m9 0h1m58 0h2m105 0h2m44 0h2m74 0h1m33 0h2M158 808.5h2m9 0h2m85 0h2m66 0h3m11 0h1m13 0h2m166 0h2m6 0h1m17 0h1m101 0h2m98 0h2m32 0h2m2 0h2m70 0h2m26 0h2M153 809.5h2m23 0h1m23 0h2m25 0h2m92 0h2m28 0h2m90 0h2m7 0h2m30 0h2m128 0h2m61 0h2m11 0h1m50 0h2m28 0h4m2 0h2m25 0h2m116 0h1M157 810.5h2m96 0h2m11 0h2m47 0h2m95 0h2m51 0h2m61 0h2m69 0h1m6 0h2m20 0h2m93 0h2m5 0h2m4 0h1m47 0h2m5 0h2M194 811.5h2m76 0h1m226 0h2m26 0h2m27 0h1m61 0h1m7 0h2m10 0h2m5 0h1m10 0h2m37 0h2m2 0h1m22 0h2m4 0h2m187 0h2M165 812.5h1m51 0h1m23 0h2m2 0h2m75 0h2m15 0h1m75 0h2m96 0h2m8 0h2m62 0h2m73 0h2m16 0h2m8 0h2m25 0h2m34 0h2m28 0h1m34 0h2m58 0h2m20 0h2m3 0h2M184 813.5h2m11 0h2m88 0h1m18 0h2m92 0h2m61 0h1m35 0h2m95 0h2m23 0h2m14 0h2m5 0h1m10 0h2m51 0h2m10 0h2m111 0h2m9 0h1m36 0h2M193 814.5h4m15 0h1m26 0h2m32 0h1m83 0h1m29 0h2m51 0h1m94 0h1m57 0h2m13 0h2m10 0h2m57 0h2m11 0h2m27 0h1m21 0h2m109 0h2M154 815.5h2m66 0h2m44 0h2m12 0h1m20 0h2m9 0h2m194 0h4m128 0h2m22 0h2m19 0h2m28 0h2m89 0h2m29 0h2M222 816.5h2m43 0h2m8 0h2m178 0h2m120 0h2m18 0h2m53 0h2m69 0h2m19 0h2m3 0h2m33 0h2m42 0h2m38 0h2m5 0h2M224 817.5h1m12 0h1m15 0h2m36 0h1m157 0h2m5 0h2m96 0h1m1 0h2m43 0h2m6 0h2m6 0h1m32 0h2m9 0h2m75 0h2m68 0h2m38 0h2M169 818.5h2m70 0h2m50 0h2m72 0h2m94 0h2m75 0h2m1 0h2m61 0h2m18 0h2m33 0h2m34 0h1m10 0h2m44 0h1m92 0h2m44 0h2m4 0h2M160 819.5h2m24 0h2m49 0h3m4 0h2m9 0h1m8 0h2m28 0h1m42 0h2m179 0h2m132 0h1m25 0h2m37 0h2m17 0h1m61 0h2m51 0h2M181 820.5h2m60 0h2m16 0h1m1 0h2m25 0h2m3 0h2m6 0h2m20 0h2m33 0h2m23 0h2m66 0h1m3 0h2m28 0h2m66 0h1m7 0h1m25 0h1m82 0h2m6 0h2m10 0h2m30 0h2m53 0h2m8 0h2m4 0h2M164 821.5h2m4 0h1m85 0h2m39 0h1m7 0h2m10 0h2m68 0h1m10 0h3m2 0h1m72 0h2m11 0h2m51 0h2m51 0h1m35 0h1m88 0h2m64 0h1m2 0h1m64 0h2m14 0h2m3 0h2M174 822.5h1m21 0h2m11 0h2m19 0h2m6 0h2m7 0h1m13 0h2m17 0h2m37 0h2m50 0h4m15 0h2m35 0h4m88 0h1m16 0h2m39 0h1m1 0h2m90 0h2m49 0h2m10 0h2m8 0h2m52 0h2m105 0h1M230 823.5h1m4 0h2m3 0h2m10 0h1m4 0h2m66 0h2m22 0h2m4 0h2m6 0h2m42 0h1m120 0h1m15 0h2m183 0h2m10 0h1m39 0h2m21 0h4m64 0h1m9 0h2M182 824.5h2m46 0h2m1 0h2m34 0h1m30 0h1m214 0h1m5 0h2m6 0h1m36 0h2m57 0h2m20 0h2m11 0h2m98 0h2m19 0h2m36 0h1M163 825.5h2m32 0h3m29 0h1m12 0h1m6 0h2m6 0h1m15 0h2m88 0h1m47 0h1m145 0h2m13 0h2m3 0h2m190 0h2m3 0h2m37 0h2m46 0h2m43 0h2M161 826.5h2m21 0h2m23 0h1m15 0h2m9 0h2m33 0h2m31 0h2m8 0h2m17 0h2m19 0h2m86 0h1m19 0h2m8 0h1m166 0h1m6 0h2m114 0h2m20 0h2m12 0h2m107 0h2M192 827.5h3m27 0h4m2 0h1m11 0h1m5 0h2m1 0h2m4 0h2m9 0h2m16 0h2m38 0h2m21 0h2m21 0h2m16 0h1m104 0h2m230 0h1m53 0h2m25 0h2m44 0h2m49 0h2M159 828.5h2m28 0h2m19 0h4m44 0h2m11 0h2m16 0h1m42 0h2m31 0h2m42 0h2m50 0h2m4 0h1m44 0h2m38 0h1m30 0h2m257 0h2m18 0h2M174 829.5h2m3 0h2m8 0h1m7 0h2m12 0h2m2 0h2m20 0h2m19 0h2m4 0h2m15 0h1m8 0h2m6 0h1m5 0h2m13 0h2m98 0h2m123 0h2m73 0h1m106 0h2m10 0h2m38 0h1m14 0h1m39 0h2m7 0h2m32 0h1m23 0h2M160 830.5h2m44 0h2m38 0h1m29 0h2m18 0h1m10 0h2m180 0h2m206 0h2m129 0h1m44 0h2m40 0h2M165 831.5h2m8 0h2m2 0h2m4 0h2m22 0h2m16 0h2m6 0h4m26 0h2m13 0h2m7 0h1m4 0h2m16 0h2m14 0h2m34 0h2m65 0h2m154 0h2m96 0h2m48 0h2m12 0h2m65 0h1m14 0h1M179 832.5h3m28 0h2m33 0h2m1 0h2m9 0h2m7 0h2m13 0h2m8 0h1m2 0h2m36 0h1m14 0h3m60 0h2m38 0h2m53 0h2m7 0h1m36 0h2m52 0h2m58 0h1m71 0h1m47 0h1m48 0h2m29 0h2m15 0h2m10 0h2m18 0h1M160 833.5h2m49 0h1m22 0h2m10 0h2m4 0h1m16 0h2m3 0h2m31 0h2m7 0h3m2 0h1m35 0h2m23 0h2m93 0h2m25 0h2m1 0h2m52 0h3m8 0h2m88 0h2m27 0h2m20 0h2m1 0h2m1 0h2m53 0h2m13 0h2m74 0h2m24 0h2m1 0h2m4 0h1M158 834.5h2m3 0h2m1 0h2m6 0h2m4 0h2m19 0h1m28 0h2m10 0h1m13 0h1m37 0h2m35 0h2m58 0h2m7 0h1m51 0h1m63 0h2m8 0h2m56 0h2m12 0h1m17 0h4m101 0h1m61 0h2m59 0h2m22 0h1m15 0h2M154 835.5h2m16 0h2m23 0h2m3 0h2m55 0h2m11 0h2m8 0h1m12 0h2m7 0h3m2 0h2m35 0h2m23 0h2m22 0h3m28 0h1m29 0h1m14 0h1m21 0h2m51 0h2m16 0h2m4 0h2m9 0h1m7 0h2m119 0h2m39 0h2m28 0h2m68 0h2m2 0h1m44 0h2M169 836.5h2m20 0h2m18 0h2m3 0h5m39 0h1m1 0h2m49 0h2m1 0h1m10 0h2m24 0h1m240 0h2m5 0h2m34 0h2m37 0h2m24 0h2m117 0h2m62 0h2m20 0h2M206 837.5h2m2 0h1m1 0h2m8 0h2m9 0h2m2 0h2m10 0h2m5 0h2m4 0h2m30 0h3m80 0h2m24 0h1m189 0h2m20 0h2m2 0h3m75 0h1m58 0h3m24 0h2m35 0h1m9 0h2M153 838.5h2m8 0h1m14 0h2m17 0h4m13 0h2m15 0h2m5 0h2m1 0h4m29 0h1m13 0h4m11 0h2m1 0h2m3 0h2m9 0h2m2 0h2m27 0h1m27 0h2m71 0h1m2 0h2m17 0h1m82 0h2m40 0h2m1 0h2m17 0h2m179 0h2M157 839.5h1m61 0h1m18 0h2m28 0h2m3 0h2m1 0h2m7 0h2m4 0h2m344 0h2m61 0h2m35 0h2m2 0h2m94 0h2m13 0h2m50 0h2M160 840.5h2m15 0h1m32 0h2m3 0h3m18 0h2m3 0h2m8 0h2m14 0h2m4 0h4m9 0h2m32 0h1m5 0h2m13 0h2m5 0h2m16 0h1m15 0h2m63 0h2m192 0h2m10 0h1m2 0h2m35 0h2m8 0h2m24 0h2m9 0h1m7 0h3m74 0h2m72 0h2M157 841.5h2m5 0h2m1 0h2m29 0h1m3 0h3m8 0h2m15 0h2m2 0h2m12 0h3m8 0h1m6 0h2m7 0h1m7 0h2m2 0h2m4 0h4m9 0h2m5 0h2m14 0h2m22 0h2m5 0h2m5 0h2m6 0h2m103 0h2m35 0h2m77 0h2m31 0h2m128 0h1m13 0h1m16 0h1m28 0h2m16 0h2m5 0h2m5 0h2M159 842.5h2m12 0h2m5 0h2m16 0h1m16 0h4m7 0h3m6 0h2m8 0h1m26 0h4m15 0h1m3 0h2m22 0h1m20 0h2m4 0h2m1 0h2m6 0h2m1 0h1m49 0h1m4 0h2m68 0h3m63 0h2m179 0h2m34 0h2M157 843.5h2m4 0h2m6 0h2m2 0h2m4 0h1m11 0h2m13 0h2m4 0h2m7 0h2m21 0h1m2 0h2m1 0h2m7 0h4m2 0h2m4 0h2m3 0h2m3 0h2m2 0h1m3 0h2m36 0h2m54 0h2m39 0h2m35 0h2m55 0h2m5 0h2m26 0h1m6 0h1m152 0h1m6 0h2m64 0h2m6 0h2m33 0h2m23 0h1M174 844.5h2m29 0h2m6 0h2m5 0h1m5 0h2m16 0h2m4 0h2m12 0h1m13 0h1m4 0h2m40 0h2m5 0h2m16 0h2m26 0h2m30 0h2m21 0h2m108 0h2m33 0h2m23 0h2m101 0h2m10 0h2m28 0h1m5 0h2m7 0h2m4 0h2m16 0h2m50 0h2m79 0h1m1 0h1M170 845.5h2m22 0h4m5 0h2m9 0h2m22 0h2m9 0h2m20 0h2m3 0h1m12 0h2m26 0h2m9 0h1m7 0h1m92 0h3m16 0h2m42 0h1m39 0h2m2 0h2m48 0h2m27 0h1m43 0h2m20 0h3m45 0h2m4 0h2m137 0h2M170 846.5h2m17 0h2m19 0h2m7 0h2m5 0h2m15 0h2m2 0h3m9 0h2m4 0h2m6 0h1m7 0h2m22 0h2m5 0h1m15 0h2m8 0h2m11 0h2m15 0h1m24 0h2m2 0h1m19 0h1m70 0h2m32 0h2m6 0h2m87 0h3m48 0h2m34 0h1m5 0h2m46 0h1m6 0h2m21 0h1m14 0h2m82 0h1M159 847.5h1m11 0h2m1 0h1m2 0h2m1 0h2m3 0h2m2 0h2m9 0h2m7 0h4m8 0h4m19 0h2m3 0h2m22 0h1m7 0h2m15 0h2m3 0h2m5 0h2m17 0h2m22 0h2m79 0h2m78 0h2m75 0h2m41 0h2m134 0h2m6 0h2m16 0h2m33 0h2m23 0h2m55 0h1M158 848.5h2m13 0h2m8 0h1m6 0h2m24 0h2m6 0h2m3 0h2m14 0h2m2 0h1m4 0h2m4 0h2m17 0h1m7 0h2m1 0h2m11 0h2m18 0h2m2 0h1m71 0h2m8 0h1m47 0h2m85 0h2m71 0h2m2 0h2m16 0h2m9 0h2m67 0h2m129 0h2m14 0h2m8 0h2M187 849.5h2m9 0h2m8 0h2m45 0h1m8 0h2m35 0h2m22 0h3m8 0h2m15 0h1m1 0h2m8 0h1m5 0h3m198 0h2m3 0h1m43 0h3m135 0h2m1 0h2m29 0h2m30 0h2m58 0h2m9 0h2M158 850.5h2m51 0h2m3 0h2m22 0h2m1 0h2m14 0h3m2 0h1m12 0h1m1 0h2m25 0h2m3 0h1m4 0h2m4 0h2m4 0h2m36 0h1m3 0h2m172 0h2m2 0h2m32 0h1m39 0h1m15 0h1m54 0h2m15 0h2m92 0h2m9 0h1m29 0h2m54 0h3m2 0h2M178 851.5h2m2 0h2m7 0h2m5 0h2m6 0h3m8 0h2m12 0h5m9 0h2m9 0h2m2 0h2m5 0h3m6 0h2m1 0h2m5 0h2m6 0h2m1 0h4m2 0h2m5 0h2m36 0h2m37 0h2m20 0h2m13 0h2m2 0h2m172 0h2m1 0h1m144 0h2m9 0h1m12 0h2m7 0h1m46 0h1M168 852.5h2m4 0h2m3 0h1m35 0h2m1 0h2m5 0h2m6 0h2m2 0h2m17 0h1m20 0h2m5 0h1m2 0h2m15 0h2m3 0h2m2 0h2m5 0h2m43 0h2m8 0h2m2 0h2m153 0h1m18 0h2m6 0h2m3 0h2m27 0h2m17 0h1m20 0h3m12 0h2m42 0h2m45 0h2m53 0h2m36 0h4m35 0h1m8 0h2m19 0h2M164 853.5h2m10 0h2m13 0h2m21 0h2m1 0h2m10 0h2m10 0h1m14 0h4m3 0h2m3 0h2m5 0h2m1 0h4m13 0h2m6 0h2m20 0h2m9 0h2m4 0h2m2 0h2m2 0h2m1 0h3m14 0h2m8 0h1m1 0h1m16 0h2m45 0h2m158 0h2m35 0h2m47 0h1m80 0h2m1 0h1m71 0h2m4 0h1m9 0h2m3 0h1M176 854.5h2m25 0h1m13 0h1m5 0h2m4 0h3m11 0h1m4 0h1m22 0h2m13 0h2m1 0h2m1 0h2m15 0h1m14 0h2m9 0h2m1 0h3m16 0h2m7 0h2m19 0h2m17 0h2m11 0h2m126 0h2m100 0h2m21 0h2m131 0h2m73 0h2M168 855.5h2m40 0h2m37 0h1m4 0h4m3 0h2m18 0h1m3 0h2m5 0h1m1 0h2m8 0h1m5 0h2m13 0h2m15 0h2m28 0h1m39 0h2m29 0h2m54 0h2m12 0h2m51 0h2m44 0h2m261 0h2m32 0h2M156 856.5h2m22 0h2m36 0h2m3 0h2m8 0h2m4 0h2m4 0h2m6 0h2m33 0h1m26 0h2m12 0h2m10 0h1m2 0h1m100 0h2m4 0h2m13 0h1m16 0h2m29 0h2m98 0h1m7 0h2m78 0h2m32 0h2m34 0h2m43 0h1m36 0h2m60 0h2M157 857.5h1m5 0h2m16 0h2m11 0h2m12 0h4m2 0h2m13 0h2m10 0h2m17 0h3m1 0h2m3 0h4m24 0h2m21 0h2m32 0h2m13 0h2m1 0h2m43 0h2m63 0h2m183 0h2m15 0h1m77 0h2m63 0h2M169 858.5h2m20 0h1m12 0h1m9 0h2m5 0h1m2 0h2m12 0h2m1 0h2m1 0h2m7 0h2m9 0h1m1 0h1m6 0h2m2 0h1m10 0h1m8 0h3m8 0h2m2 0h4m2 0h2m52 0h2m142 0h1m16 0h2m28 0h1m19 0h1m58 0h1m21 0h2m1 0h3m3 0h2m119 0h2m32 0h1M166 859.5h2m11 0h2m6 0h4m4 0h2m8 0h2m22 0h2m15 0h2m7 0h2m9 0h2m9 0h2m2 0h2m13 0h2m34 0h2m93 0h2m28 0h2m21 0h2m51 0h2m45 0h2m75 0h2m181 0h1M186 860.5h1m3 0h2m19 0h1m3 0h1m11 0h2m7 0h2m21 0h2m1 0h2m13 0h2m1 0h2m1 0h1m50 0h5m12 0h2m52 0h1m83 0h2m90 0h2m51 0h2m9 0h2m179 0h2m68 0h2M169 861.5h2m23 0h2m19 0h2m18 0h2m2 0h2m9 0h2m6 0h2m1 0h1m2 0h2m2 0h1m60 0h2m11 0h2m5 0h1m7 0h1m3 0h2m15 0h2m10 0h2m67 0h2m18 0h2m100 0h2m29 0h1m45 0h1m66 0h2m75 0h4m38 0h2m42 0h2m16 0h2m14 0h2M161 862.5h2m13 0h1m37 0h2m2 0h2m3 0h2m2 0h2m27 0h2m7 0h2m2 0h3m8 0h2m31 0h2m82 0h2m14 0h2m1 0h2m10 0h2m171 0h2m27 0h2m67 0h1m19 0h2m79 0h2m2 0h2m53 0h2M155 863.5h2m19 0h2m19 0h2m18 0h2m23 0h2m5 0h2m7 0h2m3 0h2m9 0h2m25 0h2m4 0h2m19 0h2m19 0h3m4 0h1m114 0h4m32 0h2m4 0h2m4 0h2m29 0h2m8 0h2m18 0h2m1 0h1m11 0h2m66 0h2m4 0h2m197 0h2m3 0h2M160 864.5h2m8 0h2m44 0h1m22 0h2m18 0h2m1 0h2m23 0h2m4 0h2m1 0h2m36 0h2m48 0h4m5 0h2m82 0h2m109 0h2m56 0h2m37 0h2m120 0h1m17 0h2m10 0h2m69 0h2M156 865.5h4m16 0h2m8 0h2m22 0h2m3 0h2m1 0h2m9 0h1m10 0h2m10 0h2m14 0h3m3 0h2m30 0h2m11 0h2m3 0h2m46 0h2m2 0h2m5 0h2m8 0h2m22 0h2m95 0h2m172 0h2m17 0h2m86 0h1m118 0h1M156 866.5h2m59 0h2m44 0h2m1 0h3m2 0h2m31 0h1m1 0h2m2 0h4m16 0h2m39 0h2m25 0h2m20 0h2m3 0h2m18 0h2m57 0h1m58 0h2m23 0h2m34 0h2m176 0h2M200 867.5h1m9 0h2m20 0h2m3 0h2m5 0h2m2 0h1m22 0h2m22 0h3m19 0h1m4 0h1m1 0h2m26 0h1m56 0h2m13 0h2m21 0h2m5 0h2m23 0h2m113 0h1m27 0h2m26 0h2m25 0h2m37 0h2m62 0h1m11 0h2m55 0h2m29 0h1m28 0h1m8 0h2M158 868.5h4m7 0h2m25 0h4m8 0h2m1 0h2m50 0h2m1 0h2m11 0h2m7 0h1m1 0h2m153 0h2m87 0h2m6 0h2m17 0h2m30 0h2m2 0h2m16 0h1m139 0h2m29 0h2m51 0h2m28 0h2m43 0h2M176 869.5h2m2 0h2m14 0h2m19 0h2m9 0h2m25 0h1m3 0h1m3 0h2m10 0h2m7 0h2m15 0h1m26 0h2m2 0h2m4 0h1m9 0h2m32 0h1m46 0h2m51 0h2m103 0h2m68 0h2m70 0h1m12 0h1m32 0h4m129 0h4M168 870.5h2m47 0h2m124 0h1m19 0h2m17 0h2m55 0h2m58 0h1m13 0h2m13 0h2m41 0h1m43 0h2m40 0h2m114 0h2m34 0h2m48 0h2m46 0h2m2 0h1m9 0h2M180 871.5h2m23 0h2m12 0h2m5 0h2m30 0h2m24 0h1m7 0h2m5 0h2m11 0h1m23 0h2m18 0h1m25 0h2m44 0h2m7 0h2m42 0h2m53 0h2m2 0h2m63 0h2m19 0h1m91 0h2m22 0h2m85 0h2m2 0h1m36 0h2m46 0h2M177 872.5h2m23 0h1m4 0h2m36 0h2m4 0h2m5 0h2m7 0h2m18 0h2m9 0h2m26 0h2m11 0h2m41 0h2m48 0h2m28 0h2m45 0h2m130 0h2m46 0h2m3 0h2m16 0h2m1 0h2m75 0h2m9 0h2m52 0h2m38 0h2M186 873.5h5m27 0h2m8 0h2m10 0h2m24 0h2m1 0h1m15 0h2m28 0h2m49 0h1m3 0h2m36 0h2m68 0h2m39 0h2m240 0h2m9 0h2m12 0h1m57 0h2m22 0h1M165 874.5h2m60 0h1m10 0h1m7 0h2m12 0h3m23 0h2m12 0h2m5 0h2m7 0h2m21 0h2m172 0h2m19 0h1m64 0h2m8 0h2m8 0h2m88 0h2m12 0h1m63 0h1M190 875.5h1m52 0h2m2 0h2m6 0h2m39 0h3m35 0h2m24 0h2m6 0h1m85 0h2m2 0h2m55 0h2m35 0h2m121 0h2m40 0h3m31 0h1m113 0h2m13 0h2m34 0h2M214 876.5h2m33 0h2m12 0h4m19 0h2m7 0h2m27 0h2m40 0h2m54 0h2m123 0h2m25 0h2m26 0h2m163 0h2m66 0h1m38 0h2m25 0h2M161 877.5h1m23 0h2m16 0h2m28 0h2m32 0h2m13 0h2m2 0h2m4 0h2m107 0h2m84 0h2m68 0h2m28 0h1m1 0h2m20 0h1m13 0h2m31 0h2m4 0h1m25 0h2m9 0h2m52 0h2m50 0h1m8 0h2m70 0h1M180 878.5h1m2 0h2m2 0h1m42 0h2m44 0h2m2 0h3m22 0h2m27 0h2m104 0h2m58 0h2m10 0h2m69 0h2m7 0h2m48 0h2m50 0h1m11 0h1m5 0h2m31 0h3m40 0h2m39 0h2m18 0h2M156 879.5h2m8 0h2m36 0h2m20 0h2m28 0h2m11 0h1m20 0h2m63 0h2m42 0h2m8 0h1m1 0h2m12 0h2m21 0h2m29 0h2m23 0h4m23 0h2m104 0h2m6 0h1m98 0h2m72 0h2m9 0h2m14 0h2m4 0h2m30 0h2m9 0h2M154 880.5h1m25 0h2m27 0h1m33 0h2m18 0h2m33 0h2m7 0h2m29 0h2m71 0h1m54 0h2m73 0h2m84 0h2m7 0h2m14 0h2m119 0h2m33 0h2m16 0h1m71 0h2M180 881.5h2m19 0h2m30 0h2m8 0h2m14 0h2m13 0h2m2 0h1m38 0h2m54 0h2m16 0h4m71 0h1m17 0h2m15 0h1m3 0h2m155 0h2m33 0h2m50 0h2m39 0h2m21 0h2m19 0h4M172 882.5h2m54 0h2m13 0h4m12 0h1m5 0h2m10 0h2m8 0h2m14 0h1m6 0h2m15 0h4m1 0h1m39 0h1m11 0h2m3 0h2m8 0h2m120 0h1m58 0h2m40 0h1m2 0h2m67 0h2m22 0h2m65 0h3m52 0h2M213 883.5h1m18 0h4m8 0h4m7 0h2m28 0h2m9 0h2m21 0h2m4 0h2m86 0h1m1 0h2m3 0h2m8 0h2m73 0h2m113 0h2m6 0h1m16 0h2m5 0h2m69 0h2m194 0h2M201 884.5h2m76 0h1m11 0h1m27 0h2m19 0h1m56 0h2m44 0h1m7 0h2m44 0h2m91 0h2m106 0h2m39 0h2m16 0h2m30 0h2m40 0h2m90 0h1M180 885.5h1m22 0h1m23 0h2m24 0h2m2 0h2m9 0h2m7 0h2m16 0h2m12 0h2m34 0h2m12 0h2m2 0h2m35 0h2m32 0h2m48 0h1m128 0h2m37 0h2m2 0h4m112 0h2m86 0h2m32 0h1m3 0h2M163 886.5h2m9 0h2m29 0h2m17 0h2m1 0h1m6 0h2m25 0h2m29 0h1m11 0h2m12 0h2m3 0h2m13 0h2m7 0h2m139 0h2m83 0h2m111 0h2m139 0h1m68 0h2M167 887.5h2m48 0h2m44 0h3m30 0h2m20 0h2m52 0h1m1 0h2m44 0h1m78 0h2m20 0h2m73 0h2m27 0h2m18 0h2m38 0h2m55 0h2m56 0h2m102 0h2m2 0h1m13 0h2M153 888.5h2m6 0h2m5 0h2m10 0h2m45 0h2m11 0h1m7 0h2m2 0h2m40 0h4m29 0h4m14 0h1m22 0h2m11 0h2m23 0h2m6 0h1m50 0h2m26 0h2m16 0h2m58 0h2m52 0h2m4 0h2m12 0h2m1 0h2m50 0h2m78 0h2m39 0h2m78 0h2m7 0h2M196 889.5h2m20 0h2m27 0h2m8 0h2m11 0h1m21 0h4m33 0h2m8 0h1m21 0h2m56 0h1m34 0h2m4 0h2m17 0h1m13 0h3m149 0h3m84 0h2m14 0h2m125 0h2M176 890.5h2m42 0h2m17 0h1m5 0h1m6 0h1m33 0h2m48 0h2m98 0h1m76 0h2m11 0h2m156 0h2m135 0h2m44 0h1M227 891.5h2m33 0h2m5 0h2m41 0h2m16 0h1m50 0h2m219 0h1m18 0h2m66 0h2m59 0h2m75 0h2m14 0h2m68 0h2m3 0h2M180 892.5h1m37 0h2m3 0h1m7 0h2m47 0h1m45 0h1m23 0h2m17 0h1m110 0h2m99 0h2m70 0h1m28 0h1m64 0h1m22 0h1m37 0h2M160 893.5h1m26 0h2m16 0h1m20 0h1m8 0h2m59 0h2m14 0h2m43 0h2m13 0h2m2 0h2m277 0h2m24 0h2m34 0h2m39 0h2m45 0h3m97 0h2M158 894.5h2m74 0h2m13 0h2m3 0h1m9 0h2m28 0h2m13 0h4m28 0h2m87 0h2m96 0h2m16 0h2m107 0h2m48 0h2m25 0h4m163 0h3m7 0h2m11 0h1M162 895.5h1m67 0h2m1 0h2m1 0h2m17 0h2m23 0h2m1 0h2m3 0h2m32 0h1m8 0h2m34 0h2m57 0h2m198 0h2m36 0h2m41 0h2m51 0h2m43 0h2M160 896.5h2m49 0h2m9 0h2m11 0h2m2 0h2m7 0h2m32 0h1m7 0h2m35 0h2m40 0h1m172 0h2m13 0h2m15 0h2m85 0h2m1 0h2m12 0h2m30 0h2m45 0h2m20 0h1m99 0h2M184 897.5h2m31 0h2m5 0h2m1 0h4m23 0h2m17 0h2m1 0h2m18 0h2m11 0h2m102 0h2m1 0h2m59 0h2m28 0h1m45 0h2m78 0h2m125 0h2m13 0h2m111 0h2m27 0h2M181 898.5h2m27 0h2m37 0h2m21 0h1m18 0h4m26 0h1m5 0h2m10 0h2m28 0h1m2 0h2m14 0h2m43 0h2m21 0h2m132 0h2m37 0h2m76 0h2m9 0h2m81 0h2m32 0h2m75 0h2M201 899.5h2m23 0h2m20 0h2m17 0h2m3 0h2m8 0h2m17 0h2m4 0h2m2 0h2m14 0h2m14 0h4m50 0h2m3 0h2m18 0h2m12 0h2m24 0h1m46 0h2m28 0h2m27 0h2m7 0h2m5 0h2m74 0h2m110 0h3m45 0h2m74 0h2M201 900.5h2m11 0h1m2 0h2m16 0h2m77 0h2m5 0h2m23 0h2m11 0h2m38 0h2m2 0h2m23 0h2m51 0h2m29 0h2m115 0h2m143 0h2m99 0h2M199 901.5h2m2 0h1m11 0h2m10 0h1m46 0h2m11 0h1m8 0h2m15 0h2m6 0h2m4 0h2m26 0h1m48 0h1m228 0h2m19 0h2m134 0h2M188 902.5h1m25 0h2m2 0h2m20 0h2m84 0h2m14 0h1m34 0h2m47 0h1m105 0h2m7 0h2m138 0h1m5 0h2m47 0h2M204 903.5h2m28 0h1m6 0h2m12 0h2m16 0h2m1 0h2m19 0h2m80 0h2m60 0h1m8 0h2m37 0h2m38 0h1m66 0h1m18 0h2m166 0h2m17 0h2m99 0h1M224 904.5h2m11 0h2m22 0h1m12 0h2m37 0h1m13 0h2m35 0h1m43 0h2m6 0h2m105 0h1m156 0h2m7 0h2m115 0h2m31 0h2m7 0h2m9 0h2M212 905.5h2m4 0h1m1 0h2m15 0h2m18 0h2m1 0h2m2 0h2m11 0h2m1 0h2m15 0h2m66 0h2m19 0h2m145 0h1m16 0h1m37 0h2m85 0h2m1 0h2m10 0h2m182 0h2M165 906.5h2m28 0h1m4 0h2m27 0h2m4 0h2m6 0h2m12 0h2m54 0h2m22 0h2m19 0h2m23 0h2m5 0h2m16 0h1m16 0h2m12 0h2m41 0h2m31 0h2m67 0h1m8 0h2m118 0h2m3 0h2m50 0h1m127 0h2M199 907.5h2m2 0h2m9 0h2m4 0h2m17 0h2m29 0h2m14 0h2m23 0h3m135 0h1m24 0h2m12 0h2m96 0h2m60 0h2m4 0h1m85 0h2m39 0h2m28 0h2m36 0h2m2 0h2M176 908.5h2m35 0h2m2 0h2m9 0h2m6 0h2m12 0h2m36 0h2m52 0h2m136 0h1m76 0h2m25 0h2m6 0h2m49 0h1m38 0h3m28 0h2m60 0h2m9 0h2m23 0h1m1 0h2M192 909.5h2m44 0h2m31 0h2m4 0h1m28 0h1m25 0h2m24 0h2m26 0h4m36 0h2m13 0h2m34 0h1m38 0h2m9 0h2m30 0h2m69 0h1m152 0h4m8 0h2m5 0h2m48 0h2m31 0h2M213 910.5h2m3 0h2m23 0h4m25 0h2m12 0h2m9 0h1m4 0h2m6 0h3m129 0h1m1 0h2m7 0h1m85 0h2m22 0h2m74 0h1m49 0h3m17 0h2m47 0h2m145 0h1m14 0h2M231 911.5h2m59 0h2m13 0h2m7 0h1m27 0h1m17 0h2m4 0h2m52 0h2m1 0h1m4 0h1m16 0h2m10 0h2m169 0h2m58 0h2m8 0h2m91 0h2m36 0h2m1 0h1m27 0h2m41 0h2m15 0h2M158 912.5h2m26 0h2m40 0h4m12 0h2m42 0h2m11 0h2m21 0h1m12 0h2m17 0h2m3 0h2m44 0h2m2 0h2m29 0h2m25 0h2m312 0h2m27 0h2m88 0h2M182 913.5h2m18 0h2m5 0h2m15 0h2m7 0h1m15 0h2m4 0h1m1 0h2m1 0h1m16 0h2m29 0h2m69 0h2m130 0h2m40 0h2m10 0h1m44 0h2m42 0h1m61 0h2m50 0h1m92 0h2m25 0h2M197 914.5h2m27 0h1m8 0h2m33 0h2m24 0h2m3 0h1m7 0h1m6 0h2m72 0h4m73 0h2m1 0h3m25 0h2m15 0h1m38 0h2m1 0h2m157 0h2m26 0h2m28 0h2m33 0h2m92 0h2M155 915.5h2m18 0h2m16 0h2m11 0h1m27 0h2m12 0h2m25 0h1m19 0h2m23 0h2m39 0h1m8 0h2m58 0h1m1 0h3m34 0h2m37 0h2m165 0h1m17 0h2m44 0h2m167 0h2M163 916.5h2m20 0h2m24 0h2m19 0h2m13 0h2m1 0h2m60 0h1m10 0h1m1 0h2m51 0h2m5 0h2m172 0h2m22 0h2m86 0h1m52 0h2m104 0h1m5 0h2m1 0h2m32 0h2m31 0h2m13 0h1M162 917.5h2m90 0h2m5 0h2m45 0h2m6 0h3m77 0h2m30 0h2m62 0h2m139 0h3m40 0h2m34 0h2m29 0h2m15 0h2m11 0h1M196 918.5h1m15 0h2m15 0h2m10 0h2m7 0h1m37 0h1m8 0h2m5 0h2m2 0h2m40 0h1m63 0h2m13 0h2m56 0h2m319 0h2m40 0h1M189 919.5h2m3 0h2m3 0h2m20 0h1m15 0h2m12 0h2m31 0h2m10 0h2m12 0h1m1 0h2m37 0h2m46 0h1m2 0h2m51 0h1m19 0h2m48 0h2m5 0h2m39 0h2m6 0h2m80 0h2m32 0h2m113 0h2m41 0h2m63 0h2M182 920.5h2m10 0h2m1 0h3m2 0h1m1 0h2m3 0h2m18 0h1m6 0h4m6 0h2m11 0h2m4 0h2m1 0h1m8 0h4m3 0h2m4 0h2m10 0h1m109 0h1m20 0h2m9 0h2m40 0h1m38 0h2m94 0h2m16 0h2m83 0h2m107 0h2m33 0h2m15 0h2M157 921.5h2m22 0h2m36 0h2m2 0h1m13 0h2m3 0h2m17 0h2m40 0h1m35 0h2m27 0h2m53 0h2m8 0h2m33 0h2m54 0h1m293 0h2m68 0h4m23 0h2M165 922.5h2m14 0h2m44 0h2m22 0h2m9 0h2m9 0h2m27 0h1m17 0h2m25 0h2m13 0h2m23 0h2m165 0h2m37 0h1m17 0h2m25 0h2m3 0h1m5 0h2m2 0h2m47 0h2m49 0h2m1 0h2M177 923.5h2m31 0h2m29 0h2m59 0h2m60 0h1m19 0h1m18 0h2m81 0h2m70 0h2m10 0h2m61 0h2m41 0h2m145 0h1M190 924.5h2m5 0h2m4 0h2m12 0h2m26 0h2m18 0h2m1 0h3m28 0h2m7 0h2m17 0h2m3 0h2m14 0h2m43 0h2m33 0h2m131 0h2m57 0h1m79 0h2m2 0h2m78 0h2m18 0h2m4 0h2m13 0h2m15 0h2m4 0h2m58 0h2M174 925.5h1m28 0h2m9 0h2m26 0h2m2 0h2m23 0h1m13 0h2m39 0h2m43 0h2m34 0h1m22 0h3m12 0h1m22 0h3m39 0h1m7 0h1m12 0h1m124 0h2m43 0h1m26 0h4m21 0h2m20 0h2m21 0h3m32 0h2m77 0h1m10 0h2M185 926.5h2m12 0h2m36 0h1m8 0h2m34 0h2m38 0h2m42 0h2m35 0h2m200 0h2m20 0h2m15 0h4m12 0h1m17 0h2m17 0h2m66 0h1m81 0h2m67 0h1M182 927.5h2m10 0h1m1 0h2m64 0h2m22 0h2m20 0h2m63 0h2m65 0h1m186 0h2m7 0h2m42 0h1m45 0h1m72 0h2m39 0h3M156 928.5h2m33 0h1m30 0h2m1 0h2m8 0h2m23 0h2m13 0h2m12 0h1m16 0h2m5 0h2m2 0h2m9 0h2m34 0h1m74 0h2m73 0h2m72 0h2m65 0h2m25 0h1m57 0h1m13 0h1m57 0h2M250 929.5h1m11 0h2m5 0h1m11 0h2m28 0h2m43 0h2m50 0h2m77 0h2m3 0h2m31 0h2m112 0h2m9 0h1m70 0h2m73 0h4m30 0h3m21 0h2m13 0h2M227 930.5h2m12 0h2m12 0h2m25 0h2m8 0h2m38 0h1m36 0h4m151 0h1m66 0h1m19 0h2m103 0h2m36 0h2m58 0h2m10 0h2m36 0h2m54 0h2M256 931.5h2m55 0h2m46 0h1m141 0h2m57 0h2m13 0h2m32 0h2m27 0h4m40 0h2m19 0h2m19 0h1m12 0h2m8 0h2m25 0h2m70 0h2M179 932.5h1m12 0h2m25 0h2m23 0h2m10 0h2m3 0h2m25 0h1m18 0h1m13 0h2m54 0h1m17 0h2m2 0h2m10 0h2m33 0h2m37 0h2m24 0h2m88 0h2m25 0h2m11 0h2m82 0h1m180 0h2M161 933.5h2m32 0h2m28 0h2m12 0h3m37 0h2m4 0h2m154 0h2m159 0h2m24 0h2m49 0h2m40 0h1m4 0h2m151 0h2M164 934.5h2m2 0h2m102 0h2m13 0h2m3 0h2m38 0h2m18 0h2m8 0h2m82 0h2m89 0h1m1 0h2m36 0h2m43 0h2m104 0h1m41 0h1m36 0h2m10 0h2m33 0h2m2 0h2m33 0h2M295 935.5h2m11 0h1m20 0h2m28 0h2m11 0h2m21 0h2m41 0h2m49 0h2m14 0h1m39 0h1m38 0h2m44 0h2m24 0h2m12 0h2m57 0h2m61 0h2m93 0h2M286 936.5h2m38 0h2m5 0h1m57 0h2m10 0h1m51 0h2m46 0h2m9 0h2m7 0h1m100 0h2m135 0h2m17 0h2m126 0h1M178 937.5h2m129 0h2m89 0h1m12 0h2m10 0h2m19 0h2m52 0h2m59 0h4m81 0h1m12 0h2m45 0h1m51 0h4m120 0h2M165 938.5h3m15 0h2m10 0h2m7 0h2m15 0h3m13 0h1m40 0h1m11 0h2m6 0h2m87 0h2m12 0h1m53 0h1m2 0h1m41 0h2m19 0h2m95 0h2m44 0h2m144 0h1m103 0h2" stroke="#f3fbf2" stroke-width="1" fill="none"/>
<path d="M480 584.5h2m194 0h1m193 0h2m50 0h2M395 585.5h2m176 0h1m48 0h2m148 0h2M242 586.5h2M477 587.5h2m46 0h2m325 0h1M207 588.5h2m1 0h2m226 0h1m96 0h2M571 589.5h2m115 0h2M241 590.5h2m158 0h2m68 0h2m444 0h3M277 591.5h2m60 0h2m182 0h2M258 592.5h2m513 0h2m10 0h2M191 593.5h2m17 0h2M156 594.5h2m424 0h2m42 0h2M319 595.5h2m32 0h2m432 0h2m31 0h2M236 597.5h1m183 0h2m30 0h2m32 0h1m4 0h2m135 0h1m51 0h1m92 0h2M173 598.5h2m526 0h2M689 599.5h2m112 0h2m8 0h1M274 600.5h3m156 0h2m23 0h2m212 0h2m108 0h2M507 601.5h2m17 0h2m210 0h2m21 0h2M584 602.5h2m77 0h2m37 0h2m23 0h2m182 0h2M353 603.5h2m403 0h2m71 0h2m7 0h2M170 604.5h2m103 0h2m195 0h2m424 0h2M265 605.5h2m271 0h2m9 0h2m245 0h1M304 606.5h2m8 0h2m138 0h2m17 0h2m275 0h2m22 0h1M470 607.5h1m136 0h2m135 0h2M386 608.5h2m41 0h2m165 0h2m13 0h2m301 0h2M331 609.5h2m377 0h4m112 0h2M325 610.5h2m18 0h2m444 0h2M249 611.5h2m57 0h2m149 0h2m19 0h2M285 612.5h1m486 0h2M713 613.5h2m21 0h2M851 614.5h2M310 615.5h2m55 0h1m53 0h2m433 0h2M281 616.5h2m232 0h1M252 617.5h2m266 0h2m149 0h2m110 0h2m13 0h2M169 618.5h2m474 0h1M208 619.5h2m70 0h2m474 0h1m103 0h2M197 620.5h2m442 0h2m176 0h2m8 0h1M218 621.5h2m163 0h2m285 0h2m39 0h2m29 0h1m134 0h2m37 0h2m4 0h2M213 622.5h2m37 0h2m167 0h2m43 0h2m47 0h2m227 0h2M410 623.5h2m83 0h2m97 0h2m20 0h2m14 0h2M191 624.5h2m261 0h2m196 0h2m198 0h2M199 625.5h1m172 0h2m83 0h2m80 0h2M177 626.5h2m698 0h2M699 627.5h2m32 0h2M327 628.5h2m168 0h2m352 0h2M363 629.5h2m334 0h2m186 0h2m9 0h1M164 630.5h2m214 0h2m104 0h2m393 0h2M429 631.5h2m65 0h2m264 0h2m12 0h2m91 0h2m3 0h2M328 632.5h2m318 0h2M329 633.5h2m200 0h2m104 0h2m10 0h2M339 634.5h2m89 0h2m358 0h2M350 635.5h3m278 0h2m216 0h2M242 636.5h2m205 0h2m16 0h1m124 0h2M154 637.5h2m14 0h1m55 0h2m89 0h2M215 638.5h2m249 0h2m116 0h2m223 0h2m42 0h2M399 640.5h2m46 0h2m6 0h2m74 0h2M406 641.5h2m265 0h2m78 0h2m59 0h2M324 642.5h2m21 0h2m11 0h2m304 0h2m7 0h2M154 644.5h1m121 0h2m138 0h1m337 0h2m147 0h2M233 645.5h2m4 0h2m123 0h2m62 0h2m29 0h1m154 0h2m148 0h2M265 646.5h2m315 0h2M245 647.5h2m421 0h1M175 648.5h2m252 0h2m276 0h2m18 0h2m13 0h2m42 0h2M574 649.5h2m234 0h2m23 0h2M194 650.5h2m150 0h2m101 0h2m123 0h2m110 0h2m17 0h2M578 651.5h2m71 0h2M240 652.5h2m41 0h2m79 0h2m522 0h2M217 653.5h2m549 0h2M245 654.5h2m292 0h2m44 0h1m35 0h1m214 0h2M178 655.5h2m109 0h2m173 0h2m201 0h1m131 0h1M483 656.5h1m180 0h2m250 0h2M267 657.5h2m400 0h2m23 0h1m45 0h2m17 0h2M571 658.5h2m126 0h2M169 659.5h2m207 0h2m7 0h2m53 0h2m92 0h2m198 0h2M228 660.5h2m256 0h2m8 0h2m18 0h2m1 0h2m22 0h2m23 0h2m210 0h1m143 0h1M168 661.5h2m221 0h3m45 0h1m173 0h2m40 0h2m36 0h1m70 0h2m128 0h2m6 0h2M255 662.5h2m200 0h2m268 0h2m13 0h2M346 663.5h2m40 0h2m53 0h2m30 0h1m145 0h2m258 0h2M680 664.5h2m111 0h2M392 665.5h2m3 0h2m59 0h2m150 0h1m71 0h1m20 0h2m96 0h2m115 0h2M225 666.5h2m148 0h2m1 0h2m72 0h2m428 0h2m37 0h2M163 667.5h2m13 0h2m44 0h2m148 0h2m57 0h2m37 0h2m2 0h2m45 0h2m69 0h2m23 0h2m141 0h2m71 0h2m11 0h2M269 668.5h1m151 0h1m121 0h2m45 0h2m36 0h2m127 0h2m33 0h2m85 0h2m13 0h2m12 0h2M193 669.5h2m161 0h2m74 0h1m55 0h2m52 0h2m105 0h2m29 0h2m26 0h2M186 670.5h2m77 0h1m22 0h2m85 0h2m71 0h1m44 0h2m4 0h2m40 0h2m89 0h2m1 0h2m154 0h2m47 0h2m81 0h1M168 671.5h1m15 0h2m44 0h2m4 0h2m1 0h2m184 0h2m195 0h2m7 0h2m92 0h2m8 0h2m56 0h1M364 672.5h2m57 0h2m10 0h2m46 0h2m88 0h2m113 0h2m4 0h2m40 0h2m10 0h2m3 0h2m106 0h2M212 673.5h2m10 0h2m129 0h1m60 0h2m297 0h2m24 0h2m176 0h1M485 674.5h1m23 0h2m84 0h2m45 0h1m68 0h2m35 0h1m25 0h2m127 0h2m7 0h2M310 675.5h2m216 0h1m223 0h2m7 0h2m59 0h2m20 0h2M153 676.5h2m41 0h2m32 0h2m548 0h2m12 0h2m124 0h2M192 677.5h1m21 0h1m144 0h2m41 0h2M370 678.5h2m380 0h1M184 679.5h2m98 0h1m212 0h2m108 0h2m46 0h1M680 680.5h2m27 0h2m4 0h2m56 0h2M330 681.5h2m167 0h2m97 0h2M360 682.5h2m39 0h2m220 0h2M242 683.5h2m13 0h1m492 0h2M261 684.5h2m168 0h2m51 0h2m329 0h2m1 0h2M192 685.5h2m39 0h1m137 0h2m8 0h2m163 0h2M344 686.5h2m151 0h2m71 0h2m6 0h2m218 0h4m29 0h2m48 0h2M281 687.5h2m476 0h2m38 0h2m3 0h2M179 688.5h2m40 0h2m178 0h2m63 0h2m83 0h2m167 0h2M447 689.5h1M328 690.5h2m5 0h2m52 0h2m133 0h1m61 0h2m23 0h2m183 0h2M230 691.5h2m341 0h2m39 0h2m1 0h2m134 0h2M174 692.5h2m59 0h2m429 0h2M366 693.5h2m5 0h2m76 0h2m278 0h3m160 0h2M282 694.5h1m249 0h2m108 0h2m110 0h2M445 695.5h2m207 0h2m249 0h2M153 696.5h2m121 0h1m114 0h2m525 0h2M513 697.5h1m248 0h2M160 698.5h2m39 0h2m378 0h2m76 0h2M365 699.5h2m31 0h2m301 0h1M614 700.5h2m164 0h2M166 701.5h2m405 0h2m287 0h1M389 702.5h2m23 0h2m18 0h1m163 0h2m223 0h2M203 703.5h2m170 0h2m91 0h2m60 0h2m268 0h1m91 0h2M920 704.5h2M226 705.5h2m77 0h2m396 0h2m34 0h2m52 0h2m3 0h2M158 706.5h2m119 0h2m70 0h2m54 0h2m414 0h2m20 0h2M635 708.5h2m242 0h2M255 709.5h2m165 0h2m460 0h2m8 0h2M463 710.5h1m311 0h2m14 0h1m29 0h1m16 0h2m8 0h2M188 711.5h2m187 0h2m208 0h2M437 712.5h2m92 0h2m208 0h2m74 0h2m82 0h2M384 713.5h2m201 0h2M331 714.5h2m221 0h2m202 0h2M327 715.5h2m151 0h2m20 0h2m68 0h2m141 0h1m26 0h2m35 0h1m17 0h2m34 0h2M674 716.5h2M708 717.5h2m41 0h2m41 0h2m54 0h2m27 0h2M153 718.5h1m109 0h2m192 0h2m40 0h2m255 0h2m152 0h2m12 0h1M319 719.5h2m223 0h1m252 0h2M210 720.5h2m271 0h2m275 0h2M631 721.5h2m54 0h2M311 722.5h2m19 0h2m56 0h2m1 0h2m67 0h2M379 723.5h2m138 0h1m11 0h2M339 724.5h2m91 0h2m163 0h2m263 0h2M483 725.5h2m94 0h1m32 0h2m182 0h2m74 0h2m25 0h2M422 726.5h2m152 0h2m22 0h2m128 0h2M418 727.5h2m86 0h2m83 0h2m92 0h2m195 0h1m30 0h2M581 728.5h2m177 0h2m9 0h2M485 729.5h2m79 0h2m128 0h1M570 730.5h2m234 0h1M297 731.5h2m192 0h2m9 0h2m361 0h2M198 732.5h2m566 0h2m128 0h2M198 733.5h2m168 0h1m107 0h2m413 0h1M467 734.5h2m300 0h2m90 0h2M404 735.5h2m307 0h2m102 0h2m18 0h1m15 0h2M565 736.5h1m15 0h2m36 0h2m283 0h2M308 737.5h2m111 0h1m486 0h2M353 738.5h2m151 0h1m27 0h2m86 0h2m114 0h2m25 0h2m13 0h2m50 0h2m29 0h2M246 739.5h1m484 0h2m48 0h1M306 740.5h2m295 0h2m19 0h2m294 0h2M475 741.5h1m60 0h2m261 0h2m93 0h2M435 742.5h2m3 0h1m161 0h2m4 0h2m153 0h2M167 743.5h2m255 0h2m134 0h2m209 0h2m9 0h2m96 0h2M203 744.5h1m171 0h2m75 0h2m170 0h2m125 0h2M157 745.5h1m189 0h2m89 0h2m188 0h2m6 0h2m219 0h1M307 746.5h2m186 0h2m102 0h2m267 0h2M224 747.5h2m124 0h1m183 0h2m46 0h2M405 749.5h2m367 0h2m15 0h2m32 0h2m61 0h2M169 751.5h2m512 0h2m17 0h2m23 0h1m32 0h2m139 0h2M724 752.5h2M452 753.5h2m60 0h2m58 0h2M235 754.5h1m240 0h1m25 0h2m40 0h1M241 755.5h2m342 0h2m180 0h1M182 756.5h2m233 0h2m96 0h2m204 0h2m62 0h2M286 757.5h2m7 0h2m105 0h2m64 0h2M721 758.5h2m134 0h2M390 759.5h2m248 0h2m234 0h2m40 0h2M230 760.5h2m150 0h2m16 0h2m193 0h2M332 761.5h2m441 0h1M249 762.5h2m49 0h1m129 0h2m40 0h2M209 763.5h2m151 0h2m140 0h2m364 0h2m17 0h2m28 0h2M863 764.5h2M525 765.5h2m192 0h2m34 0h2M197 766.5h2m84 0h2m429 0h1m82 0h4m112 0h2M290 767.5h2m301 0h2M792 768.5h2M302 769.5h2m163 0h2m152 0h2m38 0h2M382 770.5h2m15 0h2m239 0h1m131 0h2m21 0h2M486 771.5h2m28 0h2m240 0h2m3 0h2m73 0h2M361 772.5h2m197 0h1m322 0h2M217 773.5h1m522 0h2m2 0h2m17 0h2m68 0h2M338 774.5h2m136 0h2m139 0h2m285 0h2M185 775.5h2m184 0h1m16 0h1M235 776.5h2m104 0h2m97 0h2m25 0h2M481 777.5h2m140 0h2m55 0h2m172 0h2M225 778.5h2m109 0h2m192 0h2m165 0h2m149 0h2m25 0h2M198 779.5h1m348 0h2m56 0h1m113 0h2m12 0h2M389 780.5h2M171 781.5h4m164 0h2m212 0h2m38 0h2m124 0h1m9 0h2M765 782.5h1M350 783.5h2m340 0h2m9 0h2m51 0h2m29 0h2M442 784.5h2m232 0h2m81 0h2m57 0h2M282 785.5h2m436 0h2m73 0h2m27 0h2m6 0h2M343 786.5h2M371 787.5h2m102 0h2m203 0h2m104 0h3m24 0h2m47 0h2m26 0h2M297 789.5h2m57 0h2m52 0h2m16 0h2m18 0h2m61 0h2m122 0h2m40 0h2m22 0h2m55 0h2m21 0h2m83 0h2m49 0h1M866 790.5h2M640 791.5h2m260 0h2M378 792.5h2m76 0h2m122 0h2m36 0h2m65 0h2m78 0h1m28 0h2M270 793.5h2m40 0h2m126 0h2m155 0h2m185 0h2M840 794.5h2m8 0h2M366 795.5h2m217 0h2m201 0h2M324 796.5h2m106 0h1m465 0h1M240 797.5h2m27 0h2m242 0h3m14 0h2m30 0h2M382 798.5h1m300 0h2m143 0h2M165 799.5h2m20 0h2m344 0h2m174 0h2m80 0h2m22 0h2M413 800.5h2m130 0h2m248 0h1M439 801.5h2m261 0h2M373 802.5h1m22 0h2m14 0h2m86 0h2m35 0h2M196 803.5h2m467 0h2m38 0h2m79 0h2m63 0h2M182 804.5h2m20 0h2m52 0h2m15 0h2m207 0h2M299 805.5h2m404 0h2m76 0h2m45 0h2M350 806.5h2M511 807.5h2m255 0h2M252 808.5h2m83 0h1m5 0h2m72 0h2m304 0h2M177 809.5h1m62 0h2m309 0h2m4 0h2m229 0h2M224 810.5h2m48 0h2m43 0h2m10 0h2m187 0h2m64 0h2m16 0h2M164 812.5h1m33 0h2m18 0h2m172 0h2m173 0h2m271 0h2M215 813.5h2m71 0h2m106 0h2m245 0h1m73 0h2m10 0h2m9 0h2M162 814.5h2m52 0h2m54 0h1m110 0h2m96 0h2M292 815.5h2M201 816.5h2m239 0h2m226 0h2M373 817.5h2m16 0h2m105 0h2m361 0h2M501 818.5h2M179 819.5h2m24 0h2m132 0h2m142 0h2m5 0h2m31 0h2m210 0h1M630 820.5h2M277 821.5h2m79 0h2m230 0h2m23 0h2M184 822.5h2m56 0h2m2 0h1m539 0h2M169 823.5h2m46 0h2m10 0h1m2 0h2m15 0h2m58 0h2m78 0h2m15 0h1m156 0h2m173 0h3m130 0h1M193 824.5h2m73 0h1m249 0h2m173 0h2m55 0h2m44 0h2M159 825.5h2m15 0h2m83 0h2m337 0h2m34 0h2M208 826.5h1m232 0h1m196 0h1m47 0h2M227 827.5h1m92 0h2m272 0h2m89 0h2M187 828.5h2m102 0h2m173 0h1m84 0h1m152 0h2m106 0h2m13 0h2m52 0h2M190 829.5h2m79 0h2m7 0h1m496 0h1m96 0h2M245 830.5h1m26 0h2m4 0h2m15 0h1m13 0h2m70 0h2m116 0h2m2 0h2m133 0h2m94 0h2M155 831.5h2m45 0h2m3 0h2m111 0h2m453 0h2m130 0h2M226 832.5h2m64 0h1m80 0h2m68 0h2m100 0h2m191 0h1m176 0h1M208 833.5h2m40 0h2m79 0h2M178 834.5h2m66 0h3m471 0h1m139 0h2m35 0h2M249 835.5h2m13 0h2m64 0h2m2 0h2m127 0h3m1 0h2m285 0h2M175 836.5h2m81 0h2m107 0h2m384 0h2M199 837.5h2m2 0h2m65 0h2m36 0h2m39 0h2m345 0h1m53 0h2M210 838.5h2m5 0h2m27 0h2m93 0h2m323 0h2m94 0h2m138 0h2M175 839.5h2m16 0h3m28 0h2m78 0h2m37 0h2M176 840.5h1m133 0h2m7 0h1m45 0h1m305 0h2M197 841.5h1m42 0h2m55 0h2m205 0h2m13 0h2m34 0h2m36 0h2m65 0h2m127 0h1m42 0h2m22 0h2M187 842.5h2m10 0h3m118 0h2m90 0h2m253 0h2m102 0h2M182 843.5h2m8 0h1m26 0h2m16 0h2m16 0h2m46 0h2m50 0h2m483 0h2m10 0h2m63 0h2M161 844.5h2m23 0h2m45 0h2m36 0h2m13 0h2m17 0h2m332 0h2M181 845.5h2m1 0h2m124 0h2m12 0h2m9 0h1m181 0h2m88 0h2M213 846.5h2m14 0h2m80 0h1m121 0h2m272 0h2m80 0h1M153 847.5h2m47 0h2m116 0h3m329 0h2M168 848.5h2m12 0h1m69 0h2m13 0h2m5 0h3m84 0h2m18 0h2m221 0h2m136 0h2m93 0h2M185 849.5h2m72 0h2m72 0h2m17 0h1m13 0h2m148 0h2m60 0h2m54 0h2M299 850.5h2m9 0h1m76 0h2m327 0h2M334 851.5h2m249 0h2m28 0h2m296 0h2M180 852.5h2m26 0h2m82 0h2m33 0h2m284 0h1m91 0h2M205 853.5h2m1 0h2m287 0h2m105 0h2m39 0h2M172 854.5h2m28 0h1m13 0h1m82 0h2m6 0h2m158 0h2m37 0h2m27 0h2m216 0h2m148 0h2M291 855.5h1m9 0h2m43 0h2m2 0h2m105 0h2m138 0h2M187 856.5h2m7 0h2m14 0h2m77 0h2m257 0h2m37 0h2m22 0h1m202 0h1m20 0h2m58 0h2M205 857.5h2m30 0h2m16 0h2m2 0h1m662 0h2M205 858.5h2m40 0h2m16 0h1m240 0h2m54 0h1m19 0h1m58 0h1m62 0h2m5 0h2M212 859.5h2m6 0h2m91 0h2m84 0h2m177 0h2m32 0h2m237 0h2M193 860.5h2m6 0h2m87 0h2m333 0h2m124 0h2m87 0h2M247 861.5h2m13 0h2m21 0h2m13 0h2m2 0h2m50 0h1M175 862.5h1m3 0h2m182 0h2m169 0h2m214 0h2M223 863.5h2m7 0h2m97 0h2m368 0h2M174 864.5h2m32 0h2m54 0h2m25 0h2m417 0h2M226 865.5h3m35 0h2m35 0h2m35 0h2M208 866.5h2m78 0h2m213 0h1m185 0h2M249 867.5h2m100 0h1m211 0h2m30 0h2m282 0h1M180 868.5h2m19 0h2m69 0h2m13 0h1m6 0h2m99 0h2m57 0h2M222 869.5h2m15 0h2m12 0h2m1 0h2m83 0h2m575 0h2M301 870.5h2m267 0h1m189 0h2m80 0h2M201 871.5h2m61 0h2m47 0h2m9 0h2m31 0h2m244 0h2m31 0h2m63 0h2m129 0h1M164 872.5h2m8 0h2m71 0h2m136 0h2m12 0h2m370 0h2m113 0h2M226 873.5h2m42 0h2m35 0h2m56 0h1m51 0h2m30 0h2M239 874.5h2m195 0h2m149 0h2m197 0h1m111 0h2M231 875.5h2m134 0h1m452 0h2M853 876.5h2M188 877.5h2m420 0h1M197 878.5h2m7 0h2m497 0h1M813 879.5h2M266 880.5h2m117 0h2m73 0h2M279 881.5h2m160 0h2m30 0h2m7 0h2m18 0h2m328 0h2m86 0h2M371 882.5h1m96 0h2m41 0h2m305 0h2M172 883.5h2m76 0h2m8 0h2m491 0h2m4 0h2M233 884.5h2m40 0h2m15 0h2m30 0h2m62 0h2m142 0h2m106 0h2M175 885.5h2m36 0h2m10 0h2m477 0h2m31 0h2m154 0h1m22 0h2M258 886.5h2m31 0h1m188 0h2m344 0h1M261 887.5h2m315 0h2M239 888.5h1m107 0h2m66 0h2m443 0h2M184 889.5h2m83 0h1m101 0h2m105 0h1m249 0h2m50 0h2M439 890.5h2m377 0h2m65 0h2m4 0h2M289 891.5h2m65 0h2m124 0h2m7 0h2m59 0h2M177 892.5h2m327 0h2m173 0h1m87 0h1m109 0h2M159 893.5h1m723 0h2M185 894.5h2m85 0h2m7 0h2m43 0h2m310 0h2m42 0h2m126 0h2m38 0h2M370 895.5h2m16 0h2M244 896.5h2m18 0h2m17 0h2m27 0h2M196 897.5h2m406 0h2m32 0h2m138 0h2M161 898.5h2m334 0h2m59 0h2m225 0h2m106 0h2M252 899.5h2m86 0h2m527 0h2M226 900.5h2m2 0h2M202 901.5h1m291 0h2M320 902.5h2m96 0h2m145 0h2m145 0h2M218 903.5h2m16 0h2m48 0h2m17 0h2m280 0h2m6 0h1m7 0h2m162 0h2m125 0h2M207 904.5h2m62 0h2M290 905.5h2m194 0h2m42 0h2m97 0h2m179 0h2M260 906.5h2m26 0h2m217 0h2M353 907.5h2m164 0h2m103 0h2m65 0h2M211 908.5h2m20 0h2m426 0h2m81 0h2m112 0h2M230 909.5h2M274 910.5h2m76 0h2m283 0h2m44 0h2m3 0h1M176 911.5h2m39 0h2m44 0h2m50 0h1m72 0h2m26 0h2m6 0h1m229 0h2M509 912.5h2m3 0h2m194 0h2M242 913.5h2m20 0h2m396 0h2m105 0h1M193 914.5h2m48 0h2m55 0h1m9 0h2m202 0h1m116 0h2m266 0h2M274 915.5h1m320 0h2M311 916.5h1m23 0h2m556 0h2m25 0h1M276 917.5h2m37 0h1m589 0h2M174 918.5h2m152 0h2m61 0h2m366 0h2m67 0h2m10 0h2m7 0h1M216 919.5h2m54 0h2m89 0h2m411 0h2m61 0h2m10 0h2M292 920.5h2m7 0h1m79 0h2m294 0h2m66 0h2M200 921.5h2m45 0h2m40 0h2m11 0h1m355 0h2m15 0h2M197 922.5h2m442 0h2m8 0h2m114 0h2M193 923.5h2m37 0h2m258 0h2m98 0h2m254 0h2M192 924.5h2m48 0h2m79 0h2m309 0h2M171 925.5h2m76 0h2m146 0h2m7 0h1M183 926.5h2m63 0h2m139 0h2m74 0h2m197 0h2M439 927.5h1m223 0h2m32 0h2m191 0h2m3 0h2M526 928.5h2m99 0h2m52 0h1m57 0h1m137 0h2M215 929.5h2m176 0h2m254 0h1m130 0h2M161 930.5h2m43 0h2m66 0h2m37 0h2m118 0h2M273 931.5h2M180 932.5h2m4 0h2m599 0h2M414 933.5h2m182 0h2m233 0h2m36 0h2M218 934.5h2m37 0h2M273 936.5h2m252 0h2m228 0h2m140 0h2M280 937.5h2m129 0h2m278 0h2m47 0h2m6 0h2m38 0h2M267 938.5h2m82 0h2m172 0h2m282 0h1m59 0h2" stroke="#e0f6da" stroke-width="1" fill="none"/>
<rect x="864" y="583" width="1.2" height="356" fill="#88f070" opacity="0.18"/>
<rect x="153" y="852.5" width="772" height="1" fill="#88f070" opacity="0.4"/>
<rect x="153" y="664" width="772" height="11" fill="#88f070" opacity="0.15"/>
<rect x="153" y="665" width="772" height="9" fill="#88f070" opacity="0.35"/>
<rect x="153" y="666" width="772" height="7" fill="#88f070" opacity="0.6"/>
<rect x="153" y="667" width="772" height="5" fill="#88f070"/>
<path d="M772 598.5h1M774 601.5h1M773 602.5h1m3 0h1M776 604.5h1m14 0h1M699 605.5h2m18 0h2m62 0h1m8 0h2M706 606.5h2m8 0h2m72 0h2M782 607.5h1m1 0h1m4 0h1m2 0h1M692 608.5h2m104 0h1m1 0h2m2 0h1m1 0h1m2 0h1M810 609.5h1M713 610.5h2m82 0h2m1 0h1m1 0h1m1 0h1m1 0h1m1 0h1m2 0h1m4 0h2m5 0h1m4 0h1M716 611.5h1m6 0h2m85 0h1m9 0h2M717 612.5h2m14 0h2m76 0h1m5 0h1m4 0h2m17 0h1m1 0h1M648 613.5h1m1 0h1m30 0h2m1 0h1m12 0h1m21 0h2m1 0h4m89 0h1M651 614.5h1m1 0h1m23 0h1m2 0h1m6 0h2m5 0h1m2 0h1m116 0h1M648 615.5h1m1 0h1m3 0h5m2 0h1m10 0h4m3 0h1m1 0h1m2 0h1m5 0h1m2 0h1m19 0h2M651 616.5h2m29 0h1m2 0h1m1 0h2m2 0h1m7 0h1m16 0h2m14 0h4M654 617.5h2m1 0h1m2 0h3m9 0h1m1 0h3m12 0h1m2 0h2M658 618.5h1m35 0h1m29 0h2M750 619.5h2M741 621.5h2m1 0h2M723 622.5h2m12 0h2M723 623.5h2M800 643.5h2M743 646.5h2M785 647.5h2m15 0h2M773 650.5h2m1 0h2m8 0h2m5 0h2M778 651.5h2m4 0h1m30 0h2M780 652.5h1m1 0h1m29 0h3m3 0h2M790 653.5h1m25 0h1m2 0h1m1 0h2M776 654.5h1m9 0h2m3 0h3m19 0h2m10 0h2M769 655.5h2m7 0h1m4 0h2m43 0h2m9 0h2M780 656.5h1m12 0h1m3 0h3m48 0h2M801 657.5h3m15 0h1m15 0h2M774 658.5h2m9 0h2m2 0h1m17 0h3m12 0h1m3 0h2m13 0h2M790 659.5h1m19 0h2m1 0h2m1 0h1m27 0h2M808 660.5h4m10 0h1m11 0h1M664 661.5h2m125 0h1m18 0h2m4 0h2m8 0h1m4 0h1m1 0h1m3 0h2m18 0h2m8 0h2m27 0h2M641 662.5h2m10 0h2m21 0h2m114 0h1m3 0h3m1 0h1m9 0h2m3 0h1m13 0h2m1 0h1m6 0h1m1 0h3m9 0h2m5 0h2m6 0h2m10 0h2M641 663.5h2m23 0h2m127 0h1m5 0h2m10 0h2m25 0h1m1 0h1m3 0h1m2 0h1m17 0h2m3 0h2m5 0h2m9 0h2m7 0h2m1 0h2m20 0h1M643 664.5h4m150 0h2m44 0h1m6 0h2m1 0h2m13 0h1m24 0h2m8 0h1m2 0h2m5 0h3m8 0h1M632 665.5h2m3 0h2m20 0h2m2 0h2m1 0h2m16 0h2m147 0h1m2 0h1m1 0h1m16 0h1m37 0h1m17 0h2m1 0h2m5 0h2m1 0h1M638 666.5h2m17 0h2m6 0h2m1 0h2m12 0h2m3 0h2m119 0h1m10 0h2m1 0h1m9 0h1m23 0h1m12 0h2m7 0h2m1 0h2m21 0h2m4 0h2m2 0h2m2 0h2M644 673.5h2m16 0h1m55 0h2m2 0h2m4 0h2M709 674.5h1m1 0h1m2 0h2m8 0h1m128 0h2M712 675.5h2M716 676.5h2m8 0h2m5 0h2M717 677.5h3m19 0h2M711 678.5h2m11 0h1M724 679.5h1M737 680.5h2M725 681.5h4M714 682.5h2m11 0h2M734 683.5h2M732 686.5h2M778 758.5h1m1 0h1M776 759.5h1M778 760.5h2M776 761.5h1m4 0h1m2 0h1M785 762.5h2M784 763.5h1M803 771.5h1M802 772.5h1M798 773.5h1m8 0h1m3 0h1m1 0h2M809 774.5h2m1 0h1m3 0h1m5 0h3M808 775.5h1m2 0h1m2 0h1m5 0h2m7 0h3m1 0h4m7 0h1m1 0h1m41 0h2M809 776.5h2m2 0h1m1 0h2m2 0h1m2 0h1m1 0h2m11 0h1m5 0h1m19 0h3m19 0h1m20 0h1M807 777.5h1m10 0h1m2 0h1m7 0h1m1 0h1m2 0h1m4 0h1m5 0h2m2 0h3m7 0h1m6 0h1m3 0h1m9 0h1m2 0h2m3 0h2m14 0h2m2 0h1M820 778.5h1m11 0h1m3 0h1m1 0h1m13 0h1m3 0h1m1 0h1m5 0h1m3 0h1m2 0h1m1 0h1m3 0h2m6 0h2m14 0h1m4 0h1m2 0h1m2 0h1M839 779.5h1m10 0h1m4 0h1m3 0h1m6 0h2m1 0h2m4 0h2m4 0h1m1 0h1m16 0h1m3 0h2m1 0h2m5 0h1M849 780.5h1m2 0h1m5 0h1m9 0h1m2 0h1m5 0h4m22 0h1m5 0h3m1 0h1M646 781.5h1m206 0h1m20 0h3m21 0h1m2 0h1M642 782.5h4m2 0h2m44 0h1m6 0h1m152 0h2M646 783.5h1m48 0h3m1 0h1m2 0h2M643 784.5h1m4 0h3m43 0h1M695 785.5h9M709 786.5h1M722 791.5h1M777 809.5h2M800 815.5h2M775 817.5h2M771 818.5h2M787 819.5h2m19 0h2M777 820.5h2m7 0h2m6 0h2M766 821.5h2m10 0h2m13 0h2m8 0h2M761 822.5h2m8 0h2m19 0h2m3 0h2m6 0h2M756 823.5h2m31 0h2M769 824.5h2m14 0h1m5 0h2m8 0h2M763 825.5h2m44 0h2m7 0h2M777 826.5h2m1 0h2m1 0h2m22 0h2m6 0h2M766 827.5h2m14 0h1m3 0h1m14 0h2m11 0h4M777 828.5h2m1 0h2m8 0h2m13 0h2M775 829.5h3m9 0h1m5 0h3m11 0h2m8 0h2m4 0h2M813 830.5h2m1 0h3m2 0h2M774 831.5h1m7 0h1m2 0h1m10 0h3m5 0h2m1 0h2m35 0h2M781 832.5h1m1 0h2m15 0h2m22 0h2M768 833.5h2m6 0h1m1 0h1m2 0h2m3 0h1m5 0h1m37 0h2m1 0h2M787 834.5h1m11 0h2m22 0h2m2 0h2m3 0h2m3 0h2M773 835.5h2m5 0h2m1 0h2m12 0h2m20 0h2M779 836.5h2m6 0h1m12 0h1m12 0h4m1 0h2m15 0h2M788 837.5h1m13 0h1m4 0h2m32 0h2m4 0h2m3 0h2M789 838.5h1m16 0h2m4 0h2m8 0h1m9 0h2m9 0h2M826 839.5h2M816 840.5h2m10 0h1m7 0h4m14 0h2M792 841.5h1m38 0h1m52 0h2M795 842.5h1m19 0h1m9 0h1m8 0h1m14 0h2m35 0h1M797 843.5h1m38 0h1m6 0h2m19 0h4m19 0h2M840 844.5h1m1 0h2m2 0h1m11 0h1m3 0h1m5 0h1M799 845.5h1m42 0h1m1 0h1m12 0h1m2 0h1m11 0h1m8 0h1m8 0h1M802 846.5h1m3 0h1m40 0h2m1 0h1m4 0h1m1 0h1m14 0h2m20 0h2m2 0h1m7 0h1m1 0h2M803 847.5h2m3 0h1m42 0h1m1 0h1m26 0h1m4 0h1m10 0h1m1 0h2m6 0h1m3 0h1m4 0h1M854 848.5h1m19 0h1m4 0h1m5 0h1m2 0h1m8 0h1m4 0h1m2 0h1m7 0h2m5 0h1M813 849.5h1m13 0h1m36 0h3m8 0h1m3 0h1m10 0h2m12 0h1m11 0h1m1 0h2M811 850.5h2m12 0h1m6 0h1m45 0h1m5 0h1m24 0h1m7 0h1M827 851.5h2m15 0h1m15 0h1m6 0h2m2 0h1m5 0h2m5 0h1m7 0h1m1 0h1m4 0h1m10 0h1M838 852.5h1m7 0h2m1 0h1m5 0h1m3 0h1m9 0h1m25 0h1m1 0h2m4 0h1m1 0h1m2 0h1m4 0h1M852 853.5h2m4 0h1m23 0h1m13 0h1m1 0h1m1 0h2m13 0h1M850 854.5h1m1 0h1m1 0h1m60 0h1m6 0h2M842 855.5h2m32 0h1M859 859.5h2M783 866.5h2M796 872.5h2M768 876.5h2m6 0h2m15 0h2M780 877.5h2m17 0h2M792 878.5h2M791 879.5h4m4 0h2M790 880.5h2m3 0h2M791 881.5h2m7 0h2m3 0h2M781 882.5h3m22 0h2M793 883.5h2m13 0h4M790 884.5h1m26 0h2m4 0h2M784 885.5h1m1 0h2m3 0h2m5 0h2m21 0h2M779 886.5h1m2 0h1m4 0h1m3 0h1m8 0h2m16 0h2m3 0h2M788 887.5h1m19 0h2M784 888.5h2m3 0h1m3 0h1m30 0h2m9 0h2M789 889.5h1m5 0h1m1 0h2m25 0h2M787 890.5h2m7 0h1m26 0h2m3 0h2M786 891.5h2m2 0h2m26 0h1m11 0h2m7 0h2M789 892.5h2m14 0h2m11 0h3M802 893.5h1m4 0h1m1 0h2m6 0h1m4 0h2M805 894.5h1m2 0h1m3 0h4m22 0h2M795 895.5h1m29 0h2m22 0h2M796 896.5h1m22 0h2m16 0h2M821 897.5h4m1 0h2m5 0h1m3 0h1M799 898.5h1m86 0h1m3 0h1m1 0h1M806 899.5h1m2 0h1m29 0h5m5 0h1m2 0h3m1 0h1m1 0h2m2 0h1m2 0h1m2 0h2m15 0h1m21 0h1M845 900.5h1m1 0h2m1 0h1m38 0h1m5 0h1m2 0h1m1 0h3m1 0h1m1 0h1m4 0h2m2 0h1M815 901.5h5m17 0h1m34 0h1m10 0h1m21 0h1m4 0h1m5 0h1m1 0h2M813 902.5h1m5 0h1m5 0h1m3 0h1m2 0h2m2 0h1m1 0h1m5 0h1m10 0h1m7 0h1m18 0h1m4 0h1m4 0h1m30 0h1M810 903.5h2m11 0h1m3 0h1m3 0h1m7 0h2m10 0h1m1 0h2m3 0h1m5 0h2m1 0h3m6 0h2m3 0h1m3 0h2m3 0h1m3 0h1m1 0h1m10 0h1M837 904.5h2m6 0h1m1 0h3m7 0h1m12 0h1m7 0h2m19 0h1m1 0h4m1 0h1m1 0h1m2 0h1M872 905.5h1m11 0h1m25 0h1m6 0h3M835 906.5h2m36 0h1m46 0h1m1 0h2M876 907.5h1m5 0h1m41 0h1M877 908.5h1m1 0h1" stroke="#e8f8e0" stroke-width="1" fill="none"/>
<path d="M769 597.5h1M773 600.5h1M774 603.5h1M789 605.5h1M794 606.5h1M795 607.5h1M807 608.5h1M805 609.5h1M715 610.5h2m84 0h1m24 0h1m16 0h3M712 611.5h1m99 0h1m27 0h1M712 612.5h2m1 0h1m3 0h1m119 0h1M649 613.5h1m49 0h1m112 0h1M652 614.5h1m7 0h1m17 0h1m10 0h1m9 0h1m17 0h2m6 0h1m2 0h2m1 0h2M649 615.5h1m12 0h1m8 0h1m4 0h1m15 0h1m2 0h2m2 0h1m20 0h1m3 0h2M678 616.5h1M656 617.5h1m14 0h1m1 0h1m20 0h2m32 0h1m1 0h2M691 618.5h1m5 0h1m1 0h1m31 0h2M776 651.5h2m7 0h3M779 652.5h1m1 0h1m2 0h1m3 0h1m18 0h2M780 653.5h1m4 0h2m9 0h2m14 0h1M779 654.5h1m1 0h1m1 0h1m21 0h2m9 0h2m1 0h1M780 655.5h1m1 0h1m18 0h2m2 0h2m4 0h2m6 0h1M788 656.5h1m3 0h1m19 0h2M789 657.5h1m3 0h5m7 0h3m1 0h2M801 658.5h1m1 0h2m1 0h1m16 0h2M807 659.5h1m9 0h2M813 660.5h2m4 0h1m3 0h1M793 661.5h1m2 0h1m2 0h2m7 0h1m9 0h1m1 0h1m13 0h1m6 0h3m5 0h2M795 662.5h1m7 0h3m3 0h1m7 0h1m3 0h1m2 0h2m1 0h1m5 0h1M806 663.5h1m8 0h1m12 0h2m14 0h1M661 664.5h2m144 0h1m4 0h2m24 0h1m1 0h1m1 0h1m5 0h1m3 0h1m16 0h2m10 0h3m6 0h2m12 0h2M642 665.5h2m11 0h2m15 0h2m134 0h1m10 0h2m16 0h1m5 0h1m6 0h1m16 0h2m34 0h2M654 666.5h2m18 0h2m133 0h1m8 0h1m2 0h1m1 0h2m1 0h1m12 0h1m1 0h1m3 0h1m2 0h1m46 0h4M663 673.5h2m3 0h2m38 0h1m5 0h1M665 674.5h2m43 0h1m12 0h1M714 675.5h2m5 0h1m3 0h1M718 676.5h1m1 0h2M722 677.5h2M722 678.5h2m4 0h1M725 679.5h1M726 680.5h1m1 0h1M779 758.5h1M777 759.5h1m3 0h1m2 0h1M783 760.5h1m1 0h2M777 761.5h1m2 0h1M782 762.5h2M787 763.5h1M786 764.5h1m1 0h1M787 765.5h1m1 0h1M788 766.5h1m1 0h1M793 768.5h1m1 0h1M790 769.5h1m3 0h1m1 0h2M794 771.5h4m2 0h1M803 772.5h1M804 773.5h2m9 0h1M801 774.5h2m3 0h1m10 0h2m6 0h2M803 775.5h2m42 0h1m39 0h1M812 776.5h1m4 0h1m5 0h1m2 0h1m11 0h1m9 0h1m37 0h1M808 777.5h1m18 0h1m2 0h1m2 0h1m1 0h1m5 0h2m1 0h1m2 0h1m13 0h1m7 0h1m12 0h1m4 0h1m19 0h1m2 0h1M819 778.5h1m17 0h1m5 0h1m4 0h1m4 0h1m3 0h1m7 0h1m6 0h1m1 0h1m27 0h2m9 0h1M842 779.5h1m8 0h1m8 0h3m19 0h1m1 0h1m13 0h2M854 780.5h1m1 0h2m14 0h2m28 0h1m9 0h1M899 781.5h1M647 782.5h1m2 0h1M651 783.5h2m47 0h1M644 784.5h1m2 0h1m56 0h1M642 785.5h1m9 0h1M708 786.5h1m1 0h1M711 787.5h1M713 789.5h2m1 0h1M717 790.5h3M719 791.5h2M721 792.5h1M782 823.5h2M782 824.5h3M802 825.5h2M804 827.5h2m4 0h2M779 828.5h1m5 0h2m11 0h2m10 0h2M778 829.5h1m2 0h1m2 0h1m3 0h1m21 0h2M775 830.5h1m1 0h1m5 0h3m3 0h1M773 831.5h1m7 0h1m8 0h1m8 0h2m11 0h2M774 832.5h1m4 0h2m10 0h2m2 0h1m25 0h2M649 833.5h1m127 0h1m15 0h2M775 834.5h1m25 0h2m15 0h1m1 0h3M807 835.5h2M825 836.5h2M649 837.5h1m149 0h1m1 0h1m1 0h2M648 838.5h1m150 0h1m2 0h1m5 0h2m7 0h3m3 0h2m3 0h2M638 839.5h1m9 0h1m141 0h1m13 0h5M643 840.5h1m5 0h1m142 0h1m17 0h4m8 0h2M638 841.5h1m4 0h1m4 0h2m144 0h1m17 0h2m4 0h2m7 0h1m1 0h2m1 0h2m2 0h2M637 842.5h2m4 0h1m4 0h2m143 0h1m2 0h1m17 0h1m3 0h2m10 0h1m53 0h2M638 843.5h1m4 0h1m4 0h2m165 0h3m5 0h3m9 0h1m1 0h1M637 844.5h2m9 0h2m148 0h1m1 0h1m16 0h2m2 0h2m13 0h1m1 0h1m2 0h1m19 0h1m1 0h1m2 0h1m15 0h1m1 0h1m4 0h1M637 845.5h2m9 0h1m157 0h1m13 0h1m25 0h1m11 0h2m8 0h4m10 0h1m8 0h1M637 846.5h2m9 0h2m153 0h1m40 0h2m10 0h1m2 0h2m20 0h1m2 0h3m5 0h1M641 847.5h1m163 0h1m1 0h1m44 0h1m20 0h1m7 0h1m5 0h1m7 0h1m11 0h2m2 0h2M639 848.5h4m1 0h3m3 0h1m158 0h3m53 0h2m13 0h1m3 0h1m4 0h1m6 0h1m3 0h1m2 0h1m6 0h1m4 0h1M631 849.5h4m10 0h2m3 0h3m159 0h1m2 0h1m9 0h1m5 0h3m20 0h1m29 0h1m16 0h2m10 0h1m6 0h3M629 850.5h4m18 0h4m159 0h2m10 0h1m1 0h3m3 0h1m1 0h1m7 0h1m15 0h4m3 0h2m6 0h1m3 0h1m3 0h1m8 0h2m10 0h1m5 0h1m5 0h1m1 0h1m4 0h2M626 851.5h4m23 0h5m165 0h2m10 0h2m9 0h2m1 0h1m9 0h1m9 0h2m5 0h1m6 0h1m21 0h3m4 0h1m1 0h1M621 852.5h1m2 0h1m2 0h1m1 0h1m24 0h6m2 0h1m153 0h2m1 0h1m1 0h2m14 0h1m2 0h2m3 0h1m2 0h1m7 0h3m13 0h1m5 0h1m2 0h2m13 0h1m3 0h1m3 0h1m9 0h1M621 853.5h8m28 0h1m1 0h5m154 0h1m1 0h1m21 0h1m7 0h2m21 0h1m5 0h1m22 0h1m1 0h1m11 0h1m2 0h3m1 0h1M625 854.5h1m1 0h3m25 0h5m4 0h1m209 0h2m6 0h1m34 0h1m6 0h1M625 855.5h5m24 0h3M628 856.5h4m21 0h2m222 0h3M629 857.5h5m16 0h4m1 0h1M632 858.5h5m2 0h3m3 0h3M639 859.5h1m2 0h1m2 0h1M638 860.5h1M637 861.5h2M637 862.5h1m11 0h1M637 863.5h2m9 0h2M637 864.5h2m4 0h1m4 0h2M637 865.5h2m4 0h1m4 0h2M638 866.5h1m4 0h1m4 0h2M637 867.5h1m5 0h1m4 0h1M648 868.5h2M648 869.5h1M637 870.5h1m10 0h2M648 872.5h1M648 875.5h1M648 877.5h1M648 879.5h1M794 881.5h2m2 0h2M785 882.5h2M779 883.5h2m1 0h2m5 0h1M784 884.5h2m1 0h1m1 0h1m22 0h2M779 885.5h3m1 0h1m4 0h1m7 0h2m3 0h2M790 886.5h1m3 0h2M792 887.5h1m25 0h2M790 888.5h1M822 889.5h2M791 890.5h1m3 0h1m7 0h3m9 0h1M796 891.5h1M791 892.5h1m5 0h1m2 0h2m1 0h2M793 893.5h1m6 0h1m2 0h2m7 0h2m1 0h2M806 894.5h1m20 0h2M808 895.5h5m5 0h2M798 896.5h1m13 0h1m4 0h1M800 897.5h1m2 0h1m9 0h3m2 0h2m9 0h1m2 0h1m1 0h1M801 898.5h2m1 0h1m2 0h1m3 0h1m3 0h1m4 0h2m1 0h3m1 0h2m1 0h2m3 0h2m1 0h1M810 899.5h2m48 0h2m2 0h1m2 0h1m23 0h1m7 0h1M812 900.5h1m4 0h1m19 0h1m3 0h4m1 0h1m5 0h2m1 0h1m3 0h1m3 0h1m2 0h1m20 0h2m4 0h2m1 0h2m9 0h1m1 0h1M662 901.5h4m147 0h2m11 0h1m5 0h1m1 0h1m10 0h1m1 0h1m2 0h1m20 0h1m12 0h1m7 0h1m8 0h2m9 0h4M629 902.5h2m1 0h1m5 0h2m17 0h1m1 0h1m7 0h1m152 0h1m2 0h2m3 0h1m2 0h1m9 0h1m4 0h1m5 0h1m6 0h1m2 0h1m11 0h1m10 0h2m1 0h2m3 0h1m1 0h4m6 0h1m4 0h1m9 0h1M628 903.5h1m5 0h2m4 0h1m1 0h1m8 0h1m1 0h2m13 0h5m174 0h2m1 0h1m9 0h2m8 0h1m2 0h1m28 0h2m8 0h3m9 0h1M625 904.5h2m19 0h1m1 0h2m221 0h2m2 0h1m33 0h2m4 0h1m1 0h2M625 905.5h1m49 0h2m196 0h1m47 0h1m1 0h1M626 906.5h1m35 0h2m1 0h1m9 0h1m198 0h1m7 0h1M627 907.5h1m1 0h1m1 0h1m2 0h1m1 0h1m18 0h1m1 0h1m9 0h1m8 0h1m202 0h1m1 0h1M638 908.5h1m3 0h1m9 0h3m15 0h2m3 0h1m204 0h1M646 909.5h2m1 0h1M645 910.5h1" stroke="#c8f4b8" stroke-width="1" fill="none"/>
<path d="M770 598.5h1M771 599.5h2M772 600.5h1M775 603.5h3M778 604.5h1M779 605.5h2m9 0h1M780 606.5h10m2 0h2M796 608.5h1M797 609.5h4m1 0h2m2 0h1m1 0h2m17 0h2M711 611.5h1m1 0h1m5 0h1m91 0h1m5 0h2m3 0h1m1 0h3m14 0h3M714 612.5h1m1 0h1m3 0h2m91 0h1m1 0h2m1 0h4m15 0h2M716 613.5h3m2 0h1m92 0h1m19 0h3M650 614.5h1m31 0h3m36 0h4M653 615.5h1m23 0h1m2 0h1m1 0h1m2 0h3m6 0h1m2 0h1m23 0h2m3 0h3M655 616.5h1m1 0h3m14 0h2m3 0h2m9 0h1m34 0h2m2 0h1M658 617.5h1m32 0h1m5 0h1m1 0h1m32 0h1M696 618.5h1m36 0h3M778 652.5h1m4 0h1m5 0h1m25 0h3M776 653.5h1m4 0h2m4 0h1m25 0h2m2 0h2M778 654.5h1m5 0h1m5 0h1M788 655.5h1m2 0h1M817 656.5h4M798 657.5h3m12 0h2m2 0h2m1 0h1M790 658.5h1m11 0h1m2 0h1m14 0h2M825 659.5h2M791 660.5h1m34 0h2M792 661.5h1m1 0h1m2 0h2m20 0h1m2 0h2m11 0h2M801 662.5h2m13 0h1m9 0h1m4 0h1m6 0h1M810 663.5h2m13 0h1m1 0h1m2 0h1m1 0h1m1 0h2m3 0h1m1 0h1M814 664.5h1m18 0h1m10 0h4m1 0h1M813 665.5h1m3 0h2m3 0h2m8 0h1m6 0h1m11 0h4m36 0h2M817 666.5h1m9 0h1m12 0h1m6 0h1m1 0h1m5 0h1M667 673.5h1m41 0h1m1 0h1m3 0h3m2 0h2M712 674.5h2m8 0h1M716 675.5h2m2 0h1M719 676.5h1m2 0h2M724 677.5h1m2 0h1M725 678.5h1M726 679.5h1M727 680.5h1M778 759.5h1M782 760.5h1M788 767.5h1m2 0h1M792 768.5h1M791 770.5h3m4 0h2M798 772.5h2m1 0h1M800 773.5h1M807 774.5h1m3 0h1m1 0h2M805 775.5h1m4 0h1m1 0h1m2 0h2m5 0h3m2 0h1M807 776.5h1m10 0h1m1 0h2m6 0h1m3 0h1m3 0h1m8 0h2m13 0h1m27 0h1M806 777.5h1m13 0h1m15 0h1m26 0h1m21 0h1m20 0h1M840 778.5h2m8 0h1m8 0h1m6 0h2m1 0h1m11 0h1m1 0h1m21 0h1m1 0h2M849 779.5h1m8 0h1m9 0h1m5 0h1m2 0h1m2 0h1m22 0h1m5 0h1m1 0h1M853 780.5h1m20 0h1m23 0h1m1 0h2m12 0h1M855 781.5h1M646 782.5h1M643 783.5h3m2 0h1m45 0h1m6 0h1M642 784.5h1m53 0h4m2 0h2M709 785.5h1M712 787.5h1M713 788.5h1M715 789.5h1M722 792.5h1M783 827.5h2m10 0h4M782 828.5h1m11 0h3M779 829.5h2m4 0h2M778 830.5h1m3 0h1m4 0h1m17 0h2m1 0h2M775 831.5h1m4 0h1m8 0h1M773 832.5h1m2 0h3m7 0h1m3 0h1m2 0h2m12 0h1M775 833.5h1m11 0h1m20 0h2M773 834.5h2m17 0h2m1 0h3m11 0h4m2 0h3M788 836.5h1m8 0h3M789 837.5h1m8 0h1m1 0h1m18 0h3m3 0h2M790 838.5h1m12 0h1m22 0h2M802 839.5h2m5 0h1m7 0h2M791 840.5h1m12 0h2m1 0h2m20 0h2M793 841.5h1m1 0h1m15 0h1M797 842.5h1m14 0h2m12 0h4m1 0h3M798 843.5h1m1 0h1m13 0h1m15 0h1m3 0h1m50 0h2M643 844.5h1m155 0h1m19 0h1m4 0h1m10 0h1m1 0h1m1 0h1m24 0h2m1 0h1m19 0h2M643 845.5h1m5 0h1m151 0h2m14 0h2m2 0h1m16 0h1m1 0h2m1 0h1m17 0h4m1 0h1m18 0h2m2 0h1M643 846.5h1m160 0h2m1 0h2m11 0h1m21 0h1m15 0h1m11 0h2m10 0h1m4 0h1m2 0h2m1 0h1M637 847.5h2m4 0h1m4 0h2m159 0h2m36 0h4m4 0h1m1 0h1m14 0h1m9 0h1m1 0h1m3 0h2m3 0h2m14 0h1M637 848.5h2m4 0h1m4 0h2m163 0h1m13 0h1m3 0h1m1 0h1m17 0h3m10 0h1m25 0h1m4 0h1m2 0h2m6 0h1m4 0h2M635 849.5h8m1 0h1m2 0h1m1 0h1m178 0h1m1 0h1m3 0h1m27 0h2m10 0h1m5 0h1m12 0h1m3 0h1m2 0h1m2 0h1m1 0h1m3 0h1m4 0h2M633 850.5h3m13 0h2m184 0h1m11 0h1m11 0h1m9 0h3m22 0h2m3 0h1m1 0h2m3 0h2m4 0h1m6 0h1m1 0h2M630 851.5h3m18 0h2m168 0h1m15 0h2m1 0h2m6 0h1m6 0h1m1 0h2m13 0h1m2 0h1m3 0h1m2 0h1m12 0h1m1 0h2m4 0h1m4 0h1m2 0h1m1 0h1m3 0h1m5 0h2M628 852.5h1m1 0h2m21 0h1m164 0h1m1 0h1m18 0h1m2 0h1m7 0h4m19 0h1m2 0h2m1 0h1m21 0h2m13 0h1m2 0h2M629 853.5h2m22 0h4m1 0h1m184 0h1m10 0h1m19 0h2m5 0h1m35 0h2m3 0h1m1 0h1M630 854.5h2m20 0h3M630 855.5h3m18 0h3m223 0h1M632 856.5h3m16 0h2M634 857.5h5m1 0h1m4 0h5M637 858.5h2m3 0h1m1 0h1m3 0h2M637 859.5h2m9 0h2M637 860.5h1m5 0h1m4 0h2M643 861.5h1m4 0h2M638 862.5h1m4 0h1m4 0h1M643 863.5h1M784 882.5h1m2 0h1M781 883.5h1M786 884.5h1M782 885.5h1m7 0h1m3 0h2M788 886.5h1M789 887.5h1m8 0h2m6 0h2M792 888.5h1m11 0h2M790 889.5h1m3 0h1M794 890.5h1m5 0h2m7 0h2M792 891.5h2m14 0h2m6 0h2M792 892.5h1m3 0h1m1 0h2m10 0h2m1 0h2M794 893.5h1M802 894.5h1m4 0h1m8 0h2M796 895.5h1m1 0h1M811 896.5h1m4 0h1M797 897.5h1m1 0h1m1 0h2m2 0h1M805 898.5h2m12 0h1m2 0h1m6 0h1m7 0h1M808 899.5h1m3 0h1m4 0h1m10 0h1m7 0h1m49 0h1m3 0h1m1 0h1M814 900.5h2m3 0h1m6 0h1m12 0h2m8 0h1m1 0h1m2 0h1m1 0h1m1 0h1m3 0h1m1 0h2m1 0h1m1 0h1m15 0h1m22 0h1M831 901.5h1m4 0h1m1 0h1m5 0h1m3 0h1m8 0h1m12 0h1m20 0h1m8 0h1m2 0h2m1 0h1m4 0h1M660 902.5h2m4 0h1m154 0h2m4 0h1m2 0h1m4 0h1m3 0h2m2 0h1m7 0h1m1 0h2m1 0h1m1 0h1m1 0h2m2 0h6m2 0h1m10 0h1m6 0h1m3 0h1m12 0h1m8 0h4M629 903.5h1m1 0h2m3 0h1m1 0h2m15 0h2m185 0h1m2 0h1m3 0h1m7 0h1m16 0h1m7 0h1m16 0h3m2 0h1m1 0h1m1 0h1m2 0h1m9 0h3M627 904.5h1m13 0h1m1 0h1m6 0h3m21 0h1m201 0h2m3 0h1m2 0h1m20 0h1m10 0h1m2 0h1M626 905.5h1m18 0h1m232 0h2m3 0h1m36 0h1m1 0h1M628 906.5h7m2 0h1m20 0h4m2 0h1m1 0h1m208 0h2m3 0h1m43 0h1M638 907.5h2m13 0h1m2 0h1m11 0h1m3 0h4m201 0h2M641 908.5h1m8 0h2m17 0h1M645 909.5h1" stroke="#a0f088" stroke-width="1" fill="none"/>
<path d="M773 601.5h1M774 602.5h1M791 605.5h1M801 609.5h1m2 0h1M810 610.5h1M816 611.5h1m6 0h1M812 612.5h1M648 614.5h1m32 0h1M651 615.5h2m7 0h1m17 0h1m9 0h2M654 616.5h1m1 0h1m3 0h3m8 0h3m2 0h1m12 0h1m2 0h2M776 652.5h2m7 0h3M777 653.5h3m3 0h2m3 0h2M780 654.5h1m1 0h1m35 0h1M791 656.5h1M790 657.5h1m1 0h1M794 658.5h3m2 0h2M791 659.5h1m12 0h3M793 660.5h2m1 0h1m2 0h2m6 0h1M795 661.5h1m8 0h2M806 662.5h1m1 0h1m9 0h1m1 0h1m1 0h1m11 0h4M809 663.5h1m7 0h1m3 0h1m2 0h1m8 0h1m4 0h1M811 664.5h1m7 0h2m1 0h1m5 0h1m1 0h1m5 0h2M809 665.5h1m2 0h1m1 0h1m6 0h1m2 0h1m16 0h1m3 0h1m1 0h2M660 666.5h2m153 0h2m8 0h1m2 0h2m1 0h1m14 0h1m3 0h1M665 673.5h2m43 0h1M718 674.5h4M718 675.5h1m4 0h2M725 676.5h1M726 677.5h1M728 679.5h1M779 759.5h2M776 760.5h2m2 0h2m2 0h1M782 761.5h1m2 0h2M785 763.5h2M787 764.5h1M788 765.5h1M789 766.5h1M790 768.5h2M791 769.5h1m3 0h1M796 770.5h1M803 774.5h1m11 0h1M809 775.5h1m3 0h1m3 0h2m6 0h2M808 776.5h1m18 0h1m1 0h3m1 0h3m8 0h1m2 0h1m39 0h1m1 0h1M819 777.5h1m12 0h1m4 0h2m4 0h1m4 0h1m11 0h1m1 0h1m1 0h2m20 0h1M839 778.5h1m2 0h1m6 0h1m1 0h1m8 0h3m7 0h1m9 0h1m1 0h1m1 0h1m19 0h1m5 0h1M852 779.5h2m2 0h2m13 0h3m4 0h2m21 0h2m7 0h1m1 0h2M855 780.5h1m19 0h2m22 0h1M854 781.5h1M642 783.5h1m4 0h1m1 0h2M652 784.5h1m42 0h1m4 0h2M783 828.5h2M782 829.5h2M776 830.5h1m3 0h2m6 0h1m9 0h2M776 831.5h4m6 0h2m22 0h2M787 832.5h1m16 0h2m2 0h2M773 833.5h2m16 0h1m7 0h2m5 0h2M794 834.5h1m18 0h2M792 835.5h1m2 0h2M789 836.5h1M797 837.5h1m12 0h2m2 0h5M801 838.5h1m2 0h2m14 0h2M791 839.5h2m6 0h1m14 0h3M794 840.5h1m7 0h1m3 0h1m2 0h1m4 0h2M796 841.5h2m6 0h1m5 0h1M810 842.5h1M799 843.5h1m12 0h1m15 0h2m2 0h1m51 0h1M801 844.5h2m13 0h1m6 0h1m1 0h1m4 0h1m52 0h1M803 845.5h1m4 0h1m10 0h1m2 0h1m13 0h1m2 0h1m25 0h1m1 0h1m15 0h1m3 0h2M810 846.5h1m8 0h1m1 0h2m15 0h1m2 0h1m1 0h1m2 0h1m15 0h1m5 0h2m13 0h1m4 0h2M811 847.5h1m19 0h1m1 0h1m8 0h1m1 0h2m10 0h1m1 0h3m3 0h3m2 0h1m13 0h1m8 0h1M812 848.5h1m12 0h1m6 0h1m12 0h1m1 0h1m1 0h2m4 0h1m17 0h1m7 0h1m1 0h1m7 0h1m2 0h1m12 0h3M643 849.5h1m4 0h1m165 0h1m11 0h1m2 0h1m6 0h1m7 0h1m6 0h1m1 0h1m6 0h2m5 0h1m2 0h2m9 0h1m1 0h1m8 0h1m1 0h1m1 0h1m2 0h1m6 0h2m2 0h1m1 0h1M636 850.5h2m3 0h1m1 0h1m1 0h4m172 0h1m1 0h2m15 0h1m4 0h1m3 0h1m4 0h2m2 0h1m13 0h1m7 0h1m1 0h1m14 0h1m7 0h1m2 0h1m2 0h1m1 0h2m5 0h1M633 851.5h3m12 0h3m165 0h4m2 0h1m16 0h1m2 0h1m2 0h1m7 0h1m2 0h1m16 0h1m6 0h1m15 0h1m3 0h2m2 0h1m11 0h1m1 0h1M632 852.5h2m16 0h3m190 0h1m10 0h1m25 0h1m34 0h1m1 0h2m2 0h1m1 0h1M631 853.5h2m18 0h2m224 0h2m1 0h1M632 854.5h2m16 0h2m224 0h1m2 0h1m1 0h1M633 855.5h2m15 0h1m227 0h2M635 856.5h1m9 0h6M639 857.5h1m1 0h4M643 858.5h1M643 859.5h1M785 883.5h2m1 0h1M779 884.5h5m4 0h1M789 885.5h1M790 887.5h2M806 888.5h2M791 889.5h1m10 0h2m3 0h2M792 890.5h1m19 0h3M795 891.5h1M796 893.5h4m1 0h1M795 894.5h1m4 0h1m2 0h2M805 895.5h3M799 896.5h2m2 0h1m4 0h3M804 897.5h1m2 0h1m4 0h1m3 0h2M808 898.5h3m3 0h1m3 0h1m7 0h1m5 0h3M820 899.5h2m1 0h3m1 0h1m2 0h2m3 0h1m1 0h2M813 900.5h1m2 0h1m1 0h1m13 0h1m1 0h1m25 0h2m6 0h1m22 0h2m6 0h1M821 901.5h5m1 0h2m1 0h1m2 0h1m1 0h1m3 0h5m2 0h1m4 0h1m1 0h1m1 0h2m1 0h2m2 0h2m1 0h2m1 0h2m16 0h4m3 0h6m10 0h1M658 902.5h1m3 0h4m176 0h1m2 0h1m1 0h2m1 0h1m6 0h1m12 0h2m12 0h1m14 0h5m4 0h1m3 0h4M630 903.5h1m2 0h1m3 0h1m233 0h2m10 0h2m20 0h1m3 0h1m5 0h2m1 0h1m1 0h1M628 904.5h1m6 0h1m4 0h1m1 0h1m11 0h1m14 0h1m1 0h3m199 0h1m9 0h1m37 0h1m2 0h1M627 905.5h2m4 0h1m10 0h1m2 0h3m12 0h1m11 0h1m199 0h2M627 906.5h1m8 0h1m1 0h1m18 0h1m9 0h1m6 0h1m206 0h1M635 907.5h1m4 0h1m13 0h1m15 0h2m208 0h1M643 908.5h1m2 0h1m1 0h2M644 909.5h1" stroke="#88f070" stroke-width="1" fill="none"/>
<path d="M698 613.5h1M649 614.5h1m48 0h1M698 615.5h1M694 616.5h5M696 617.5h1M698 618.5h1M790 655.5h1M789 656.5h1M793 658.5h1m3 0h2M801 659.5h3M797 660.5h2M801 661.5h3M823 662.5h1M807 663.5h1m8 0h1m1 0h1m7 0h1m4 0h1m4 0h2M808 664.5h1m1 0h1m4 0h1m2 0h1m4 0h1m1 0h1m3 0h1m2 0h1m6 0h1m1 0h1M826 665.5h2m12 0h1m1 0h1m1 0h1m1 0h1m2 0h1M810 666.5h2m18 0h1m11 0h3m6 0h4M664 669.5h1m2 0h1M663 670.5h1M663 671.5h1m44 0h2M664 672.5h1m1 0h2m41 0h3M712 673.5h2M716 674.5h2M719 675.5h1m2 0h1M724 676.5h1M725 677.5h1M726 678.5h2M727 679.5h1M783 761.5h1M789 767.5h2M792 769.5h2M794 770.5h2m1 0h1M798 771.5h2M800 772.5h1M801 773.5h3M804 774.5h2M806 775.5h2M806 776.5h1M779 830.5h1m6 0h1M788 831.5h1M775 832.5h1m13 0h1M790 833.5h1M791 834.5h1M788 835.5h2m3 0h2M792 836.5h1m2 0h2M790 837.5h1M791 838.5h1m5 0h2m1 0h1M794 839.5h1M795 840.5h1m7 0h1M805 841.5h1m1 0h3M798 842.5h3m7 0h1m2 0h1M806 843.5h1m6 0h1m12 0h2m3 0h1m1 0h1M803 844.5h1m2 0h1m1 0h1m6 0h1m10 0h1m1 0h2m2 0h1m1 0h1m50 0h2M804 845.5h2m1 0h1m8 0h1m6 0h3m9 0h1m1 0h1m46 0h1M809 846.5h1m1 0h1m5 0h2m20 0h2m20 0h1m1 0h2m1 0h1M813 847.5h1m1 0h1m4 0h1m4 0h1m1 0h1m4 0h1m10 0h1m2 0h1m23 0h2m18 0h2M814 848.5h2m10 0h1m1 0h1m1 0h1m3 0h1m1 0h1m7 0h1m3 0h1m7 0h2m3 0h3m3 0h2m3 0h1m9 0h1m9 0h2M821 849.5h1m1 0h2m10 0h1m13 0h2m1 0h1m6 0h1m8 0h2m3 0h1m8 0h1m12 0h1m2 0h1m12 0h1M638 850.5h3m1 0h1m1 0h1m172 0h1m4 0h1m14 0h3m1 0h1m4 0h1m1 0h1m4 0h1m2 0h2m16 0h1m6 0h1m14 0h1m1 0h1m1 0h1m2 0h1m11 0h1M636 851.5h3m7 0h2m172 0h1m29 0h3m28 0h1m20 0h1m12 0h1m3 0h4M634 852.5h2m13 0h1m224 0h2m46 0h1m1 0h1M633 853.5h2m15 0h1m225 0h1M648 854.5h2m227 0h2m1 0h1M635 855.5h2m11 0h2M636 856.5h6m1 0h2M784 883.5h1m2 0h1M789 886.5h1M791 888.5h1M793 889.5h1M793 892.5h1m1 0h1M796 894.5h2m3 0h1M800 895.5h1m1 0h1M797 896.5h1m3 0h2m1 0h2M806 897.5h1m2 0h3M813 898.5h1m2 0h1M814 899.5h3m2 0h1m2 0h1m3 0h1m2 0h1m3 0h1M820 900.5h1m7 0h1m7 0h1m1 0h1m47 0h1m3 0h1M820 901.5h1m8 0h1m19 0h1m2 0h1m1 0h1m5 0h2m2 0h1m2 0h1m17 0h1m4 0h1m8 0h1m7 0h2M849 902.5h1m54 0h1m1 0h1m4 0h1M657 903.5h1m3 0h1m5 0h1m242 0h1m6 0h1m1 0h1M629 904.5h1m3 0h2m1 0h2m15 0h1m14 0h1m1 0h1m203 0h1m7 0h1m37 0h1m1 0h2M629 905.5h4m1 0h4m8 0h1m5 0h1m5 0h1m2 0h1m1 0h3m6 0h1m203 0h2m3 0h2m41 0h1M639 906.5h1m13 0h1m1 0h1m12 0h1m3 0h2m203 0h3M641 907.5h2m8 0h2m16 0h1M647 908.5h1" stroke="#88f070" stroke-width="1" fill="none"/>
<path d="M698 617.5h1M788 654.5h2M789 655.5h1M790 656.5h1M791 657.5h1M791 658.5h2M793 659.5h4m2 0h2M792 660.5h1m2 0h1m6 0h5M806 661.5h2M807 662.5h1m11 0h1M808 663.5h1m10 0h2m1 0h1M809 664.5h1m6 0h2m3 0h1m2 0h1m1 0h2m3 0h1M811 665.5h1m3 0h2m8 0h1m2 0h2m1 0h1M812 666.5h3M813 667.5h1M665 669.5h2M668 670.5h1M668 671.5h1M665 672.5h1M789 833.5h1M788 834.5h1M791 835.5h1M790 836.5h1M791 837.5h1m4 0h1M792 838.5h1M793 839.5h1m1 0h1m4 0h2M793 840.5h1m2 0h2m1 0h1M798 841.5h1m1 0h1m1 0h2m2 0h1M804 842.5h2m1 0h1m1 0h1M801 843.5h2m7 0h1M804 844.5h1m8 0h2m12 0h1m3 0h1m1 0h1M815 845.5h1m13 0h2m3 0h1M812 846.5h1m10 0h1m1 0h1m1 0h1m3 0h1m1 0h1m1 0h3m27 0h1m1 0h1M812 847.5h1m4 0h2m2 0h1m6 0h1m1 0h1m3 0h1m3 0h1m1 0h2m19 0h3m3 0h2M823 848.5h1m5 0h1m5 0h1m6 0h1m15 0h3m8 0h3M817 849.5h1m19 0h2m1 0h2m3 0h4m6 0h4m13 0h1m35 0h1M816 850.5h1m1 0h3m21 0h1m7 0h3m20 0h1M639 851.5h7m197 0h1m10 0h1m19 0h1M636 852.5h2m8 0h3M635 853.5h2m11 0h2M634 854.5h3m10 0h1M637 855.5h2m5 0h4M642 856.5h1M792 889.5h1M793 890.5h1M794 891.5h1M795 893.5h1M798 894.5h2M797 895.5h1m1 0h1m3 0h2M806 896.5h2M808 897.5h1M812 898.5h1m4 0h1M813 899.5h1m4 0h1m13 0h1m1 0h1M821 900.5h5m1 0h1m1 0h3m1 0h1m1 0h1M909 902.5h1M658 903.5h3m4 0h2M630 904.5h3m5 0h2m15 0h2M638 905.5h1m2 0h1m1 0h1m6 0h2m1 0h1m5 0h1m6 0h1m1 0h2m3 0h1M635 906.5h1m4 0h1m1 0h1m1 0h2m1 0h1m4 0h1m3 0h1m14 0h1M650 907.5h1M644 908.5h2" stroke="#88f070" stroke-width="1" fill="none"/>
<path d="M792 659.5h1m4 0h2M801 660.5h1M823 663.5h1M810 665.5h1m19 0h1M664 670.5h1m2 0h1M664 671.5h1m2 0h1M788 832.5h1M789 834.5h2M793 836.5h2M792 837.5h1m2 0h1M794 838.5h1M796 839.5h3M799 841.5h1M801 842.5h3m2 0h1M803 843.5h3m2 0h2m1 0h1M805 844.5h1m1 0h1m4 0h1M809 845.5h3m2 0h1m11 0h3m2 0h3M813 846.5h1m1 0h2m7 0h1m5 0h1m1 0h1m1 0h1M814 847.5h1m4 0h1m2 0h1m3 0h1m2 0h1m6 0h1m2 0h1M818 848.5h1m1 0h2m2 0h1m15 0h1m2 0h1m2 0h1M816 849.5h1m1 0h2m2 0h1m16 0h1m2 0h1M843 850.5h1M638 852.5h2m4 0h2M637 853.5h1m7 0h3M637 854.5h3m5 0h2M639 855.5h5M794 892.5h1M801 895.5h1M662 903.5h3M658 904.5h2m1 0h6M639 905.5h2m1 0h1m11 0h4m2 0h1m9 0h2M641 906.5h1m4 0h1m1 0h4m2 0h1m14 0h2M643 907.5h1m2 0h4" stroke="#88f070" stroke-width="1" fill="none"/>
<path d="M665 670.5h2M665 671.5h2M788 833.5h1M790 835.5h1M791 836.5h1M793 837.5h2M793 838.5h1m1 0h2M798 840.5h1m1 0h2M801 841.5h1M807 843.5h1M809 844.5h3M812 845.5h2M814 846.5h1m11 0h1m1 0h2M816 847.5h1m6 0h2m10 0h1m1 0h1M816 848.5h2m1 0h1m2 0h1m14 0h3m1 0h1M820 849.5h1m22 0h1M640 852.5h4M638 853.5h7M640 854.5h5M657 904.5h1m2 0h1m6 0h1M667 905.5h1M643 906.5h1M644 907.5h2" stroke="#88f070" stroke-width="1" fill="none"/>
</g>
<rect x="152.5" y="583.5" width="773" height="356" fill="none" stroke="#262626" stroke-width="1.3"/>
<path d="M247.5 583v7.5M247.5 939.5v-7.5M344.5 583v7.5M344.5 939.5v-7.5M441.5 583v7.5M441.5 939.5v-7.5M538.5 583v7.5M538.5 939.5v-7.5M635.5 583v7.5M635.5 939.5v-7.5M732.5 583v7.5M732.5 939.5v-7.5M829.5 583v7.5M829.5 939.5v-7.5M152 611.3h7.5M925.5 611.3h-7.5M152 682.9h7.5M925.5 682.9h-7.5M152 754.4h7.5M925.5 754.4h-7.5M152 826.0h7.5M925.5 826.0h-7.5M152 897.6h7.5M925.5 897.6h-7.5" stroke="#262626" stroke-width="1.3" fill="none"/>
<rect x="956" y="80" width="44" height="359" fill="url(#jetg)"/>
<rect x="956.5" y="80.5" width="43" height="358" fill="none" stroke="#262626" stroke-width="1"/>
<rect x="956" y="583" width="44" height="357" fill="url(#jetg)"/>
<rect x="956.5" y="583.5" width="43" height="356" fill="none" stroke="#262626" stroke-width="1"/>
<path d="M999.5 166.1h-3.5M999.5 251.1h-3.5M999.5 336.5h-3.5M999.5 662.6h-3.5M999.5 761.4h-3.5M999.5 860.2h-3.5" stroke="#262626" stroke-width="1.2" fill="none"/>
<text class="t" x="538.5" y="72" text-anchor="middle" xml:space="preserve">a) log(I); f=3.59 MHz;  lat=50.04; long=14.48; 2026 01 12</text>
<text class="t" x="538.5" y="573" text-anchor="middle" xml:space="preserve">b) DCP(<tspan font-size="20.5" dy="-12.5">o</tspan><tspan dy="12.5">); f=3.59 MHz;  lat=50.04; long=14.48; 2026 01 12</tspan></text>
<text class="lb" transform="translate(90 261.3) rotate(-90)" text-anchor="middle">frequency [Hz]</text>
<text class="lb" x="539.3" y="514" text-anchor="middle">hour of day [UT]</text>
<text class="tk" x="247.5" y="475" text-anchor="middle">1</text>
<text class="tk" x="344.5" y="475" text-anchor="middle">2</text>
<text class="tk" x="441.5" y="475" text-anchor="middle">3</text>
<text class="tk" x="538.5" y="475" text-anchor="middle">4</text>
<text class="tk" x="635.5" y="475" text-anchor="middle">5</text>
<text class="tk" x="732.5" y="475" text-anchor="middle">6</text>
<text class="tk" x="829.5" y="475" text-anchor="middle">7</text>
<text class="tk" x="926.5" y="475" text-anchor="middle">8</text>
<text class="lb" transform="translate(90 762.3) rotate(-90)" text-anchor="middle">frequency [Hz]</text>
<text class="lb" x="539.3" y="1015" text-anchor="middle">hour of day [UT]</text>
<text class="tk" x="247.5" y="976" text-anchor="middle">1</text>
<text class="tk" x="344.5" y="976" text-anchor="middle">2</text>
<text class="tk" x="441.5" y="976" text-anchor="middle">3</text>
<text class="tk" x="538.5" y="976" text-anchor="middle">4</text>
<text class="tk" x="635.5" y="976" text-anchor="middle">5</text>
<text class="tk" x="732.5" y="976" text-anchor="middle">6</text>
<text class="tk" x="829.5" y="976" text-anchor="middle">7</text>
<text class="tk" x="926.5" y="976" text-anchor="middle">8</text>
<text class="tk" x="142.5" y="121.0" text-anchor="end">10</text>
<text class="tk" x="142.5" y="192.6" text-anchor="end">5</text>
<text class="tk" x="142.5" y="264.1" text-anchor="end">0</text>
<text class="tk" x="142.5" y="335.7" text-anchor="end">-5</text>
<text class="tk" x="142.5" y="407.3" text-anchor="end">-10</text>
<text class="tk" x="142.5" y="622.3" text-anchor="end">10</text>
<text class="tk" x="142.5" y="693.9" text-anchor="end">5</text>
<text class="tk" x="142.5" y="765.4" text-anchor="end">0</text>
<text class="tk" x="142.5" y="837.0" text-anchor="end">-5</text>
<text class="tk" x="142.5" y="908.6" text-anchor="end">-10</text>
<text class="cb" x="1010" y="90.3">7</text>
<text class="cb" x="1010" y="174.6">6.5</text>
<text class="cb" x="1010" y="259.6">6</text>
<text class="cb" x="1010" y="345.0">5.5</text>
<text class="cb" x="1010" y="431.2">5</text>
<text class="cb" x="1010" y="671.1">50</text>
<text class="cb" x="1010" y="769.9">0</text>
<text class="cb" x="1010" y="868.7">-50</text>
</svg></body></html>
